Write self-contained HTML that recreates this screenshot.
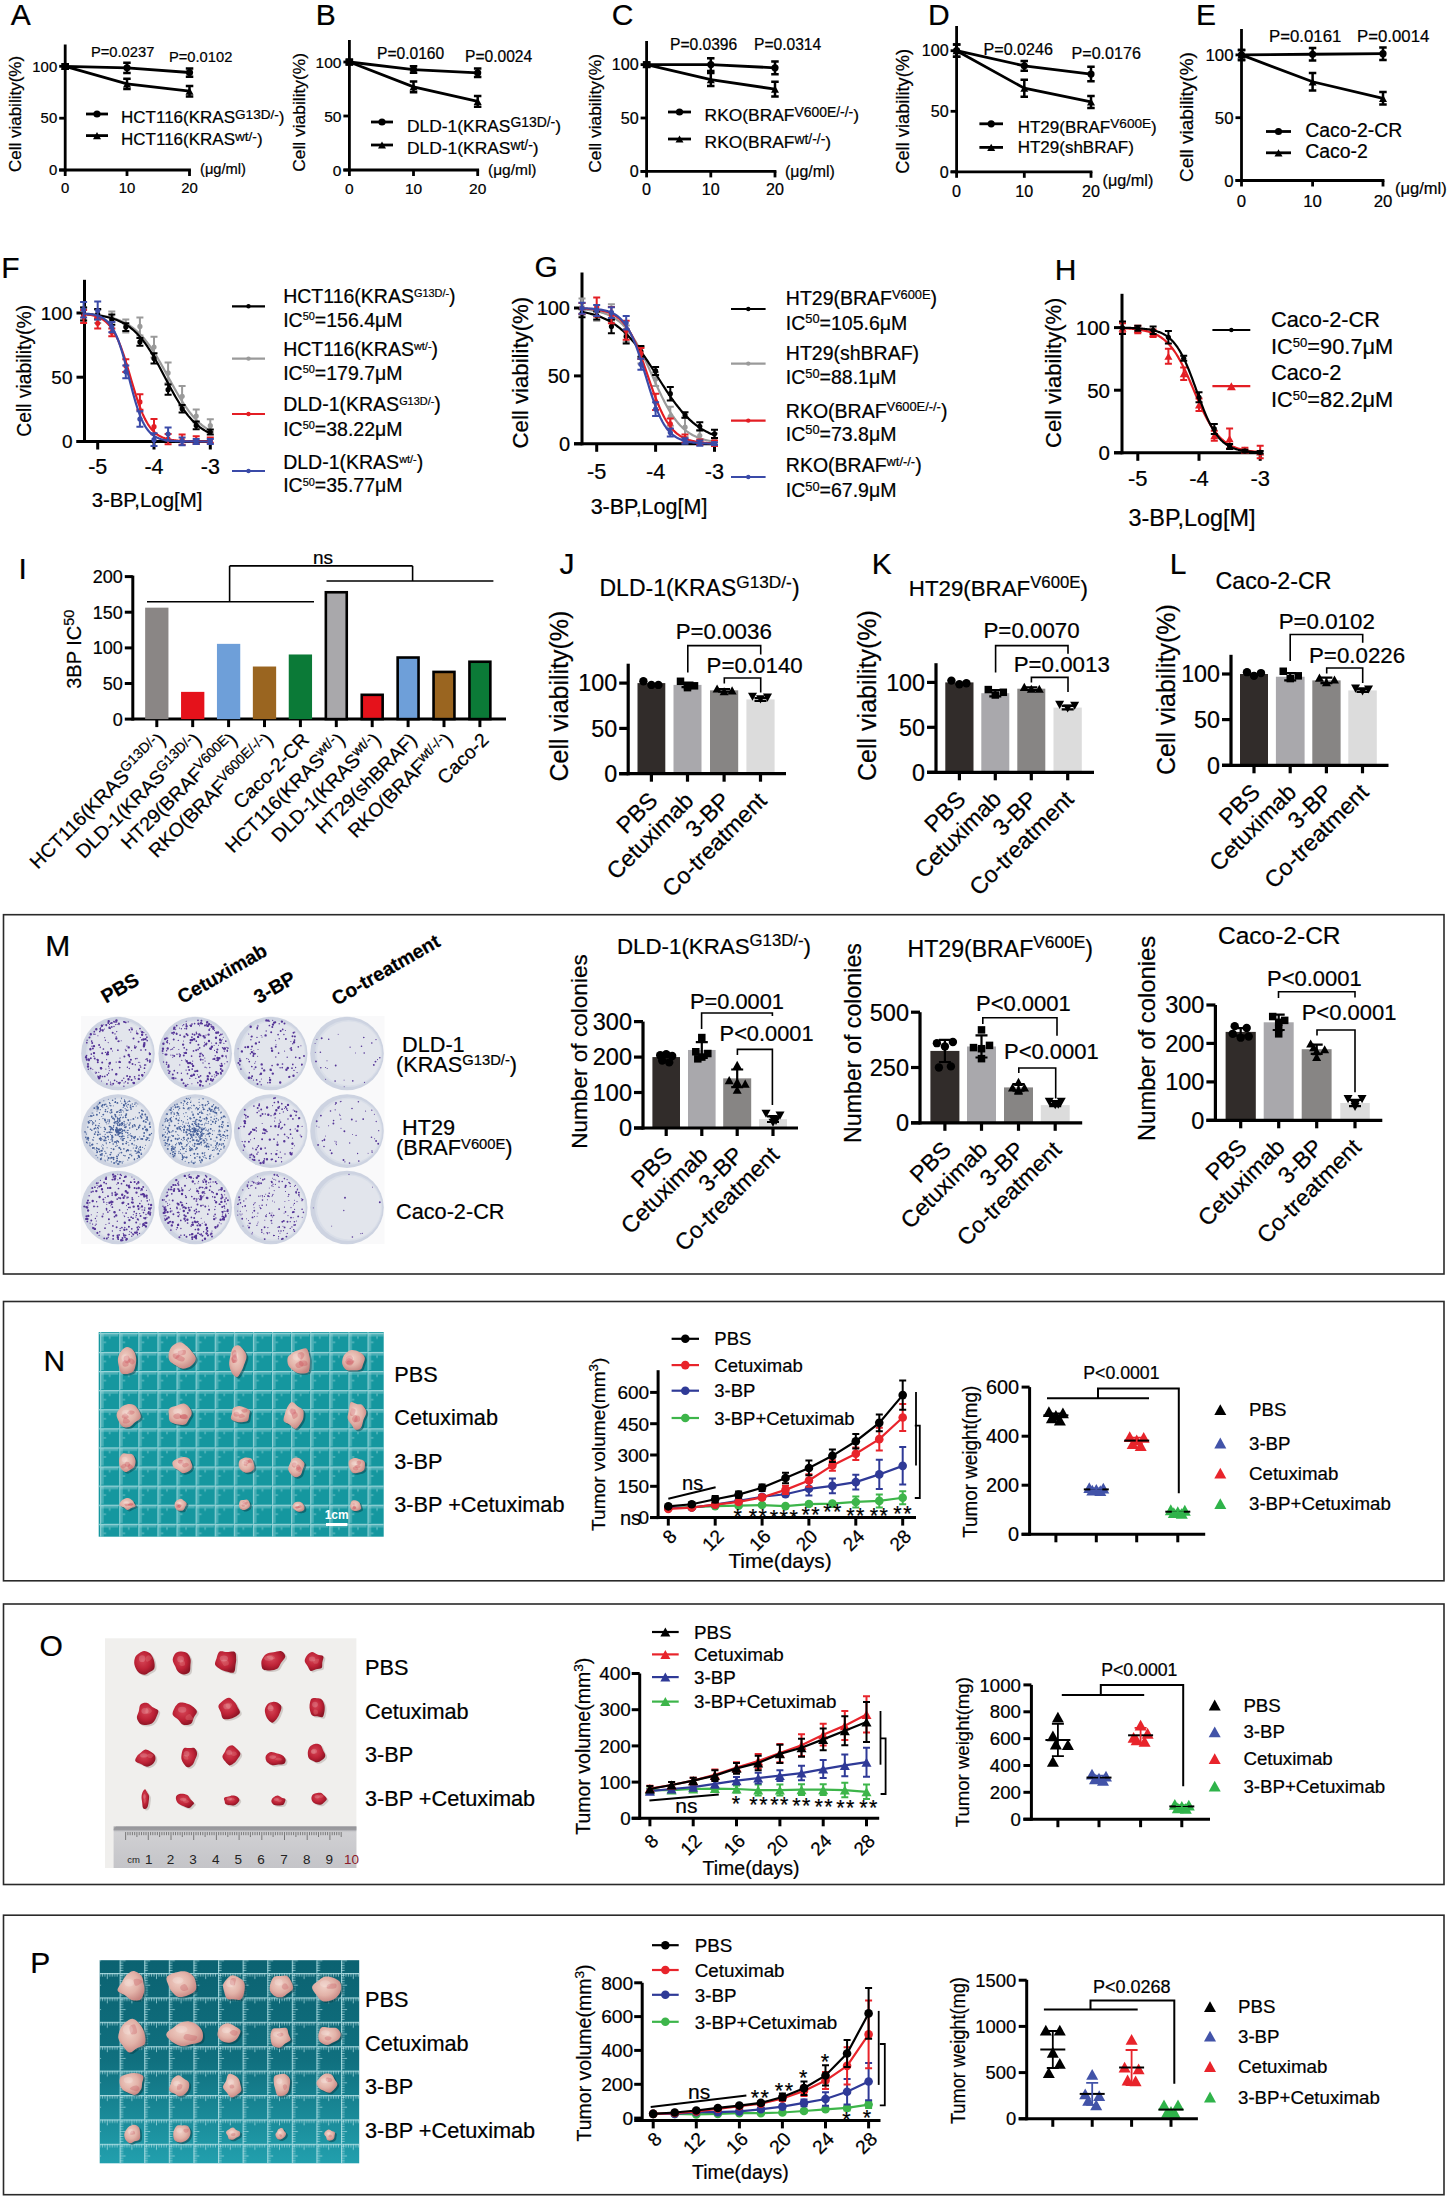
<!DOCTYPE html>
<html><head><meta charset="utf-8"><style>
html,body{margin:0;padding:0;background:#fff;}
svg{display:block;font-family:"Liberation Sans", sans-serif;}
</style></head><body>
<svg width="1449" height="2200" viewBox="0 0 1449 2200">
<rect width="1449" height="2200" fill="#fff"/>
<text x="10.80" y="24.60" font-size="30" stroke="#000" stroke-width="0.22">A</text>
<path d="M65.2 44.5L65.2 171.4" stroke="#000" stroke-width="2.8"/>
<path d="M59.2 170.0L190.9 170.0" stroke="#000" stroke-width="2.8"/>
<path d="M59.2 170.0L65.2 170.0" stroke="#000" stroke-width="2.8"/>
<text x="57.20" y="170.00" font-size="14.9" dy="5.33" text-anchor="end" stroke="#000" stroke-width="0.22">0</text>
<path d="M59.2 118.2L65.2 118.2" stroke="#000" stroke-width="2.8"/>
<text x="57.20" y="118.15" font-size="14.9" dy="5.33" text-anchor="end" stroke="#000" stroke-width="0.22">50</text>
<path d="M59.2 66.3L65.2 66.3" stroke="#000" stroke-width="2.8"/>
<text x="57.20" y="66.30" font-size="14.9" dy="5.33" text-anchor="end" stroke="#000" stroke-width="0.22">100</text>
<path d="M65.2 170.0L65.2 176.0" stroke="#000" stroke-width="2.8"/>
<text x="65.20" y="192.50" font-size="14.9" text-anchor="middle" stroke="#000" stroke-width="0.22">0</text>
<path d="M127.0 170.0L127.0 176.0" stroke="#000" stroke-width="2.8"/>
<text x="127.00" y="192.50" font-size="14.9" text-anchor="middle" stroke="#000" stroke-width="0.22">10</text>
<path d="M189.5 170.0L189.5 176.0" stroke="#000" stroke-width="2.8"/>
<text x="189.50" y="192.50" font-size="14.9" text-anchor="middle" stroke="#000" stroke-width="0.22">20</text>
<polyline points="65.20,66.30 127.00,67.86 189.50,72.52" fill="none" stroke="#000" stroke-width="2.8" stroke-linejoin="miter"/>
<path d="M65.2 64.2V68.4M61.5 64.2h7.5M61.5 68.4h7.5" stroke="#000" stroke-width="2.5" fill="none"/>
<circle cx="65.20" cy="66.30" r="3.60" fill="#000"/>
<path d="M127.0 62.7V73.0M123.2 62.7h7.5M123.2 73.0h7.5" stroke="#000" stroke-width="2.5" fill="none"/>
<circle cx="127.00" cy="67.86" r="3.60" fill="#000"/>
<path d="M189.5 68.4V76.7M185.8 68.4h7.5M185.8 76.7h7.5" stroke="#000" stroke-width="2.5" fill="none"/>
<circle cx="189.50" cy="72.52" r="3.60" fill="#000"/>
<polyline points="65.20,66.30 127.00,83.93 189.50,91.19" fill="none" stroke="#000" stroke-width="2.8" stroke-linejoin="miter"/>
<path d="M65.2 64.2V68.4M61.5 64.2h7.5M61.5 68.4h7.5" stroke="#000" stroke-width="2.5" fill="none"/>
<polygon points="61.20,69.90 69.20,69.90 65.20,62.70" fill="#000"/>
<path d="M127.0 78.7V89.1M123.2 78.7h7.5M123.2 89.1h7.5" stroke="#000" stroke-width="2.5" fill="none"/>
<polygon points="123.00,87.53 131.00,87.53 127.00,80.33" fill="#000"/>
<path d="M189.5 86.0V96.4M185.8 86.0h7.5M185.8 96.4h7.5" stroke="#000" stroke-width="2.5" fill="none"/>
<polygon points="185.50,94.79 193.50,94.79 189.50,87.59" fill="#000"/>
<text x="91.00" y="57.00" font-size="14.7" stroke="#000" stroke-width="0.22">P=0.0237</text>
<text x="169.00" y="62.10" font-size="14.7" stroke="#000" stroke-width="0.22">P=0.0102</text>
<path d="M86.0 114.0L108.0 114.0" stroke="#000" stroke-width="2.8"/>
<circle cx="97.00" cy="114.00" r="3.60" fill="#000"/>
<path d="M86.0 135.6L108.0 135.6" stroke="#000" stroke-width="2.8"/>
<polygon points="93.00,139.20 101.00,139.20 97.00,132.00" fill="#000"/>
<text x="121.00" y="123.20" font-size="17" stroke="#000" stroke-width="0.22">HCT116(KRAS<tspan dy="-4.08" font-size="13.6">G13D/-</tspan><tspan dy="4.08">)</tspan></text>
<text x="121.00" y="145.00" font-size="17" stroke="#000" stroke-width="0.22">HCT116(KRAS<tspan dy="-4.08" font-size="13.6">wt/-</tspan><tspan dy="4.08">)</tspan></text>
<text x="15.00" y="114.00" font-size="17" dy="6.09" text-anchor="middle" stroke="#000" stroke-width="0.22" transform="rotate(-90 15.00 114.00)">Cell viability(%)</text>
<text x="200.00" y="174.00" font-size="14.7" stroke="#000" stroke-width="0.22">(μg/ml)</text>
<text x="315.70" y="25.00" font-size="30" stroke="#000" stroke-width="0.22">B</text>
<path d="M349.4 40.0L349.4 171.4" stroke="#000" stroke-width="2.8"/>
<path d="M343.4 170.0L479.1 170.0" stroke="#000" stroke-width="2.8"/>
<path d="M343.4 170.0L349.4 170.0" stroke="#000" stroke-width="2.8"/>
<text x="341.40" y="170.00" font-size="15.5" dy="5.55" text-anchor="end" stroke="#000" stroke-width="0.22">0</text>
<path d="M343.4 116.0L349.4 116.0" stroke="#000" stroke-width="2.8"/>
<text x="341.40" y="116.00" font-size="15.5" dy="5.55" text-anchor="end" stroke="#000" stroke-width="0.22">50</text>
<path d="M343.4 62.0L349.4 62.0" stroke="#000" stroke-width="2.8"/>
<text x="341.40" y="62.00" font-size="15.5" dy="5.55" text-anchor="end" stroke="#000" stroke-width="0.22">100</text>
<path d="M349.4 170.0L349.4 176.0" stroke="#000" stroke-width="2.8"/>
<text x="349.40" y="193.60" font-size="15.5" text-anchor="middle" stroke="#000" stroke-width="0.22">0</text>
<path d="M413.5 170.0L413.5 176.0" stroke="#000" stroke-width="2.8"/>
<text x="413.50" y="193.60" font-size="15.5" text-anchor="middle" stroke="#000" stroke-width="0.22">10</text>
<path d="M477.7 170.0L477.7 176.0" stroke="#000" stroke-width="2.8"/>
<text x="477.70" y="193.60" font-size="15.5" text-anchor="middle" stroke="#000" stroke-width="0.22">20</text>
<polyline points="349.40,62.00 413.50,69.56 477.70,72.80" fill="none" stroke="#000" stroke-width="2.8" stroke-linejoin="miter"/>
<path d="M349.4 59.8V64.2M345.6 59.8h7.5M345.6 64.2h7.5" stroke="#000" stroke-width="2.5" fill="none"/>
<circle cx="349.40" cy="62.00" r="3.60" fill="#000"/>
<path d="M413.5 66.3V72.8M409.8 66.3h7.5M409.8 72.8h7.5" stroke="#000" stroke-width="2.5" fill="none"/>
<circle cx="413.50" cy="69.56" r="3.60" fill="#000"/>
<path d="M477.7 68.5V77.1M473.9 68.5h7.5M473.9 77.1h7.5" stroke="#000" stroke-width="2.5" fill="none"/>
<circle cx="477.70" cy="72.80" r="3.60" fill="#000"/>
<polyline points="349.40,62.00 413.50,86.84 477.70,101.42" fill="none" stroke="#000" stroke-width="2.8" stroke-linejoin="miter"/>
<path d="M349.4 59.8V64.2M345.6 59.8h7.5M345.6 64.2h7.5" stroke="#000" stroke-width="2.5" fill="none"/>
<polygon points="345.40,65.60 353.40,65.60 349.40,58.40" fill="#000"/>
<path d="M413.5 81.4V92.2M409.8 81.4h7.5M409.8 92.2h7.5" stroke="#000" stroke-width="2.5" fill="none"/>
<polygon points="409.50,90.44 417.50,90.44 413.50,83.24" fill="#000"/>
<path d="M477.7 96.0V106.8M473.9 96.0h7.5M473.9 106.8h7.5" stroke="#000" stroke-width="2.5" fill="none"/>
<polygon points="473.70,105.02 481.70,105.02 477.70,97.82" fill="#000"/>
<text x="377.00" y="59.00" font-size="15.6" stroke="#000" stroke-width="0.22">P=0.0160</text>
<text x="465.00" y="62.10" font-size="15.6" stroke="#000" stroke-width="0.22">P=0.0024</text>
<path d="M371.0 122.0L393.0 122.0" stroke="#000" stroke-width="2.8"/>
<circle cx="382.00" cy="122.00" r="3.60" fill="#000"/>
<path d="M371.0 145.0L393.0 145.0" stroke="#000" stroke-width="2.8"/>
<polygon points="378.00,148.60 386.00,148.60 382.00,141.40" fill="#000"/>
<text x="407.00" y="131.50" font-size="17.4" stroke="#000" stroke-width="0.22">DLD-1(KRAS<tspan dy="-4.18" font-size="13.92">G13D/-</tspan><tspan dy="4.18">)</tspan></text>
<text x="407.00" y="154.20" font-size="17.4" stroke="#000" stroke-width="0.22">DLD-1(KRAS<tspan dy="-4.18" font-size="13.92">wt/-</tspan><tspan dy="4.18">)</tspan></text>
<text x="298.60" y="112.30" font-size="17.4" dy="6.23" text-anchor="middle" stroke="#000" stroke-width="0.22" transform="rotate(-90 298.60 112.30)">Cell viability(%)</text>
<text x="488.00" y="175.00" font-size="15.5" stroke="#000" stroke-width="0.22">(μg/ml)</text>
<text x="611.80" y="25.00" font-size="30" stroke="#000" stroke-width="0.22">C</text>
<path d="M646.6 41.0L646.6 172.8" stroke="#000" stroke-width="2.8"/>
<path d="M640.6 171.4L776.4 171.4" stroke="#000" stroke-width="2.8"/>
<path d="M640.6 171.4L646.6 171.4" stroke="#000" stroke-width="2.8"/>
<text x="638.60" y="171.40" font-size="16.1" dy="5.76" text-anchor="end" stroke="#000" stroke-width="0.22">0</text>
<path d="M640.6 118.0L646.6 118.0" stroke="#000" stroke-width="2.8"/>
<text x="638.60" y="118.00" font-size="16.1" dy="5.76" text-anchor="end" stroke="#000" stroke-width="0.22">50</text>
<path d="M640.6 64.6L646.6 64.6" stroke="#000" stroke-width="2.8"/>
<text x="638.60" y="64.60" font-size="16.1" dy="5.76" text-anchor="end" stroke="#000" stroke-width="0.22">100</text>
<path d="M646.6 171.4L646.6 177.4" stroke="#000" stroke-width="2.8"/>
<text x="646.60" y="194.60" font-size="16.1" text-anchor="middle" stroke="#000" stroke-width="0.22">0</text>
<path d="M710.8 171.4L710.8 177.4" stroke="#000" stroke-width="2.8"/>
<text x="710.80" y="194.60" font-size="16.1" text-anchor="middle" stroke="#000" stroke-width="0.22">10</text>
<path d="M775.0 171.4L775.0 177.4" stroke="#000" stroke-width="2.8"/>
<text x="775.00" y="194.60" font-size="16.1" text-anchor="middle" stroke="#000" stroke-width="0.22">20</text>
<polyline points="646.60,64.60 710.80,64.60 775.00,67.80" fill="none" stroke="#000" stroke-width="2.8" stroke-linejoin="miter"/>
<path d="M646.6 62.5V66.7M642.9 62.5h7.5M642.9 66.7h7.5" stroke="#000" stroke-width="2.5" fill="none"/>
<circle cx="646.60" cy="64.60" r="3.60" fill="#000"/>
<path d="M710.8 58.2V71.0M707.0 58.2h7.5M707.0 71.0h7.5" stroke="#000" stroke-width="2.5" fill="none"/>
<circle cx="710.80" cy="64.60" r="3.60" fill="#000"/>
<path d="M775.0 61.4V74.2M771.2 61.4h7.5M771.2 74.2h7.5" stroke="#000" stroke-width="2.5" fill="none"/>
<circle cx="775.00" cy="67.80" r="3.60" fill="#000"/>
<polyline points="646.60,64.60 710.80,79.55 775.00,89.16" fill="none" stroke="#000" stroke-width="2.8" stroke-linejoin="miter"/>
<path d="M646.6 62.5V66.7M642.9 62.5h7.5M642.9 66.7h7.5" stroke="#000" stroke-width="2.5" fill="none"/>
<polygon points="642.60,68.20 650.60,68.20 646.60,61.00" fill="#000"/>
<path d="M710.8 73.1V86.0M707.0 73.1h7.5M707.0 86.0h7.5" stroke="#000" stroke-width="2.5" fill="none"/>
<polygon points="706.80,83.15 714.80,83.15 710.80,75.95" fill="#000"/>
<path d="M775.0 81.7V96.6M771.2 81.7h7.5M771.2 96.6h7.5" stroke="#000" stroke-width="2.5" fill="none"/>
<polygon points="771.00,92.76 779.00,92.76 775.00,85.56" fill="#000"/>
<text x="670.00" y="49.70" font-size="15.6" stroke="#000" stroke-width="0.22">P=0.0396</text>
<text x="754.00" y="49.70" font-size="15.6" stroke="#000" stroke-width="0.22">P=0.0314</text>
<path d="M668.0 112.0L691.0 112.0" stroke="#000" stroke-width="2.8"/>
<circle cx="679.50" cy="112.00" r="3.60" fill="#000"/>
<path d="M668.0 139.0L691.0 139.0" stroke="#000" stroke-width="2.8"/>
<polygon points="675.50,142.60 683.50,142.60 679.50,135.40" fill="#000"/>
<text x="704.60" y="121.10" font-size="17.4" stroke="#000" stroke-width="0.22">RKO(BRAF<tspan dy="-4.18" font-size="13.92">V600E/-/-</tspan><tspan dy="4.18">)</tspan></text>
<text x="704.60" y="148.00" font-size="17.4" stroke="#000" stroke-width="0.22">RKO(BRAF<tspan dy="-4.18" font-size="13.92">wt/-/-</tspan><tspan dy="4.18">)</tspan></text>
<text x="594.80" y="113.40" font-size="17.4" dy="6.23" text-anchor="middle" stroke="#000" stroke-width="0.22" transform="rotate(-90 594.80 113.40)">Cell viability(%)</text>
<text x="785.00" y="177.00" font-size="15.9" stroke="#000" stroke-width="0.22">(μg/ml)</text>
<text x="928.00" y="25.00" font-size="30" stroke="#000" stroke-width="0.22">D</text>
<path d="M956.6 26.0L956.6 173.2" stroke="#000" stroke-width="2.8"/>
<path d="M950.6 171.8L1092.4 171.8" stroke="#000" stroke-width="2.8"/>
<path d="M950.6 171.8L956.6 171.8" stroke="#000" stroke-width="2.8"/>
<text x="948.60" y="171.80" font-size="16.1" dy="5.76" text-anchor="end" stroke="#000" stroke-width="0.22">0</text>
<path d="M950.6 111.3L956.6 111.3" stroke="#000" stroke-width="2.8"/>
<text x="948.60" y="111.25" font-size="16.1" dy="5.76" text-anchor="end" stroke="#000" stroke-width="0.22">50</text>
<path d="M950.6 50.7L956.6 50.7" stroke="#000" stroke-width="2.8"/>
<text x="948.60" y="50.70" font-size="16.1" dy="5.76" text-anchor="end" stroke="#000" stroke-width="0.22">100</text>
<path d="M956.6 171.8L956.6 177.8" stroke="#000" stroke-width="2.8"/>
<text x="956.60" y="196.70" font-size="16.1" text-anchor="middle" stroke="#000" stroke-width="0.22">0</text>
<path d="M1024.3 171.8L1024.3 177.8" stroke="#000" stroke-width="2.8"/>
<text x="1024.30" y="196.70" font-size="16.1" text-anchor="middle" stroke="#000" stroke-width="0.22">10</text>
<path d="M1091.0 171.8L1091.0 177.8" stroke="#000" stroke-width="2.8"/>
<text x="1091.00" y="196.70" font-size="16.1" text-anchor="middle" stroke="#000" stroke-width="0.22">20</text>
<polyline points="956.60,50.70 1024.30,65.84 1091.00,74.07" fill="none" stroke="#000" stroke-width="2.8" stroke-linejoin="miter"/>
<path d="M956.6 44.6V56.8M952.9 44.6h7.5M952.9 56.8h7.5" stroke="#000" stroke-width="2.5" fill="none"/>
<circle cx="956.60" cy="50.70" r="3.60" fill="#000"/>
<path d="M1024.3 61.0V70.7M1020.5 61.0h7.5M1020.5 70.7h7.5" stroke="#000" stroke-width="2.5" fill="none"/>
<circle cx="1024.30" cy="65.84" r="3.60" fill="#000"/>
<path d="M1091.0 66.8V81.3M1087.2 66.8h7.5M1087.2 81.3h7.5" stroke="#000" stroke-width="2.5" fill="none"/>
<circle cx="1091.00" cy="74.07" r="3.60" fill="#000"/>
<polyline points="956.60,50.70 1024.30,88.24 1091.00,101.93" fill="none" stroke="#000" stroke-width="2.8" stroke-linejoin="miter"/>
<path d="M956.6 44.6V56.8M952.9 44.6h7.5M952.9 56.8h7.5" stroke="#000" stroke-width="2.5" fill="none"/>
<polygon points="952.60,54.30 960.60,54.30 956.60,47.10" fill="#000"/>
<path d="M1024.3 79.8V96.7M1020.5 79.8h7.5M1020.5 96.7h7.5" stroke="#000" stroke-width="2.5" fill="none"/>
<polygon points="1020.30,91.84 1028.30,91.84 1024.30,84.64" fill="#000"/>
<path d="M1091.0 95.9V108.0M1087.2 95.9h7.5M1087.2 108.0h7.5" stroke="#000" stroke-width="2.5" fill="none"/>
<polygon points="1087.00,105.53 1095.00,105.53 1091.00,98.33" fill="#000"/>
<text x="983.50" y="54.90" font-size="16.1" stroke="#000" stroke-width="0.22">P=0.0246</text>
<text x="1071.50" y="59.00" font-size="16.1" stroke="#000" stroke-width="0.22">P=0.0176</text>
<path d="M979.4 123.8L1003.0 123.8" stroke="#000" stroke-width="2.8"/>
<circle cx="991.20" cy="123.80" r="3.60" fill="#000"/>
<path d="M979.4 147.4L1003.0 147.4" stroke="#000" stroke-width="2.8"/>
<polygon points="987.20,151.00 995.20,151.00 991.20,143.80" fill="#000"/>
<text x="1017.70" y="132.50" font-size="17.0" stroke="#000" stroke-width="0.22">HT29(BRAF<tspan dy="-4.08" font-size="13.6">V600E</tspan><tspan dy="4.08">)</tspan></text>
<text x="1017.70" y="153.20" font-size="17.0" stroke="#000" stroke-width="0.22">HT29(shBRAF)</text>
<text x="902.80" y="111.30" font-size="18.3" dy="6.55" text-anchor="middle" stroke="#000" stroke-width="0.22" transform="rotate(-90 902.80 111.30)">Cell viability(%)</text>
<text x="1102.60" y="186.00" font-size="16.2" stroke="#000" stroke-width="0.22">(μg/ml)</text>
<text x="1196.00" y="25.00" font-size="30" stroke="#000" stroke-width="0.22">E</text>
<path d="M1241.5 29.0L1241.5 181.9" stroke="#000" stroke-width="2.8"/>
<path d="M1235.5 180.5L1384.4 180.5" stroke="#000" stroke-width="2.8"/>
<path d="M1235.5 180.5L1241.5 180.5" stroke="#000" stroke-width="2.8"/>
<text x="1233.50" y="180.50" font-size="16.8" dy="6.01" text-anchor="end" stroke="#000" stroke-width="0.22">0</text>
<path d="M1235.5 117.7L1241.5 117.7" stroke="#000" stroke-width="2.8"/>
<text x="1233.50" y="117.70" font-size="16.8" dy="6.01" text-anchor="end" stroke="#000" stroke-width="0.22">50</text>
<path d="M1235.5 54.9L1241.5 54.9" stroke="#000" stroke-width="2.8"/>
<text x="1233.50" y="54.90" font-size="16.8" dy="6.01" text-anchor="end" stroke="#000" stroke-width="0.22">100</text>
<path d="M1241.5 180.5L1241.5 186.5" stroke="#000" stroke-width="2.8"/>
<text x="1241.50" y="207.00" font-size="16.8" text-anchor="middle" stroke="#000" stroke-width="0.22">0</text>
<path d="M1312.6 180.5L1312.6 186.5" stroke="#000" stroke-width="2.8"/>
<text x="1312.60" y="207.00" font-size="16.8" text-anchor="middle" stroke="#000" stroke-width="0.22">10</text>
<path d="M1383.0 180.5L1383.0 186.5" stroke="#000" stroke-width="2.8"/>
<text x="1383.00" y="207.00" font-size="16.8" text-anchor="middle" stroke="#000" stroke-width="0.22">20</text>
<polyline points="1241.50,54.90 1312.60,54.27 1383.00,53.64" fill="none" stroke="#000" stroke-width="2.8" stroke-linejoin="miter"/>
<path d="M1241.5 49.9V59.9M1237.8 49.9h7.5M1237.8 59.9h7.5" stroke="#000" stroke-width="2.5" fill="none"/>
<circle cx="1241.50" cy="54.90" r="3.60" fill="#000"/>
<path d="M1312.6 48.0V60.6M1308.8 48.0h7.5M1308.8 60.6h7.5" stroke="#000" stroke-width="2.5" fill="none"/>
<circle cx="1312.60" cy="54.27" r="3.60" fill="#000"/>
<path d="M1383.0 47.4V59.9M1379.2 47.4h7.5M1379.2 59.9h7.5" stroke="#000" stroke-width="2.5" fill="none"/>
<circle cx="1383.00" cy="53.64" r="3.60" fill="#000"/>
<polyline points="1241.50,54.90 1312.60,81.78 1383.00,98.36" fill="none" stroke="#000" stroke-width="2.8" stroke-linejoin="miter"/>
<path d="M1241.5 49.9V59.9M1237.8 49.9h7.5M1237.8 59.9h7.5" stroke="#000" stroke-width="2.5" fill="none"/>
<polygon points="1237.50,58.50 1245.50,58.50 1241.50,51.30" fill="#000"/>
<path d="M1312.6 73.0V90.6M1308.8 73.0h7.5M1308.8 90.6h7.5" stroke="#000" stroke-width="2.5" fill="none"/>
<polygon points="1308.60,85.38 1316.60,85.38 1312.60,78.18" fill="#000"/>
<path d="M1383.0 92.1V104.6M1379.2 92.1h7.5M1379.2 104.6h7.5" stroke="#000" stroke-width="2.5" fill="none"/>
<polygon points="1379.00,101.96 1387.00,101.96 1383.00,94.76" fill="#000"/>
<text x="1269.00" y="42.40" font-size="16.8" stroke="#000" stroke-width="0.22">P=0.0161</text>
<text x="1357.00" y="42.40" font-size="16.8" stroke="#000" stroke-width="0.22">P=0.0014</text>
<path d="M1266.0 131.5L1291.0 131.5" stroke="#000" stroke-width="2.8"/>
<circle cx="1278.50" cy="131.50" r="3.60" fill="#000"/>
<path d="M1266.0 152.8L1291.0 152.8" stroke="#000" stroke-width="2.8"/>
<polygon points="1274.50,156.40 1282.50,156.40 1278.50,149.20" fill="#000"/>
<text x="1305.30" y="136.60" font-size="19.4" stroke="#000" stroke-width="0.22">Caco-2-CR</text>
<text x="1305.30" y="158.40" font-size="19.4" stroke="#000" stroke-width="0.22">Caco-2</text>
<text x="1186.30" y="117.00" font-size="19" dy="6.80" text-anchor="middle" stroke="#000" stroke-width="0.22" transform="rotate(-90 1186.30 117.00)">Cell viability(%)</text>
<text x="1395.00" y="194.00" font-size="16.5" stroke="#000" stroke-width="0.22">(μg/ml)</text>
<text x="1.30" y="278.00" font-size="30" stroke="#000" stroke-width="0.22">F</text>
<path d="M84.5 279.8L84.5 443.0" stroke="#000" stroke-width="3.0"/>
<path d="M76.5 441.5L211.8 441.5" stroke="#000" stroke-width="3.0"/>
<path d="M76.5 441.5L84.5 441.5" stroke="#000" stroke-width="3.0"/>
<text x="72.50" y="441.50" font-size="19" dy="6.80" text-anchor="end" stroke="#000" stroke-width="0.22">0</text>
<path d="M76.5 377.2L84.5 377.2" stroke="#000" stroke-width="3.0"/>
<text x="72.50" y="377.25" font-size="19" dy="6.80" text-anchor="end" stroke="#000" stroke-width="0.22">50</text>
<path d="M76.5 313.0L84.5 313.0" stroke="#000" stroke-width="3.0"/>
<text x="72.50" y="313.00" font-size="19" dy="6.80" text-anchor="end" stroke="#000" stroke-width="0.22">100</text>
<path d="M97.7 441.5L97.7 449.5" stroke="#000" stroke-width="3.0"/>
<text x="97.70" y="474.20" font-size="21.5" text-anchor="middle" stroke="#000" stroke-width="0.22">-5</text>
<path d="M154.0 441.5L154.0 449.5" stroke="#000" stroke-width="3.0"/>
<text x="154.00" y="474.20" font-size="21.5" text-anchor="middle" stroke="#000" stroke-width="0.22">-4</text>
<path d="M210.3 441.5L210.3 449.5" stroke="#000" stroke-width="3.0"/>
<text x="210.30" y="474.20" font-size="21.5" text-anchor="middle" stroke="#000" stroke-width="0.22">-3</text>
<polyline points="83.62,314.00 84.68,314.06 85.74,314.12 86.79,314.19 87.85,314.27 88.90,314.34 89.96,314.43 91.01,314.52 92.07,314.61 93.13,314.71 94.18,314.81 95.24,314.92 96.29,315.04 97.35,315.17 98.40,315.30 99.46,315.44 100.51,315.59 101.57,315.75 102.63,315.91 103.68,316.09 104.74,316.28 105.79,316.48 106.85,316.69 107.90,316.91 108.96,317.15 110.02,317.40 111.07,317.66 112.13,317.94 113.18,318.23 114.24,318.55 115.29,318.88 116.35,319.22 117.40,319.59 118.46,319.98 119.52,320.39 120.57,320.82 121.63,321.28 122.68,321.76 123.74,322.27 124.79,322.80 125.85,323.36 126.91,323.95 127.96,324.57 129.02,325.22 130.07,325.91 131.13,326.63 132.18,327.38 133.24,328.17 134.30,329.00 135.35,329.87 136.41,330.77 137.46,331.72 138.52,332.71 139.57,333.74 140.63,334.81 141.68,335.93 142.74,337.09 143.80,338.29 144.85,339.54 145.91,340.84 146.96,342.18 148.02,343.56 149.07,344.99 150.13,346.47 151.19,347.98 152.24,349.54 153.30,351.15 154.35,352.79 155.41,354.47 156.46,356.18 157.52,357.93 158.57,359.71 159.63,361.52 160.69,363.36 161.74,365.23 162.80,367.11 163.85,369.01 164.91,370.93 165.96,372.86 167.02,374.79 168.07,376.73 169.13,378.67 170.19,380.61 171.24,382.55 172.30,384.47 173.35,386.38 174.41,388.27 175.46,390.15 176.52,392.00 177.58,393.82 178.63,395.62 179.69,397.39 180.74,399.12 181.80,400.82 182.85,402.48 183.91,404.11 184.96,405.69 186.02,407.23 187.08,408.73 188.13,410.18 189.19,411.59 190.24,412.95 191.30,414.27 192.35,415.55 193.41,416.78 194.47,417.96 195.52,419.10 196.58,420.20 197.63,421.25 198.69,422.26 199.74,423.23 200.80,424.15 201.86,425.04 202.91,425.89 203.97,426.70 205.02,427.47 206.08,428.21 207.13,428.91 208.19,429.58 209.24,430.22 210.30,430.83" fill="none" stroke="#9a9a9a" stroke-width="2.2" stroke-linejoin="round"/>
<path d="M83.6 307.6V320.4M80.1 307.6h7.0M80.1 320.4h7.0" stroke="#9a9a9a" stroke-width="2.0" fill="none"/>
<circle cx="83.62" cy="314.00" r="2.60" fill="#9a9a9a"/>
<path d="M97.7 310.1V322.9M94.2 310.1h7.0M94.2 322.9h7.0" stroke="#9a9a9a" stroke-width="2.0" fill="none"/>
<circle cx="97.70" cy="316.49" r="2.60" fill="#9a9a9a"/>
<path d="M111.8 311.4V321.7M108.3 311.4h7.0M108.3 321.7h7.0" stroke="#9a9a9a" stroke-width="2.0" fill="none"/>
<circle cx="111.78" cy="316.56" r="2.60" fill="#9a9a9a"/>
<path d="M125.8 319.5V332.4M122.3 319.5h7.0M122.3 332.4h7.0" stroke="#9a9a9a" stroke-width="2.0" fill="none"/>
<circle cx="125.85" cy="325.93" r="2.60" fill="#9a9a9a"/>
<path d="M139.9 317.4V335.4M136.4 317.4h7.0M136.4 335.4h7.0" stroke="#9a9a9a" stroke-width="2.0" fill="none"/>
<circle cx="139.93" cy="326.38" r="2.60" fill="#9a9a9a"/>
<path d="M154.0 336.8V357.4M150.5 336.8h7.0M150.5 357.4h7.0" stroke="#9a9a9a" stroke-width="2.0" fill="none"/>
<circle cx="154.00" cy="347.10" r="2.60" fill="#9a9a9a"/>
<path d="M168.1 362.6V383.2M164.6 362.6h7.0M164.6 383.2h7.0" stroke="#9a9a9a" stroke-width="2.0" fill="none"/>
<circle cx="168.07" cy="372.88" r="2.60" fill="#9a9a9a"/>
<path d="M182.1 386.0V406.5M178.6 386.0h7.0M178.6 406.5h7.0" stroke="#9a9a9a" stroke-width="2.0" fill="none"/>
<circle cx="182.15" cy="396.24" r="2.60" fill="#9a9a9a"/>
<path d="M196.2 409.6V422.4M192.7 409.6h7.0M192.7 422.4h7.0" stroke="#9a9a9a" stroke-width="2.0" fill="none"/>
<circle cx="196.22" cy="415.98" r="2.60" fill="#9a9a9a"/>
<path d="M210.3 419.3V432.1M206.8 419.3h7.0M206.8 432.1h7.0" stroke="#9a9a9a" stroke-width="2.0" fill="none"/>
<circle cx="210.30" cy="425.69" r="2.60" fill="#9a9a9a"/>
<polyline points="83.62,314.03 84.68,314.09 85.74,314.16 86.79,314.24 87.85,314.32 88.90,314.40 89.96,314.49 91.01,314.58 92.07,314.69 93.13,314.79 94.18,314.91 95.24,315.03 96.29,315.16 97.35,315.29 98.40,315.44 99.46,315.59 100.51,315.76 101.57,315.93 102.63,316.12 103.68,316.31 104.74,316.52 105.79,316.74 106.85,316.98 107.90,317.23 108.96,317.49 110.02,317.77 111.07,318.06 112.13,318.38 113.18,318.71 114.24,319.06 115.29,319.43 116.35,319.83 117.40,320.24 118.46,320.68 119.52,321.15 120.57,321.64 121.63,322.16 122.68,322.70 123.74,323.28 124.79,323.89 125.85,324.53 126.91,325.20 127.96,325.91 129.02,326.66 130.07,327.44 131.13,328.26 132.18,329.12 133.24,330.03 134.30,330.97 135.35,331.96 136.41,333.00 137.46,334.08 138.52,335.21 139.57,336.38 140.63,337.60 141.68,338.87 142.74,340.19 143.80,341.55 144.85,342.97 145.91,344.43 146.96,345.94 148.02,347.50 149.07,349.10 150.13,350.75 151.19,352.44 152.24,354.17 153.30,355.94 154.35,357.75 155.41,359.59 156.46,361.46 157.52,363.37 158.57,365.30 159.63,367.25 160.69,369.22 161.74,371.21 162.80,373.21 163.85,375.21 164.91,377.22 165.96,379.23 167.02,381.24 168.07,383.24 169.13,385.23 170.19,387.20 171.24,389.15 172.30,391.08 173.35,392.99 174.41,394.86 175.46,396.70 176.52,398.51 177.58,400.29 178.63,402.02 179.69,403.71 180.74,405.36 181.80,406.96 182.85,408.52 183.91,410.03 184.96,411.49 186.02,412.91 187.08,414.28 188.13,415.60 189.19,416.87 190.24,418.09 191.30,419.26 192.35,420.39 193.41,421.47 194.47,422.51 195.52,423.50 196.58,424.45 197.63,425.35 198.69,426.21 199.74,427.04 200.80,427.82 201.86,428.57 202.91,429.28 203.97,429.95 205.02,430.59 206.08,431.20 207.13,431.78 208.19,432.33 209.24,432.85 210.30,433.34" fill="none" stroke="#000" stroke-width="2.2" stroke-linejoin="round"/>
<path d="M83.6 307.6V320.5M80.1 307.6h7.0M80.1 320.5h7.0" stroke="#000" stroke-width="2.0" fill="none"/>
<circle cx="83.62" cy="314.03" r="2.60" fill="#000"/>
<path d="M97.7 308.9V319.2M94.2 308.9h7.0M94.2 319.2h7.0" stroke="#000" stroke-width="2.0" fill="none"/>
<circle cx="97.70" cy="314.06" r="2.60" fill="#000"/>
<path d="M111.8 314.4V324.7M108.3 314.4h7.0M108.3 324.7h7.0" stroke="#000" stroke-width="2.0" fill="none"/>
<circle cx="111.78" cy="319.56" r="2.60" fill="#000"/>
<path d="M125.8 323.2V331.0M122.3 323.2h7.0M122.3 331.0h7.0" stroke="#000" stroke-width="2.0" fill="none"/>
<circle cx="125.85" cy="327.10" r="2.60" fill="#000"/>
<path d="M139.9 338.1V345.8M136.4 338.1h7.0M136.4 345.8h7.0" stroke="#000" stroke-width="2.0" fill="none"/>
<circle cx="139.93" cy="341.92" r="2.60" fill="#000"/>
<path d="M154.0 353.3V363.6M150.5 353.3h7.0M150.5 363.6h7.0" stroke="#000" stroke-width="2.0" fill="none"/>
<circle cx="154.00" cy="358.43" r="2.60" fill="#000"/>
<path d="M168.1 384.5V394.8M164.6 384.5h7.0M164.6 394.8h7.0" stroke="#000" stroke-width="2.0" fill="none"/>
<circle cx="168.07" cy="389.66" r="2.60" fill="#000"/>
<path d="M182.1 404.9V412.6M178.6 404.9h7.0M178.6 412.6h7.0" stroke="#000" stroke-width="2.0" fill="none"/>
<circle cx="182.15" cy="408.77" r="2.60" fill="#000"/>
<path d="M196.2 421.6V429.3M192.7 421.6h7.0M192.7 429.3h7.0" stroke="#000" stroke-width="2.0" fill="none"/>
<circle cx="196.22" cy="425.42" r="2.60" fill="#000"/>
<path d="M210.3 429.5V434.6M206.8 429.5h7.0M206.8 434.6h7.0" stroke="#000" stroke-width="2.0" fill="none"/>
<circle cx="210.30" cy="432.05" r="2.60" fill="#000"/>
<polyline points="83.62,313.88 84.68,313.98 85.74,314.10 86.79,314.22 87.85,314.37 88.90,314.53 89.96,314.71 91.01,314.91 92.07,315.13 93.13,315.38 94.18,315.66 95.24,315.96 96.29,316.31 97.35,316.69 98.40,317.11 99.46,317.58 100.51,318.11 101.57,318.69 102.63,319.33 103.68,320.04 104.74,320.82 105.79,321.69 106.85,322.65 107.90,323.70 108.96,324.85 110.02,326.11 111.07,327.50 112.13,329.00 113.18,330.64 114.24,332.42 115.29,334.35 116.35,336.42 117.40,338.65 118.46,341.03 119.52,343.57 120.57,346.26 121.63,349.10 122.68,352.08 123.74,355.20 124.79,358.44 125.85,361.79 126.91,365.23 127.96,368.74 129.02,372.31 130.07,375.90 131.13,379.51 132.18,383.10 133.24,386.65 134.30,390.15 135.35,393.57 136.41,396.89 137.46,400.10 138.52,403.19 139.57,406.14 140.63,408.94 141.68,411.59 142.74,414.09 143.80,416.43 144.85,418.62 145.91,420.66 146.96,422.54 148.02,424.29 149.07,425.89 150.13,427.37 151.19,428.72 152.24,429.95 153.30,431.08 154.35,432.11 155.41,433.04 156.46,433.88 157.52,434.65 158.57,435.34 159.63,435.97 160.69,436.53 161.74,437.04 162.80,437.50 163.85,437.91 164.91,438.28 165.96,438.62 167.02,438.92 168.07,439.19 169.13,439.43 170.19,439.65 171.24,439.84 172.30,440.01 173.35,440.17 174.41,440.31 175.46,440.44 176.52,440.55 177.58,440.65 178.63,440.74 179.69,440.82 180.74,440.89 181.80,440.95 182.85,441.01 183.91,441.06 184.96,441.11 186.02,441.15 187.08,441.19 188.13,441.22 189.19,441.25 190.24,441.28 191.30,441.30 192.35,441.32 193.41,441.34 194.47,441.36 195.52,441.37 196.58,441.39 197.63,441.40 198.69,441.41 199.74,441.42 200.80,441.43 201.86,441.44 202.91,441.44 203.97,441.45 205.02,441.45 206.08,441.46 207.13,441.46 208.19,441.47 209.24,441.47 210.30,441.47" fill="none" stroke="#e31e24" stroke-width="2.2" stroke-linejoin="round"/>
<path d="M83.6 310.0V322.9M80.1 310.0h7.0M80.1 322.9h7.0" stroke="#e31e24" stroke-width="2.0" fill="none"/>
<circle cx="83.62" cy="316.45" r="2.60" fill="#e31e24"/>
<path d="M97.7 318.1V328.4M94.2 318.1h7.0M94.2 328.4h7.0" stroke="#e31e24" stroke-width="2.0" fill="none"/>
<circle cx="97.70" cy="323.25" r="2.60" fill="#e31e24"/>
<path d="M111.8 328.5V336.2M108.3 328.5h7.0M108.3 336.2h7.0" stroke="#e31e24" stroke-width="2.0" fill="none"/>
<circle cx="111.78" cy="332.34" r="2.60" fill="#e31e24"/>
<path d="M125.8 359.2V372.1M122.3 359.2h7.0M122.3 372.1h7.0" stroke="#e31e24" stroke-width="2.0" fill="none"/>
<circle cx="125.85" cy="365.64" r="2.60" fill="#e31e24"/>
<path d="M139.9 394.2V409.7M136.4 394.2h7.0M136.4 409.7h7.0" stroke="#e31e24" stroke-width="2.0" fill="none"/>
<circle cx="139.93" cy="401.95" r="2.60" fill="#e31e24"/>
<path d="M154.0 418.9V434.3M150.5 418.9h7.0M150.5 434.3h7.0" stroke="#e31e24" stroke-width="2.0" fill="none"/>
<circle cx="154.00" cy="426.63" r="2.60" fill="#e31e24"/>
<path d="M168.1 434.0V444.3M164.6 434.0h7.0M164.6 444.3h7.0" stroke="#e31e24" stroke-width="2.0" fill="none"/>
<circle cx="168.07" cy="439.19" r="2.60" fill="#e31e24"/>
<path d="M182.1 434.5V444.8M178.6 434.5h7.0M178.6 444.8h7.0" stroke="#e31e24" stroke-width="2.0" fill="none"/>
<circle cx="182.15" cy="439.69" r="2.60" fill="#e31e24"/>
<path d="M196.2 436.2V444.0M192.7 436.2h7.0M192.7 444.0h7.0" stroke="#e31e24" stroke-width="2.0" fill="none"/>
<circle cx="196.22" cy="440.10" r="2.60" fill="#e31e24"/>
<path d="M210.3 437.6V442.8M206.8 437.6h7.0M206.8 442.8h7.0" stroke="#e31e24" stroke-width="2.0" fill="none"/>
<circle cx="210.30" cy="440.19" r="2.60" fill="#e31e24"/>
<polyline points="83.62,313.50 84.68,313.56 85.74,313.64 86.79,313.73 87.85,313.83 88.90,313.94 89.96,314.07 91.01,314.22 92.07,314.39 93.13,314.58 94.18,314.79 95.24,315.04 96.29,315.31 97.35,315.63 98.40,315.98 99.46,316.38 100.51,316.83 101.57,317.35 102.63,317.93 103.68,318.58 104.74,319.31 105.79,320.13 106.85,321.06 107.90,322.09 108.96,323.25 110.02,324.54 111.07,325.98 112.13,327.57 113.18,329.33 114.24,331.26 115.29,333.39 116.35,335.71 117.40,338.23 118.46,340.96 119.52,343.90 120.57,347.04 121.63,350.38 122.68,353.90 123.74,357.60 124.79,361.44 125.85,365.40 126.91,369.47 127.96,373.59 129.02,377.75 130.07,381.90 131.13,386.02 132.18,390.06 133.24,394.00 134.30,397.81 135.35,401.46 136.41,404.94 137.46,408.23 138.52,411.32 139.57,414.21 140.63,416.89 141.68,419.37 142.74,421.64 143.80,423.72 144.85,425.61 145.91,427.33 146.96,428.88 148.02,430.28 149.07,431.54 150.13,432.66 151.19,433.67 152.24,434.57 153.30,435.37 154.35,436.09 155.41,436.72 156.46,437.28 157.52,437.78 158.57,438.22 159.63,438.61 160.69,438.95 161.74,439.26 162.80,439.53 163.85,439.76 164.91,439.97 165.96,440.15 167.02,440.32 168.07,440.46 169.13,440.58 170.19,440.70 171.24,440.79 172.30,440.88 173.35,440.95 174.41,441.02 175.46,441.08 176.52,441.13 177.58,441.17 178.63,441.21 179.69,441.25 180.74,441.28 181.80,441.31 182.85,441.33 183.91,441.35 184.96,441.37 186.02,441.38 187.08,441.40 188.13,441.41 189.19,441.42 190.24,441.43 191.30,441.44 192.35,441.45 193.41,441.45 194.47,441.46 195.52,441.46 196.58,441.47 197.63,441.47 198.69,441.48 199.74,441.48 200.80,441.48 201.86,441.48 202.91,441.49 203.97,441.49 205.02,441.49 206.08,441.49 207.13,441.49 208.19,441.49 209.24,441.49 210.30,441.49" fill="none" stroke="#3a4aa8" stroke-width="2.2" stroke-linejoin="round"/>
<path d="M83.6 301.9V317.4M80.1 301.9h7.0M80.1 317.4h7.0" stroke="#3a4aa8" stroke-width="2.0" fill="none"/>
<circle cx="83.62" cy="309.64" r="2.60" fill="#3a4aa8"/>
<path d="M97.7 301.6V319.6M94.2 301.6h7.0M94.2 319.6h7.0" stroke="#3a4aa8" stroke-width="2.0" fill="none"/>
<circle cx="97.70" cy="310.60" r="2.60" fill="#3a4aa8"/>
<path d="M111.8 321.9V332.2M108.3 321.9h7.0M108.3 332.2h7.0" stroke="#3a4aa8" stroke-width="2.0" fill="none"/>
<circle cx="111.78" cy="327.02" r="2.60" fill="#3a4aa8"/>
<path d="M125.8 365.4V378.3M122.3 365.4h7.0M122.3 378.3h7.0" stroke="#3a4aa8" stroke-width="2.0" fill="none"/>
<circle cx="125.85" cy="371.83" r="2.60" fill="#3a4aa8"/>
<path d="M139.9 411.3V426.7M136.4 411.3h7.0M136.4 426.7h7.0" stroke="#3a4aa8" stroke-width="2.0" fill="none"/>
<circle cx="139.93" cy="418.98" r="2.60" fill="#3a4aa8"/>
<path d="M154.0 433.3V446.1M150.5 433.3h7.0M150.5 446.1h7.0" stroke="#3a4aa8" stroke-width="2.0" fill="none"/>
<circle cx="154.00" cy="439.71" r="2.60" fill="#3a4aa8"/>
<path d="M168.1 427.6V440.5M164.6 427.6h7.0M164.6 440.5h7.0" stroke="#3a4aa8" stroke-width="2.0" fill="none"/>
<circle cx="168.07" cy="434.03" r="2.60" fill="#3a4aa8"/>
<path d="M182.1 437.5V445.2M178.6 437.5h7.0M178.6 445.2h7.0" stroke="#3a4aa8" stroke-width="2.0" fill="none"/>
<circle cx="182.15" cy="441.31" r="2.60" fill="#3a4aa8"/>
<path d="M196.2 438.9V444.0M192.7 438.9h7.0M192.7 444.0h7.0" stroke="#3a4aa8" stroke-width="2.0" fill="none"/>
<circle cx="196.22" cy="441.47" r="2.60" fill="#3a4aa8"/>
<path d="M210.3 438.9V444.1M206.8 438.9h7.0M206.8 444.1h7.0" stroke="#3a4aa8" stroke-width="2.0" fill="none"/>
<circle cx="210.30" cy="441.49" r="2.60" fill="#3a4aa8"/>
<path d="M232.0 306.3L265.0 306.3" stroke="#000" stroke-width="2.2"/>
<circle cx="248.50" cy="306.30" r="2.20" fill="#000"/>
<path d="M232.0 358.6L265.0 358.6" stroke="#9a9a9a" stroke-width="2.2"/>
<circle cx="248.50" cy="358.60" r="2.20" fill="#9a9a9a"/>
<path d="M232.0 414.0L265.0 414.0" stroke="#e31e24" stroke-width="2.2"/>
<circle cx="248.50" cy="414.00" r="2.20" fill="#e31e24"/>
<path d="M232.0 471.0L265.0 471.0" stroke="#3a4aa8" stroke-width="2.2"/>
<circle cx="248.50" cy="471.00" r="2.20" fill="#3a4aa8"/>
<text x="283.20" y="296.40" font-size="19.5" dy="6.98" stroke="#000" stroke-width="0.22">HCT116(KRAS<tspan dy="-6.44" font-size="10.92">G13D/-</tspan><tspan dy="6.44">)</tspan></text>
<text x="283.20" y="319.60" font-size="19.5" dy="6.98" stroke="#000" stroke-width="0.22">IC<tspan dy="-6.44" font-size="10.92">50</tspan><tspan dy="6.44">=156.4μM</tspan></text>
<text x="283.20" y="349.40" font-size="19.5" dy="6.98" stroke="#000" stroke-width="0.22">HCT116(KRAS<tspan dy="-6.44" font-size="10.92">wt/-</tspan><tspan dy="6.44">)</tspan></text>
<text x="283.20" y="372.60" font-size="19.5" dy="6.98" stroke="#000" stroke-width="0.22">IC<tspan dy="-6.44" font-size="10.92">50</tspan><tspan dy="6.44">=179.7μM</tspan></text>
<text x="283.20" y="404.00" font-size="19.5" dy="6.98" stroke="#000" stroke-width="0.22">DLD-1(KRAS<tspan dy="-6.44" font-size="10.92">G13D/-</tspan><tspan dy="6.44">)</tspan></text>
<text x="283.20" y="428.90" font-size="19.5" dy="6.98" stroke="#000" stroke-width="0.22">IC<tspan dy="-6.44" font-size="10.92">50</tspan><tspan dy="6.44">=38.22μM</tspan></text>
<text x="283.20" y="462.00" font-size="19.5" dy="6.98" stroke="#000" stroke-width="0.22">DLD-1(KRAS<tspan dy="-6.44" font-size="10.92">wt/-</tspan><tspan dy="6.44">)</tspan></text>
<text x="283.20" y="485.00" font-size="19.5" dy="6.98" stroke="#000" stroke-width="0.22">IC<tspan dy="-6.44" font-size="10.92">50</tspan><tspan dy="6.44">=35.77μM</tspan></text>
<text x="24.50" y="370.80" font-size="19.3" dy="6.91" text-anchor="middle" stroke="#000" stroke-width="0.22" transform="rotate(-90 24.50 370.80)">Cell viability(%)</text>
<text x="147.00" y="500.00" font-size="20.4" dy="7.30" text-anchor="middle" stroke="#000" stroke-width="0.22">3-BP,Log[M]</text>
<text x="534.60" y="276.50" font-size="30" stroke="#000" stroke-width="0.22">G</text>
<path d="M582.0 272.5L582.0 445.3" stroke="#000" stroke-width="3.0"/>
<path d="M574.0 443.8L716.0 443.8" stroke="#000" stroke-width="3.0"/>
<path d="M574.0 443.8L582.0 443.8" stroke="#000" stroke-width="3.0"/>
<text x="570.00" y="443.80" font-size="20" dy="7.16" text-anchor="end" stroke="#000" stroke-width="0.22">0</text>
<path d="M574.0 375.9L582.0 375.9" stroke="#000" stroke-width="3.0"/>
<text x="570.00" y="375.90" font-size="20" dy="7.16" text-anchor="end" stroke="#000" stroke-width="0.22">50</text>
<path d="M574.0 308.0L582.0 308.0" stroke="#000" stroke-width="3.0"/>
<text x="570.00" y="308.00" font-size="20" dy="7.16" text-anchor="end" stroke="#000" stroke-width="0.22">100</text>
<path d="M596.7 443.8L596.7 451.8" stroke="#000" stroke-width="3.0"/>
<text x="596.70" y="479.00" font-size="21.7" text-anchor="middle" stroke="#000" stroke-width="0.22">-5</text>
<path d="M655.6 443.8L655.6 451.8" stroke="#000" stroke-width="3.0"/>
<text x="655.60" y="479.00" font-size="21.7" text-anchor="middle" stroke="#000" stroke-width="0.22">-4</text>
<path d="M714.5 443.8L714.5 451.8" stroke="#000" stroke-width="3.0"/>
<text x="714.50" y="479.00" font-size="21.7" text-anchor="middle" stroke="#000" stroke-width="0.22">-3</text>
<polyline points="581.98,309.25 583.08,309.35 584.18,309.45 585.29,309.56 586.39,309.67 587.50,309.80 588.60,309.93 589.71,310.08 590.81,310.23 591.91,310.40 593.02,310.58 594.12,310.77 595.23,310.98 596.33,311.20 597.44,311.44 598.54,311.69 599.64,311.97 600.75,312.26 601.85,312.57 602.96,312.91 604.06,313.27 605.17,313.65 606.27,314.06 607.38,314.50 608.48,314.97 609.58,315.48 610.69,316.01 611.79,316.58 612.90,317.19 614.00,317.84 615.11,318.53 616.21,319.27 617.32,320.05 618.42,320.88 619.52,321.76 620.63,322.70 621.73,323.69 622.84,324.74 623.94,325.84 625.05,327.01 626.15,328.24 627.25,329.54 628.36,330.90 629.46,332.34 630.57,333.84 631.67,335.41 632.78,337.05 633.88,338.76 634.99,340.54 636.09,342.39 637.19,344.31 638.30,346.30 639.40,348.35 640.51,350.46 641.61,352.63 642.72,354.85 643.82,357.13 644.92,359.46 646.03,361.82 647.13,364.22 648.24,366.66 649.34,369.11 650.45,371.59 651.55,374.07 652.66,376.56 653.76,379.05 654.86,381.53 655.97,384.00 657.07,386.45 658.18,388.86 659.28,391.25 660.39,393.59 661.49,395.89 662.59,398.14 663.70,400.34 664.80,402.48 665.91,404.56 667.01,406.57 668.12,408.52 669.22,410.40 670.33,412.22 671.43,413.96 672.53,415.64 673.64,417.24 674.74,418.77 675.85,420.24 676.95,421.63 678.06,422.96 679.16,424.22 680.26,425.42 681.37,426.55 682.47,427.63 683.58,428.65 684.68,429.61 685.79,430.51 686.89,431.37 688.00,432.17 689.10,432.93 690.20,433.64 691.31,434.31 692.41,434.94 693.52,435.53 694.62,436.08 695.73,436.60 696.83,437.08 697.93,437.53 699.04,437.96 700.14,438.35 701.25,438.73 702.35,439.07 703.46,439.40 704.56,439.70 705.66,439.98 706.77,440.24 707.87,440.49 708.98,440.72 710.08,440.93 711.19,441.13 712.29,441.32 713.40,441.49 714.50,441.65" fill="none" stroke="#9a9a9a" stroke-width="2.2" stroke-linejoin="round"/>
<path d="M582.0 298.4V314.7M578.5 298.4h7.0M578.5 314.7h7.0" stroke="#9a9a9a" stroke-width="2.0" fill="none"/>
<circle cx="581.98" cy="306.54" r="2.60" fill="#9a9a9a"/>
<path d="M596.7 309.9V320.8M593.2 309.9h7.0M593.2 320.8h7.0" stroke="#9a9a9a" stroke-width="2.0" fill="none"/>
<circle cx="596.70" cy="315.35" r="2.60" fill="#9a9a9a"/>
<path d="M611.4 304.2V320.5M607.9 304.2h7.0M607.9 320.5h7.0" stroke="#9a9a9a" stroke-width="2.0" fill="none"/>
<circle cx="611.43" cy="312.31" r="2.60" fill="#9a9a9a"/>
<path d="M626.2 325.5V341.8M622.7 325.5h7.0M622.7 341.8h7.0" stroke="#9a9a9a" stroke-width="2.0" fill="none"/>
<circle cx="626.15" cy="333.68" r="2.60" fill="#9a9a9a"/>
<path d="M640.9 347.1V363.4M637.4 347.1h7.0M637.4 363.4h7.0" stroke="#9a9a9a" stroke-width="2.0" fill="none"/>
<circle cx="640.88" cy="355.25" r="2.60" fill="#9a9a9a"/>
<path d="M655.6 372.3V385.9M652.1 372.3h7.0M652.1 385.9h7.0" stroke="#9a9a9a" stroke-width="2.0" fill="none"/>
<circle cx="655.60" cy="379.11" r="2.60" fill="#9a9a9a"/>
<path d="M670.3 406.8V425.8M666.8 406.8h7.0M666.8 425.8h7.0" stroke="#9a9a9a" stroke-width="2.0" fill="none"/>
<circle cx="670.33" cy="416.29" r="2.60" fill="#9a9a9a"/>
<path d="M685.0 417.7V436.7M681.5 417.7h7.0M681.5 436.7h7.0" stroke="#9a9a9a" stroke-width="2.0" fill="none"/>
<circle cx="685.05" cy="427.20" r="2.60" fill="#9a9a9a"/>
<path d="M699.8 430.1V440.9M696.3 430.1h7.0M696.3 440.9h7.0" stroke="#9a9a9a" stroke-width="2.0" fill="none"/>
<circle cx="699.77" cy="435.51" r="2.60" fill="#9a9a9a"/>
<path d="M714.5 433.5V444.4M711.0 433.5h7.0M711.0 444.4h7.0" stroke="#9a9a9a" stroke-width="2.0" fill="none"/>
<circle cx="714.50" cy="438.93" r="2.60" fill="#9a9a9a"/>
<polyline points="581.98,311.90 583.08,312.10 584.18,312.32 585.29,312.54 586.39,312.77 587.50,313.01 588.60,313.27 589.71,313.54 590.81,313.82 591.91,314.12 593.02,314.43 594.12,314.75 595.23,315.09 596.33,315.45 597.44,315.82 598.54,316.21 599.64,316.62 600.75,317.05 601.85,317.50 602.96,317.97 604.06,318.45 605.17,318.97 606.27,319.50 607.38,320.06 608.48,320.64 609.58,321.24 610.69,321.88 611.79,322.54 612.90,323.22 614.00,323.94 615.11,324.68 616.21,325.45 617.32,326.26 618.42,327.09 619.52,327.96 620.63,328.85 621.73,329.79 622.84,330.75 623.94,331.75 625.05,332.78 626.15,333.85 627.25,334.95 628.36,336.09 629.46,337.26 630.57,338.46 631.67,339.71 632.78,340.98 633.88,342.29 634.99,343.64 636.09,345.02 637.19,346.43 638.30,347.87 639.40,349.35 640.51,350.85 641.61,352.38 642.72,353.95 643.82,355.53 644.92,357.15 646.03,358.78 647.13,360.44 648.24,362.12 649.34,363.81 650.45,365.52 651.55,367.25 652.66,368.98 653.76,370.73 654.86,372.48 655.97,374.24 657.07,375.99 658.18,377.75 659.28,379.51 660.39,381.26 661.49,383.00 662.59,384.74 663.70,386.46 664.80,388.17 665.91,389.86 667.01,391.54 668.12,393.19 669.22,394.83 670.33,396.44 671.43,398.02 672.53,399.58 673.64,401.11 674.74,402.61 675.85,404.08 676.95,405.52 678.06,406.93 679.16,408.31 680.26,409.65 681.37,410.96 682.47,412.23 683.58,413.47 684.68,414.67 685.79,415.84 686.89,416.97 688.00,418.07 689.10,419.13 690.20,420.16 691.31,421.15 692.41,422.12 693.52,423.04 694.62,423.94 695.73,424.80 696.83,425.63 697.93,426.43 699.04,427.20 700.14,427.94 701.25,428.65 702.35,429.34 703.46,429.99 704.56,430.62 705.66,431.23 706.77,431.80 707.87,432.36 708.98,432.89 710.08,433.40 711.19,433.89 712.29,434.35 713.40,434.80 714.50,435.22" fill="none" stroke="#000" stroke-width="2.2" stroke-linejoin="round"/>
<path d="M582.0 309.2V317.3M578.5 309.2h7.0M578.5 317.3h7.0" stroke="#000" stroke-width="2.0" fill="none"/>
<circle cx="581.98" cy="313.26" r="2.60" fill="#000"/>
<path d="M596.7 311.5V319.6M593.2 311.5h7.0M593.2 319.6h7.0" stroke="#000" stroke-width="2.0" fill="none"/>
<circle cx="596.70" cy="315.57" r="2.60" fill="#000"/>
<path d="M611.4 319.6V333.2M607.9 319.6h7.0M607.9 333.2h7.0" stroke="#000" stroke-width="2.0" fill="none"/>
<circle cx="611.43" cy="326.39" r="2.60" fill="#000"/>
<path d="M626.2 329.8V343.4M622.7 329.8h7.0M622.7 343.4h7.0" stroke="#000" stroke-width="2.0" fill="none"/>
<circle cx="626.15" cy="336.56" r="2.60" fill="#000"/>
<path d="M640.9 345.9V356.8M637.4 345.9h7.0M637.4 356.8h7.0" stroke="#000" stroke-width="2.0" fill="none"/>
<circle cx="640.88" cy="351.36" r="2.60" fill="#000"/>
<path d="M655.6 366.9V375.0M652.1 366.9h7.0M652.1 375.0h7.0" stroke="#000" stroke-width="2.0" fill="none"/>
<circle cx="655.60" cy="370.93" r="2.60" fill="#000"/>
<path d="M670.3 386.9V400.5M666.8 386.9h7.0M666.8 400.5h7.0" stroke="#000" stroke-width="2.0" fill="none"/>
<circle cx="670.33" cy="393.72" r="2.60" fill="#000"/>
<path d="M685.0 412.3V417.8M681.5 412.3h7.0M681.5 417.8h7.0" stroke="#000" stroke-width="2.0" fill="none"/>
<circle cx="685.05" cy="415.06" r="2.60" fill="#000"/>
<path d="M699.8 422.3V430.4M696.3 422.3h7.0M696.3 430.4h7.0" stroke="#000" stroke-width="2.0" fill="none"/>
<circle cx="699.77" cy="426.34" r="2.60" fill="#000"/>
<path d="M714.5 429.8V437.9M711.0 429.8h7.0M711.0 437.9h7.0" stroke="#000" stroke-width="2.0" fill="none"/>
<circle cx="714.50" cy="433.86" r="2.60" fill="#000"/>
<polyline points="581.98,308.47 583.08,308.52 584.18,308.57 585.29,308.62 586.39,308.69 587.50,308.75 588.60,308.83 589.71,308.91 590.81,309.00 591.91,309.10 593.02,309.21 594.12,309.33 595.23,309.46 596.33,309.60 597.44,309.76 598.54,309.93 599.64,310.12 600.75,310.33 601.85,310.56 602.96,310.81 604.06,311.08 605.17,311.38 606.27,311.70 607.38,312.06 608.48,312.45 609.58,312.88 610.69,313.35 611.79,313.86 612.90,314.42 614.00,315.02 615.11,315.68 616.21,316.40 617.32,317.18 618.42,318.03 619.52,318.95 620.63,319.94 621.73,321.02 622.84,322.18 623.94,323.43 625.05,324.78 626.15,326.23 627.25,327.78 628.36,329.44 629.46,331.21 630.57,333.09 631.67,335.10 632.78,337.21 633.88,339.45 634.99,341.80 636.09,344.27 637.19,346.85 638.30,349.54 639.40,352.33 640.51,355.21 641.61,358.18 642.72,361.22 643.82,364.32 644.92,367.47 646.03,370.67 647.13,373.88 648.24,377.10 649.34,380.32 650.45,383.52 651.55,386.69 652.66,389.80 653.76,392.86 654.86,395.85 655.97,398.75 657.07,401.56 658.18,404.28 659.28,406.88 660.39,409.38 661.49,411.76 662.59,414.03 663.70,416.18 664.80,418.21 665.91,420.12 667.01,421.92 668.12,423.61 669.22,425.19 670.33,426.66 671.43,428.04 672.53,429.31 673.64,430.50 674.74,431.59 675.85,432.61 676.95,433.55 678.06,434.41 679.16,435.21 680.26,435.94 681.37,436.62 682.47,437.24 683.58,437.80 684.68,438.33 685.79,438.80 686.89,439.24 688.00,439.64 689.10,440.01 690.20,440.34 691.31,440.65 692.41,440.93 693.52,441.18 694.62,441.42 695.73,441.63 696.83,441.82 697.93,442.00 699.04,442.16 700.14,442.31 701.25,442.44 702.35,442.56 703.46,442.67 704.56,442.78 705.66,442.87 706.77,442.95 707.87,443.03 708.98,443.10 710.08,443.16 711.19,443.22 712.29,443.27 713.40,443.32 714.50,443.36" fill="none" stroke="#e31e24" stroke-width="2.2" stroke-linejoin="round"/>
<path d="M582.0 303.0V313.9M578.5 303.0h7.0M578.5 313.9h7.0" stroke="#e31e24" stroke-width="2.0" fill="none"/>
<circle cx="581.98" cy="308.47" r="2.60" fill="#e31e24"/>
<path d="M596.7 297.4V316.4M593.2 297.4h7.0M593.2 316.4h7.0" stroke="#e31e24" stroke-width="2.0" fill="none"/>
<circle cx="596.70" cy="306.94" r="2.60" fill="#e31e24"/>
<path d="M611.4 306.9V323.2M607.9 306.9h7.0M607.9 323.2h7.0" stroke="#e31e24" stroke-width="2.0" fill="none"/>
<circle cx="611.43" cy="315.04" r="2.60" fill="#e31e24"/>
<path d="M626.2 320.8V339.8M622.7 320.8h7.0M622.7 339.8h7.0" stroke="#e31e24" stroke-width="2.0" fill="none"/>
<circle cx="626.15" cy="330.30" r="2.60" fill="#e31e24"/>
<path d="M640.9 348.0V358.9M637.4 348.0h7.0M637.4 358.9h7.0" stroke="#e31e24" stroke-width="2.0" fill="none"/>
<circle cx="640.88" cy="353.47" r="2.60" fill="#e31e24"/>
<path d="M655.6 393.7V410.0M652.1 393.7h7.0M652.1 410.0h7.0" stroke="#e31e24" stroke-width="2.0" fill="none"/>
<circle cx="655.60" cy="401.87" r="2.60" fill="#e31e24"/>
<path d="M670.3 418.5V429.4M666.8 418.5h7.0M666.8 429.4h7.0" stroke="#e31e24" stroke-width="2.0" fill="none"/>
<circle cx="670.33" cy="423.95" r="2.60" fill="#e31e24"/>
<path d="M685.0 434.4V442.6M681.5 434.4h7.0M681.5 442.6h7.0" stroke="#e31e24" stroke-width="2.0" fill="none"/>
<circle cx="685.05" cy="438.49" r="2.60" fill="#e31e24"/>
<path d="M699.8 439.5V445.0M696.3 439.5h7.0M696.3 445.0h7.0" stroke="#e31e24" stroke-width="2.0" fill="none"/>
<circle cx="699.77" cy="442.26" r="2.60" fill="#e31e24"/>
<path d="M714.5 440.6V446.1M711.0 440.6h7.0M711.0 446.1h7.0" stroke="#e31e24" stroke-width="2.0" fill="none"/>
<circle cx="714.50" cy="443.36" r="2.60" fill="#e31e24"/>
<polyline points="581.98,308.27 583.08,308.30 584.18,308.33 585.29,308.37 586.39,308.41 587.50,308.46 588.60,308.51 589.71,308.57 590.81,308.63 591.91,308.70 593.02,308.78 594.12,308.87 595.23,308.97 596.33,309.08 597.44,309.20 598.54,309.34 599.64,309.49 600.75,309.66 601.85,309.84 602.96,310.05 604.06,310.28 605.17,310.54 606.27,310.82 607.38,311.13 608.48,311.48 609.58,311.87 610.69,312.29 611.79,312.76 612.90,313.29 614.00,313.86 615.11,314.50 616.21,315.20 617.32,315.97 618.42,316.82 619.52,317.76 620.63,318.78 621.73,319.90 622.84,321.13 623.94,322.46 625.05,323.92 626.15,325.50 627.25,327.21 628.36,329.06 629.46,331.05 630.57,333.19 631.67,335.48 632.78,337.93 633.88,340.52 634.99,343.26 636.09,346.15 637.19,349.18 638.30,352.34 639.40,355.63 640.51,359.01 641.61,362.50 642.72,366.05 643.82,369.66 644.92,373.31 646.03,376.97 647.13,380.63 648.24,384.26 649.34,387.84 650.45,391.36 651.55,394.79 652.66,398.11 653.76,401.33 654.86,404.41 655.97,407.36 657.07,410.16 658.18,412.82 659.28,415.33 660.39,417.68 661.49,419.88 662.59,421.93 663.70,423.84 664.80,425.61 665.91,427.24 667.01,428.75 668.12,430.14 669.22,431.41 670.33,432.57 671.43,433.63 672.53,434.60 673.64,435.49 674.74,436.29 675.85,437.02 676.95,437.68 678.06,438.28 679.16,438.83 680.26,439.32 681.37,439.76 682.47,440.17 683.58,440.53 684.68,440.86 685.79,441.15 686.89,441.42 688.00,441.66 689.10,441.87 690.20,442.07 691.31,442.24 692.41,442.40 693.52,442.54 694.62,442.67 695.73,442.78 696.83,442.89 697.93,442.98 699.04,443.06 700.14,443.14 701.25,443.21 702.35,443.27 703.46,443.32 704.56,443.37 705.66,443.41 706.77,443.45 707.87,443.49 708.98,443.52 710.08,443.55 711.19,443.57 712.29,443.60 713.40,443.62 714.50,443.64" fill="none" stroke="#3a4aa8" stroke-width="2.2" stroke-linejoin="round"/>
<path d="M582.0 302.8V313.7M578.5 302.8h7.0M578.5 313.7h7.0" stroke="#3a4aa8" stroke-width="2.0" fill="none"/>
<circle cx="581.98" cy="308.27" r="2.60" fill="#3a4aa8"/>
<path d="M596.7 305.0V315.9M593.2 305.0h7.0M593.2 315.9h7.0" stroke="#3a4aa8" stroke-width="2.0" fill="none"/>
<circle cx="596.70" cy="310.48" r="2.60" fill="#3a4aa8"/>
<path d="M611.4 307.2V318.0M607.9 307.2h7.0M607.9 318.0h7.0" stroke="#3a4aa8" stroke-width="2.0" fill="none"/>
<circle cx="611.43" cy="312.60" r="2.60" fill="#3a4aa8"/>
<path d="M626.2 316.0V329.6M622.7 316.0h7.0M622.7 329.6h7.0" stroke="#3a4aa8" stroke-width="2.0" fill="none"/>
<circle cx="626.15" cy="322.78" r="2.60" fill="#3a4aa8"/>
<path d="M640.9 358.8V369.7M637.4 358.8h7.0M637.4 369.7h7.0" stroke="#3a4aa8" stroke-width="2.0" fill="none"/>
<circle cx="640.88" cy="364.24" r="2.60" fill="#3a4aa8"/>
<path d="M655.6 402.3V415.9M652.1 402.3h7.0M652.1 415.9h7.0" stroke="#3a4aa8" stroke-width="2.0" fill="none"/>
<circle cx="655.60" cy="409.11" r="2.60" fill="#3a4aa8"/>
<path d="M670.3 428.5V436.6M666.8 428.5h7.0M666.8 436.6h7.0" stroke="#3a4aa8" stroke-width="2.0" fill="none"/>
<circle cx="670.33" cy="432.57" r="2.60" fill="#3a4aa8"/>
<path d="M685.0 438.2V443.7M681.5 438.2h7.0M681.5 443.7h7.0" stroke="#3a4aa8" stroke-width="2.0" fill="none"/>
<circle cx="685.05" cy="440.96" r="2.60" fill="#3a4aa8"/>
<path d="M699.8 440.4V445.8M696.3 440.4h7.0M696.3 445.8h7.0" stroke="#3a4aa8" stroke-width="2.0" fill="none"/>
<circle cx="699.77" cy="443.11" r="2.60" fill="#3a4aa8"/>
<path d="M714.5 442.3V445.0M711.0 442.3h7.0M711.0 445.0h7.0" stroke="#3a4aa8" stroke-width="2.0" fill="none"/>
<circle cx="714.50" cy="443.64" r="2.60" fill="#3a4aa8"/>
<path d="M731.0 309.0L765.6 309.0" stroke="#000" stroke-width="2.2"/>
<circle cx="748.30" cy="309.00" r="2.20" fill="#000"/>
<path d="M731.0 363.6L765.6 363.6" stroke="#9a9a9a" stroke-width="2.2"/>
<circle cx="748.30" cy="363.60" r="2.20" fill="#9a9a9a"/>
<path d="M731.0 420.6L765.6 420.6" stroke="#e31e24" stroke-width="2.2"/>
<circle cx="748.30" cy="420.60" r="2.20" fill="#e31e24"/>
<path d="M731.0 477.0L765.6 477.0" stroke="#3a4aa8" stroke-width="2.2"/>
<circle cx="748.30" cy="477.00" r="2.20" fill="#3a4aa8"/>
<text x="785.80" y="298.00" font-size="19.5" dy="6.98" stroke="#000" stroke-width="0.22">HT29(BRAF<tspan dy="-6.44" font-size="12.87">V600E</tspan><tspan dy="6.44">)</tspan></text>
<text x="785.80" y="322.90" font-size="19.5" dy="6.98" stroke="#000" stroke-width="0.22">IC<tspan dy="-6.44" font-size="12.87">50</tspan><tspan dy="6.44">=105.6μM</tspan></text>
<text x="785.80" y="352.70" font-size="19.5" dy="6.98" stroke="#000" stroke-width="0.22">HT29(shBRAF)</text>
<text x="785.80" y="377.50" font-size="19.5" dy="6.98" stroke="#000" stroke-width="0.22">IC<tspan dy="-6.44" font-size="12.87">50</tspan><tspan dy="6.44">=88.1μM</tspan></text>
<text x="785.80" y="410.60" font-size="19.5" dy="6.98" stroke="#000" stroke-width="0.22">RKO(BRAF<tspan dy="-6.44" font-size="12.87">V600E/-/-</tspan><tspan dy="6.44">)</tspan></text>
<text x="785.80" y="433.80" font-size="19.5" dy="6.98" stroke="#000" stroke-width="0.22">IC<tspan dy="-6.44" font-size="12.87">50</tspan><tspan dy="6.44">=73.8μM</tspan></text>
<text x="785.80" y="465.30" font-size="19.5" dy="6.98" stroke="#000" stroke-width="0.22">RKO(BRAF<tspan dy="-6.44" font-size="12.87">wt/-/-</tspan><tspan dy="6.44">)</tspan></text>
<text x="785.80" y="490.10" font-size="19.5" dy="6.98" stroke="#000" stroke-width="0.22">IC<tspan dy="-6.44" font-size="12.87">50</tspan><tspan dy="6.44">=67.9μM</tspan></text>
<text x="520.00" y="372.60" font-size="22.2" dy="7.95" text-anchor="middle" stroke="#000" stroke-width="0.22" transform="rotate(-90 520.00 372.60)">Cell viability(%)</text>
<text x="649.00" y="506.70" font-size="21.5" dy="7.70" text-anchor="middle" stroke="#000" stroke-width="0.22">3-BP,Log[M]</text>
<text x="1054.70" y="279.60" font-size="30" stroke="#000" stroke-width="0.22">H</text>
<path d="M1122.0 293.8L1122.0 454.3" stroke="#000" stroke-width="3.0"/>
<path d="M1114.0 452.8L1261.7 452.8" stroke="#000" stroke-width="3.0"/>
<path d="M1114.0 452.8L1122.0 452.8" stroke="#000" stroke-width="3.0"/>
<text x="1110.00" y="452.80" font-size="20.5" dy="7.34" text-anchor="end" stroke="#000" stroke-width="0.22">0</text>
<path d="M1114.0 390.2L1122.0 390.2" stroke="#000" stroke-width="3.0"/>
<text x="1110.00" y="390.20" font-size="20.5" dy="7.34" text-anchor="end" stroke="#000" stroke-width="0.22">50</text>
<path d="M1114.0 327.6L1122.0 327.6" stroke="#000" stroke-width="3.0"/>
<text x="1110.00" y="327.60" font-size="20.5" dy="7.34" text-anchor="end" stroke="#000" stroke-width="0.22">100</text>
<path d="M1137.8 452.8L1137.8 460.8" stroke="#000" stroke-width="3.0"/>
<text x="1137.80" y="486.00" font-size="22" text-anchor="middle" stroke="#000" stroke-width="0.22">-5</text>
<path d="M1199.0 452.8L1199.0 460.8" stroke="#000" stroke-width="3.0"/>
<text x="1199.00" y="486.00" font-size="22" text-anchor="middle" stroke="#000" stroke-width="0.22">-4</text>
<path d="M1260.2 452.8L1260.2 460.8" stroke="#000" stroke-width="3.0"/>
<text x="1260.20" y="486.00" font-size="22" text-anchor="middle" stroke="#000" stroke-width="0.22">-3</text>
<polyline points="1122.50,328.18 1123.65,328.24 1124.79,328.29 1125.94,328.35 1127.09,328.42 1128.24,328.50 1129.38,328.58 1130.53,328.66 1131.68,328.76 1132.83,328.86 1133.97,328.97 1135.12,329.10 1136.27,329.23 1137.42,329.37 1138.57,329.53 1139.71,329.70 1140.86,329.89 1142.01,330.09 1143.15,330.31 1144.30,330.55 1145.45,330.81 1146.60,331.09 1147.74,331.40 1148.89,331.73 1150.04,332.08 1151.19,332.47 1152.34,332.89 1153.48,333.35 1154.63,333.84 1155.78,334.38 1156.92,334.95 1158.07,335.57 1159.22,336.24 1160.37,336.96 1161.51,337.74 1162.66,338.57 1163.81,339.47 1164.96,340.43 1166.11,341.46 1167.25,342.56 1168.40,343.73 1169.55,344.99 1170.69,346.32 1171.84,347.74 1172.99,349.24 1174.14,350.83 1175.28,352.50 1176.43,354.27 1177.58,356.13 1178.73,358.08 1179.88,360.11 1181.02,362.23 1182.17,364.44 1183.32,366.72 1184.46,369.08 1185.61,371.51 1186.76,374.00 1187.91,376.55 1189.06,379.15 1190.20,381.78 1191.35,384.45 1192.50,387.14 1193.64,389.84 1194.79,392.54 1195.94,395.23 1197.09,397.91 1198.23,400.55 1199.38,403.16 1200.53,405.73 1201.68,408.23 1202.83,410.68 1203.97,413.06 1205.12,415.36 1206.27,417.59 1207.41,419.73 1208.56,421.79 1209.71,423.76 1210.86,425.64 1212.01,427.43 1213.15,429.13 1214.30,430.75 1215.45,432.27 1216.60,433.71 1217.74,435.07 1218.89,436.34 1220.04,437.54 1221.18,438.66 1222.33,439.70 1223.48,440.68 1224.63,441.60 1225.78,442.45 1226.92,443.24 1228.07,443.97 1229.22,444.66 1230.37,445.29 1231.51,445.88 1232.66,446.42 1233.81,446.92 1234.95,447.39 1236.10,447.82 1237.25,448.21 1238.40,448.58 1239.55,448.92 1240.69,449.23 1241.84,449.52 1242.99,449.78 1244.13,450.03 1245.28,450.25 1246.43,450.46 1247.58,450.65 1248.73,450.82 1249.87,450.99 1251.02,451.13 1252.17,451.27 1253.32,451.39 1254.46,451.51 1255.61,451.62 1256.76,451.71 1257.90,451.80 1259.05,451.88 1260.20,451.96" fill="none" stroke="#e31e24" stroke-width="2.2" stroke-linejoin="round"/>
<path d="M1122.5 323.2V333.2M1119.0 323.2h7.0M1119.0 333.2h7.0" stroke="#e31e24" stroke-width="2.0" fill="none"/>
<polygon points="1118.50,331.78 1126.50,331.78 1122.50,324.58" fill="#e31e24"/>
<path d="M1137.8 325.7V333.2M1134.3 325.7h7.0M1134.3 333.2h7.0" stroke="#e31e24" stroke-width="2.0" fill="none"/>
<polygon points="1133.80,333.02 1141.80,333.02 1137.80,325.82" fill="#e31e24"/>
<path d="M1153.1 329.4V337.0M1149.6 329.4h7.0M1149.6 337.0h7.0" stroke="#e31e24" stroke-width="2.0" fill="none"/>
<polygon points="1149.10,336.79 1157.10,336.79 1153.10,329.59" fill="#e31e24"/>
<path d="M1168.4 348.7V363.8M1164.9 348.7h7.0M1164.9 363.8h7.0" stroke="#e31e24" stroke-width="2.0" fill="none"/>
<polygon points="1164.40,359.85 1172.40,359.85 1168.40,352.65" fill="#e31e24"/>
<path d="M1183.7 367.5V380.0M1180.2 367.5h7.0M1180.2 380.0h7.0" stroke="#e31e24" stroke-width="2.0" fill="none"/>
<polygon points="1179.70,377.36 1187.70,377.36 1183.70,370.16" fill="#e31e24"/>
<path d="M1199.0 398.5V411.1M1195.5 398.5h7.0M1195.5 411.1h7.0" stroke="#e31e24" stroke-width="2.0" fill="none"/>
<polygon points="1195.00,408.40 1203.00,408.40 1199.00,401.20" fill="#e31e24"/>
<path d="M1214.3 430.7V440.8M1210.8 430.7h7.0M1210.8 440.8h7.0" stroke="#e31e24" stroke-width="2.0" fill="none"/>
<polygon points="1210.30,439.36 1218.30,439.36 1214.30,432.16" fill="#e31e24"/>
<path d="M1229.6 428.6V448.6M1226.1 428.6h7.0M1226.1 448.6h7.0" stroke="#e31e24" stroke-width="2.0" fill="none"/>
<polygon points="1225.60,442.21 1233.60,442.21 1229.60,435.01" fill="#e31e24"/>
<path d="M1244.9 447.7V452.7M1241.4 447.7h7.0M1241.4 452.7h7.0" stroke="#e31e24" stroke-width="2.0" fill="none"/>
<polygon points="1240.90,453.78 1248.90,453.78 1244.90,446.58" fill="#e31e24"/>
<path d="M1260.2 445.7V458.2M1256.7 445.7h7.0M1256.7 458.2h7.0" stroke="#e31e24" stroke-width="2.0" fill="none"/>
<polygon points="1256.20,455.56 1264.20,455.56 1260.20,448.36" fill="#e31e24"/>
<polyline points="1122.50,327.78 1123.65,327.80 1124.79,327.82 1125.94,327.85 1127.09,327.87 1128.24,327.90 1129.38,327.93 1130.53,327.97 1131.68,328.01 1132.83,328.05 1133.97,328.10 1135.12,328.15 1136.27,328.21 1137.42,328.27 1138.57,328.35 1139.71,328.43 1140.86,328.51 1142.01,328.61 1143.15,328.72 1144.30,328.84 1145.45,328.97 1146.60,329.11 1147.74,329.27 1148.89,329.44 1150.04,329.64 1151.19,329.85 1152.34,330.09 1153.48,330.35 1154.63,330.63 1155.78,330.95 1156.92,331.30 1158.07,331.68 1159.22,332.10 1160.37,332.56 1161.51,333.06 1162.66,333.62 1163.81,334.23 1164.96,334.90 1166.11,335.62 1167.25,336.42 1168.40,337.29 1169.55,338.24 1170.69,339.27 1171.84,340.39 1172.99,341.60 1174.14,342.91 1175.28,344.33 1176.43,345.85 1177.58,347.49 1178.73,349.25 1179.88,351.13 1181.02,353.13 1182.17,355.25 1183.32,357.50 1184.46,359.87 1185.61,362.36 1186.76,364.96 1187.91,367.67 1189.06,370.48 1190.20,373.39 1191.35,376.37 1192.50,379.43 1193.64,382.53 1194.79,385.68 1195.94,388.85 1197.09,392.02 1198.23,395.19 1199.38,398.33 1200.53,401.42 1201.68,404.47 1202.83,407.44 1203.97,410.33 1205.12,413.13 1206.27,415.83 1207.41,418.42 1208.56,420.89 1209.71,423.24 1210.86,425.47 1212.01,427.58 1213.15,429.56 1214.30,431.42 1215.45,433.16 1216.60,434.78 1217.74,436.29 1218.89,437.69 1220.04,438.99 1221.18,440.18 1222.33,441.29 1223.48,442.31 1224.63,443.24 1225.78,444.10 1226.92,444.89 1228.07,445.61 1229.22,446.26 1230.37,446.86 1231.51,447.41 1232.66,447.91 1233.81,448.37 1234.95,448.78 1236.10,449.16 1237.25,449.50 1238.40,449.81 1239.55,450.09 1240.69,450.35 1241.84,450.58 1242.99,450.79 1244.13,450.98 1245.28,451.16 1246.43,451.31 1247.58,451.45 1248.73,451.58 1249.87,451.70 1251.02,451.80 1252.17,451.90 1253.32,451.99 1254.46,452.06 1255.61,452.13 1256.76,452.20 1257.90,452.26 1259.05,452.31 1260.20,452.36" fill="none" stroke="#000" stroke-width="2.2" stroke-linejoin="round"/>
<path d="M1122.5 321.5V334.0M1119.0 321.5h7.0M1119.0 334.0h7.0" stroke="#000" stroke-width="2.0" fill="none"/>
<circle cx="1122.50" cy="327.78" r="2.60" fill="#000"/>
<path d="M1137.8 325.8V330.8M1134.3 325.8h7.0M1134.3 330.8h7.0" stroke="#000" stroke-width="2.0" fill="none"/>
<circle cx="1137.80" cy="328.30" r="2.60" fill="#000"/>
<path d="M1153.1 326.5V334.0M1149.6 326.5h7.0M1149.6 334.0h7.0" stroke="#000" stroke-width="2.0" fill="none"/>
<circle cx="1153.10" cy="330.26" r="2.60" fill="#000"/>
<path d="M1168.4 331.0V343.5M1164.9 331.0h7.0M1164.9 343.5h7.0" stroke="#000" stroke-width="2.0" fill="none"/>
<circle cx="1168.40" cy="337.29" r="2.60" fill="#000"/>
<path d="M1183.7 355.8V360.8M1180.2 355.8h7.0M1180.2 360.8h7.0" stroke="#000" stroke-width="2.0" fill="none"/>
<circle cx="1183.70" cy="358.27" r="2.60" fill="#000"/>
<path d="M1199.0 392.3V402.3M1195.5 392.3h7.0M1195.5 402.3h7.0" stroke="#000" stroke-width="2.0" fill="none"/>
<circle cx="1199.00" cy="397.28" r="2.60" fill="#000"/>
<path d="M1214.3 423.9V433.9M1210.8 423.9h7.0M1210.8 433.9h7.0" stroke="#000" stroke-width="2.0" fill="none"/>
<circle cx="1214.30" cy="428.91" r="2.60" fill="#000"/>
<path d="M1229.6 444.0V449.0M1226.1 444.0h7.0M1226.1 449.0h7.0" stroke="#000" stroke-width="2.0" fill="none"/>
<circle cx="1229.60" cy="446.47" r="2.60" fill="#000"/>
<path d="M1244.9 449.8V452.4M1241.4 449.8h7.0M1241.4 452.4h7.0" stroke="#000" stroke-width="2.0" fill="none"/>
<circle cx="1244.90" cy="451.10" r="2.60" fill="#000"/>
<path d="M1260.2 451.1V453.6M1256.7 451.1h7.0M1256.7 453.6h7.0" stroke="#000" stroke-width="2.0" fill="none"/>
<circle cx="1260.20" cy="452.36" r="2.60" fill="#000"/>
<path d="M1212.4 330.0L1250.3 330.0" stroke="#000" stroke-width="2.2"/>
<circle cx="1231.35" cy="330.00" r="2.20" fill="#000"/>
<path d="M1212.4 386.2L1250.3 386.2" stroke="#e31e24" stroke-width="2.2"/>
<polygon points="1226.85,390.25 1235.85,390.25 1231.35,382.15" fill="#e31e24"/>
<text x="1271.00" y="318.70" font-size="21.8" dy="7.80" stroke="#000" stroke-width="0.22">Caco-2-CR</text>
<text x="1271.00" y="346.20" font-size="21.8" dy="7.80" stroke="#000" stroke-width="0.22">IC<tspan dy="-7.19" font-size="13.08">50</tspan><tspan dy="7.19">=90.7μM</tspan></text>
<text x="1271.00" y="372.00" font-size="21.8" dy="7.80" stroke="#000" stroke-width="0.22">Caco-2</text>
<text x="1271.00" y="399.50" font-size="21.8" dy="7.80" stroke="#000" stroke-width="0.22">IC<tspan dy="-7.19" font-size="13.08">50</tspan><tspan dy="7.19">=82.2μM</tspan></text>
<text x="1053.50" y="372.80" font-size="22" dy="7.88" text-anchor="middle" stroke="#000" stroke-width="0.22" transform="rotate(-90 1053.50 372.80)">Cell viability(%)</text>
<text x="1192.00" y="518.00" font-size="23.4" dy="8.38" text-anchor="middle" stroke="#000" stroke-width="0.22">3-BP,Log[M]</text>
<text x="18.40" y="579.40" font-size="30" stroke="#000" stroke-width="0.22">I</text>
<path d="M132.8 575.6L132.8 720.6" stroke="#000" stroke-width="3.0"/>
<path d="M132.8 719.1L506.0 719.1" stroke="#000" stroke-width="3.0"/>
<path d="M124.8 719.1L132.8 719.1" stroke="#000" stroke-width="3.0"/>
<text x="122.80" y="719.10" font-size="18" dy="6.44" text-anchor="end" stroke="#000" stroke-width="0.22">0</text>
<path d="M124.8 683.5L132.8 683.5" stroke="#000" stroke-width="3.0"/>
<text x="122.80" y="683.48" font-size="18" dy="6.44" text-anchor="end" stroke="#000" stroke-width="0.22">50</text>
<path d="M124.8 647.9L132.8 647.9" stroke="#000" stroke-width="3.0"/>
<text x="122.80" y="647.85" font-size="18" dy="6.44" text-anchor="end" stroke="#000" stroke-width="0.22">100</text>
<path d="M124.8 612.2L132.8 612.2" stroke="#000" stroke-width="3.0"/>
<text x="122.80" y="612.23" font-size="18" dy="6.44" text-anchor="end" stroke="#000" stroke-width="0.22">150</text>
<path d="M124.8 576.6L132.8 576.6" stroke="#000" stroke-width="3.0"/>
<text x="122.80" y="576.60" font-size="18" dy="6.44" text-anchor="end" stroke="#000" stroke-width="0.22">200</text>
<path d="M156.8 719.1L156.8 727.1" stroke="#000" stroke-width="3.0"/>
<rect x="145.15" y="607.66" width="23.30" height="111.44" fill="#8a8685"/>
<text x="161.80" y="736.10" font-size="19.5" dy="6.98" text-anchor="end" stroke="#000" stroke-width="0.22" transform="rotate(-45 161.80 736.10)">HCT116(KRAS<tspan dy="-6.44" font-size="14.04">G13D/-</tspan><tspan dy="6.44">)</tspan></text>
<path d="M192.7 719.1L192.7 727.1" stroke="#000" stroke-width="3.0"/>
<rect x="181.05" y="691.87" width="23.30" height="27.23" fill="#e5121b"/>
<text x="197.70" y="736.10" font-size="19.5" dy="6.98" text-anchor="end" stroke="#000" stroke-width="0.22" transform="rotate(-45 197.70 736.10)">DLD-1(KRAS<tspan dy="-6.44" font-size="14.04">G13D/-</tspan><tspan dy="6.44">)</tspan></text>
<path d="M228.6 719.1L228.6 727.1" stroke="#000" stroke-width="3.0"/>
<rect x="216.95" y="643.86" width="23.30" height="75.24" fill="#6e9fd9"/>
<text x="233.60" y="736.10" font-size="19.5" dy="6.98" text-anchor="end" stroke="#000" stroke-width="0.22" transform="rotate(-45 233.60 736.10)">HT29(BRAF<tspan dy="-6.44" font-size="14.04">V600E</tspan><tspan dy="6.44">)</tspan></text>
<path d="M264.5 719.1L264.5 727.1" stroke="#000" stroke-width="3.0"/>
<rect x="252.85" y="666.52" width="23.30" height="52.58" fill="#9a6520"/>
<text x="269.50" y="736.10" font-size="19.5" dy="6.98" text-anchor="end" stroke="#000" stroke-width="0.22" transform="rotate(-45 269.50 736.10)">RKO(BRAF<tspan dy="-6.44" font-size="14.04">V600E/-/-</tspan><tspan dy="6.44">)</tspan></text>
<path d="M300.4 719.1L300.4 727.1" stroke="#000" stroke-width="3.0"/>
<rect x="288.75" y="654.48" width="23.30" height="64.62" fill="#0b7a37"/>
<text x="305.40" y="736.10" font-size="19.5" dy="6.98" text-anchor="end" stroke="#000" stroke-width="0.22" transform="rotate(-45 305.40 736.10)">Caco-2-CR</text>
<path d="M336.3 719.1L336.3 727.1" stroke="#000" stroke-width="3.0"/>
<rect x="325.85" y="592.26" width="20.90" height="126.84" fill="#a9a8ab" stroke="#000" stroke-width="2.6"/>
<text x="341.30" y="736.10" font-size="19.5" dy="6.98" text-anchor="end" stroke="#000" stroke-width="0.22" transform="rotate(-45 341.30 736.10)">HCT116(KRAS<tspan dy="-6.44" font-size="14.04">wt/-</tspan><tspan dy="6.44">)</tspan></text>
<path d="M372.2 719.1L372.2 727.1" stroke="#000" stroke-width="3.0"/>
<rect x="361.75" y="694.81" width="20.90" height="24.29" fill="#e5121b" stroke="#000" stroke-width="2.6"/>
<text x="377.20" y="736.10" font-size="19.5" dy="6.98" text-anchor="end" stroke="#000" stroke-width="0.22" transform="rotate(-45 377.20 736.10)">DLD-1(KRAS<tspan dy="-6.44" font-size="14.04">wt/-</tspan><tspan dy="6.44">)</tspan></text>
<path d="M408.1 719.1L408.1 727.1" stroke="#000" stroke-width="3.0"/>
<rect x="397.65" y="657.53" width="20.90" height="61.57" fill="#6e9fd9" stroke="#000" stroke-width="2.6"/>
<text x="413.10" y="736.10" font-size="19.5" dy="6.98" text-anchor="end" stroke="#000" stroke-width="0.22" transform="rotate(-45 413.10 736.10)">HT29(shBRAF)</text>
<path d="M444.0 719.1L444.0 727.1" stroke="#000" stroke-width="3.0"/>
<rect x="433.55" y="671.92" width="20.90" height="47.18" fill="#9a6520" stroke="#000" stroke-width="2.6"/>
<text x="449.00" y="736.10" font-size="19.5" dy="6.98" text-anchor="end" stroke="#000" stroke-width="0.22" transform="rotate(-45 449.00 736.10)">RKO(BRAF<tspan dy="-6.44" font-size="14.04">wt/-/-</tspan><tspan dy="6.44">)</tspan></text>
<path d="M479.9 719.1L479.9 727.1" stroke="#000" stroke-width="3.0"/>
<rect x="469.45" y="661.73" width="20.90" height="57.37" fill="#0b7a37" stroke="#000" stroke-width="2.6"/>
<text x="484.90" y="736.10" font-size="19.5" dy="6.98" text-anchor="end" stroke="#000" stroke-width="0.22" transform="rotate(-45 484.90 736.10)">Caco-2</text>
<path d="M147.0 601.8L314.0 601.8" stroke="#000" stroke-width="1.6"/>
<path d="M229.6 601.8L229.6 565.9" stroke="#000" stroke-width="1.6"/>
<path d="M229.6 565.9L412.6 565.9" stroke="#000" stroke-width="1.6"/>
<path d="M412.6 565.9L412.6 581.0" stroke="#000" stroke-width="1.6"/>
<path d="M326.5 581.0L493.4 581.0" stroke="#000" stroke-width="1.6"/>
<text x="323.00" y="557.00" font-size="19" dy="6.80" text-anchor="middle" stroke="#000" stroke-width="0.22">ns</text>
<text x="73.50" y="649.30" font-size="20" dy="7.16" text-anchor="middle" stroke="#000" stroke-width="0.22" transform="rotate(-90 73.50 649.30)">3BP IC<tspan dy="-6.6" font-size="14.4">50</tspan></text>
<text x="559.60" y="574.20" font-size="30" stroke="#000" stroke-width="0.22">J</text>
<rect x="637.50" y="683.10" width="27.80" height="90.60" fill="#312c2a"/>
<rect x="673.50" y="684.91" width="28.00" height="88.79" fill="#a9a8ac"/>
<rect x="710.00" y="690.35" width="28.20" height="83.35" fill="#878584"/>
<rect x="746.40" y="699.41" width="28.20" height="74.29" fill="#dcdcdc"/>
<path d="M628.2 663.7L628.2 775.3" stroke="#000" stroke-width="3.2"/>
<path d="M619.2 773.7L786.0 773.7" stroke="#000" stroke-width="3.2"/>
<path d="M619.2 773.7L628.2 773.7" stroke="#000" stroke-width="3.2"/>
<text x="617.20" y="773.70" font-size="23.3" dy="8.34" text-anchor="end" stroke="#000" stroke-width="0.22">0</text>
<path d="M619.2 728.4L628.2 728.4" stroke="#000" stroke-width="3.2"/>
<text x="617.20" y="728.40" font-size="23.3" dy="8.34" text-anchor="end" stroke="#000" stroke-width="0.22">50</text>
<path d="M619.2 683.1L628.2 683.1" stroke="#000" stroke-width="3.2"/>
<text x="617.20" y="683.10" font-size="23.3" dy="8.34" text-anchor="end" stroke="#000" stroke-width="0.22">100</text>
<path d="M651.4 773.7L651.4 781.7" stroke="#000" stroke-width="3.2"/>
<text x="653.00" y="796.20" font-size="23.3" dy="8.34" text-anchor="end" stroke="#000" stroke-width="0.22" transform="rotate(-45 653.00 796.20)">PBS</text>
<path d="M687.5 773.7L687.5 781.7" stroke="#000" stroke-width="3.2"/>
<text x="689.10" y="796.20" font-size="23.3" dy="8.34" text-anchor="end" stroke="#000" stroke-width="0.22" transform="rotate(-45 689.10 796.20)">Cetuximab</text>
<path d="M724.1 773.7L724.1 781.7" stroke="#000" stroke-width="3.2"/>
<text x="725.70" y="796.20" font-size="23.3" dy="8.34" text-anchor="end" stroke="#000" stroke-width="0.22" transform="rotate(-45 725.70 796.20)">3-BP</text>
<path d="M760.5 773.7L760.5 781.7" stroke="#000" stroke-width="3.2"/>
<text x="762.10" y="796.20" font-size="23.3" dy="8.34" text-anchor="end" stroke="#000" stroke-width="0.22" transform="rotate(-45 762.10 796.20)">Co-treatment</text>
<circle cx="643.40" cy="681.29" r="4.20" fill="#000"/>
<circle cx="651.40" cy="684.91" r="4.20" fill="#000"/>
<circle cx="658.40" cy="684.91" r="4.20" fill="#000"/>
<path d="M687.5 682.6V687.2M681.5 682.6h12.0M681.5 687.2h12.0" stroke="#000" stroke-width="2.2" fill="none"/>
<rect x="676.75" y="677.54" width="7.50" height="7.50" fill="#000"/>
<rect x="683.75" y="682.07" width="7.50" height="7.50" fill="#000"/>
<rect x="690.75" y="682.07" width="7.50" height="7.50" fill="#000"/>
<rect x="683.75" y="683.88" width="7.50" height="7.50" fill="#000"/>
<path d="M724.1 689.0V691.7M718.1 689.0h12.0M718.1 691.7h12.0" stroke="#000" stroke-width="2.2" fill="none"/>
<polygon points="712.60,692.59 721.60,692.59 717.10,684.49" fill="#000"/>
<polygon points="719.60,695.30 728.60,695.30 724.10,687.20" fill="#000"/>
<polygon points="727.60,694.40 736.60,694.40 732.10,686.30" fill="#000"/>
<path d="M760.5 698.0V700.8M754.5 698.0h12.0M754.5 700.8h12.0" stroke="#000" stroke-width="2.2" fill="none"/>
<polygon points="748.00,692.64 757.00,692.64 752.50,700.74" fill="#000"/>
<polygon points="756.00,695.36 765.00,695.36 760.50,703.46" fill="#000"/>
<polygon points="763.00,693.55 772.00,693.55 767.50,701.65" fill="#000"/>
<polyline points="687.80,672.50 687.80,645.60 760.70,645.60 760.70,654.40" fill="none" stroke="#000" stroke-width="1.6" stroke-linejoin="miter"/>
<polyline points="724.30,683.50 724.30,678.00 760.70,678.00 760.70,692.40" fill="none" stroke="#000" stroke-width="1.6" stroke-linejoin="miter"/>
<text x="675.70" y="639.00" font-size="22.3" stroke="#000" stroke-width="0.22">P=0.0036</text>
<text x="706.60" y="672.50" font-size="22.3" stroke="#000" stroke-width="0.22">P=0.0140</text>
<text x="599.50" y="596.30" font-size="23" stroke="#000" stroke-width="0.22">DLD-1(KRAS<tspan dy="-8.28" font-size="17.25">G13D/-</tspan><tspan dy="8.28">)</tspan></text>
<text x="559.50" y="696.00" font-size="25" dy="8.95" text-anchor="middle" stroke="#000" stroke-width="0.22" transform="rotate(-90 559.50 696.00)">Cell viability(%)</text>
<text x="871.70" y="574.20" font-size="30" stroke="#000" stroke-width="0.22">K</text>
<rect x="945.30" y="682.40" width="28.20" height="89.90" fill="#312c2a"/>
<rect x="981.30" y="693.19" width="28.00" height="79.11" fill="#a9a8ac"/>
<rect x="1017.30" y="688.69" width="28.00" height="83.61" fill="#878584"/>
<rect x="1053.50" y="707.57" width="28.30" height="64.73" fill="#dcdcdc"/>
<path d="M936.0 663.2L936.0 773.9" stroke="#000" stroke-width="3.2"/>
<path d="M927.0 772.3L1094.0 772.3" stroke="#000" stroke-width="3.2"/>
<path d="M927.0 772.3L936.0 772.3" stroke="#000" stroke-width="3.2"/>
<text x="925.00" y="772.30" font-size="23.3" dy="8.34" text-anchor="end" stroke="#000" stroke-width="0.22">0</text>
<path d="M927.0 727.3L936.0 727.3" stroke="#000" stroke-width="3.2"/>
<text x="925.00" y="727.35" font-size="23.3" dy="8.34" text-anchor="end" stroke="#000" stroke-width="0.22">50</text>
<path d="M927.0 682.4L936.0 682.4" stroke="#000" stroke-width="3.2"/>
<text x="925.00" y="682.40" font-size="23.3" dy="8.34" text-anchor="end" stroke="#000" stroke-width="0.22">100</text>
<path d="M959.4 772.3L959.4 780.3" stroke="#000" stroke-width="3.2"/>
<text x="961.00" y="794.80" font-size="23.3" dy="8.34" text-anchor="end" stroke="#000" stroke-width="0.22" transform="rotate(-45 961.00 794.80)">PBS</text>
<path d="M995.3 772.3L995.3 780.3" stroke="#000" stroke-width="3.2"/>
<text x="996.90" y="794.80" font-size="23.3" dy="8.34" text-anchor="end" stroke="#000" stroke-width="0.22" transform="rotate(-45 996.90 794.80)">Cetuximab</text>
<path d="M1031.3 772.3L1031.3 780.3" stroke="#000" stroke-width="3.2"/>
<text x="1032.90" y="794.80" font-size="23.3" dy="8.34" text-anchor="end" stroke="#000" stroke-width="0.22" transform="rotate(-45 1032.90 794.80)">3-BP</text>
<path d="M1067.7 772.3L1067.7 780.3" stroke="#000" stroke-width="3.2"/>
<text x="1069.25" y="794.80" font-size="23.3" dy="8.34" text-anchor="end" stroke="#000" stroke-width="0.22" transform="rotate(-45 1069.25 794.80)">Co-treatment</text>
<circle cx="951.40" cy="680.60" r="4.20" fill="#000"/>
<circle cx="959.40" cy="684.20" r="4.20" fill="#000"/>
<circle cx="966.40" cy="683.30" r="4.20" fill="#000"/>
<path d="M995.3 690.0V696.3M989.3 690.0h12.0M989.3 696.3h12.0" stroke="#000" stroke-width="2.2" fill="none"/>
<rect x="984.55" y="685.84" width="7.50" height="7.50" fill="#000"/>
<rect x="991.55" y="691.24" width="7.50" height="7.50" fill="#000"/>
<rect x="999.55" y="688.54" width="7.50" height="7.50" fill="#000"/>
<path d="M1031.3 687.3V690.0M1025.3 687.3h12.0M1025.3 690.0h12.0" stroke="#000" stroke-width="2.2" fill="none"/>
<polygon points="1019.80,690.94 1028.80,690.94 1024.30,682.85" fill="#000"/>
<polygon points="1026.80,692.74 1035.80,692.74 1031.30,684.64" fill="#000"/>
<polygon points="1034.80,692.74 1043.80,692.74 1039.30,684.64" fill="#000"/>
<path d="M1067.7 705.8V709.4M1061.7 705.8h12.0M1061.7 709.4h12.0" stroke="#000" stroke-width="2.2" fill="none"/>
<polygon points="1055.15,700.83 1064.15,700.83 1059.65,708.92" fill="#000"/>
<polygon points="1063.15,704.42 1072.15,704.42 1067.65,712.52" fill="#000"/>
<polygon points="1070.15,701.72 1079.15,701.72 1074.65,709.82" fill="#000"/>
<polyline points="995.60,672.50 995.60,645.60 1068.00,645.60 1068.00,653.70" fill="none" stroke="#000" stroke-width="1.6" stroke-linejoin="miter"/>
<polyline points="1031.40,682.40 1031.40,677.40 1068.00,677.40 1068.00,692.00" fill="none" stroke="#000" stroke-width="1.6" stroke-linejoin="miter"/>
<text x="983.50" y="638.30" font-size="22.3" stroke="#000" stroke-width="0.22">P=0.0070</text>
<text x="1013.70" y="672.00" font-size="22.3" stroke="#000" stroke-width="0.22">P=0.0013</text>
<text x="908.80" y="596.30" font-size="22.3" stroke="#000" stroke-width="0.22">HT29(BRAF<tspan dy="-8.03" font-size="16.73">V600E</tspan><tspan dy="8.03">)</tspan></text>
<text x="867.30" y="695.50" font-size="25" dy="8.95" text-anchor="middle" stroke="#000" stroke-width="0.22" transform="rotate(-90 867.30 695.50)">Cell viability(%)</text>
<text x="1169.70" y="574.20" font-size="30" stroke="#000" stroke-width="0.22">L</text>
<rect x="1240.00" y="674.00" width="28.00" height="91.30" fill="#312c2a"/>
<rect x="1275.90" y="676.74" width="28.70" height="88.56" fill="#a9a8ac"/>
<rect x="1312.30" y="680.39" width="28.30" height="84.91" fill="#878584"/>
<rect x="1348.30" y="690.43" width="28.50" height="74.87" fill="#dcdcdc"/>
<path d="M1231.0 654.8L1231.0 766.9" stroke="#000" stroke-width="3.2"/>
<path d="M1222.0 765.3L1388.5 765.3" stroke="#000" stroke-width="3.2"/>
<path d="M1222.0 765.3L1231.0 765.3" stroke="#000" stroke-width="3.2"/>
<text x="1220.00" y="765.30" font-size="23.3" dy="8.34" text-anchor="end" stroke="#000" stroke-width="0.22">0</text>
<path d="M1222.0 719.6L1231.0 719.6" stroke="#000" stroke-width="3.2"/>
<text x="1220.00" y="719.65" font-size="23.3" dy="8.34" text-anchor="end" stroke="#000" stroke-width="0.22">50</text>
<path d="M1222.0 674.0L1231.0 674.0" stroke="#000" stroke-width="3.2"/>
<text x="1220.00" y="674.00" font-size="23.3" dy="8.34" text-anchor="end" stroke="#000" stroke-width="0.22">100</text>
<path d="M1254.0 765.3L1254.0 773.3" stroke="#000" stroke-width="3.2"/>
<text x="1255.60" y="787.80" font-size="23.3" dy="8.34" text-anchor="end" stroke="#000" stroke-width="0.22" transform="rotate(-45 1255.60 787.80)">PBS</text>
<path d="M1290.2 765.3L1290.2 773.3" stroke="#000" stroke-width="3.2"/>
<text x="1291.85" y="787.80" font-size="23.3" dy="8.34" text-anchor="end" stroke="#000" stroke-width="0.22" transform="rotate(-45 1291.85 787.80)">Cetuximab</text>
<path d="M1326.4 765.3L1326.4 773.3" stroke="#000" stroke-width="3.2"/>
<text x="1328.05" y="787.80" font-size="23.3" dy="8.34" text-anchor="end" stroke="#000" stroke-width="0.22" transform="rotate(-45 1328.05 787.80)">3-BP</text>
<path d="M1362.5 765.3L1362.5 773.3" stroke="#000" stroke-width="3.2"/>
<text x="1364.15" y="787.80" font-size="23.3" dy="8.34" text-anchor="end" stroke="#000" stroke-width="0.22" transform="rotate(-45 1364.15 787.80)">Co-treatment</text>
<circle cx="1247.00" cy="672.17" r="4.20" fill="#000"/>
<circle cx="1254.00" cy="675.83" r="4.20" fill="#000"/>
<circle cx="1261.00" cy="673.09" r="4.20" fill="#000"/>
<path d="M1290.2 673.1V680.4M1284.2 673.1h12.0M1284.2 680.4h12.0" stroke="#000" stroke-width="2.2" fill="none"/>
<rect x="1279.50" y="667.51" width="7.50" height="7.50" fill="#000"/>
<rect x="1286.50" y="674.82" width="7.50" height="7.50" fill="#000"/>
<rect x="1294.50" y="672.08" width="7.50" height="7.50" fill="#000"/>
<path d="M1326.4 677.7V683.1M1320.4 677.7h12.0M1320.4 683.1h12.0" stroke="#000" stroke-width="2.2" fill="none"/>
<polygon points="1314.95,681.70 1323.95,681.70 1319.45,673.60" fill="#000"/>
<polygon points="1321.95,686.27 1330.95,686.27 1326.45,678.17" fill="#000"/>
<polygon points="1329.95,683.53 1338.95,683.53 1334.45,675.43" fill="#000"/>
<path d="M1362.5 689.1V691.8M1356.5 689.1h12.0M1356.5 691.8h12.0" stroke="#000" stroke-width="2.2" fill="none"/>
<polygon points="1351.05,684.56 1360.05,684.56 1355.55,692.66" fill="#000"/>
<polygon points="1358.05,687.30 1367.05,687.30 1362.55,695.40" fill="#000"/>
<polygon points="1364.05,685.47 1373.05,685.47 1368.55,693.57" fill="#000"/>
<polyline points="1290.20,661.00 1290.20,634.50 1362.70,634.50 1362.70,642.70" fill="none" stroke="#000" stroke-width="1.6" stroke-linejoin="miter"/>
<polyline points="1326.70,673.60 1326.70,668.00 1362.70,668.00 1362.70,683.00" fill="none" stroke="#000" stroke-width="1.6" stroke-linejoin="miter"/>
<text x="1278.70" y="629.40" font-size="22.3" stroke="#000" stroke-width="0.22">P=0.0102</text>
<text x="1309.00" y="662.60" font-size="22.3" stroke="#000" stroke-width="0.22">P=0.0226</text>
<text x="1215.50" y="589.00" font-size="23.2" stroke="#000" stroke-width="0.22">Caco-2-CR</text>
<text x="1166.30" y="689.60" font-size="25" dy="8.95" text-anchor="middle" stroke="#000" stroke-width="0.22" transform="rotate(-90 1166.30 689.60)">Cell viability(%)</text>
<rect x="3.50" y="914.70" width="1440.50" height="359.30" fill="none" stroke="#2a2a2a" stroke-width="1.6"/>
<text x="45.20" y="955.80" font-size="30" stroke="#000" stroke-width="0.22">M</text>
<text x="119.80" y="987.80" font-size="19.5" dy="6.98" text-anchor="middle" stroke="#000" stroke-width="0.22" font-weight="bold" transform="rotate(-30 119.80 987.80)">PBS</text>
<text x="222.00" y="973.40" font-size="19.5" dy="6.98" text-anchor="middle" stroke="#000" stroke-width="0.22" font-weight="bold" transform="rotate(-30 222.00 973.40)">Cetuximab</text>
<text x="274.40" y="987.00" font-size="19.5" dy="6.98" text-anchor="middle" stroke="#000" stroke-width="0.22" font-weight="bold" transform="rotate(-30 274.40 987.00)">3-BP</text>
<text x="385.50" y="969.60" font-size="19.5" dy="6.98" text-anchor="middle" stroke="#000" stroke-width="0.22" font-weight="bold" transform="rotate(-30 385.50 969.60)">Co-treatment</text>
<rect x="81.00" y="1016.00" width="303.50" height="228.00" fill="#f9f9fa"/>
<circle cx="118.00" cy="1053.50" r="36.80" fill="#cdd3e1"/>
<circle cx="119.60" cy="1053.50" r="33.60" fill="#d9dee8"/>
<circle cx="120.00" cy="1053.50" r="32.00" fill="#e2e5ec"/>
<path d="M90.7 1068.4h0M146.9 1037.2h0M94.3 1031.7h0M113.9 1021.7h0M140.0 1028.6h0M104.8 1076.4h0M144.5 1068.2h0M86.5 1055.6h0M103.4 1049.0h0M149.9 1060.2h0M141.8 1039.8h0M108.3 1054.3h0M137.7 1033.7h0M127.9 1083.0h0M100.2 1028.7h0M99.8 1031.5h0M147.2 1040.6h0M141.0 1050.0h0M147.6 1060.7h0M117.9 1050.2h0M102.4 1030.2h0M91.7 1041.1h0M126.1 1050.5h0M134.6 1076.8h0M86.9 1060.0h0M111.8 1026.9h0M150.0 1061.7h0M107.3 1074.8h0M147.0 1058.9h0M119.7 1067.6h0M102.5 1076.5h0M86.8 1042.7h0M118.4 1082.9h0M145.6 1049.8h0M129.4 1056.5h0M106.9 1083.9h0M116.2 1020.5h0M114.6 1080.3h0M101.4 1068.3h0M136.8 1033.2h0M97.6 1059.6h0M140.6 1067.0h0M136.9 1033.4h0M115.1 1022.0h0M139.0 1075.4h0M125.8 1022.4h0M89.0 1060.5h0M144.7 1065.0h0M129.4 1029.8h0M112.2 1069.7h0M122.1 1080.5h0M91.3 1054.1h0" stroke="#553597" stroke-width="1.7" stroke-linecap="round" fill="none"/>
<path d="M143.8 1032.6h0M95.0 1034.3h0M123.9 1086.2h0M141.7 1075.0h0M145.7 1064.9h0M108.6 1066.3h0M103.1 1030.7h0M149.6 1062.1h0M110.5 1082.1h0M137.0 1058.5h0M116.6 1074.0h0M149.4 1052.9h0M98.6 1076.5h0M92.0 1046.3h0M116.8 1081.5h0M149.9 1061.6h0M145.9 1034.7h0M93.7 1034.1h0M95.9 1073.3h0M144.5 1072.6h0M120.3 1062.2h0M134.7 1046.0h0M129.3 1068.5h0M119.4 1083.8h0M135.5 1058.7h0M110.2 1028.5h0M116.7 1031.6h0M108.6 1073.2h0M135.3 1064.7h0M119.0 1024.6h0M127.0 1046.1h0M116.2 1062.1h0M105.4 1040.3h0M125.5 1081.7h0M116.6 1022.0h0M102.7 1031.1h0M93.9 1056.2h0M127.4 1067.2h0M110.6 1023.2h0M87.1 1040.2h0M103.2 1030.0h0M110.8 1084.0h0M135.1 1078.7h0M123.8 1078.3h0M100.4 1047.1h0M140.0 1065.4h0M114.0 1026.5h0M115.0 1033.9h0M88.3 1069.2h0M105.5 1052.4h0" stroke="#553597" stroke-width="1.4" stroke-linecap="round" fill="none"/>
<path d="M108.7 1021.2h0M94.0 1046.1h0M101.1 1068.4h0M145.5 1039.1h0M90.4 1049.2h0M142.1 1034.8h0M96.3 1029.2h0M128.5 1079.3h0M142.4 1075.3h0M116.3 1038.5h0M86.0 1057.2h0M135.1 1047.6h0M149.9 1054.0h0M144.3 1044.3h0M109.6 1063.5h0M143.4 1039.5h0M107.1 1054.3h0M94.0 1053.1h0M107.9 1052.4h0M138.8 1078.9h0M128.7 1054.9h0M139.0 1069.8h0M101.9 1025.7h0M142.2 1032.1h0M129.6 1062.2h0M109.5 1027.8h0M88.8 1059.5h0M144.4 1043.1h0M143.9 1046.2h0M119.5 1061.9h0M88.0 1066.5h0M99.5 1077.8h0M128.7 1047.4h0M116.2 1074.3h0M133.9 1083.0h0M116.5 1020.5h0M90.8 1034.3h0" stroke="#553597" stroke-width="2.4" stroke-linecap="round" fill="none"/>
<path d="M125.3 1049.3h0M131.0 1027.9h0M141.0 1031.0h0M120.0 1058.1h0M139.7 1062.3h0M130.8 1032.1h0M131.6 1050.6h0M90.3 1048.3h0M101.5 1081.0h0M117.9 1041.2h0M112.5 1051.0h0M150.2 1053.5h0M108.2 1042.6h0M128.2 1021.9h0M121.2 1040.8h0M104.7 1037.6h0M96.6 1072.4h0M124.1 1082.9h0M138.4 1062.2h0M103.8 1024.7h0M100.8 1027.5h0M132.0 1028.1h0M101.6 1067.7h0M123.6 1021.6h0M128.1 1021.9h0M96.3 1059.7h0M108.4 1080.1h0M106.6 1059.6h0M106.3 1025.8h0M140.3 1037.5h0M98.8 1072.4h0M105.9 1069.1h0M112.0 1085.1h0M117.1 1024.4h0M95.2 1072.1h0M106.0 1024.8h0M104.4 1029.0h0M110.4 1084.7h0M145.9 1059.4h0M92.8 1069.2h0M109.1 1068.1h0M109.3 1070.6h0M142.6 1076.1h0M115.5 1024.6h0M136.4 1031.0h0M97.6 1076.1h0M109.5 1024.4h0M132.6 1082.7h0M97.9 1035.8h0M116.2 1036.6h0M136.5 1046.8h0M100.1 1047.6h0" stroke="#553597" stroke-width="1.1" stroke-linecap="round" fill="none"/>
<path d="M113.2 1083.8h0M111.1 1048.7h0M129.9 1076.8h0M119.9 1082.7h0M99.1 1044.9h0M88.0 1064.0h0M94.7 1058.4h0M143.8 1045.0h0M132.5 1064.0h0M108.3 1022.9h0M130.9 1059.7h0M92.2 1043.1h0M97.9 1060.2h0M133.5 1038.5h0M132.0 1029.4h0M111.8 1023.1h0M118.7 1041.3h0M102.2 1062.5h0M127.1 1076.1h0M110.1 1062.8h0M106.3 1025.0h0M131.6 1080.1h0M86.7 1059.2h0M112.7 1032.8h0M92.9 1048.5h0M90.8 1058.2h0M102.2 1053.3h0M97.8 1062.2h0M100.7 1068.0h0M89.5 1037.6h0M124.4 1056.6h0M138.6 1041.7h0M118.9 1023.6h0M124.3 1021.9h0M98.5 1077.5h0M144.3 1045.6h0M99.1 1078.4h0M100.7 1030.0h0M100.3 1076.0h0" stroke="#553597" stroke-width="2.0" stroke-linecap="round" fill="none"/>
<circle cx="195.20" cy="1053.50" r="36.80" fill="#cdd3e1"/>
<circle cx="196.80" cy="1053.50" r="33.60" fill="#d9dee8"/>
<circle cx="197.20" cy="1053.50" r="32.00" fill="#e2e5ec"/>
<path d="M196.3 1041.2h0M186.4 1028.7h0M196.6 1033.7h0M186.3 1024.1h0M180.2 1054.9h0M202.2 1023.6h0M213.5 1028.8h0M190.8 1075.8h0M176.7 1025.6h0M200.6 1035.4h0M168.1 1067.0h0M191.6 1056.1h0M202.9 1085.8h0M177.5 1072.8h0M186.6 1049.7h0M218.3 1073.7h0M209.0 1063.5h0M174.3 1070.7h0M166.7 1038.1h0M227.3 1050.4h0M200.2 1085.7h0M192.5 1034.1h0M198.0 1020.3h0M205.2 1044.4h0M169.0 1073.2h0M226.0 1056.1h0M216.7 1051.8h0M180.1 1035.2h0M213.4 1079.3h0M191.9 1037.2h0M197.8 1082.7h0M200.6 1075.8h0M199.7 1047.8h0M203.2 1055.7h0M176.5 1033.3h0M199.7 1056.4h0M192.0 1024.0h0M217.1 1073.4h0M209.4 1072.7h0M166.6 1062.4h0M184.2 1047.8h0M194.6 1023.6h0M172.2 1078.0h0M198.1 1049.4h0M207.0 1025.7h0M204.1 1045.9h0M187.5 1073.7h0M216.5 1075.3h0M225.8 1041.2h0M208.4 1076.5h0M217.0 1052.4h0M193.5 1050.9h0M179.8 1056.4h0M221.5 1063.6h0M192.2 1069.1h0" stroke="#553597" stroke-width="1.7" stroke-linecap="round" fill="none"/>
<path d="M183.8 1055.5h0M209.2 1030.1h0M200.2 1053.8h0M174.2 1056.1h0M167.0 1042.1h0M194.5 1034.7h0M173.7 1039.6h0M192.1 1064.0h0M187.6 1035.2h0M201.4 1020.7h0M172.1 1033.1h0M210.9 1079.0h0M220.8 1072.8h0M206.3 1044.6h0M198.9 1077.0h0M210.8 1080.0h0M166.5 1054.4h0M217.4 1049.4h0M195.1 1071.2h0M198.4 1044.8h0M186.5 1034.0h0M168.7 1066.8h0M176.7 1034.0h0M196.2 1050.3h0M169.7 1071.4h0M183.5 1083.2h0M165.5 1054.4h0M200.7 1059.4h0M206.2 1081.3h0M220.9 1034.5h0M188.4 1067.0h0M216.2 1043.2h0M162.6 1051.1h0M172.8 1074.4h0M213.4 1027.2h0M174.0 1029.1h0M205.0 1025.5h0M168.6 1065.3h0M210.1 1048.6h0M220.8 1069.1h0M190.3 1042.7h0M221.0 1073.7h0M209.8 1073.4h0M189.2 1070.0h0M206.5 1043.5h0" stroke="#553597" stroke-width="2.0" stroke-linecap="round" fill="none"/>
<path d="M222.4 1034.1h0M223.3 1037.2h0M204.5 1042.3h0M170.9 1055.1h0M200.7 1056.1h0M188.9 1062.8h0M172.7 1057.2h0M219.9 1065.3h0M222.4 1065.3h0M205.1 1061.1h0M173.3 1034.5h0M179.8 1064.9h0M226.9 1047.4h0M195.8 1078.4h0M206.2 1024.3h0M226.4 1057.7h0M206.7 1067.7h0M178.8 1049.5h0M194.1 1074.7h0M225.0 1049.0h0M197.4 1074.8h0M170.6 1049.7h0M191.9 1083.7h0M212.8 1026.5h0M185.4 1059.9h0M189.8 1078.4h0M171.6 1049.2h0M214.5 1050.4h0M204.8 1058.0h0M223.9 1043.4h0M169.5 1043.8h0M186.2 1021.2h0M211.6 1043.0h0M181.8 1060.4h0M190.0 1025.4h0M224.7 1063.7h0M162.9 1053.3h0M222.2 1039.2h0M214.3 1074.7h0M193.2 1039.1h0M182.5 1025.8h0M175.7 1029.6h0M179.4 1028.1h0M214.1 1045.5h0M199.5 1025.7h0M206.0 1035.1h0M218.5 1045.3h0M209.9 1028.6h0M209.7 1083.9h0M214.5 1030.5h0M192.7 1061.1h0M183.5 1041.0h0" stroke="#553597" stroke-width="1.1" stroke-linecap="round" fill="none"/>
<path d="M191.0 1025.8h0M223.9 1048.6h0M209.0 1041.0h0M208.6 1034.6h0M207.7 1076.3h0M220.1 1039.8h0M210.8 1048.7h0M184.4 1036.6h0M209.1 1024.3h0M173.5 1078.2h0M207.8 1079.2h0M212.3 1080.5h0M200.3 1080.9h0M217.5 1057.9h0M213.4 1028.6h0M201.0 1023.3h0M211.7 1026.6h0M207.8 1025.9h0M185.7 1085.8h0M198.1 1036.9h0M222.3 1070.8h0M221.0 1066.1h0M190.1 1063.0h0M204.7 1037.4h0M173.9 1032.6h0M207.2 1022.2h0M193.1 1065.9h0M216.0 1037.7h0M201.0 1081.6h0M219.3 1058.2h0M224.9 1048.5h0M188.2 1063.1h0M186.8 1061.2h0M218.1 1032.5h0M183.1 1044.6h0M198.5 1023.8h0M217.8 1060.1h0M221.8 1065.7h0M192.0 1040.0h0M197.2 1070.9h0M193.9 1074.8h0M167.7 1048.5h0M191.7 1075.7h0M216.3 1032.7h0M222.4 1056.0h0M220.4 1042.6h0M190.7 1040.1h0M163.4 1043.8h0M199.3 1034.5h0M163.0 1048.7h0M186.6 1026.2h0M214.3 1058.9h0M181.8 1079.7h0M185.9 1052.9h0M174.4 1027.7h0M165.2 1038.9h0M211.9 1046.8h0M194.2 1039.3h0M200.2 1084.9h0M216.2 1072.3h0M203.6 1036.1h0" stroke="#553597" stroke-width="2.4" stroke-linecap="round" fill="none"/>
<path d="M179.3 1053.9h0M211.0 1024.8h0M202.9 1059.7h0M184.1 1052.8h0M228.0 1048.4h0M167.5 1040.4h0M181.4 1073.3h0M224.4 1051.1h0M216.7 1052.3h0M227.2 1061.7h0M175.8 1078.3h0M177.0 1054.3h0M183.7 1024.7h0M212.8 1059.1h0M200.6 1059.9h0M166.7 1050.8h0M172.9 1055.2h0M167.6 1042.7h0M212.0 1076.2h0M209.8 1067.5h0M227.9 1048.0h0M181.4 1028.8h0M178.3 1040.4h0M221.1 1066.2h0M167.7 1038.1h0M214.9 1076.9h0M221.5 1040.8h0M202.3 1054.5h0M187.8 1084.5h0M196.3 1032.2h0M184.8 1028.6h0M205.1 1067.3h0M166.5 1064.2h0M184.8 1053.3h0M201.1 1053.2h0M172.6 1048.9h0M219.6 1035.5h0M174.0 1047.4h0M163.5 1062.0h0M203.0 1062.9h0M215.2 1055.8h0M222.5 1047.7h0M216.2 1060.4h0M206.8 1024.2h0M168.2 1070.3h0M227.3 1051.3h0M186.1 1070.1h0" stroke="#553597" stroke-width="1.4" stroke-linecap="round" fill="none"/>
<circle cx="270.70" cy="1053.50" r="36.80" fill="#cdd3e1"/>
<circle cx="272.30" cy="1053.50" r="33.60" fill="#d9dee8"/>
<circle cx="272.70" cy="1053.50" r="32.00" fill="#e2e5ec"/>
<path d="M301.7 1065.0h0M253.4 1080.1h0M269.6 1021.3h0M257.9 1025.2h0M272.7 1020.4h0M261.2 1035.5h0M248.7 1034.0h0M276.1 1044.7h0M255.6 1061.8h0M253.8 1050.7h0M254.7 1063.3h0M262.0 1037.0h0M261.4 1079.0h0M300.9 1045.7h0M258.0 1049.5h0M275.6 1040.2h0M258.1 1026.1h0M251.1 1036.8h0M284.6 1051.1h0M251.1 1049.4h0M248.5 1059.2h0M257.6 1056.2h0M290.9 1041.5h0M285.4 1030.5h0M238.1 1048.8h0" stroke="#553597" stroke-width="1.1" stroke-linecap="round" fill="none"/>
<path d="M278.1 1034.6h0M239.7 1064.7h0M249.6 1077.7h0M295.7 1057.3h0M294.5 1040.1h0M256.6 1079.9h0M257.2 1028.7h0M259.2 1042.2h0M248.6 1078.1h0M282.5 1064.0h0M282.2 1067.6h0M292.0 1068.2h0M272.1 1065.5h0M240.9 1069.0h0M251.8 1066.5h0M298.3 1046.8h0M257.3 1027.4h0M278.6 1053.1h0M262.1 1068.3h0M251.4 1078.1h0M249.3 1061.6h0M282.7 1029.4h0M269.4 1025.5h0M292.8 1064.4h0M291.2 1047.9h0M289.6 1076.7h0" stroke="#553597" stroke-width="1.7" stroke-linecap="round" fill="none"/>
<path d="M287.2 1057.3h0M294.7 1032.1h0M290.2 1048.7h0M260.0 1074.5h0M267.8 1082.7h0M280.1 1067.8h0M279.2 1023.7h0M239.8 1058.8h0M275.8 1057.0h0M292.8 1043.8h0M294.0 1070.4h0M254.1 1069.1h0M261.2 1084.7h0M269.6 1077.8h0M249.4 1072.7h0M295.6 1067.5h0M246.8 1058.6h0M279.2 1038.7h0M255.4 1053.7h0M250.9 1039.8h0M259.9 1081.7h0M266.2 1031.0h0M297.1 1072.6h0M283.9 1034.5h0M257.0 1037.4h0M250.4 1053.7h0M271.1 1070.4h0" stroke="#553597" stroke-width="1.4" stroke-linecap="round" fill="none"/>
<path d="M281.9 1021.6h0M261.7 1064.4h0M273.0 1024.6h0M268.3 1020.6h0M253.8 1053.7h0M265.6 1035.4h0M251.9 1052.1h0M264.2 1070.4h0M286.4 1069.7h0M270.6 1069.8h0M277.7 1064.6h0M241.9 1051.4h0M294.1 1042.3h0M249.0 1077.7h0M240.2 1060.7h0M293.5 1075.7h0M287.8 1068.0h0M266.4 1020.4h0M280.2 1082.5h0M270.1 1079.9h0M272.8 1073.6h0M255.9 1043.4h0M272.1 1050.7h0M250.7 1026.7h0M261.0 1073.8h0M274.2 1022.6h0M248.0 1047.0h0" stroke="#553597" stroke-width="2.4" stroke-linecap="round" fill="none"/>
<path d="M292.5 1036.3h0M293.5 1032.8h0M252.0 1046.4h0M275.3 1022.2h0M251.8 1036.6h0M294.9 1036.4h0M299.6 1058.0h0M271.2 1032.3h0M271.6 1048.3h0M253.3 1056.0h0M289.1 1077.1h0M270.0 1082.4h0M280.7 1030.9h0M304.0 1055.9h0M291.4 1049.9h0M272.3 1027.1h0M255.6 1067.3h0M284.5 1023.4h0M257.5 1084.1h0M252.1 1076.3h0M275.7 1046.7h0M301.9 1064.5h0M245.3 1047.2h0M238.4 1063.0h0M285.9 1039.0h0" stroke="#553597" stroke-width="2.0" stroke-linecap="round" fill="none"/>
<circle cx="347.00" cy="1053.50" r="36.80" fill="#cdd3e1"/>
<circle cx="348.60" cy="1053.50" r="33.60" fill="#d9dee8"/>
<circle cx="349.00" cy="1053.50" r="32.00" fill="#e2e5ec"/>
<path d="M335.7 1065.5h0M373.8 1064.9h0M375.5 1061.6h0M321.7 1038.3h0M316.0 1061.4h0" stroke="#553597" stroke-width="1.9" stroke-linecap="round" fill="none"/>
<path d="M328.7 1039.2h0M364.2 1053.0h0M361.5 1046.2h0M363.8 1037.5h0M352.8 1080.9h0M320.8 1067.7h0M379.8 1057.7h0M320.4 1052.3h0M371.8 1043.0h0M335.1 1081.1h0" stroke="#553597" stroke-width="1.6" stroke-linecap="round" fill="none"/>
<path d="M327.2 1068.5h0M327.0 1060.7h0M325.6 1067.5h0M316.9 1039.5h0M377.5 1059.6h0M325.6 1079.3h0" stroke="#553597" stroke-width="1.1" stroke-linecap="round" fill="none"/>
<path d="M350.1 1047.2h0M376.0 1039.6h0M364.5 1082.3h0" stroke="#553597" stroke-width="1.3" stroke-linecap="round" fill="none"/>
<path d="M344.1 1080.2h0M355.5 1053.0h0M315.3 1052.4h0M344.2 1086.7h0M338.2 1034.4h0M315.1 1043.5h0" stroke="#553597" stroke-width="0.9" stroke-linecap="round" fill="none"/>
<circle cx="118.00" cy="1131.10" r="36.80" fill="#cdd3e1"/>
<circle cx="119.60" cy="1131.10" r="33.60" fill="#d9dee8"/>
<circle cx="120.00" cy="1131.10" r="32.00" fill="#e2e5ec"/>
<path d="M125.0 1155.7h0M112.0 1138.2h0M105.6 1109.7h0M120.4 1117.6h0M91.9 1116.1h0M88.5 1138.4h0M128.3 1120.4h0M116.6 1131.5h0M119.1 1130.2h0M112.6 1100.2h0M117.2 1158.5h0M114.9 1142.1h0M109.8 1142.5h0M86.7 1142.4h0M130.0 1154.6h0M101.7 1150.7h0M122.3 1130.1h0M109.4 1126.6h0M130.1 1123.0h0M115.7 1129.9h0M118.1 1130.9h0M110.2 1132.2h0M98.4 1132.4h0M95.4 1128.0h0M99.6 1151.6h0M126.2 1143.4h0M125.6 1117.3h0M133.7 1137.3h0M95.5 1132.1h0M120.7 1149.4h0M93.7 1123.0h0M115.3 1134.7h0M128.5 1150.6h0M128.8 1157.9h0M85.8 1137.4h0M93.6 1115.2h0M143.5 1121.4h0M131.0 1135.8h0M134.4 1159.6h0M145.0 1127.3h0M120.8 1132.5h0M124.8 1127.2h0M118.5 1132.2h0M112.1 1128.8h0M131.0 1109.1h0M90.5 1129.3h0M119.1 1129.4h0M105.9 1140.6h0M111.1 1152.6h0M130.5 1105.2h0M133.0 1106.5h0M113.7 1125.8h0M135.2 1150.9h0M117.1 1140.9h0M116.7 1131.6h0M112.4 1140.1h0M105.8 1104.3h0M147.3 1129.5h0M129.7 1128.0h0M118.3 1141.5h0M94.2 1128.9h0M113.2 1118.2h0M117.7 1131.3h0M122.4 1124.5h0M134.2 1138.4h0M91.8 1130.3h0M115.2 1141.7h0M111.5 1109.9h0M107.6 1136.6h0M131.7 1155.8h0M123.9 1148.9h0M100.0 1134.2h0M117.8 1111.8h0M113.6 1159.4h0M126.2 1115.1h0M100.9 1139.9h0M110.6 1126.9h0M124.6 1125.1h0M120.7 1161.8h0M143.8 1120.8h0M117.1 1123.5h0M128.2 1104.5h0M116.5 1132.6h0M106.1 1122.3h0M135.1 1126.1h0M116.1 1121.8h0M107.4 1111.7h0M112.9 1118.5h0M125.9 1132.2h0M116.3 1142.3h0M147.2 1139.0h0M109.4 1120.1h0M118.5 1122.8h0M97.7 1127.5h0M111.8 1116.4h0M137.3 1152.7h0M117.5 1130.8h0M90.0 1120.8h0M121.0 1112.1h0M120.1 1130.3h0M119.3 1119.1h0M110.8 1105.8h0M127.7 1132.9h0M106.9 1106.2h0M121.2 1125.2h0M147.5 1130.3h0M137.7 1118.0h0M117.9 1125.5h0M109.3 1121.8h0M92.8 1147.8h0M113.3 1129.5h0M85.0 1131.9h0M105.9 1153.3h0M125.5 1115.6h0M136.8 1129.5h0M95.7 1125.4h0M132.9 1126.8h0M143.1 1111.2h0M113.2 1144.0h0M98.2 1107.8h0M147.8 1137.9h0M139.3 1112.8h0M107.1 1132.6h0M145.4 1122.0h0M115.4 1101.9h0M94.7 1128.5h0M97.5 1106.9h0" stroke="#46609a" stroke-width="1.6" stroke-linecap="round" fill="none"/>
<path d="M87.6 1127.1h0M111.4 1161.8h0M136.0 1151.3h0M95.5 1121.0h0M118.9 1164.0h0M116.6 1143.8h0M115.2 1098.8h0M129.2 1125.2h0M104.9 1151.3h0M124.6 1104.9h0M115.6 1121.9h0M104.2 1131.6h0M121.3 1123.5h0M146.1 1129.7h0M119.9 1119.8h0M102.5 1104.7h0M88.3 1121.5h0M117.8 1130.1h0M112.1 1129.2h0M110.0 1103.5h0M126.7 1106.0h0M105.2 1134.3h0M110.7 1110.2h0M89.9 1143.0h0M98.5 1107.3h0M118.0 1120.1h0M92.7 1124.6h0M112.9 1117.8h0M149.2 1140.4h0M103.0 1118.6h0M111.8 1132.4h0M92.5 1139.8h0M98.0 1131.1h0M121.3 1114.9h0M119.2 1132.6h0M129.8 1101.4h0M123.7 1155.3h0M134.4 1158.8h0M98.4 1128.7h0M122.5 1131.3h0M124.2 1106.0h0M139.4 1157.0h0M98.3 1125.6h0M128.0 1110.1h0M116.0 1161.8h0M126.2 1109.9h0M99.5 1112.8h0M117.5 1124.7h0M119.3 1133.8h0M111.2 1148.6h0M137.2 1146.8h0M132.3 1127.0h0M105.4 1111.5h0M93.5 1140.1h0M126.9 1110.5h0M112.2 1141.6h0M116.9 1135.1h0M119.6 1112.4h0M138.5 1128.1h0M126.5 1141.7h0M124.0 1121.3h0M102.8 1147.9h0M89.7 1145.1h0M132.3 1103.9h0M96.3 1106.9h0M147.8 1120.2h0M145.0 1126.2h0M117.3 1120.9h0M97.1 1143.6h0M111.1 1139.7h0M136.0 1103.0h0M124.5 1100.0h0M113.5 1127.2h0M149.5 1134.7h0M104.3 1127.5h0M88.0 1127.1h0M107.8 1160.0h0M130.2 1140.4h0M123.1 1130.4h0M113.9 1157.7h0M134.8 1104.3h0M103.0 1148.9h0M97.9 1109.7h0M146.3 1122.1h0M128.8 1157.7h0M117.2 1145.6h0M100.3 1109.7h0M117.6 1132.3h0M100.7 1138.4h0M119.4 1136.5h0M120.0 1148.2h0M93.7 1137.3h0M106.2 1142.9h0M128.8 1145.1h0M101.5 1158.1h0M115.8 1146.4h0M115.4 1102.4h0M116.3 1128.8h0M151.5 1133.5h0M122.3 1162.9h0M105.0 1140.2h0M107.9 1119.9h0M108.3 1137.0h0M117.1 1130.0h0M113.2 1130.1h0M127.9 1137.5h0M98.2 1104.1h0M118.3 1154.6h0M109.5 1102.7h0" stroke="#46609a" stroke-width="1.3" stroke-linecap="round" fill="none"/>
<path d="M133.3 1148.0h0M122.9 1138.5h0M104.3 1136.4h0M108.5 1139.2h0M110.0 1157.8h0M128.7 1119.9h0M119.3 1130.5h0M88.4 1139.0h0M97.1 1105.8h0M149.9 1122.1h0M85.9 1132.8h0M100.7 1158.9h0M146.7 1128.7h0M119.4 1118.4h0M88.3 1140.5h0M92.4 1121.6h0M124.1 1123.2h0M96.1 1155.4h0M141.2 1153.0h0M136.2 1153.4h0M130.9 1150.8h0M105.3 1138.7h0M133.0 1106.5h0M116.0 1131.6h0M126.3 1151.6h0M123.5 1104.5h0M97.7 1134.9h0M146.9 1131.7h0M103.8 1100.8h0M117.3 1117.2h0M110.2 1158.8h0M88.5 1123.1h0M138.6 1148.9h0M116.1 1162.8h0M123.0 1161.2h0M130.5 1133.7h0M99.3 1123.5h0M86.4 1134.1h0M127.7 1135.8h0M124.6 1138.5h0M92.8 1113.0h0M121.8 1103.2h0M124.6 1121.8h0M97.3 1151.3h0M136.3 1145.5h0M100.8 1140.5h0M118.7 1142.3h0M96.2 1108.9h0M101.8 1116.5h0M105.1 1128.0h0M110.5 1130.7h0M108.1 1108.1h0M149.0 1135.0h0M123.2 1107.4h0M146.6 1137.3h0M117.1 1158.6h0M123.7 1138.6h0M119.3 1115.0h0M96.7 1150.4h0M86.6 1139.0h0M122.5 1117.7h0M129.3 1100.9h0M136.5 1147.1h0M114.9 1102.5h0M116.1 1130.4h0M121.0 1138.7h0M110.5 1134.3h0M127.2 1130.2h0M119.5 1147.7h0M97.0 1111.1h0M122.8 1110.3h0M92.6 1148.5h0M102.0 1155.6h0M145.8 1119.4h0M130.9 1119.8h0M107.2 1156.0h0M91.5 1120.5h0M117.0 1131.6h0M124.1 1136.2h0M90.3 1145.9h0M115.0 1123.7h0M128.0 1142.5h0M131.7 1138.6h0M119.2 1110.5h0M120.6 1101.0h0M92.3 1123.1h0M119.2 1153.1h0M127.8 1160.0h0M118.5 1130.2h0M125.1 1108.6h0M132.5 1125.4h0M117.7 1131.9h0M115.5 1135.0h0M107.1 1147.7h0M137.3 1158.4h0M99.4 1119.5h0M142.6 1147.4h0M134.1 1144.9h0M128.1 1130.4h0M126.0 1124.8h0M126.2 1143.6h0M129.7 1124.3h0M149.9 1122.5h0M102.8 1136.2h0M134.2 1140.8h0" stroke="#46609a" stroke-width="1.1" stroke-linecap="round" fill="none"/>
<path d="M117.6 1130.8h0M89.5 1122.8h0M121.5 1098.1h0M99.9 1151.8h0M134.9 1103.0h0M121.8 1140.0h0M121.7 1109.9h0M96.4 1147.5h0M92.9 1122.7h0M104.9 1160.2h0M149.0 1138.2h0M123.2 1125.8h0M102.8 1139.3h0M95.0 1149.3h0M115.4 1131.0h0M105.1 1111.3h0M101.9 1106.6h0M96.8 1128.8h0M109.8 1105.4h0M123.3 1138.9h0M139.7 1136.9h0M128.4 1101.4h0M99.0 1126.6h0M113.3 1105.9h0M131.0 1109.0h0M135.5 1136.4h0M127.2 1123.2h0M97.7 1157.7h0M110.3 1113.3h0M129.1 1134.7h0M119.6 1128.8h0M101.3 1106.3h0M145.5 1145.4h0M121.4 1098.7h0M126.6 1126.7h0M123.6 1117.6h0M108.4 1136.3h0M123.7 1111.9h0M101.7 1146.2h0M107.6 1121.4h0M104.1 1136.7h0M109.8 1112.4h0M115.0 1122.1h0M136.2 1106.0h0M89.0 1116.5h0M116.8 1132.7h0M117.4 1131.1h0M99.1 1125.6h0M126.1 1117.6h0M122.1 1137.3h0M106.8 1123.9h0M117.7 1130.1h0M118.5 1155.6h0M123.2 1117.0h0M127.9 1119.5h0M144.6 1148.7h0M108.8 1123.7h0M131.1 1154.2h0M100.4 1137.3h0M135.5 1117.2h0M118.3 1130.2h0M92.0 1113.1h0M122.6 1139.8h0M145.9 1116.3h0M106.4 1143.8h0M128.9 1124.8h0M108.3 1099.4h0M134.8 1140.6h0M127.4 1107.4h0M99.5 1103.4h0M100.8 1127.4h0M102.8 1107.4h0M142.8 1115.1h0M102.7 1144.7h0M120.4 1133.0h0M121.5 1131.6h0M111.4 1117.4h0M101.2 1155.3h0M105.3 1161.0h0M114.4 1120.9h0M137.8 1104.0h0M127.5 1102.1h0M144.7 1126.9h0M87.7 1143.2h0M140.6 1146.4h0M120.8 1138.8h0M103.4 1145.4h0M99.6 1112.8h0M128.9 1135.0h0M117.4 1133.0h0M89.7 1122.7h0M102.4 1150.9h0M114.2 1142.0h0M114.7 1114.3h0M104.4 1155.9h0" stroke="#46609a" stroke-width="0.9" stroke-linecap="round" fill="none"/>
<path d="M92.5 1144.4h0M116.6 1127.8h0M139.1 1157.1h0M126.8 1150.6h0M94.7 1134.1h0M125.7 1103.5h0M97.1 1152.2h0M124.4 1130.5h0M105.2 1129.3h0M146.2 1139.8h0M112.0 1135.7h0M105.6 1137.8h0M115.3 1114.9h0M140.7 1116.1h0M94.3 1108.1h0M102.2 1105.6h0M113.2 1157.8h0M113.6 1149.3h0M98.0 1108.3h0M103.3 1114.6h0M99.8 1102.8h0M116.1 1130.6h0M118.6 1132.0h0M119.7 1121.0h0M130.6 1107.1h0M122.5 1123.1h0M111.6 1112.2h0M142.9 1128.8h0M121.1 1129.0h0M104.2 1140.5h0M141.5 1117.8h0M141.8 1110.4h0M100.6 1154.8h0M93.9 1147.9h0M132.1 1143.7h0M110.6 1129.4h0M142.4 1139.0h0M118.2 1132.7h0M125.5 1127.2h0M143.9 1136.1h0M122.9 1143.9h0M88.0 1137.7h0M122.4 1123.3h0M116.8 1112.1h0M135.0 1137.0h0M98.9 1149.2h0M121.4 1152.6h0M126.3 1114.1h0M118.0 1163.9h0M138.6 1155.8h0M123.8 1105.3h0M140.4 1149.9h0M100.5 1138.6h0M117.0 1160.7h0M136.2 1148.1h0M119.9 1124.3h0M119.4 1125.3h0M124.8 1101.4h0M117.4 1102.9h0M115.7 1116.6h0M142.1 1114.2h0M119.9 1130.3h0M104.3 1104.8h0M118.4 1130.5h0M114.1 1163.0h0M140.2 1147.2h0M127.8 1150.0h0M145.3 1114.5h0M119.4 1161.7h0M118.2 1134.8h0M105.1 1120.6h0M131.9 1136.5h0M111.6 1127.9h0M122.9 1140.3h0M100.8 1159.3h0M121.9 1123.2h0M120.6 1110.0h0M104.9 1119.5h0M141.2 1138.9h0M133.4 1118.9h0M139.7 1125.4h0M138.8 1127.3h0M139.1 1152.4h0M114.4 1122.7h0M144.2 1133.0h0M101.3 1150.6h0M102.0 1153.9h0M134.4 1124.9h0M147.1 1117.3h0M119.2 1147.7h0M110.3 1154.6h0M109.2 1132.3h0M138.3 1151.5h0M117.1 1128.9h0M88.6 1122.4h0M97.0 1148.6h0M122.2 1133.5h0M90.9 1115.9h0M137.7 1139.3h0M121.2 1136.6h0M112.7 1137.1h0M122.8 1136.1h0M146.0 1129.7h0M147.0 1119.0h0M119.6 1133.1h0M108.5 1158.0h0M150.2 1127.0h0M97.8 1134.8h0M117.0 1156.5h0M99.7 1138.7h0M92.0 1144.7h0M147.0 1129.8h0M114.3 1119.1h0M111.4 1157.8h0M96.9 1114.8h0M149.9 1134.8h0M97.9 1108.2h0M117.8 1118.7h0M100.9 1138.5h0M87.7 1138.8h0M117.5 1121.6h0M149.6 1124.0h0M141.3 1154.1h0M112.2 1137.1h0" stroke="#46609a" stroke-width="1.9" stroke-linecap="round" fill="none"/>
<circle cx="195.20" cy="1131.10" r="36.80" fill="#cdd3e1"/>
<circle cx="196.80" cy="1131.10" r="33.60" fill="#d9dee8"/>
<circle cx="197.20" cy="1131.10" r="32.00" fill="#e2e5ec"/>
<path d="M173.0 1136.0h0M215.0 1112.4h0M198.4 1126.2h0M227.7 1125.9h0M180.5 1142.6h0M194.4 1146.1h0M198.1 1134.1h0M200.2 1138.9h0M162.9 1135.3h0M215.8 1107.2h0M175.6 1138.8h0M209.4 1108.4h0M177.7 1128.8h0M210.7 1128.9h0M208.1 1134.0h0M206.8 1146.8h0M171.3 1140.7h0M177.2 1128.5h0M206.9 1118.6h0M180.0 1128.8h0M190.6 1134.4h0M215.3 1107.9h0M170.8 1110.1h0M177.7 1139.3h0M210.0 1156.1h0M223.2 1135.1h0M193.3 1134.1h0M174.9 1125.6h0M187.1 1129.7h0M171.8 1148.6h0M220.5 1139.7h0M183.7 1137.7h0M198.2 1114.1h0M190.8 1131.6h0M196.7 1126.1h0M175.6 1107.3h0M203.9 1140.5h0M165.5 1137.0h0M196.9 1148.0h0M181.4 1143.8h0M201.1 1142.4h0M183.1 1148.8h0M166.9 1143.6h0M218.3 1153.8h0M209.8 1158.4h0M188.2 1138.4h0M216.7 1137.4h0M191.9 1148.8h0M199.8 1127.7h0M212.1 1106.4h0M201.9 1113.0h0M198.5 1124.0h0M177.7 1106.9h0M190.1 1118.1h0M194.1 1117.6h0M222.6 1121.9h0M194.3 1153.8h0M169.3 1144.5h0M193.8 1163.3h0M177.3 1112.7h0M217.2 1143.0h0M174.9 1153.6h0M188.7 1108.1h0M171.7 1150.1h0M167.8 1120.3h0M200.2 1117.3h0M219.7 1134.8h0M167.8 1148.9h0M219.4 1126.5h0M196.7 1133.9h0M194.4 1131.9h0M178.6 1120.4h0M168.0 1128.0h0M168.0 1139.6h0M186.5 1157.5h0M170.3 1119.8h0M189.2 1130.3h0M201.4 1131.4h0M168.8 1131.5h0M201.9 1159.8h0M202.1 1160.6h0M198.5 1141.1h0M202.6 1104.9h0M169.4 1125.4h0M173.5 1156.5h0M193.1 1114.9h0M210.9 1139.1h0M210.9 1111.0h0M202.5 1129.8h0M192.3 1124.3h0M170.3 1118.6h0M219.6 1144.3h0M190.7 1150.2h0M182.7 1157.0h0M184.4 1126.2h0M228.1 1126.0h0M209.4 1133.3h0M187.2 1134.9h0M197.6 1153.9h0M212.8 1121.8h0M194.8 1143.7h0M190.3 1149.9h0M202.5 1153.2h0M203.6 1109.3h0M227.3 1130.6h0M227.4 1135.6h0M198.0 1109.0h0M171.4 1121.4h0M199.4 1120.4h0M206.3 1145.5h0M199.7 1157.1h0M186.3 1132.6h0M173.5 1149.0h0M213.3 1111.5h0M201.6 1129.2h0M176.2 1118.8h0M191.7 1136.9h0M223.6 1116.5h0M204.0 1128.7h0M200.7 1142.9h0M201.3 1134.2h0M200.0 1137.7h0M194.9 1157.9h0M173.5 1156.6h0M179.1 1127.1h0M199.0 1143.7h0M209.8 1109.4h0M201.7 1135.9h0" stroke="#46609a" stroke-width="1.9" stroke-linecap="round" fill="none"/>
<path d="M186.0 1123.1h0M193.4 1105.1h0M193.7 1127.9h0M171.2 1117.4h0M204.8 1152.5h0M190.6 1147.6h0M166.3 1114.2h0M201.8 1133.0h0M164.3 1134.8h0M208.1 1123.4h0M222.5 1127.7h0M220.5 1134.2h0M162.5 1136.2h0M223.0 1137.5h0M195.2 1130.9h0M174.6 1113.7h0M199.8 1105.3h0M189.0 1109.7h0M183.7 1130.9h0M220.7 1131.1h0M203.9 1133.6h0M167.5 1114.5h0M171.7 1131.9h0M193.9 1129.8h0M208.4 1149.4h0M169.1 1122.9h0M178.0 1120.0h0M196.6 1130.3h0M209.6 1156.4h0M192.4 1137.9h0M192.2 1129.1h0M195.1 1131.2h0M220.7 1113.0h0M178.9 1115.5h0M221.8 1117.9h0M190.8 1129.5h0M176.8 1115.6h0M184.4 1130.0h0M193.0 1113.8h0M188.2 1143.1h0M204.6 1124.0h0M215.8 1121.4h0M189.5 1099.3h0M187.6 1119.6h0M171.7 1135.2h0M185.2 1161.3h0M171.7 1120.3h0M196.7 1124.6h0M189.5 1128.3h0M215.4 1141.0h0M197.1 1156.5h0M178.7 1135.2h0M180.3 1126.3h0M209.9 1113.9h0M198.7 1129.3h0M167.6 1133.1h0M202.9 1113.5h0M195.2 1131.1h0M184.5 1101.1h0M183.9 1132.5h0M207.9 1115.0h0M168.0 1145.9h0M215.2 1122.2h0M167.1 1134.0h0M225.6 1136.3h0M185.8 1157.4h0M196.0 1129.9h0M176.6 1143.2h0M215.7 1121.7h0M177.5 1113.8h0M214.7 1109.6h0M206.5 1158.2h0M192.2 1135.3h0M190.6 1155.4h0M186.0 1131.6h0M223.2 1144.7h0M181.4 1139.4h0M178.3 1123.4h0M178.6 1153.1h0M181.5 1130.8h0M214.8 1116.0h0M187.5 1125.5h0M203.1 1118.7h0M211.3 1145.1h0M205.2 1127.7h0M198.2 1108.6h0M187.6 1108.9h0M189.5 1146.3h0M205.9 1158.1h0M182.5 1127.5h0M216.4 1146.9h0M199.1 1099.3h0M203.5 1157.1h0M186.7 1145.9h0M193.5 1134.2h0M184.1 1137.3h0M225.2 1117.1h0M186.6 1103.8h0M215.0 1110.2h0M195.0 1128.6h0M212.7 1109.8h0M185.2 1146.3h0M187.0 1157.0h0M205.4 1105.1h0M208.5 1129.3h0M177.2 1127.5h0M204.7 1109.2h0M193.7 1125.8h0M178.9 1106.4h0M172.2 1111.8h0M187.1 1144.4h0M197.1 1134.8h0M212.6 1130.8h0M201.4 1124.8h0M169.9 1136.9h0M204.4 1153.7h0M195.5 1131.5h0M227.4 1138.0h0M192.9 1121.5h0M192.3 1140.6h0M221.3 1117.8h0M227.9 1122.8h0M174.2 1114.4h0M212.4 1134.4h0M207.1 1114.5h0M214.2 1119.1h0M213.7 1156.8h0" stroke="#46609a" stroke-width="1.1" stroke-linecap="round" fill="none"/>
<path d="M183.9 1100.6h0M219.2 1150.5h0M213.1 1105.6h0M194.1 1140.2h0M199.3 1135.8h0M188.3 1122.4h0M202.8 1156.5h0M183.3 1103.5h0M199.3 1131.4h0M183.4 1132.1h0M197.3 1119.6h0M163.9 1140.5h0M191.2 1108.4h0M188.6 1098.4h0M186.7 1103.6h0M195.0 1134.7h0M194.3 1131.3h0M206.3 1123.3h0M191.7 1118.7h0M198.5 1129.2h0M224.2 1146.7h0M173.6 1136.1h0M191.6 1135.2h0M192.4 1145.0h0M202.6 1135.4h0M199.4 1140.0h0M164.8 1121.8h0M203.0 1098.6h0M197.4 1113.8h0M205.1 1157.6h0M214.2 1130.8h0M216.8 1149.7h0M175.0 1150.9h0M169.2 1110.0h0M171.1 1114.2h0M172.2 1145.3h0M173.4 1116.6h0M206.9 1119.1h0M191.7 1105.7h0M206.3 1120.7h0M218.5 1145.9h0M199.1 1102.2h0M196.5 1137.2h0M165.8 1126.3h0M214.0 1140.9h0M179.6 1118.0h0M172.5 1152.7h0M187.4 1141.4h0M173.0 1106.7h0M208.9 1144.0h0M216.9 1114.9h0M192.4 1162.8h0M178.5 1142.5h0M204.0 1143.5h0M222.7 1123.9h0M197.6 1109.9h0M186.5 1149.2h0M193.2 1132.0h0M204.6 1125.2h0M226.0 1129.9h0M227.6 1125.5h0M191.9 1128.2h0M213.1 1147.4h0M202.0 1104.6h0M183.7 1148.3h0M183.0 1140.6h0M205.6 1123.1h0M206.2 1129.3h0M169.8 1109.5h0M182.7 1124.3h0M173.6 1109.4h0M191.0 1101.1h0M187.4 1099.0h0M199.4 1107.7h0M184.0 1153.5h0M221.0 1138.6h0M190.4 1135.2h0M205.3 1136.0h0M196.8 1130.6h0M196.8 1128.8h0M195.5 1137.1h0M209.2 1135.9h0M190.3 1126.9h0M206.2 1138.8h0M206.3 1134.3h0M190.3 1097.9h0M195.5 1108.8h0M199.1 1102.5h0M187.5 1104.5h0M191.8 1160.9h0M181.1 1126.5h0M217.2 1154.1h0M204.4 1155.1h0M220.4 1119.3h0M188.3 1133.8h0M200.0 1124.5h0M201.0 1162.9h0M184.4 1116.6h0M193.8 1129.4h0M182.4 1158.6h0M183.4 1113.7h0M187.6 1116.4h0M210.8 1124.4h0M187.9 1129.7h0M201.8 1141.8h0M225.4 1138.3h0M195.3 1131.1h0M210.8 1144.9h0M168.5 1129.9h0M223.5 1125.3h0M175.8 1151.2h0M177.4 1134.7h0M223.7 1146.9h0" stroke="#46609a" stroke-width="0.9" stroke-linecap="round" fill="none"/>
<path d="M179.6 1108.3h0M187.6 1102.5h0M183.3 1122.0h0M194.7 1123.3h0M181.9 1146.7h0M208.9 1146.9h0M200.7 1121.2h0M197.3 1143.8h0M196.0 1124.4h0M165.4 1142.9h0M219.0 1131.8h0M192.7 1131.7h0M179.2 1138.2h0M223.5 1135.3h0M218.4 1108.0h0M207.9 1101.5h0M186.8 1140.1h0M186.7 1145.0h0M195.7 1124.4h0M219.3 1130.4h0M165.2 1145.3h0M205.4 1105.4h0M186.0 1151.5h0M197.6 1131.4h0M220.9 1149.2h0M196.3 1119.5h0M208.3 1146.3h0M216.5 1118.5h0M224.6 1131.8h0M211.1 1117.3h0M211.4 1109.8h0M195.4 1130.4h0M179.2 1143.6h0M167.7 1140.9h0M172.5 1147.1h0M197.7 1133.5h0M201.8 1138.7h0M188.8 1162.8h0M183.9 1129.6h0M221.1 1112.3h0M200.7 1162.1h0M184.7 1101.4h0M215.9 1121.2h0M190.1 1141.8h0M203.2 1140.2h0M216.5 1112.7h0M196.6 1107.7h0M208.0 1130.9h0M184.2 1157.0h0M194.5 1128.1h0M175.7 1144.8h0M168.4 1137.3h0M171.2 1108.1h0M180.3 1153.2h0M214.0 1150.0h0M221.5 1126.7h0M223.3 1143.8h0M196.5 1140.5h0M221.5 1117.6h0M178.4 1113.9h0M204.8 1118.9h0M207.7 1110.6h0M172.9 1130.9h0M220.9 1136.4h0M181.2 1102.8h0M195.8 1149.4h0M194.1 1131.1h0M222.6 1127.0h0M202.9 1134.0h0M215.7 1112.8h0M195.0 1128.8h0M182.3 1147.0h0M197.7 1135.1h0M206.4 1117.6h0M195.7 1120.7h0M173.7 1151.9h0M189.9 1130.4h0M204.4 1142.3h0M224.4 1116.3h0M201.2 1120.6h0M183.4 1108.1h0M199.0 1144.5h0M206.7 1140.0h0M171.2 1112.9h0M167.4 1121.1h0M173.1 1147.0h0M216.8 1144.8h0M174.8 1105.1h0M169.7 1132.4h0M200.4 1136.1h0M217.5 1148.7h0M207.4 1143.7h0M194.1 1105.6h0M175.2 1153.6h0M184.6 1127.6h0M222.9 1122.1h0M175.1 1147.4h0M208.6 1103.2h0M162.8 1125.3h0M175.9 1131.8h0M199.7 1112.5h0M189.5 1126.9h0M202.9 1107.3h0M168.4 1139.0h0M184.4 1127.0h0M192.7 1128.5h0M167.0 1113.8h0M177.1 1104.3h0M186.6 1132.1h0M182.3 1159.6h0M172.8 1154.5h0M193.5 1140.1h0" stroke="#46609a" stroke-width="1.6" stroke-linecap="round" fill="none"/>
<path d="M186.4 1098.5h0M203.7 1133.7h0M179.0 1151.4h0M194.0 1121.5h0M202.2 1124.5h0M195.4 1121.8h0M182.4 1155.4h0M195.7 1131.2h0M194.1 1129.8h0M201.2 1111.2h0M184.1 1130.4h0M208.5 1121.7h0M183.5 1105.2h0M196.2 1132.6h0M171.4 1146.6h0M195.9 1122.2h0M221.9 1143.8h0M192.9 1149.8h0M175.0 1155.8h0M204.9 1155.6h0M199.9 1158.0h0M188.2 1123.6h0M190.6 1102.4h0M210.9 1120.1h0M223.9 1147.9h0M214.2 1119.1h0M211.0 1154.9h0M205.8 1142.1h0M165.4 1132.2h0M189.8 1148.5h0M192.0 1112.0h0M174.7 1149.0h0M170.6 1109.9h0M218.4 1120.0h0M165.3 1119.2h0M217.1 1108.2h0M184.3 1139.3h0M193.4 1135.4h0M209.4 1136.6h0M221.7 1124.5h0M190.5 1118.9h0M181.5 1120.7h0M174.0 1113.0h0M211.3 1124.3h0M205.2 1138.6h0M166.5 1118.5h0M202.0 1127.9h0M165.8 1127.3h0M213.6 1104.6h0M218.1 1134.5h0M167.3 1129.9h0M191.3 1162.0h0M207.2 1104.7h0M190.1 1107.6h0M212.5 1150.4h0M202.4 1133.1h0M197.0 1139.7h0M197.6 1130.0h0M218.9 1110.0h0M189.4 1125.4h0M191.2 1134.4h0M194.3 1130.6h0M199.6 1127.1h0M200.6 1132.4h0M183.5 1158.0h0M193.8 1130.0h0M195.0 1130.1h0M215.4 1123.4h0M189.3 1133.4h0M179.4 1144.5h0M195.7 1129.1h0M221.5 1145.2h0M215.5 1145.7h0M199.8 1160.5h0M199.8 1112.3h0M165.6 1121.0h0M189.2 1129.1h0M180.5 1149.6h0M174.2 1155.3h0M215.5 1148.0h0M193.9 1135.7h0M206.0 1130.3h0M216.5 1143.9h0M197.1 1141.0h0M190.9 1135.7h0M164.8 1140.2h0M195.4 1131.2h0M195.1 1162.2h0M164.0 1129.4h0M224.4 1140.6h0M219.6 1151.1h0M184.4 1101.5h0M168.0 1128.4h0M181.9 1154.1h0M184.3 1148.3h0M201.3 1144.8h0M198.9 1130.8h0M210.3 1133.3h0M214.6 1108.7h0M190.5 1138.5h0M224.6 1146.1h0M195.1 1129.8h0M192.9 1139.7h0M203.1 1098.8h0M197.2 1144.4h0M224.4 1135.6h0M195.3 1131.4h0M189.9 1150.6h0M183.9 1130.3h0M180.5 1129.7h0M178.7 1109.8h0M172.3 1151.8h0M170.4 1153.5h0M198.6 1136.8h0M204.9 1146.5h0M216.6 1113.3h0M186.0 1112.7h0M188.8 1126.2h0M184.1 1108.5h0M194.4 1129.3h0" stroke="#46609a" stroke-width="1.3" stroke-linecap="round" fill="none"/>
<circle cx="270.70" cy="1131.10" r="36.80" fill="#cdd3e1"/>
<circle cx="272.30" cy="1131.10" r="33.60" fill="#d9dee8"/>
<circle cx="272.70" cy="1131.10" r="32.00" fill="#e2e5ec"/>
<path d="M259.0 1111.0h0M277.4 1142.1h0M292.3 1143.4h0M271.0 1115.8h0M272.5 1159.3h0M280.3 1152.1h0M256.4 1131.0h0M285.0 1154.0h0M242.2 1141.6h0M254.4 1138.5h0M283.4 1111.9h0M292.5 1138.1h0M275.1 1117.9h0M281.6 1161.7h0M281.2 1157.7h0M279.3 1106.5h0M287.5 1110.4h0M257.3 1147.5h0M288.0 1119.0h0M245.9 1118.0h0M271.3 1153.8h0M292.2 1152.9h0M244.5 1146.6h0M243.3 1150.3h0M265.3 1114.0h0M274.0 1114.9h0M278.6 1157.4h0M258.0 1152.3h0M244.5 1114.4h0" stroke="#553597" stroke-width="1.4" stroke-linecap="round" fill="none"/>
<path d="M249.9 1133.4h0M275.8 1161.3h0M249.1 1134.3h0M248.9 1141.8h0M266.1 1153.5h0M244.1 1126.5h0M261.2 1109.4h0M252.9 1129.4h0M245.7 1115.6h0M296.4 1111.8h0M271.5 1159.4h0M262.5 1114.1h0M251.0 1132.0h0M256.1 1149.6h0M259.1 1105.5h0M254.3 1157.1h0M260.6 1115.7h0M247.9 1116.7h0M290.3 1152.7h0M262.1 1139.2h0M285.7 1107.0h0M264.8 1133.3h0M251.5 1154.6h0M279.0 1125.9h0M263.9 1161.0h0M244.8 1109.8h0M257.7 1107.9h0M238.8 1128.2h0M278.7 1126.9h0" stroke="#553597" stroke-width="2.0" stroke-linecap="round" fill="none"/>
<path d="M244.5 1121.1h0M292.5 1143.7h0M254.4 1129.9h0M267.1 1107.5h0M297.3 1130.8h0M267.0 1159.3h0M276.3 1154.1h0M254.3 1159.9h0M276.3 1110.3h0M298.0 1126.3h0M263.5 1162.8h0M275.1 1113.7h0M288.0 1104.9h0M278.4 1107.8h0M269.8 1139.6h0M284.3 1141.3h0M245.0 1123.1h0M261.0 1148.7h0M263.9 1129.5h0M268.3 1114.7h0M299.2 1118.1h0M290.8 1115.7h0M265.5 1130.2h0M291.4 1154.3h0M275.4 1126.2h0M260.6 1163.1h0M277.5 1144.7h0" stroke="#553597" stroke-width="2.4" stroke-linecap="round" fill="none"/>
<path d="M278.0 1134.8h0M290.5 1153.5h0M250.0 1157.3h0M259.1 1160.4h0M284.6 1134.4h0M274.4 1102.5h0M280.5 1122.1h0M264.5 1158.8h0M245.3 1121.4h0M292.9 1118.9h0M253.4 1155.7h0M259.3 1104.1h0M262.9 1133.2h0M281.0 1128.7h0M258.4 1145.8h0M243.9 1145.0h0M278.1 1101.5h0M279.2 1123.8h0M275.1 1097.9h0M301.4 1136.6h0M270.9 1126.3h0M257.2 1112.5h0M253.9 1106.0h0M273.9 1098.3h0M290.5 1154.1h0M266.9 1131.5h0M281.8 1103.7h0M256.2 1127.8h0M282.2 1127.5h0M257.0 1154.0h0M294.7 1111.1h0M245.0 1141.6h0M274.0 1139.2h0M286.7 1108.8h0M290.6 1134.2h0M278.3 1102.5h0M265.2 1148.0h0M250.1 1155.0h0M282.1 1109.2h0M284.6 1124.7h0M244.6 1146.6h0M288.4 1137.8h0M252.6 1159.5h0M296.0 1115.3h0M290.3 1129.6h0" stroke="#553597" stroke-width="1.7" stroke-linecap="round" fill="none"/>
<path d="M294.5 1145.7h0M302.1 1126.4h0M279.8 1120.0h0M262.5 1162.0h0M250.6 1139.8h0M252.7 1148.1h0M272.6 1105.6h0M293.2 1110.0h0M300.2 1135.1h0M277.0 1150.5h0M253.0 1148.8h0M292.1 1148.4h0M298.4 1118.7h0M262.2 1123.5h0M274.6 1121.1h0M287.0 1136.6h0M284.6 1108.5h0M240.8 1126.5h0M279.8 1113.4h0M295.2 1128.9h0" stroke="#553597" stroke-width="1.1" stroke-linecap="round" fill="none"/>
<circle cx="347.00" cy="1131.10" r="36.80" fill="#cdd3e1"/>
<circle cx="348.60" cy="1131.10" r="33.60" fill="#d9dee8"/>
<circle cx="349.00" cy="1131.10" r="32.00" fill="#e2e5ec"/>
<path d="M340.1 1115.4h0M365.6 1111.1h0M374.6 1138.8h0M336.2 1141.9h0M341.0 1128.3h0M316.7 1126.0h0M340.3 1101.7h0M335.3 1104.5h0M336.4 1144.6h0M372.1 1152.4h0M328.6 1125.7h0M374.4 1114.3h0M341.0 1101.4h0" stroke="#553597" stroke-width="1.1" stroke-linecap="round" fill="none"/>
<path d="M349.7 1143.0h0M378.7 1130.7h0M371.8 1110.2h0M376.2 1121.5h0M357.6 1153.5h0M324.6 1139.2h0M356.1 1121.2h0M335.2 1109.8h0M356.1 1135.4h0M344.9 1161.8h0M372.0 1151.0h0M340.8 1119.1h0" stroke="#553597" stroke-width="1.3" stroke-linecap="round" fill="none"/>
<path d="M363.2 1119.1h0M331.7 1153.3h0M336.0 1103.0h0M316.7 1121.2h0M333.4 1123.5h0M318.1 1144.9h0M343.5 1160.0h0M344.4 1131.2h0M378.2 1143.7h0M320.9 1115.6h0M324.3 1140.0h0M376.1 1141.0h0M351.8 1119.5h0" stroke="#553597" stroke-width="1.9" stroke-linecap="round" fill="none"/>
<path d="M330.3 1150.2h0M322.4 1140.8h0M333.6 1120.6h0M349.5 1163.1h0M371.5 1137.2h0M330.5 1111.0h0M358.8 1161.1h0M358.4 1101.8h0M324.0 1146.5h0M352.0 1108.5h0" stroke="#553597" stroke-width="1.6" stroke-linecap="round" fill="none"/>
<path d="M336.0 1143.3h0M325.4 1136.1h0M339.6 1114.3h0M319.0 1127.2h0M352.6 1134.5h0M334.9 1141.3h0M368.1 1153.4h0" stroke="#553597" stroke-width="0.9" stroke-linecap="round" fill="none"/>
<circle cx="118.00" cy="1207.50" r="36.80" fill="#cdd3e1"/>
<circle cx="119.60" cy="1207.50" r="33.60" fill="#d9dee8"/>
<circle cx="120.00" cy="1207.50" r="32.00" fill="#e2e5ec"/>
<path d="M121.3 1175.5h0M108.2 1237.3h0M112.9 1179.8h0M134.1 1179.3h0M127.0 1197.1h0M131.3 1232.5h0M117.6 1194.1h0M124.8 1227.4h0M89.8 1202.8h0M99.8 1231.8h0M120.1 1230.5h0M146.0 1214.5h0M146.2 1195.9h0M140.9 1190.6h0M127.0 1198.1h0M139.7 1213.6h0M96.6 1201.7h0M143.7 1218.0h0M129.2 1234.4h0M128.2 1217.6h0M87.2 1202.3h0M144.3 1223.0h0M97.4 1232.5h0M103.2 1213.9h0M109.1 1223.2h0M136.3 1215.4h0M150.7 1212.7h0M96.1 1224.3h0M137.5 1234.8h0M105.2 1197.6h0M138.5 1219.9h0M87.2 1219.4h0M109.7 1210.6h0M98.2 1182.9h0M95.4 1218.5h0M139.5 1233.4h0M120.2 1228.4h0M115.6 1178.2h0M131.8 1236.3h0M92.6 1224.1h0M135.9 1217.1h0M128.6 1207.5h0M117.3 1221.2h0M89.1 1195.7h0M144.8 1207.9h0M124.6 1216.6h0M112.4 1231.0h0" stroke="#553597" stroke-width="1.4" stroke-linecap="round" fill="none"/>
<path d="M132.2 1197.8h0M102.7 1192.1h0M118.9 1197.8h0M151.0 1207.9h0M144.7 1225.2h0M133.0 1218.2h0M117.2 1199.1h0M144.5 1210.1h0M112.9 1225.9h0M150.3 1208.9h0M106.2 1177.3h0M97.5 1206.5h0M113.1 1238.9h0M126.1 1213.1h0M126.7 1229.4h0M106.6 1209.8h0M125.7 1235.3h0M131.8 1228.8h0M93.9 1206.4h0M114.3 1212.1h0M148.6 1204.3h0M130.0 1207.4h0M147.3 1200.8h0M112.4 1207.2h0M114.5 1216.7h0M120.4 1174.5h0M118.2 1239.2h0M134.2 1211.7h0M128.0 1197.3h0M131.7 1202.3h0M150.1 1213.5h0M103.8 1202.0h0M105.0 1228.2h0M126.1 1239.9h0M136.4 1213.5h0M106.2 1183.6h0M111.7 1204.2h0M112.3 1179.5h0M113.4 1176.9h0M136.8 1183.8h0M87.3 1221.5h0M125.0 1237.3h0M106.5 1208.5h0M121.9 1227.6h0M136.7 1188.4h0M112.1 1193.1h0M112.2 1195.0h0M143.5 1212.6h0M119.1 1234.9h0M91.3 1192.0h0M145.4 1222.6h0M119.6 1210.0h0M104.2 1238.3h0M146.9 1197.9h0M117.8 1237.8h0M139.8 1203.5h0M130.7 1182.2h0M124.0 1235.8h0M131.2 1217.2h0M124.7 1177.2h0M118.5 1188.5h0M124.7 1195.9h0M107.9 1212.1h0M121.5 1183.7h0M94.9 1187.2h0M93.0 1191.4h0" stroke="#553597" stroke-width="1.7" stroke-linecap="round" fill="none"/>
<path d="M96.3 1221.0h0M127.4 1209.6h0M138.7 1226.4h0M99.1 1235.4h0M91.3 1214.8h0M123.3 1180.9h0M88.1 1205.0h0M90.1 1223.1h0M137.0 1230.3h0M97.3 1212.5h0M126.5 1205.6h0M132.8 1218.3h0M92.8 1227.3h0M105.9 1224.5h0M106.9 1202.6h0M94.8 1206.3h0M146.5 1190.3h0M97.6 1187.9h0M138.5 1181.6h0M117.8 1174.2h0M146.9 1217.2h0M131.9 1177.0h0M114.8 1177.1h0M100.4 1180.4h0M129.6 1185.0h0M96.9 1216.1h0M97.1 1185.3h0M116.8 1184.3h0M150.2 1210.9h0M110.8 1205.7h0M140.0 1224.0h0M133.3 1214.6h0M123.3 1233.4h0M142.2 1190.1h0M142.4 1226.3h0M149.5 1199.9h0M138.7 1196.5h0M122.7 1212.8h0M131.4 1182.4h0M106.8 1204.5h0M139.6 1227.4h0M117.8 1179.8h0M124.1 1215.8h0M95.2 1225.5h0M132.2 1233.6h0M142.1 1209.9h0M143.1 1223.9h0M141.3 1200.9h0M129.7 1231.6h0M140.0 1207.7h0" stroke="#553597" stroke-width="1.1" stroke-linecap="round" fill="none"/>
<path d="M128.3 1204.1h0M134.6 1181.9h0M99.2 1186.4h0M120.3 1198.3h0M123.5 1202.4h0M143.4 1224.0h0M119.9 1178.3h0M84.2 1206.6h0M86.2 1207.0h0M138.6 1208.9h0M92.3 1188.1h0M88.0 1200.6h0M116.6 1194.2h0M96.8 1183.2h0M123.9 1181.1h0M137.7 1219.2h0M103.3 1199.5h0M126.8 1185.3h0M115.3 1192.5h0M136.2 1222.4h0M122.6 1240.3h0M132.5 1199.6h0M91.3 1220.5h0M133.3 1234.5h0M116.6 1227.2h0M140.6 1216.1h0M137.4 1227.4h0M128.9 1226.8h0M108.9 1219.3h0M108.0 1196.3h0M148.8 1211.9h0M117.5 1235.4h0M150.1 1214.7h0M106.8 1238.5h0M113.2 1235.7h0M138.1 1229.6h0M123.9 1235.0h0M104.1 1182.6h0M86.4 1216.2h0M102.4 1216.4h0M107.9 1187.9h0M141.1 1194.5h0M143.2 1186.9h0M118.1 1183.1h0M134.6 1188.1h0M122.5 1238.1h0M97.4 1233.0h0M112.6 1201.9h0" stroke="#553597" stroke-width="2.0" stroke-linecap="round" fill="none"/>
<path d="M127.5 1192.8h0M146.6 1195.8h0M126.7 1239.0h0M143.0 1194.3h0M132.7 1202.6h0M142.0 1206.4h0M138.1 1206.3h0M115.7 1195.0h0M87.4 1219.0h0M145.9 1226.4h0M124.8 1222.8h0M128.7 1185.9h0M122.6 1203.0h0M143.4 1224.9h0M93.3 1228.1h0M138.3 1182.5h0M100.9 1185.8h0M144.0 1194.7h0M109.5 1202.8h0M133.7 1206.6h0M113.1 1174.6h0M136.8 1232.5h0M114.7 1179.2h0M88.3 1215.9h0M123.6 1197.8h0M115.2 1176.3h0M87.2 1207.5h0M138.7 1188.0h0M149.1 1208.5h0M94.9 1228.9h0M141.7 1189.1h0M99.6 1197.0h0M92.7 1201.0h0M146.3 1222.9h0M124.4 1229.8h0M125.7 1176.6h0M129.3 1187.2h0M86.3 1218.9h0M135.1 1232.6h0M116.2 1215.4h0M117.8 1237.3h0M88.1 1210.5h0M145.2 1218.2h0M129.4 1220.1h0M136.5 1192.6h0M105.9 1178.9h0M96.3 1191.1h0M111.4 1201.8h0M87.4 1202.9h0M114.6 1212.3h0M108.5 1234.6h0M102.0 1189.3h0M121.2 1240.2h0M110.2 1187.9h0M151.1 1205.0h0M122.2 1194.8h0M148.5 1213.3h0M144.3 1196.4h0M125.8 1191.2h0" stroke="#553597" stroke-width="2.4" stroke-linecap="round" fill="none"/>
<circle cx="195.20" cy="1207.50" r="36.80" fill="#cdd3e1"/>
<circle cx="196.80" cy="1207.50" r="33.60" fill="#d9dee8"/>
<circle cx="197.20" cy="1207.50" r="32.00" fill="#e2e5ec"/>
<path d="M186.1 1197.2h0M165.3 1220.0h0M166.5 1196.3h0M206.7 1197.7h0M166.6 1219.0h0M171.0 1189.6h0M222.5 1211.9h0M173.2 1185.0h0M185.0 1185.8h0M196.0 1235.7h0M222.5 1197.4h0M212.0 1236.5h0M192.6 1222.4h0M184.3 1215.3h0M207.4 1231.1h0M187.8 1213.0h0M202.4 1235.7h0M209.1 1209.7h0M162.7 1200.0h0M180.7 1202.3h0M171.4 1186.9h0M197.7 1221.8h0M224.2 1206.3h0M168.7 1189.6h0M172.7 1200.4h0M198.0 1233.2h0M196.2 1238.4h0M217.4 1226.4h0M197.5 1204.4h0M179.4 1237.3h0M186.5 1236.7h0M224.4 1191.0h0M227.9 1200.3h0M205.3 1206.5h0M174.3 1188.9h0M194.2 1217.9h0M222.2 1206.9h0M215.6 1182.0h0M200.9 1199.5h0M207.9 1235.5h0M185.8 1216.3h0M173.4 1214.3h0M204.5 1179.5h0M214.8 1197.3h0M221.2 1198.5h0M178.3 1216.3h0M224.9 1201.6h0M196.2 1235.5h0M223.1 1218.9h0M201.0 1205.7h0M175.2 1184.9h0M188.7 1207.8h0M225.7 1215.8h0M177.5 1203.4h0M206.4 1233.2h0" stroke="#553597" stroke-width="2.0" stroke-linecap="round" fill="none"/>
<path d="M164.6 1212.4h0M183.8 1211.0h0M207.3 1198.0h0M216.1 1202.3h0M194.8 1236.7h0M205.0 1238.8h0M223.0 1219.2h0M194.9 1221.6h0M164.7 1209.4h0M184.8 1175.9h0M195.8 1237.5h0M196.8 1177.7h0M221.7 1188.1h0M200.7 1196.3h0M168.3 1222.9h0M202.7 1192.6h0M227.5 1211.1h0M182.2 1205.3h0M205.8 1224.8h0M191.0 1177.4h0M221.7 1189.0h0M216.9 1194.0h0M184.5 1218.8h0M179.3 1190.9h0M215.4 1227.2h0M182.4 1190.3h0M210.2 1179.1h0M167.5 1212.1h0M192.3 1234.1h0M164.5 1207.6h0M198.5 1176.1h0M206.8 1233.6h0M165.7 1209.9h0M207.0 1227.9h0M192.3 1237.4h0M176.3 1180.1h0M163.8 1212.9h0M223.9 1219.4h0M178.5 1204.4h0M189.6 1176.9h0M223.9 1217.6h0M197.4 1191.0h0M192.8 1224.7h0M221.4 1201.9h0M192.8 1181.5h0M201.2 1198.0h0M211.4 1233.6h0M214.2 1219.1h0M200.1 1225.3h0M187.4 1219.7h0M172.7 1222.3h0M173.9 1190.8h0M206.3 1187.7h0M198.3 1229.6h0M206.0 1181.5h0M195.8 1222.1h0M178.1 1224.9h0M220.6 1219.7h0M168.6 1217.4h0M185.7 1208.1h0M189.5 1210.2h0M182.0 1194.0h0M171.8 1225.4h0" stroke="#553597" stroke-width="2.4" stroke-linecap="round" fill="none"/>
<path d="M198.7 1193.4h0M165.9 1208.0h0M222.1 1211.5h0M212.0 1231.0h0M228.4 1213.2h0M208.6 1206.0h0M220.6 1204.3h0M210.7 1182.1h0M198.0 1183.0h0M165.8 1206.6h0M215.3 1206.6h0M211.7 1191.2h0M198.2 1228.6h0M204.7 1188.8h0M188.3 1175.3h0M186.6 1178.3h0M169.2 1200.0h0M176.7 1185.2h0M167.4 1203.2h0M176.3 1229.6h0M193.4 1178.2h0M178.4 1212.0h0M198.2 1176.1h0M224.7 1194.8h0M182.8 1207.9h0M220.6 1189.6h0M173.5 1184.8h0M164.4 1199.9h0M169.7 1204.2h0M167.1 1192.7h0M198.6 1181.4h0M189.2 1190.4h0M189.8 1177.4h0M223.5 1216.4h0M167.8 1212.1h0M222.4 1214.9h0M227.4 1209.3h0M189.3 1174.4h0M198.1 1225.7h0M178.4 1203.5h0M198.9 1198.2h0M179.5 1214.7h0M185.0 1216.7h0M208.3 1235.1h0M170.4 1211.1h0M221.1 1223.7h0M226.3 1203.9h0M219.9 1189.6h0M197.7 1175.3h0M190.5 1189.1h0M177.4 1188.9h0M202.2 1223.3h0M201.2 1218.2h0M180.1 1209.1h0M191.5 1224.5h0M178.3 1224.1h0M225.1 1211.4h0M203.9 1195.3h0M164.2 1215.7h0M219.3 1222.8h0M196.6 1188.7h0M166.6 1218.0h0M164.7 1218.2h0M204.4 1222.0h0" stroke="#553597" stroke-width="1.1" stroke-linecap="round" fill="none"/>
<path d="M213.9 1216.2h0M215.9 1218.0h0M194.9 1183.8h0M196.0 1237.0h0M178.5 1181.9h0M191.2 1207.3h0M225.7 1214.3h0M218.8 1190.1h0M171.9 1210.9h0M205.8 1181.7h0M170.4 1208.5h0M180.9 1235.2h0M165.8 1215.8h0M171.8 1189.4h0M185.5 1195.6h0M224.7 1208.1h0M199.7 1199.6h0M167.8 1205.5h0M181.6 1188.0h0M195.1 1237.0h0M203.6 1231.7h0M215.7 1228.0h0M200.7 1234.9h0M177.4 1212.5h0M202.8 1196.7h0M167.2 1192.2h0M166.0 1201.8h0M206.3 1184.2h0M204.8 1193.6h0M213.4 1192.7h0M222.7 1211.8h0M202.8 1180.9h0M181.9 1202.8h0M210.4 1234.7h0M197.2 1191.5h0M212.6 1196.7h0M164.7 1212.7h0M224.9 1199.8h0M163.0 1206.2h0M203.0 1205.3h0M221.4 1190.1h0M199.8 1187.3h0M214.8 1200.5h0M198.5 1191.7h0M197.2 1222.1h0M224.1 1211.1h0M198.6 1223.8h0M208.8 1182.7h0M199.7 1234.2h0M202.8 1192.0h0M186.5 1203.4h0M201.0 1187.2h0M222.7 1212.9h0M180.9 1228.5h0M213.1 1181.9h0M214.8 1209.5h0" stroke="#553597" stroke-width="1.4" stroke-linecap="round" fill="none"/>
<path d="M176.9 1207.3h0M221.6 1194.5h0M196.7 1199.0h0M226.1 1198.1h0M192.3 1239.2h0M171.8 1193.8h0M189.8 1234.8h0M184.4 1235.1h0M184.6 1207.0h0M187.6 1223.0h0M202.5 1240.3h0M203.4 1182.2h0M206.5 1229.4h0M206.6 1176.8h0M227.8 1209.8h0M185.3 1220.8h0M177.9 1183.4h0M167.3 1218.5h0M216.8 1183.5h0M199.0 1211.6h0M218.0 1225.1h0M210.4 1186.3h0M178.6 1184.9h0M194.5 1210.7h0M177.3 1227.6h0M191.6 1234.4h0M202.6 1187.5h0M196.4 1201.0h0M177.1 1208.5h0M215.1 1214.4h0M225.6 1216.7h0M201.3 1234.1h0M204.0 1191.9h0M170.9 1230.1h0M191.8 1196.5h0M212.1 1191.9h0M222.2 1196.0h0M196.2 1209.3h0M191.4 1217.4h0M180.8 1220.4h0M196.3 1236.7h0M178.6 1189.2h0M195.4 1229.5h0M170.4 1221.6h0M197.3 1225.4h0M205.7 1175.6h0M191.2 1226.0h0M207.8 1214.1h0M196.6 1211.9h0M219.4 1204.2h0M199.4 1188.0h0M194.6 1198.5h0M164.8 1211.3h0M169.5 1221.8h0M195.4 1213.6h0M183.5 1207.2h0M194.0 1198.8h0M209.6 1190.2h0M167.7 1195.3h0M170.5 1211.7h0M178.8 1212.6h0M222.3 1216.5h0" stroke="#553597" stroke-width="1.7" stroke-linecap="round" fill="none"/>
<circle cx="270.70" cy="1207.50" r="36.80" fill="#cdd3e1"/>
<circle cx="272.30" cy="1207.50" r="33.60" fill="#d9dee8"/>
<circle cx="272.70" cy="1207.50" r="32.00" fill="#e2e5ec"/>
<path d="M303.4 1212.4h0M269.2 1193.3h0M288.8 1194.6h0M238.4 1204.0h0M295.2 1224.9h0M250.1 1195.4h0M269.6 1213.2h0M302.1 1209.3h0M294.0 1225.1h0M239.7 1199.8h0M264.6 1179.1h0M279.1 1181.2h0M262.1 1205.2h0M273.7 1215.5h0M296.2 1192.9h0M247.4 1186.6h0M284.4 1178.6h0M282.2 1181.5h0M240.5 1202.9h0M260.8 1208.5h0M261.8 1232.3h0M250.0 1223.4h0M294.4 1221.7h0M261.7 1229.9h0M281.0 1231.0h0M271.4 1181.6h0M285.5 1211.9h0M262.5 1200.1h0M293.7 1229.7h0M273.7 1235.5h0M266.1 1216.4h0M289.0 1182.5h0M290.0 1183.5h0M255.7 1188.0h0M294.5 1231.2h0" stroke="#553597" stroke-width="1.6" stroke-linecap="round" fill="none"/>
<path d="M262.3 1195.7h0M242.8 1189.9h0M257.9 1213.1h0M278.6 1236.7h0M256.9 1225.3h0M253.6 1204.7h0M291.0 1207.6h0M242.5 1206.7h0M252.2 1181.3h0M291.9 1226.9h0M287.2 1233.4h0M279.1 1187.4h0M258.8 1196.2h0M271.8 1223.2h0M257.3 1182.9h0M266.5 1205.0h0M278.6 1231.0h0M246.0 1198.8h0M290.2 1228.4h0M290.2 1221.7h0M243.8 1201.0h0M248.7 1188.3h0M267.0 1232.7h0M297.6 1189.1h0M283.5 1230.7h0M250.7 1185.9h0M267.5 1233.7h0M278.9 1187.1h0M273.0 1184.2h0M252.0 1233.8h0M287.1 1179.6h0M294.4 1203.4h0M260.1 1207.6h0M295.3 1185.4h0M302.0 1200.7h0M269.1 1196.5h0M248.7 1227.6h0M267.9 1227.6h0M248.4 1182.1h0M278.3 1176.4h0M251.9 1185.4h0M297.2 1189.9h0M290.3 1186.3h0M284.5 1207.1h0" stroke="#553597" stroke-width="1.3" stroke-linecap="round" fill="none"/>
<path d="M298.2 1216.4h0M287.5 1221.7h0M302.5 1199.6h0M277.1 1175.1h0M279.2 1227.0h0M264.6 1227.3h0M271.9 1182.2h0M286.4 1236.6h0M298.9 1192.6h0M285.7 1185.8h0M285.3 1187.1h0M284.6 1227.4h0M247.5 1185.1h0M264.7 1239.1h0M249.2 1227.5h0M239.1 1197.2h0M283.8 1220.9h0M268.1 1196.0h0M291.0 1217.6h0M271.3 1220.6h0M258.8 1183.8h0M271.4 1215.4h0M261.1 1183.2h0M279.1 1209.1h0M252.5 1217.4h0M282.3 1221.8h0M262.9 1179.7h0M245.2 1205.9h0M281.8 1239.1h0M253.7 1182.5h0M292.8 1212.3h0M298.9 1194.9h0M242.2 1218.8h0M296.1 1192.0h0M293.8 1212.0h0M274.4 1174.7h0M282.8 1238.8h0M254.3 1210.8h0" stroke="#553597" stroke-width="1.9" stroke-linecap="round" fill="none"/>
<path d="M266.5 1214.7h0M264.4 1196.4h0M273.4 1215.2h0M288.2 1196.4h0M275.7 1180.0h0M258.5 1182.0h0M259.3 1205.7h0M242.1 1214.0h0M274.0 1179.4h0M286.0 1185.4h0M260.5 1178.3h0M277.8 1227.3h0M269.6 1232.7h0M240.3 1211.2h0M273.0 1194.4h0M267.9 1232.7h0M274.2 1190.6h0M248.5 1220.5h0M294.6 1209.4h0M283.0 1226.3h0M274.5 1235.5h0M237.8 1215.1h0M252.5 1212.8h0M272.4 1217.0h0M297.0 1201.6h0M272.5 1195.2h0M278.4 1238.8h0M288.0 1215.6h0M271.7 1185.8h0M275.3 1184.2h0M237.5 1204.4h0M296.4 1221.0h0M257.2 1184.4h0M254.4 1216.6h0M255.8 1183.1h0M239.0 1200.0h0M279.1 1182.0h0M254.3 1203.1h0M267.4 1199.8h0M285.5 1191.5h0M302.2 1217.3h0" stroke="#553597" stroke-width="1.1" stroke-linecap="round" fill="none"/>
<path d="M280.0 1233.3h0M240.9 1215.0h0M301.3 1198.6h0M299.3 1196.7h0M284.1 1213.2h0M293.2 1217.7h0M274.6 1202.1h0M260.6 1196.0h0M262.5 1196.8h0M243.0 1226.1h0M265.5 1215.9h0M257.7 1176.7h0M288.9 1200.5h0M284.9 1201.5h0M263.8 1233.7h0M293.5 1205.0h0M246.5 1218.8h0M257.1 1216.4h0M294.4 1200.3h0M272.0 1213.0h0M246.4 1210.8h0M285.7 1211.8h0M252.6 1232.4h0M272.0 1196.3h0M264.8 1220.3h0M273.1 1186.5h0M258.1 1222.1h0M272.1 1185.8h0M254.1 1207.7h0M272.4 1178.3h0M275.6 1184.5h0M239.9 1214.0h0M257.7 1223.8h0M269.3 1188.1h0M265.7 1194.3h0M249.0 1223.3h0M294.4 1186.5h0M237.7 1211.1h0M272.5 1201.0h0M255.3 1202.7h0M247.9 1225.8h0M259.5 1182.7h0" stroke="#553597" stroke-width="0.9" stroke-linecap="round" fill="none"/>
<circle cx="347.00" cy="1207.50" r="36.80" fill="#cdd3e1"/>
<circle cx="348.60" cy="1207.50" r="33.60" fill="#d9dee8"/>
<circle cx="349.00" cy="1207.50" r="32.00" fill="#e2e5ec"/>
<path d="M372.4 1187.2h0M313.3 1207.9h0M331.7 1226.2h0" stroke="#553597" stroke-width="0.9" stroke-linecap="round" fill="none"/>
<path d="M343.8 1210.5h0M349.0 1174.3h0" stroke="#553597" stroke-width="1.3" stroke-linecap="round" fill="none"/>
<path d="M352.4 1237.0h0" stroke="#553597" stroke-width="1.6" stroke-linecap="round" fill="none"/>
<path d="M360.9 1233.6h0M362.5 1233.2h0" stroke="#553597" stroke-width="1.1" stroke-linecap="round" fill="none"/>
<path d="M379.8 1202.2h0M345.0 1197.8h0" stroke="#553597" stroke-width="1.9" stroke-linecap="round" fill="none"/>
<text x="402.00" y="1043.80" font-size="21.7" dy="7.77" stroke="#000" stroke-width="0.22">DLD-1</text>
<text x="396.00" y="1064.00" font-size="21.7" dy="7.77" stroke="#000" stroke-width="0.22">(KRAS<tspan dy="-6.51" font-size="14.76">G13D/-</tspan><tspan dy="6.51">)</tspan></text>
<text x="402.00" y="1127.00" font-size="21.7" dy="7.77" stroke="#000" stroke-width="0.22">HT29</text>
<text x="396.00" y="1147.30" font-size="21.7" dy="7.77" stroke="#000" stroke-width="0.22">(BRAF<tspan dy="-6.51" font-size="14.76">V600E</tspan><tspan dy="6.51">)</tspan></text>
<text x="396.00" y="1211.00" font-size="21.7" dy="7.77" stroke="#000" stroke-width="0.22">Caco-2-CR</text>
<rect x="652.40" y="1057.07" width="27.60" height="70.93" fill="#312c2a"/>
<rect x="688.00" y="1049.97" width="27.60" height="78.03" fill="#a9a8ac"/>
<rect x="723.20" y="1078.35" width="28.00" height="49.65" fill="#878584"/>
<rect x="759.00" y="1119.13" width="28.00" height="8.87" fill="#dcdcdc"/>
<path d="M643.0 1021.6L643.0 1129.6" stroke="#000" stroke-width="3.2"/>
<path d="M634.0 1128.0L798.0 1128.0" stroke="#000" stroke-width="3.2"/>
<path d="M634.0 1128.0L643.0 1128.0" stroke="#000" stroke-width="3.2"/>
<text x="632.00" y="1128.00" font-size="23.5" dy="8.41" text-anchor="end" stroke="#000" stroke-width="0.22">0</text>
<path d="M634.0 1092.5L643.0 1092.5" stroke="#000" stroke-width="3.2"/>
<text x="632.00" y="1092.53" font-size="23.5" dy="8.41" text-anchor="end" stroke="#000" stroke-width="0.22">100</text>
<path d="M634.0 1057.1L643.0 1057.1" stroke="#000" stroke-width="3.2"/>
<text x="632.00" y="1057.07" font-size="23.5" dy="8.41" text-anchor="end" stroke="#000" stroke-width="0.22">200</text>
<path d="M634.0 1021.6L643.0 1021.6" stroke="#000" stroke-width="3.2"/>
<text x="632.00" y="1021.60" font-size="23.5" dy="8.41" text-anchor="end" stroke="#000" stroke-width="0.22">300</text>
<path d="M666.2 1128.0L666.2 1136.0" stroke="#000" stroke-width="3.2"/>
<text x="667.80" y="1150.50" font-size="23.3" dy="8.34" text-anchor="end" stroke="#000" stroke-width="0.22" transform="rotate(-45 667.80 1150.50)">PBS</text>
<path d="M701.8 1128.0L701.8 1136.0" stroke="#000" stroke-width="3.2"/>
<text x="703.40" y="1150.50" font-size="23.3" dy="8.34" text-anchor="end" stroke="#000" stroke-width="0.22" transform="rotate(-45 703.40 1150.50)">Cetuximab</text>
<path d="M737.2 1128.0L737.2 1136.0" stroke="#000" stroke-width="3.2"/>
<text x="738.80" y="1150.50" font-size="23.3" dy="8.34" text-anchor="end" stroke="#000" stroke-width="0.22" transform="rotate(-45 738.80 1150.50)">3-BP</text>
<path d="M773.0 1128.0L773.0 1136.0" stroke="#000" stroke-width="3.2"/>
<text x="774.60" y="1150.50" font-size="23.3" dy="8.34" text-anchor="end" stroke="#000" stroke-width="0.22" transform="rotate(-45 774.60 1150.50)">Co-treatment</text>
<circle cx="660.20" cy="1055.29" r="4.20" fill="#000"/>
<circle cx="666.20" cy="1054.23" r="4.20" fill="#000"/>
<circle cx="672.20" cy="1056.00" r="4.20" fill="#000"/>
<circle cx="662.20" cy="1060.61" r="4.20" fill="#000"/>
<circle cx="669.20" cy="1062.39" r="4.20" fill="#000"/>
<path d="M701.8 1042.2V1057.8M695.8 1042.2h12.0M695.8 1057.8h12.0" stroke="#000" stroke-width="2.2" fill="none"/>
<rect x="698.05" y="1033.81" width="7.50" height="7.50" fill="#000"/>
<rect x="692.05" y="1048.00" width="7.50" height="7.50" fill="#000"/>
<rect x="704.05" y="1049.77" width="7.50" height="7.50" fill="#000"/>
<rect x="698.05" y="1053.32" width="7.50" height="7.50" fill="#000"/>
<rect x="694.05" y="1055.09" width="7.50" height="7.50" fill="#000"/>
<path d="M737.2 1069.5V1087.2M731.2 1069.5h12.0M731.2 1087.2h12.0" stroke="#000" stroke-width="2.2" fill="none"/>
<polygon points="732.70,1068.92 741.70,1068.92 737.20,1060.82" fill="#000"/>
<polygon points="724.70,1084.17 733.70,1084.17 729.20,1076.07" fill="#000"/>
<polygon points="732.70,1085.94 741.70,1085.94 737.20,1077.84" fill="#000"/>
<polygon points="740.70,1087.72 749.70,1087.72 745.20,1079.62" fill="#000"/>
<polygon points="732.70,1093.75 741.70,1093.75 737.20,1085.65" fill="#000"/>
<path d="M773.0 1116.3V1122.0M767.0 1116.3h12.0M767.0 1122.0h12.0" stroke="#000" stroke-width="2.2" fill="none"/>
<polygon points="761.50,1109.76 770.50,1109.76 766.00,1117.86" fill="#000"/>
<polygon points="775.50,1111.54 784.50,1111.54 780.00,1119.64" fill="#000"/>
<polygon points="768.50,1115.08 777.50,1115.08 773.00,1123.18" fill="#000"/>
<polygon points="768.50,1118.63 777.50,1118.63 773.00,1126.73" fill="#000"/>
<polygon points="771.50,1116.86 780.50,1116.86 776.00,1124.96" fill="#000"/>
<polyline points="701.60,1029.00 701.60,1013.00 772.40,1013.00 772.40,1016.00" fill="none" stroke="#000" stroke-width="1.6" stroke-linejoin="miter"/>
<polyline points="737.40,1055.00 737.40,1049.40 772.40,1049.40 772.40,1105.00" fill="none" stroke="#000" stroke-width="1.6" stroke-linejoin="miter"/>
<text x="690.00" y="1008.60" font-size="21.8" stroke="#000" stroke-width="0.22">P=0.0001</text>
<text x="719.60" y="1041.40" font-size="21.8" stroke="#000" stroke-width="0.22">P&lt;0.0001</text>
<text x="617.00" y="954.00" font-size="22.3" stroke="#000" stroke-width="0.22">DLD-1(KRAS<tspan dy="-8.03" font-size="16.73">G13D/-</tspan><tspan dy="8.03">)</tspan></text>
<text x="579.00" y="1051.50" font-size="22.6" dy="8.09" text-anchor="middle" stroke="#000" stroke-width="0.22" transform="rotate(-90 579.00 1051.50)">Number of colonies</text>
<rect x="930.40" y="1050.91" width="29.00" height="71.89" fill="#312c2a"/>
<rect x="967.00" y="1046.49" width="29.00" height="76.31" fill="#a9a8ac"/>
<rect x="1004.00" y="1087.41" width="29.00" height="35.39" fill="#878584"/>
<rect x="1040.80" y="1105.10" width="28.90" height="17.70" fill="#dcdcdc"/>
<path d="M920.0 1012.2L920.0 1124.4" stroke="#000" stroke-width="3.2"/>
<path d="M911.0 1122.8L1082.2 1122.8" stroke="#000" stroke-width="3.2"/>
<path d="M911.0 1122.8L920.0 1122.8" stroke="#000" stroke-width="3.2"/>
<text x="909.00" y="1122.80" font-size="23.5" dy="8.41" text-anchor="end" stroke="#000" stroke-width="0.22">0</text>
<path d="M911.0 1067.5L920.0 1067.5" stroke="#000" stroke-width="3.2"/>
<text x="909.00" y="1067.50" font-size="23.5" dy="8.41" text-anchor="end" stroke="#000" stroke-width="0.22">250</text>
<path d="M911.0 1012.2L920.0 1012.2" stroke="#000" stroke-width="3.2"/>
<text x="909.00" y="1012.20" font-size="23.5" dy="8.41" text-anchor="end" stroke="#000" stroke-width="0.22">500</text>
<path d="M944.9 1122.8L944.9 1130.8" stroke="#000" stroke-width="3.2"/>
<text x="946.50" y="1145.30" font-size="23.3" dy="8.34" text-anchor="end" stroke="#000" stroke-width="0.22" transform="rotate(-45 946.50 1145.30)">PBS</text>
<path d="M981.5 1122.8L981.5 1130.8" stroke="#000" stroke-width="3.2"/>
<text x="983.10" y="1145.30" font-size="23.3" dy="8.34" text-anchor="end" stroke="#000" stroke-width="0.22" transform="rotate(-45 983.10 1145.30)">Cetuximab</text>
<path d="M1018.5 1122.8L1018.5 1130.8" stroke="#000" stroke-width="3.2"/>
<text x="1020.10" y="1145.30" font-size="23.3" dy="8.34" text-anchor="end" stroke="#000" stroke-width="0.22" transform="rotate(-45 1020.10 1145.30)">3-BP</text>
<path d="M1055.2 1122.8L1055.2 1130.8" stroke="#000" stroke-width="3.2"/>
<text x="1056.85" y="1145.30" font-size="23.3" dy="8.34" text-anchor="end" stroke="#000" stroke-width="0.22" transform="rotate(-45 1056.85 1145.30)">Co-treatment</text>
<path d="M944.9 1039.8V1062.0M938.9 1039.8h12.0M938.9 1062.0h12.0" stroke="#000" stroke-width="2.2" fill="none"/>
<circle cx="936.90" cy="1043.17" r="4.20" fill="#000"/>
<circle cx="952.90" cy="1042.06" r="4.20" fill="#000"/>
<circle cx="944.90" cy="1046.49" r="4.20" fill="#000"/>
<circle cx="938.90" cy="1067.50" r="4.20" fill="#000"/>
<circle cx="950.90" cy="1066.39" r="4.20" fill="#000"/>
<path d="M981.5 1035.4V1057.5M975.5 1035.4h12.0M975.5 1057.5h12.0" stroke="#000" stroke-width="2.2" fill="none"/>
<rect x="977.75" y="1026.15" width="7.50" height="7.50" fill="#000"/>
<rect x="969.75" y="1043.84" width="7.50" height="7.50" fill="#000"/>
<rect x="985.75" y="1041.63" width="7.50" height="7.50" fill="#000"/>
<rect x="977.75" y="1044.95" width="7.50" height="7.50" fill="#000"/>
<rect x="977.75" y="1054.90" width="7.50" height="7.50" fill="#000"/>
<path d="M1018.5 1084.1V1090.7M1012.5 1084.1h12.0M1012.5 1090.7h12.0" stroke="#000" stroke-width="2.2" fill="none"/>
<polygon points="1014.00,1085.93 1023.00,1085.93 1018.50,1077.83" fill="#000"/>
<polygon points="1008.00,1091.46 1017.00,1091.46 1012.50,1083.36" fill="#000"/>
<polygon points="1020.00,1091.46 1029.00,1091.46 1024.50,1083.36" fill="#000"/>
<polygon points="1014.00,1093.67 1023.00,1093.67 1018.50,1085.57" fill="#000"/>
<polygon points="1014.00,1094.78 1023.00,1094.78 1018.50,1086.68" fill="#000"/>
<path d="M1055.2 1104.0V1106.2M1049.2 1104.0h12.0M1049.2 1106.2h12.0" stroke="#000" stroke-width="2.2" fill="none"/>
<polygon points="1044.75,1097.74 1053.75,1097.74 1049.25,1105.84" fill="#000"/>
<polygon points="1056.75,1097.74 1065.75,1097.74 1061.25,1105.84" fill="#000"/>
<polygon points="1050.75,1099.95 1059.75,1099.95 1055.25,1108.05" fill="#000"/>
<polygon points="1050.75,1101.05 1059.75,1101.05 1055.25,1109.15" fill="#000"/>
<polygon points="1053.75,1100.61 1062.75,1100.61 1058.25,1108.71" fill="#000"/>
<polyline points="982.80,1024.00 982.80,1017.80 1057.00,1017.80 1057.00,1035.80" fill="none" stroke="#000" stroke-width="1.6" stroke-linejoin="miter"/>
<polyline points="1018.80,1073.00 1018.80,1068.00 1055.70,1068.00 1055.70,1098.60" fill="none" stroke="#000" stroke-width="1.6" stroke-linejoin="miter"/>
<text x="976.00" y="1011.00" font-size="22" stroke="#000" stroke-width="0.22">P&lt;0.0001</text>
<text x="1004.00" y="1059.00" font-size="22" stroke="#000" stroke-width="0.22">P&lt;0.0001</text>
<text x="907.50" y="956.80" font-size="23.1" stroke="#000" stroke-width="0.22">HT29(BRAF<tspan dy="-8.32" font-size="17.33">V600E</tspan><tspan dy="8.32">)</tspan></text>
<text x="852.80" y="1043.00" font-size="23.2" dy="8.31" text-anchor="middle" stroke="#000" stroke-width="0.22" transform="rotate(-90 852.80 1043.00)">Number of colonies</text>
<rect x="1225.60" y="1031.90" width="30.20" height="88.40" fill="#312c2a"/>
<rect x="1263.70" y="1022.29" width="30.00" height="98.00" fill="#a9a8ac"/>
<rect x="1301.70" y="1049.20" width="29.90" height="71.10" fill="#878584"/>
<rect x="1340.30" y="1103.00" width="29.50" height="17.30" fill="#dcdcdc"/>
<path d="M1215.4 1005.0L1215.4 1121.9" stroke="#000" stroke-width="3.2"/>
<path d="M1206.4 1120.3L1382.3 1120.3" stroke="#000" stroke-width="3.2"/>
<path d="M1206.4 1120.3L1215.4 1120.3" stroke="#000" stroke-width="3.2"/>
<text x="1204.40" y="1120.30" font-size="23.5" dy="8.41" text-anchor="end" stroke="#000" stroke-width="0.22">0</text>
<path d="M1206.4 1081.9L1215.4 1081.9" stroke="#000" stroke-width="3.2"/>
<text x="1204.40" y="1081.87" font-size="23.5" dy="8.41" text-anchor="end" stroke="#000" stroke-width="0.22">100</text>
<path d="M1206.4 1043.4L1215.4 1043.4" stroke="#000" stroke-width="3.2"/>
<text x="1204.40" y="1043.43" font-size="23.5" dy="8.41" text-anchor="end" stroke="#000" stroke-width="0.22">200</text>
<path d="M1206.4 1005.0L1215.4 1005.0" stroke="#000" stroke-width="3.2"/>
<text x="1204.40" y="1005.00" font-size="23.5" dy="8.41" text-anchor="end" stroke="#000" stroke-width="0.22">300</text>
<path d="M1240.7 1120.3L1240.7 1128.3" stroke="#000" stroke-width="3.2"/>
<text x="1242.30" y="1142.80" font-size="23.3" dy="8.34" text-anchor="end" stroke="#000" stroke-width="0.22" transform="rotate(-45 1242.30 1142.80)">PBS</text>
<path d="M1278.7 1120.3L1278.7 1128.3" stroke="#000" stroke-width="3.2"/>
<text x="1280.30" y="1142.80" font-size="23.3" dy="8.34" text-anchor="end" stroke="#000" stroke-width="0.22" transform="rotate(-45 1280.30 1142.80)">Cetuximab</text>
<path d="M1316.7 1120.3L1316.7 1128.3" stroke="#000" stroke-width="3.2"/>
<text x="1318.25" y="1142.80" font-size="23.3" dy="8.34" text-anchor="end" stroke="#000" stroke-width="0.22" transform="rotate(-45 1318.25 1142.80)">3-BP</text>
<path d="M1355.0 1120.3L1355.0 1128.3" stroke="#000" stroke-width="3.2"/>
<text x="1356.65" y="1142.80" font-size="23.3" dy="8.34" text-anchor="end" stroke="#000" stroke-width="0.22" transform="rotate(-45 1356.65 1142.80)">Co-treatment</text>
<path d="M1240.7 1028.1V1035.7M1234.7 1028.1h12.0M1234.7 1035.7h12.0" stroke="#000" stroke-width="2.2" fill="none"/>
<circle cx="1234.70" cy="1026.14" r="4.20" fill="#000"/>
<circle cx="1246.70" cy="1028.06" r="4.20" fill="#000"/>
<circle cx="1232.70" cy="1033.83" r="4.20" fill="#000"/>
<circle cx="1240.70" cy="1037.67" r="4.20" fill="#000"/>
<circle cx="1248.70" cy="1036.52" r="4.20" fill="#000"/>
<path d="M1278.7 1014.6V1030.0M1272.7 1014.6h12.0M1272.7 1030.0h12.0" stroke="#000" stroke-width="2.2" fill="none"/>
<rect x="1268.95" y="1012.78" width="7.50" height="7.50" fill="#000"/>
<rect x="1280.95" y="1016.62" width="7.50" height="7.50" fill="#000"/>
<rect x="1274.95" y="1018.54" width="7.50" height="7.50" fill="#000"/>
<rect x="1274.95" y="1024.31" width="7.50" height="7.50" fill="#000"/>
<rect x="1274.95" y="1030.08" width="7.50" height="7.50" fill="#000"/>
<path d="M1316.7 1044.6V1053.8M1310.7 1044.6h12.0M1310.7 1053.8h12.0" stroke="#000" stroke-width="2.2" fill="none"/>
<polygon points="1306.15,1047.48 1315.15,1047.48 1310.65,1039.38" fill="#000"/>
<polygon points="1320.15,1053.25 1329.15,1053.25 1324.65,1045.15" fill="#000"/>
<polygon points="1312.15,1055.17 1321.15,1055.17 1316.65,1047.07" fill="#000"/>
<polygon points="1312.15,1060.93 1321.15,1060.93 1316.65,1052.84" fill="#000"/>
<polygon points="1309.15,1051.33 1318.15,1051.33 1313.65,1043.23" fill="#000"/>
<path d="M1355.0 1099.9V1106.1M1349.0 1099.9h12.0M1349.0 1106.1h12.0" stroke="#000" stroke-width="2.2" fill="none"/>
<polygon points="1343.55,1095.11 1352.55,1095.11 1348.05,1103.21" fill="#000"/>
<polygon points="1357.55,1095.11 1366.55,1095.11 1362.05,1103.21" fill="#000"/>
<polygon points="1350.55,1100.88 1359.55,1100.88 1355.05,1108.98" fill="#000"/>
<polygon points="1350.55,1102.80 1359.55,1102.80 1355.05,1110.90" fill="#000"/>
<polyline points="1278.50,998.00 1278.50,991.70 1355.00,991.70 1355.00,997.60" fill="none" stroke="#000" stroke-width="1.6" stroke-linejoin="miter"/>
<polyline points="1317.00,1035.60 1317.00,1030.00 1355.00,1030.00 1355.00,1092.30" fill="none" stroke="#000" stroke-width="1.6" stroke-linejoin="miter"/>
<text x="1267.00" y="986.30" font-size="22" stroke="#000" stroke-width="0.22">P&lt;0.0001</text>
<text x="1301.70" y="1019.70" font-size="22" stroke="#000" stroke-width="0.22">P&lt;0.0001</text>
<text x="1218.00" y="943.60" font-size="24.5" stroke="#000" stroke-width="0.22">Caco-2-CR</text>
<text x="1146.00" y="1038.40" font-size="23.8" dy="8.52" text-anchor="middle" stroke="#000" stroke-width="0.22" transform="rotate(-90 1146.00 1038.40)">Number of colonies</text>
<defs>
<radialGradient id="tp" cx="42%" cy="40%" r="65%"><stop offset="0" stop-color="#f0d0c6"/><stop offset="0.55" stop-color="#e2b2a8"/><stop offset="1" stop-color="#c68480"/></radialGradient>
<radialGradient id="tr" cx="42%" cy="40%" r="62%"><stop offset="0" stop-color="#d64656"/><stop offset="0.6" stop-color="#bd2236"/><stop offset="1" stop-color="#8c1424"/></radialGradient>
<linearGradient id="tealP" x1="0" y1="0" x2="0" y2="1"><stop offset="0" stop-color="#0b6271"/><stop offset="0.5" stop-color="#10707f"/><stop offset="1" stop-color="#22a0ae"/></linearGradient>
<linearGradient id="ruler" x1="0" y1="0" x2="0" y2="1"><stop offset="0" stop-color="#a9a9ad"/><stop offset="0.15" stop-color="#d0d0d3"/><stop offset="1" stop-color="#c4c4c8"/></linearGradient>
</defs>
<rect x="3.50" y="1301.50" width="1440.50" height="279.30" fill="none" stroke="#2a2a2a" stroke-width="1.6"/>
<text x="43.50" y="1370.70" font-size="30" stroke="#000" stroke-width="0.22">N</text>
<rect x="98.70" y="1332.00" width="285.00" height="204.70" fill="#15979f"/>
<defs><pattern id="gp1" patternUnits="userSpaceOnUse" x="100.10" y="1332.80" width="19.1" height="19.1"><path d="M0.6 0V19.1M0 0.6H19.1" stroke="#a8dcdf" stroke-width="1.0" fill="none" opacity="0.85"/><path d="M0 1.91h3.6M1.91 0v3.6M0 3.82h3.6M3.82 0v3.6M0 5.73h3.6M5.73 0v3.6M0 7.64h3.6M7.64 0v3.6M0 9.55h6M9.55 0v6M0 11.46h3.6M11.46 0v3.6M0 13.37h3.6M13.37 0v3.6M0 15.28h3.6M15.28 0v3.6M0 17.19h3.6M17.19 0v3.6" stroke="#a8dcdf" stroke-width="0.75" fill="none" opacity="0.9"/></pattern></defs>
<rect x="98.70" y="1332.00" width="285.00" height="204.70" fill="url(#gp1)"/>
<path d="M134.8 1351.6C136.4 1353.3 137.4 1356.4 137.8 1358.8C138.3 1361.3 138.0 1363.9 137.5 1366.3C137.1 1368.7 136.3 1371.6 135.0 1373.1C133.6 1374.6 131.3 1375.1 129.4 1375.4C127.4 1375.6 124.6 1376.0 123.1 1374.7C121.6 1373.3 121.1 1369.7 120.5 1367.2C120.0 1364.7 119.4 1362.1 119.8 1359.7C120.2 1357.3 121.4 1354.7 122.9 1352.8C124.3 1351.0 126.6 1348.8 128.6 1348.6C130.6 1348.4 133.3 1349.9 134.8 1351.6Z" fill="#053c46" opacity="0.5"/>
<path d="M133.0 1350.1C134.6 1351.8 135.6 1354.9 136.0 1357.3C136.5 1359.8 136.2 1362.4 135.7 1364.8C135.3 1367.2 134.5 1370.1 133.2 1371.6C131.8 1373.1 129.5 1373.6 127.6 1373.9C125.6 1374.1 122.8 1374.5 121.3 1373.2C119.8 1371.8 119.3 1368.2 118.7 1365.7C118.2 1363.2 117.6 1360.6 118.0 1358.2C118.4 1355.8 119.6 1353.2 121.1 1351.3C122.5 1349.5 124.8 1347.3 126.8 1347.1C128.8 1346.9 131.5 1348.4 133.0 1350.1Z" fill="url(#tp)"/>
<path d="M127.4 1355.6C128.3 1355.7 129.0 1356.8 129.6 1357.8C130.1 1358.7 130.9 1360.4 130.5 1361.3C130.1 1362.2 128.2 1363.4 127.1 1363.4C126.0 1363.3 124.5 1362.0 124.0 1360.9C123.5 1359.9 123.4 1357.8 124.0 1356.9C124.5 1356.0 126.4 1355.4 127.4 1355.6Z" fill="#c8404c" opacity="0.3"/>
<path d="M128.3 1362.0C128.8 1362.9 128.8 1364.7 128.3 1365.5C127.9 1366.3 126.7 1366.6 125.8 1366.7C125.0 1366.8 123.7 1366.8 123.2 1366.1C122.6 1365.5 122.2 1363.8 122.5 1362.8C122.9 1361.8 124.1 1360.3 125.1 1360.1C126.1 1360.0 127.8 1361.1 128.3 1362.0Z" fill="#c8404c" opacity="0.3"/>
<path d="M133.0 1359.2C133.8 1359.8 135.0 1361.2 134.8 1362.1C134.7 1363.0 133.1 1364.4 132.3 1364.6C131.4 1364.7 130.5 1363.8 129.8 1363.1C129.1 1362.4 127.7 1361.4 127.8 1360.6C127.9 1359.8 129.5 1358.6 130.3 1358.4C131.2 1358.2 132.2 1358.6 133.0 1359.2Z" fill="#c8404c" opacity="0.3"/>
<ellipse cx="124.9" cy="1357.8" rx="3.5" ry="3.6" fill="#fff" opacity="0.18"/>
<path d="M193.1 1367.2C191.0 1368.9 187.4 1370.3 184.7 1370.2C182.1 1370.1 179.4 1368.0 177.2 1366.7C174.9 1365.3 172.3 1363.9 171.2 1361.9C170.1 1359.9 170.1 1356.8 170.6 1354.4C171.1 1352.0 172.2 1349.2 174.0 1347.4C175.9 1345.6 179.4 1343.6 181.9 1343.7C184.4 1343.8 187.1 1346.4 189.1 1347.9C191.0 1349.5 192.0 1350.9 193.5 1352.9C194.9 1354.9 197.8 1357.5 197.7 1359.9C197.7 1362.3 195.3 1365.5 193.1 1367.2Z" fill="#053c46" opacity="0.5"/>
<path d="M191.3 1365.7C189.2 1367.4 185.6 1368.8 182.9 1368.7C180.3 1368.6 177.6 1366.5 175.4 1365.2C173.1 1363.8 170.5 1362.4 169.4 1360.4C168.3 1358.4 168.3 1355.3 168.8 1352.9C169.3 1350.5 170.4 1347.7 172.2 1345.9C174.1 1344.1 177.6 1342.1 180.1 1342.2C182.6 1342.3 185.3 1344.9 187.3 1346.4C189.2 1348.0 190.2 1349.4 191.7 1351.4C193.1 1353.4 196.0 1356.0 195.9 1358.4C195.9 1360.8 193.5 1364.0 191.3 1365.7Z" fill="url(#tp)"/>
<path d="M184.8 1358.4C184.9 1359.3 184.0 1361.1 183.0 1361.5C182.1 1361.9 180.2 1361.2 178.9 1360.7C177.6 1360.1 175.5 1359.3 175.3 1358.3C175.2 1357.4 177.0 1355.3 178.1 1354.9C179.3 1354.6 181.1 1355.8 182.3 1356.4C183.4 1357.0 184.7 1357.6 184.8 1358.4Z" fill="#c8404c" opacity="0.3"/>
<path d="M179.5 1354.8C179.9 1355.6 179.3 1356.9 178.6 1357.6C177.9 1358.3 176.2 1359.1 175.3 1358.9C174.4 1358.8 173.4 1357.6 173.0 1356.8C172.7 1356.0 172.5 1355.0 173.1 1354.3C173.6 1353.7 175.3 1352.8 176.4 1352.9C177.5 1353.0 179.1 1354.1 179.5 1354.8Z" fill="#c8404c" opacity="0.3"/>
<path d="M181.9 1355.2C180.7 1355.3 178.8 1355.0 178.1 1354.4C177.5 1353.8 177.6 1352.2 178.0 1351.5C178.5 1350.8 179.8 1350.5 181.1 1350.3C182.3 1350.1 184.8 1349.7 185.5 1350.3C186.3 1350.9 186.1 1353.0 185.5 1353.9C184.9 1354.7 183.1 1355.1 181.9 1355.2Z" fill="#c8404c" opacity="0.3"/>
<ellipse cx="178.3" cy="1351.8" rx="4.8" ry="3.4" fill="#fff" opacity="0.18"/>
<path d="M248.3 1357.4C248.6 1360.1 246.7 1363.9 245.8 1366.4C245.0 1368.9 244.4 1370.6 243.2 1372.6C242.1 1374.6 240.5 1378.2 239.0 1378.5C237.4 1378.9 235.2 1376.7 233.9 1374.7C232.6 1372.6 231.3 1369.3 231.0 1366.4C230.7 1363.5 231.5 1360.2 232.1 1357.4C232.7 1354.6 233.3 1351.2 234.6 1349.4C235.8 1347.7 237.9 1346.7 239.6 1346.8C241.2 1346.9 243.0 1348.4 244.5 1350.2C245.9 1351.9 248.1 1354.7 248.3 1357.4Z" fill="#053c46" opacity="0.5"/>
<path d="M246.5 1355.9C246.8 1358.6 244.9 1362.4 244.0 1364.9C243.2 1367.4 242.6 1369.1 241.4 1371.1C240.3 1373.1 238.7 1376.7 237.2 1377.0C235.6 1377.4 233.4 1375.2 232.1 1373.2C230.8 1371.1 229.5 1367.8 229.2 1364.9C228.9 1362.0 229.7 1358.7 230.3 1355.9C230.9 1353.1 231.5 1349.7 232.8 1347.9C234.0 1346.2 236.1 1345.2 237.8 1345.3C239.4 1345.4 241.2 1346.9 242.7 1348.7C244.1 1350.4 246.3 1353.2 246.5 1355.9Z" fill="url(#tp)"/>
<path d="M232.7 1362.4C232.1 1361.5 231.5 1359.1 231.8 1357.8C232.2 1356.6 233.6 1355.0 234.5 1354.9C235.4 1354.8 236.6 1356.2 237.1 1357.2C237.6 1358.3 237.6 1360.1 237.3 1361.0C237.0 1362.0 236.1 1362.7 235.3 1362.9C234.5 1363.2 233.3 1363.2 232.7 1362.4Z" fill="#c8404c" opacity="0.3"/>
<path d="M231.8 1355.1C231.7 1354.1 231.9 1352.6 232.5 1351.7C233.0 1350.8 234.3 1349.5 235.1 1349.8C235.8 1350.1 236.5 1352.2 236.7 1353.5C236.8 1354.7 236.5 1356.6 235.9 1357.2C235.4 1357.9 234.1 1357.8 233.4 1357.4C232.8 1357.0 232.0 1356.0 231.8 1355.1Z" fill="#c8404c" opacity="0.3"/>
<path d="M235.7 1361.2C235.0 1362.1 233.7 1363.3 232.9 1363.0C232.1 1362.6 231.2 1360.2 231.2 1359.1C231.1 1357.9 232.0 1356.8 232.6 1355.9C233.3 1355.1 234.3 1353.6 235.1 1353.8C235.8 1354.1 236.9 1356.2 237.0 1357.4C237.1 1358.7 236.4 1360.3 235.7 1361.2Z" fill="#c8404c" opacity="0.3"/>
<ellipse cx="235.5" cy="1356.2" rx="2.9" ry="4.1" fill="#fff" opacity="0.18"/>
<path d="M302.3 1375.0C299.9 1374.8 297.6 1373.7 295.5 1372.4C293.5 1371.1 291.2 1369.3 290.2 1367.1C289.2 1364.9 288.8 1361.2 289.5 1359.0C290.3 1356.8 293.1 1355.1 294.9 1353.9C296.8 1352.6 298.4 1352.2 300.7 1351.5C302.9 1350.9 306.5 1349.0 308.2 1350.0C310.0 1351.1 310.7 1355.2 311.3 1357.7C311.9 1360.1 311.9 1362.2 311.7 1364.8C311.6 1367.4 311.8 1371.7 310.3 1373.4C308.7 1375.1 304.8 1375.1 302.3 1375.0Z" fill="#053c46" opacity="0.5"/>
<path d="M300.5 1373.5C298.1 1373.3 295.8 1372.2 293.7 1370.9C291.7 1369.6 289.4 1367.8 288.4 1365.6C287.4 1363.4 287.0 1359.7 287.7 1357.5C288.5 1355.3 291.3 1353.6 293.1 1352.4C295.0 1351.1 296.6 1350.7 298.9 1350.0C301.1 1349.4 304.7 1347.5 306.4 1348.5C308.2 1349.6 308.9 1353.7 309.5 1356.2C310.1 1358.6 310.1 1360.7 309.9 1363.3C309.8 1365.9 310.0 1370.2 308.5 1371.9C306.9 1373.6 303.0 1373.6 300.5 1373.5Z" fill="url(#tp)"/>
<path d="M295.3 1365.0C295.2 1364.1 296.5 1363.0 297.4 1362.4C298.4 1361.8 299.7 1360.9 300.8 1361.1C301.8 1361.4 303.7 1362.9 303.8 1363.8C304.0 1364.8 302.7 1366.4 301.7 1367.1C300.6 1367.7 298.8 1368.3 297.7 1368.0C296.7 1367.6 295.3 1365.9 295.3 1365.0Z" fill="#c8404c" opacity="0.3"/>
<path d="M301.6 1352.1C302.7 1352.3 304.0 1353.5 304.3 1354.3C304.7 1355.1 304.2 1356.0 303.7 1356.9C303.1 1357.8 302.1 1359.6 301.2 1359.6C300.3 1359.7 298.7 1358.1 298.1 1357.1C297.6 1356.1 297.3 1354.4 297.8 1353.6C298.4 1352.8 300.5 1352.0 301.6 1352.1Z" fill="#c8404c" opacity="0.3"/>
<path d="M306.7 1361.6C307.3 1362.3 307.9 1364.3 307.4 1365.1C306.8 1365.9 304.8 1366.2 303.5 1366.2C302.2 1366.2 300.1 1365.9 299.4 1365.0C298.8 1364.2 299.0 1361.7 299.7 1360.9C300.4 1360.2 302.5 1360.4 303.7 1360.5C304.8 1360.6 306.1 1360.8 306.7 1361.6Z" fill="#c8404c" opacity="0.3"/>
<ellipse cx="296.8" cy="1356.8" rx="4.2" ry="3.6" fill="#fff" opacity="0.18"/>
<path d="M355.2 1371.9C352.9 1372.0 350.1 1372.4 348.3 1371.5C346.4 1370.7 345.1 1368.4 344.4 1366.6C343.7 1364.9 343.8 1363.0 344.2 1361.2C344.5 1359.3 345.1 1357.3 346.6 1355.7C348.0 1354.1 350.6 1351.9 353.1 1351.5C355.5 1351.1 359.0 1352.2 361.2 1353.5C363.5 1354.7 365.9 1356.8 366.5 1358.7C367.2 1360.7 365.8 1363.1 365.1 1365.2C364.4 1367.2 364.1 1369.8 362.4 1370.9C360.8 1372.0 357.6 1371.8 355.2 1371.9Z" fill="#053c46" opacity="0.5"/>
<path d="M353.4 1370.4C351.1 1370.5 348.3 1370.9 346.5 1370.0C344.6 1369.2 343.3 1366.9 342.6 1365.1C341.9 1363.4 342.0 1361.5 342.4 1359.7C342.7 1357.8 343.3 1355.8 344.8 1354.2C346.2 1352.6 348.8 1350.4 351.3 1350.0C353.7 1349.6 357.2 1350.7 359.4 1352.0C361.7 1353.2 364.1 1355.3 364.7 1357.2C365.4 1359.2 364.0 1361.6 363.3 1363.7C362.6 1365.7 362.3 1368.3 360.6 1369.4C359.0 1370.5 355.8 1370.3 353.4 1370.4Z" fill="url(#tp)"/>
<path d="M352.6 1360.0C352.0 1360.6 350.5 1361.9 349.3 1361.9C348.2 1361.9 346.2 1360.6 345.7 1359.8C345.2 1358.9 345.6 1357.4 346.4 1356.7C347.2 1355.9 349.6 1355.3 350.7 1355.5C351.8 1355.7 352.7 1357.0 353.0 1357.8C353.3 1358.5 353.2 1359.3 352.6 1360.0Z" fill="#c8404c" opacity="0.3"/>
<path d="M349.9 1359.6C351.1 1359.4 353.7 1360.2 354.3 1360.8C354.8 1361.5 353.7 1362.8 353.1 1363.6C352.5 1364.3 351.9 1365.4 350.9 1365.6C349.9 1365.7 347.6 1365.2 347.0 1364.5C346.3 1363.9 346.3 1362.5 346.8 1361.7C347.3 1360.9 348.6 1359.7 349.9 1359.6Z" fill="#c8404c" opacity="0.3"/>
<path d="M353.1 1363.1C352.5 1363.9 350.1 1364.7 348.8 1364.6C347.5 1364.5 345.9 1363.4 345.4 1362.6C345.0 1361.9 345.4 1360.9 346.1 1360.1C346.7 1359.4 348.1 1358.1 349.1 1358.1C350.2 1358.0 351.9 1359.2 352.6 1360.1C353.2 1360.9 353.8 1362.4 353.1 1363.1Z" fill="#c8404c" opacity="0.3"/>
<ellipse cx="349.6" cy="1358.5" rx="4.4" ry="2.9" fill="#fff" opacity="0.18"/>
<path d="M122.1 1409.4C123.8 1407.8 126.1 1406.4 128.4 1405.9C130.7 1405.4 133.8 1405.4 135.8 1406.4C137.9 1407.5 139.5 1410.0 140.6 1412.1C141.7 1414.2 143.1 1417.3 142.5 1419.2C141.9 1421.2 138.6 1422.3 136.9 1423.8C135.1 1425.2 134.2 1427.1 132.2 1427.9C130.2 1428.7 126.9 1429.4 125.0 1428.6C123.0 1427.7 121.6 1424.9 120.5 1422.8C119.4 1420.6 118.1 1418.0 118.4 1415.8C118.6 1413.6 120.4 1411.1 122.1 1409.4Z" fill="#053c46" opacity="0.5"/>
<path d="M120.3 1407.9C122.0 1406.3 124.3 1404.9 126.6 1404.4C128.9 1403.9 132.0 1403.9 134.0 1404.9C136.1 1406.0 137.7 1408.5 138.8 1410.6C139.9 1412.7 141.3 1415.8 140.7 1417.7C140.1 1419.7 136.8 1420.8 135.1 1422.3C133.3 1423.7 132.4 1425.6 130.4 1426.4C128.4 1427.2 125.1 1427.9 123.2 1427.1C121.2 1426.2 119.8 1423.4 118.7 1421.3C117.6 1419.1 116.3 1416.5 116.6 1414.3C116.8 1412.1 118.6 1409.6 120.3 1407.9Z" fill="url(#tp)"/>
<path d="M125.0 1418.6C123.8 1418.5 122.2 1417.8 121.8 1417.2C121.5 1416.6 122.3 1415.4 122.7 1414.8C123.2 1414.1 124.0 1413.4 124.8 1413.4C125.6 1413.3 126.8 1413.8 127.4 1414.4C128.1 1415.1 129.0 1416.7 128.6 1417.4C128.2 1418.1 126.1 1418.6 125.0 1418.6Z" fill="#c8404c" opacity="0.3"/>
<path d="M131.9 1410.6C132.9 1410.8 134.6 1411.4 134.7 1412.0C134.9 1412.7 133.7 1413.9 133.0 1414.3C132.3 1414.7 131.4 1414.7 130.5 1414.6C129.5 1414.5 127.3 1414.1 127.1 1413.5C126.9 1412.9 128.4 1411.5 129.2 1411.0C130.0 1410.6 131.0 1410.5 131.9 1410.6Z" fill="#c8404c" opacity="0.3"/>
<path d="M127.9 1418.9C128.8 1419.6 130.3 1420.8 130.1 1421.5C129.9 1422.2 128.0 1423.2 126.8 1423.4C125.7 1423.6 123.8 1423.4 123.2 1422.9C122.6 1422.3 122.9 1421.0 123.1 1420.1C123.4 1419.2 123.9 1417.5 124.7 1417.3C125.5 1417.1 127.0 1418.2 127.9 1418.9Z" fill="#c8404c" opacity="0.3"/>
<ellipse cx="126.0" cy="1412.8" rx="3.9" ry="3.0" fill="#fff" opacity="0.18"/>
<path d="M185.9 1405.1C188.1 1405.5 190.5 1407.9 191.8 1409.7C193.1 1411.4 193.7 1413.8 193.5 1415.6C193.3 1417.4 191.9 1418.9 190.7 1420.7C189.6 1422.4 188.8 1425.2 186.8 1426.1C184.9 1426.9 181.6 1426.3 179.1 1425.7C176.6 1425.2 173.3 1424.5 171.9 1422.9C170.5 1421.4 170.8 1418.6 170.6 1416.4C170.5 1414.3 169.9 1411.4 171.2 1409.9C172.5 1408.3 175.9 1408.0 178.3 1407.2C180.8 1406.4 183.7 1404.7 185.9 1405.1Z" fill="#053c46" opacity="0.5"/>
<path d="M184.1 1403.6C186.3 1404.0 188.7 1406.4 190.0 1408.2C191.3 1409.9 191.9 1412.3 191.7 1414.1C191.5 1415.9 190.1 1417.4 188.9 1419.2C187.8 1420.9 187.0 1423.7 185.0 1424.6C183.1 1425.4 179.8 1424.8 177.3 1424.2C174.8 1423.7 171.5 1423.0 170.1 1421.4C168.7 1419.9 169.0 1417.1 168.8 1414.9C168.7 1412.8 168.1 1409.9 169.4 1408.4C170.7 1406.8 174.1 1406.5 176.5 1405.7C179.0 1404.9 181.9 1403.2 184.1 1403.6Z" fill="url(#tp)"/>
<path d="M180.4 1418.0C179.8 1417.4 179.5 1415.8 180.0 1415.2C180.6 1414.6 182.6 1414.4 183.8 1414.4C185.0 1414.4 186.6 1414.6 187.3 1415.2C188.0 1415.8 188.4 1417.5 187.9 1418.1C187.3 1418.7 185.1 1418.9 183.9 1418.9C182.6 1418.9 181.0 1418.6 180.4 1418.0Z" fill="#c8404c" opacity="0.3"/>
<path d="M185.8 1414.2C186.5 1414.5 186.8 1415.5 186.8 1416.3C186.8 1417.1 186.8 1418.6 185.9 1419.0C184.9 1419.4 182.2 1419.3 181.3 1418.8C180.3 1418.3 179.9 1416.8 180.1 1416.0C180.3 1415.3 181.6 1414.7 182.5 1414.4C183.5 1414.1 185.1 1413.9 185.8 1414.2Z" fill="#c8404c" opacity="0.3"/>
<path d="M175.9 1419.0C174.7 1418.7 173.4 1417.3 173.2 1416.5C173.0 1415.7 174.1 1414.8 174.9 1414.2C175.7 1413.6 177.3 1412.8 178.3 1412.9C179.2 1413.1 180.2 1414.2 180.6 1415.1C181.0 1416.0 181.5 1417.4 180.7 1418.1C179.9 1418.7 177.2 1419.3 175.9 1419.0Z" fill="#c8404c" opacity="0.3"/>
<ellipse cx="177.6" cy="1411.4" rx="4.4" ry="2.9" fill="#fff" opacity="0.18"/>
<path d="M238.4 1423.2C236.6 1422.7 233.7 1421.8 232.9 1420.4C232.1 1419.0 233.4 1416.7 233.8 1414.8C234.1 1413.0 233.9 1410.7 235.0 1409.5C236.2 1408.3 238.9 1407.5 240.8 1407.4C242.7 1407.3 244.5 1408.3 246.3 1409.0C248.0 1409.8 250.7 1410.4 251.5 1411.8C252.2 1413.1 251.2 1415.4 250.9 1417.1C250.6 1418.9 250.7 1421.2 249.5 1422.3C248.3 1423.4 245.7 1423.5 243.8 1423.7C242.0 1423.9 240.2 1423.8 238.4 1423.2Z" fill="#053c46" opacity="0.5"/>
<path d="M236.6 1421.7C234.8 1421.2 231.9 1420.3 231.1 1418.9C230.3 1417.5 231.6 1415.2 232.0 1413.3C232.3 1411.5 232.1 1409.2 233.2 1408.0C234.4 1406.8 237.1 1406.0 239.0 1405.9C240.9 1405.8 242.7 1406.8 244.5 1407.5C246.2 1408.3 248.9 1408.9 249.7 1410.3C250.4 1411.6 249.4 1413.9 249.1 1415.6C248.8 1417.4 248.9 1419.7 247.7 1420.8C246.5 1421.9 243.9 1422.0 242.0 1422.2C240.2 1422.4 238.4 1422.3 236.6 1421.7Z" fill="url(#tp)"/>
<path d="M238.0 1412.2C238.7 1412.5 239.4 1413.2 239.6 1413.8C239.7 1414.4 239.5 1415.6 238.7 1416.0C238.0 1416.5 235.8 1416.9 234.9 1416.6C234.0 1416.2 233.4 1414.7 233.4 1414.0C233.5 1413.2 234.4 1412.3 235.2 1412.0C236.0 1411.7 237.3 1411.9 238.0 1412.2Z" fill="#c8404c" opacity="0.3"/>
<path d="M246.8 1409.1C247.3 1409.5 247.7 1410.5 247.5 1411.1C247.4 1411.6 246.6 1412.3 245.9 1412.5C245.2 1412.7 243.9 1412.8 243.2 1412.4C242.4 1412.0 241.0 1410.9 241.1 1410.3C241.3 1409.8 243.1 1409.2 244.0 1409.0C245.0 1408.8 246.2 1408.8 246.8 1409.1Z" fill="#c8404c" opacity="0.3"/>
<path d="M239.0 1417.4C238.5 1417.0 238.7 1415.8 239.0 1415.2C239.3 1414.6 240.0 1414.1 240.7 1414.0C241.4 1413.8 242.5 1413.8 243.2 1414.2C243.9 1414.6 245.0 1415.7 244.9 1416.3C244.7 1416.9 243.2 1417.6 242.2 1417.8C241.2 1418.0 239.5 1417.8 239.0 1417.4Z" fill="#c8404c" opacity="0.3"/>
<ellipse cx="238.2" cy="1411.8" rx="3.7" ry="2.6" fill="#fff" opacity="0.18"/>
<path d="M297.0 1430.4C295.2 1430.5 293.1 1427.4 291.2 1426.1C289.3 1424.7 286.3 1424.4 285.5 1422.6C284.8 1420.8 286.1 1417.5 286.7 1415.3C287.2 1413.1 287.6 1411.3 288.8 1409.4C289.9 1407.4 291.8 1403.7 293.6 1403.5C295.3 1403.2 297.7 1406.3 299.6 1407.7C301.4 1409.0 303.9 1409.7 304.9 1411.5C305.8 1413.4 305.6 1416.6 305.2 1418.9C304.8 1421.2 303.7 1423.3 302.3 1425.2C301.0 1427.1 298.9 1430.3 297.0 1430.4Z" fill="#053c46" opacity="0.5"/>
<path d="M295.2 1428.9C293.4 1429.0 291.3 1425.9 289.4 1424.6C287.5 1423.2 284.5 1422.9 283.7 1421.1C283.0 1419.3 284.3 1416.0 284.9 1413.8C285.4 1411.6 285.8 1409.8 287.0 1407.9C288.1 1405.9 290.0 1402.2 291.8 1402.0C293.5 1401.7 295.9 1404.8 297.8 1406.2C299.6 1407.5 302.1 1408.2 303.1 1410.0C304.0 1411.9 303.8 1415.1 303.4 1417.4C303.0 1419.7 301.9 1421.8 300.5 1423.7C299.2 1425.6 297.1 1428.8 295.2 1428.9Z" fill="url(#tp)"/>
<path d="M294.6 1410.3C295.4 1410.8 296.2 1411.6 296.2 1412.2C296.2 1412.9 295.3 1413.7 294.7 1414.1C294.0 1414.5 292.8 1414.9 292.1 1414.6C291.4 1414.3 290.5 1413.2 290.4 1412.3C290.2 1411.4 290.6 1409.4 291.4 1409.0C292.1 1408.7 293.8 1409.7 294.6 1410.3Z" fill="#c8404c" opacity="0.3"/>
<path d="M292.2 1415.4C291.4 1415.3 290.7 1413.4 290.2 1412.5C289.8 1411.5 289.1 1410.3 289.5 1409.7C289.8 1409.0 291.5 1408.6 292.5 1408.6C293.6 1408.7 295.2 1409.2 295.6 1409.9C296.0 1410.6 295.4 1412.0 294.9 1412.9C294.3 1413.8 292.9 1415.4 292.2 1415.4Z" fill="#c8404c" opacity="0.3"/>
<path d="M292.9 1412.4C293.6 1411.9 295.8 1412.1 296.6 1412.6C297.5 1413.0 297.8 1414.4 297.8 1415.2C297.8 1416.0 297.4 1416.7 296.7 1417.3C296.0 1417.9 294.4 1419.3 293.6 1419.0C292.8 1418.8 292.2 1416.9 292.0 1415.8C291.9 1414.7 292.1 1413.0 292.9 1412.4Z" fill="#c8404c" opacity="0.3"/>
<ellipse cx="291.1" cy="1412.0" rx="3.7" ry="3.3" fill="#fff" opacity="0.18"/>
<path d="M349.5 1420.0C349.1 1417.8 350.1 1415.1 350.6 1412.4C351.1 1409.7 351.3 1404.9 352.6 1403.8C354.0 1402.7 356.7 1405.1 358.6 1405.6C360.5 1406.1 362.4 1405.3 364.0 1406.5C365.5 1407.8 367.9 1410.9 368.1 1413.4C368.3 1415.9 366.1 1418.9 365.2 1421.5C364.4 1424.1 364.2 1427.3 362.9 1429.0C361.5 1430.6 358.9 1431.8 357.2 1431.2C355.6 1430.7 354.3 1427.7 353.0 1425.8C351.7 1423.9 349.9 1422.3 349.5 1420.0Z" fill="#053c46" opacity="0.5"/>
<path d="M347.7 1418.5C347.3 1416.3 348.3 1413.6 348.8 1410.9C349.3 1408.2 349.5 1403.4 350.8 1402.3C352.2 1401.2 354.9 1403.6 356.8 1404.1C358.7 1404.6 360.6 1403.8 362.2 1405.0C363.7 1406.3 366.1 1409.4 366.3 1411.9C366.5 1414.4 364.3 1417.4 363.4 1420.0C362.6 1422.6 362.4 1425.8 361.1 1427.5C359.7 1429.1 357.1 1430.3 355.4 1429.7C353.8 1429.2 352.5 1426.2 351.2 1424.3C349.9 1422.4 348.1 1420.8 347.7 1418.5Z" fill="url(#tp)"/>
<path d="M352.0 1419.2C351.9 1418.2 352.9 1416.8 353.5 1416.1C354.1 1415.4 355.1 1414.9 355.7 1415.1C356.4 1415.3 357.1 1416.3 357.3 1417.2C357.6 1418.1 357.9 1419.6 357.4 1420.4C356.9 1421.3 355.3 1422.6 354.4 1422.4C353.5 1422.2 352.2 1420.3 352.0 1419.2Z" fill="#c8404c" opacity="0.3"/>
<path d="M354.4 1421.6C354.0 1420.9 354.5 1419.0 354.8 1418.1C355.2 1417.1 355.7 1416.1 356.4 1415.8C357.2 1415.5 358.7 1415.5 359.3 1416.3C360.0 1417.0 360.4 1419.2 360.1 1420.2C359.8 1421.1 358.5 1422.0 357.5 1422.2C356.6 1422.5 354.9 1422.3 354.4 1421.6Z" fill="#c8404c" opacity="0.3"/>
<path d="M353.4 1415.6C352.7 1416.0 350.8 1416.2 350.3 1415.6C349.8 1415.0 350.2 1413.0 350.5 1411.8C350.8 1410.6 351.1 1408.7 351.9 1408.3C352.7 1408.0 354.9 1408.7 355.4 1409.5C355.9 1410.4 355.2 1412.3 354.9 1413.3C354.6 1414.3 354.2 1415.2 353.4 1415.6Z" fill="#c8404c" opacity="0.3"/>
<ellipse cx="354.0" cy="1411.4" rx="3.3" ry="3.9" fill="#fff" opacity="0.18"/>
<path d="M121.2 1459.8C121.8 1458.1 123.1 1455.9 124.4 1455.2C125.8 1454.4 127.7 1455.1 129.4 1455.3C131.1 1455.5 133.3 1455.1 134.6 1456.2C135.9 1457.3 137.0 1459.9 137.3 1462.0C137.6 1464.0 137.0 1466.7 136.1 1468.3C135.2 1469.9 133.3 1470.5 131.8 1471.4C130.4 1472.3 128.8 1473.7 127.3 1473.5C125.9 1473.4 124.2 1471.8 123.1 1470.5C122.1 1469.1 121.4 1467.3 121.1 1465.5C120.8 1463.7 120.7 1461.5 121.2 1459.8Z" fill="#053c46" opacity="0.5"/>
<path d="M119.4 1458.3C120.0 1456.6 121.3 1454.4 122.6 1453.7C124.0 1452.9 125.9 1453.6 127.6 1453.8C129.3 1454.0 131.5 1453.6 132.8 1454.7C134.1 1455.8 135.2 1458.4 135.5 1460.5C135.8 1462.5 135.2 1465.2 134.3 1466.8C133.4 1468.4 131.5 1469.0 130.0 1469.9C128.6 1470.8 127.0 1472.2 125.5 1472.0C124.1 1471.9 122.4 1470.3 121.3 1469.0C120.3 1467.6 119.6 1465.8 119.3 1464.0C119.0 1462.2 118.9 1460.0 119.4 1458.3Z" fill="url(#tp)"/>
<path d="M133.0 1467.6C132.8 1468.3 131.4 1469.2 130.6 1469.3C129.8 1469.4 128.7 1468.9 128.2 1468.3C127.7 1467.8 127.6 1466.8 127.7 1466.1C127.9 1465.4 128.6 1464.2 129.2 1464.0C129.9 1463.8 131.1 1464.4 131.7 1465.0C132.4 1465.6 133.2 1466.8 133.0 1467.6Z" fill="#c8404c" opacity="0.3"/>
<path d="M130.0 1466.0C129.5 1466.5 127.8 1467.1 126.9 1466.9C126.0 1466.6 124.8 1465.3 124.7 1464.5C124.6 1463.6 125.5 1462.2 126.1 1461.8C126.7 1461.4 127.9 1461.8 128.5 1462.1C129.2 1462.3 129.5 1462.8 129.8 1463.4C130.0 1464.1 130.5 1465.4 130.0 1466.0Z" fill="#c8404c" opacity="0.3"/>
<path d="M123.1 1468.4C122.4 1468.3 120.9 1467.5 120.7 1466.8C120.6 1466.2 121.7 1465.1 122.4 1464.5C123.1 1464.0 124.1 1463.6 124.8 1463.8C125.5 1464.0 126.3 1465.1 126.4 1465.8C126.4 1466.4 125.7 1467.2 125.2 1467.6C124.6 1468.1 123.9 1468.5 123.1 1468.4Z" fill="#c8404c" opacity="0.3"/>
<ellipse cx="124.6" cy="1459.5" rx="2.9" ry="2.7" fill="#fff" opacity="0.18"/>
<path d="M175.4 1468.6C174.5 1467.3 173.7 1464.9 174.3 1463.5C175.0 1462.1 177.5 1460.9 179.3 1460.1C181.1 1459.3 183.0 1458.7 184.9 1458.6C186.8 1458.6 189.4 1459.0 190.7 1460.0C192.1 1460.9 192.5 1462.8 193.0 1464.3C193.6 1465.7 194.4 1467.3 194.0 1468.8C193.6 1470.2 192.2 1471.8 190.6 1472.8C189.1 1473.8 186.5 1474.9 184.7 1474.7C182.9 1474.5 181.4 1472.6 179.8 1471.6C178.3 1470.6 176.3 1470.0 175.4 1468.6Z" fill="#053c46" opacity="0.5"/>
<path d="M173.6 1467.1C172.7 1465.8 171.9 1463.4 172.5 1462.0C173.2 1460.6 175.7 1459.4 177.5 1458.6C179.3 1457.8 181.2 1457.2 183.1 1457.1C185.0 1457.1 187.6 1457.5 188.9 1458.5C190.3 1459.4 190.7 1461.3 191.2 1462.8C191.8 1464.2 192.6 1465.8 192.2 1467.3C191.8 1468.7 190.4 1470.3 188.8 1471.3C187.3 1472.3 184.7 1473.4 182.9 1473.2C181.1 1473.0 179.6 1471.1 178.0 1470.1C176.5 1469.1 174.5 1468.5 173.6 1467.1Z" fill="url(#tp)"/>
<path d="M182.5 1459.9C183.3 1460.2 183.3 1461.1 183.5 1461.8C183.7 1462.4 184.4 1463.6 183.8 1464.0C183.2 1464.4 180.8 1464.6 179.9 1464.4C178.9 1464.1 178.1 1463.0 178.0 1462.3C177.9 1461.6 178.5 1460.7 179.2 1460.3C180.0 1459.9 181.8 1459.7 182.5 1459.9Z" fill="#c8404c" opacity="0.3"/>
<path d="M177.8 1461.2C178.0 1460.7 178.5 1460.1 179.2 1459.9C179.8 1459.8 181.2 1459.9 181.7 1460.2C182.2 1460.5 182.3 1461.2 182.2 1461.7C182.1 1462.2 181.7 1463.1 181.1 1463.3C180.4 1463.5 178.7 1463.3 178.1 1462.9C177.6 1462.6 177.6 1461.7 177.8 1461.2Z" fill="#c8404c" opacity="0.3"/>
<path d="M184.0 1463.4C184.9 1463.0 186.3 1462.7 187.2 1462.9C188.0 1463.1 188.9 1464.0 188.9 1464.6C189.0 1465.2 188.4 1465.8 187.7 1466.3C187.0 1466.7 185.5 1467.5 184.6 1467.4C183.6 1467.2 182.1 1466.0 182.0 1465.4C181.9 1464.7 183.2 1463.8 184.0 1463.4Z" fill="#c8404c" opacity="0.3"/>
<ellipse cx="180.7" cy="1462.5" rx="3.5" ry="2.1" fill="#fff" opacity="0.18"/>
<path d="M240.5 1467.3C240.3 1465.6 240.5 1463.3 241.3 1462.0C242.1 1460.7 244.1 1460.0 245.4 1459.5C246.8 1459.1 248.1 1459.0 249.5 1459.2C250.8 1459.3 252.7 1459.4 253.7 1460.4C254.7 1461.3 255.1 1463.1 255.5 1464.7C255.9 1466.3 256.6 1468.5 256.1 1470.0C255.5 1471.4 253.7 1472.9 252.2 1473.6C250.8 1474.3 248.8 1474.5 247.3 1474.2C245.8 1473.9 244.1 1473.0 243.0 1471.8C241.9 1470.6 240.8 1468.9 240.5 1467.3Z" fill="#053c46" opacity="0.5"/>
<path d="M238.7 1465.8C238.5 1464.1 238.7 1461.8 239.5 1460.5C240.3 1459.2 242.3 1458.5 243.6 1458.0C245.0 1457.6 246.3 1457.5 247.7 1457.7C249.0 1457.8 250.9 1457.9 251.9 1458.9C252.9 1459.8 253.3 1461.6 253.7 1463.2C254.1 1464.8 254.8 1467.0 254.3 1468.5C253.7 1469.9 251.9 1471.4 250.4 1472.1C249.0 1472.8 247.0 1473.0 245.5 1472.7C244.0 1472.4 242.3 1471.5 241.2 1470.3C240.1 1469.1 239.0 1467.4 238.7 1465.8Z" fill="url(#tp)"/>
<path d="M246.0 1462.4C245.7 1461.8 245.1 1460.5 245.4 1460.2C245.8 1459.8 247.2 1460.1 248.1 1460.3C248.9 1460.4 250.3 1460.4 250.5 1460.9C250.7 1461.3 249.8 1462.2 249.2 1462.8C248.7 1463.3 248.0 1464.2 247.4 1464.1C246.9 1464.1 246.3 1463.1 246.0 1462.4Z" fill="#c8404c" opacity="0.3"/>
<path d="M246.5 1462.4C247.1 1462.9 247.3 1463.2 247.4 1463.8C247.4 1464.4 247.5 1465.8 247.0 1466.1C246.4 1466.3 244.8 1465.9 244.2 1465.5C243.7 1465.1 243.7 1464.3 243.7 1463.6C243.7 1462.9 243.7 1461.5 244.1 1461.3C244.6 1461.1 246.0 1462.0 246.5 1462.4Z" fill="#c8404c" opacity="0.3"/>
<path d="M248.1 1462.3C247.8 1461.9 247.6 1461.1 247.9 1460.6C248.2 1460.0 249.3 1459.3 249.9 1459.3C250.5 1459.3 251.1 1460.2 251.5 1460.8C251.9 1461.4 252.4 1462.4 252.1 1462.8C251.8 1463.2 250.4 1463.2 249.7 1463.1C249.0 1463.0 248.4 1462.8 248.1 1462.3Z" fill="#c8404c" opacity="0.3"/>
<ellipse cx="244.9" cy="1462.0" rx="2.8" ry="2.3" fill="#fff" opacity="0.18"/>
<path d="M297.8 1478.7C296.3 1478.7 294.5 1477.6 293.2 1476.3C291.9 1475.0 290.2 1472.8 290.0 1470.8C289.8 1468.9 291.2 1466.4 291.9 1464.6C292.7 1462.8 293.4 1461.1 294.5 1460.1C295.7 1459.2 297.3 1458.8 298.7 1458.9C300.0 1459.0 301.4 1459.7 302.7 1460.7C304.0 1461.8 306.0 1463.4 306.3 1465.1C306.6 1466.8 305.2 1469.2 304.5 1471.1C303.9 1473.0 303.6 1475.3 302.5 1476.6C301.4 1477.8 299.4 1478.8 297.8 1478.7Z" fill="#053c46" opacity="0.5"/>
<path d="M296.0 1477.2C294.5 1477.2 292.7 1476.1 291.4 1474.8C290.1 1473.5 288.4 1471.3 288.2 1469.3C288.0 1467.4 289.4 1464.9 290.1 1463.1C290.9 1461.3 291.6 1459.6 292.7 1458.6C293.9 1457.7 295.5 1457.3 296.9 1457.4C298.2 1457.5 299.6 1458.2 300.9 1459.2C302.2 1460.3 304.2 1461.9 304.5 1463.6C304.8 1465.3 303.4 1467.7 302.7 1469.6C302.1 1471.5 301.8 1473.8 300.7 1475.1C299.6 1476.3 297.6 1477.3 296.0 1477.2Z" fill="url(#tp)"/>
<path d="M291.9 1465.8C291.5 1465.0 291.9 1463.4 292.4 1462.9C292.9 1462.3 294.0 1462.5 294.7 1462.6C295.4 1462.8 296.2 1463.0 296.5 1463.6C296.7 1464.1 296.5 1465.0 296.1 1465.7C295.7 1466.4 295.0 1467.7 294.3 1467.7C293.5 1467.8 292.2 1466.7 291.9 1465.8Z" fill="#c8404c" opacity="0.3"/>
<path d="M299.9 1466.5C300.7 1466.9 301.7 1468.2 301.7 1469.1C301.8 1469.9 300.9 1471.5 300.2 1471.8C299.5 1472.2 298.4 1471.6 297.7 1471.2C296.9 1470.8 295.7 1470.1 295.7 1469.4C295.6 1468.7 296.6 1467.5 297.3 1467.0C298.0 1466.5 299.2 1466.2 299.9 1466.5Z" fill="#c8404c" opacity="0.3"/>
<path d="M296.2 1468.0C295.9 1467.3 296.0 1466.1 296.3 1465.5C296.7 1465.0 297.8 1464.5 298.4 1464.6C299.0 1464.7 299.6 1465.4 300.0 1466.1C300.3 1466.8 301.0 1468.1 300.7 1468.8C300.3 1469.4 298.8 1470.2 298.0 1470.1C297.3 1470.0 296.5 1468.8 296.2 1468.0Z" fill="#c8404c" opacity="0.3"/>
<ellipse cx="294.7" cy="1463.3" rx="2.8" ry="2.9" fill="#fff" opacity="0.18"/>
<path d="M365.6 1471.7C364.7 1472.8 362.6 1473.7 360.8 1474.1C359.1 1474.6 356.4 1475.2 354.9 1474.6C353.4 1474.0 352.5 1471.9 351.8 1470.5C351.0 1469.2 350.6 1468.0 350.5 1466.6C350.4 1465.2 350.2 1463.3 351.1 1462.1C352.0 1460.9 354.3 1459.9 356.0 1459.6C357.6 1459.4 359.5 1460.1 361.2 1460.6C362.9 1461.2 365.1 1461.6 366.1 1462.7C367.0 1463.8 366.8 1465.7 366.7 1467.2C366.7 1468.7 366.6 1470.5 365.6 1471.7Z" fill="#053c46" opacity="0.5"/>
<path d="M363.8 1470.2C362.9 1471.3 360.8 1472.2 359.0 1472.6C357.3 1473.1 354.6 1473.7 353.1 1473.1C351.6 1472.5 350.7 1470.4 350.0 1469.0C349.2 1467.7 348.8 1466.5 348.7 1465.1C348.6 1463.7 348.4 1461.8 349.3 1460.6C350.2 1459.4 352.5 1458.4 354.2 1458.1C355.8 1457.9 357.7 1458.6 359.4 1459.1C361.1 1459.7 363.3 1460.1 364.3 1461.2C365.2 1462.3 365.0 1464.2 364.9 1465.7C364.9 1467.2 364.8 1469.0 363.8 1470.2Z" fill="url(#tp)"/>
<path d="M359.3 1465.2C358.7 1465.3 357.3 1464.5 356.8 1464.0C356.3 1463.6 356.3 1462.9 356.5 1462.4C356.8 1461.8 357.5 1460.9 358.2 1460.8C359.0 1460.7 360.6 1461.2 361.1 1461.7C361.5 1462.1 361.1 1462.9 360.8 1463.5C360.5 1464.0 360.0 1465.1 359.3 1465.2Z" fill="#c8404c" opacity="0.3"/>
<path d="M358.5 1468.2C357.8 1468.4 356.6 1468.0 355.9 1467.7C355.3 1467.4 354.5 1466.9 354.5 1466.5C354.5 1466.1 355.3 1465.5 355.9 1465.3C356.5 1465.0 357.3 1464.9 358.1 1465.1C358.9 1465.3 360.5 1465.9 360.6 1466.4C360.6 1466.9 359.3 1468.0 358.5 1468.2Z" fill="#c8404c" opacity="0.3"/>
<path d="M353.1 1469.3C352.7 1468.7 352.7 1467.6 353.2 1467.2C353.7 1466.7 355.5 1466.4 356.3 1466.5C357.0 1466.7 357.5 1467.5 357.8 1468.0C358.1 1468.6 358.5 1469.3 358.2 1469.8C357.8 1470.2 356.3 1470.6 355.4 1470.5C354.6 1470.5 353.5 1469.9 353.1 1469.3Z" fill="#c8404c" opacity="0.3"/>
<ellipse cx="354.5" cy="1463.3" rx="3.1" ry="2.0" fill="#fff" opacity="0.18"/>
<path d="M136.0 1504.7C136.5 1505.6 137.9 1507.0 137.4 1507.8C136.9 1508.6 134.7 1508.9 133.3 1509.5C131.8 1510.1 130.3 1511.6 129.0 1511.5C127.7 1511.4 126.8 1509.6 125.6 1508.8C124.3 1508.0 121.9 1507.8 121.4 1506.9C120.8 1506.0 121.7 1504.5 122.3 1503.5C123.0 1502.4 124.0 1501.3 125.4 1500.7C126.8 1500.0 129.1 1499.4 130.6 1499.7C132.1 1499.9 133.5 1501.3 134.4 1502.1C135.3 1502.9 135.5 1503.7 136.0 1504.7Z" fill="#053c46" opacity="0.5"/>
<path d="M134.2 1503.2C134.7 1504.1 136.1 1505.5 135.6 1506.3C135.1 1507.1 132.9 1507.4 131.5 1508.0C130.0 1508.6 128.5 1510.1 127.2 1510.0C125.9 1509.9 125.0 1508.1 123.8 1507.3C122.5 1506.5 120.1 1506.3 119.6 1505.4C119.0 1504.5 119.9 1503.0 120.5 1502.0C121.2 1500.9 122.2 1499.8 123.6 1499.2C125.0 1498.5 127.3 1497.9 128.8 1498.2C130.3 1498.4 131.7 1499.8 132.6 1500.6C133.5 1501.4 133.7 1502.2 134.2 1503.2Z" fill="url(#tp)"/>
<path d="M126.5 1506.2C125.9 1506.1 125.3 1505.8 124.9 1505.4C124.6 1505.1 124.2 1504.3 124.6 1504.0C125.1 1503.7 126.6 1503.4 127.5 1503.5C128.3 1503.6 129.5 1504.2 129.6 1504.5C129.8 1504.9 128.9 1505.5 128.4 1505.8C127.9 1506.1 127.1 1506.2 126.5 1506.2Z" fill="#c8404c" opacity="0.3"/>
<path d="M131.2 1505.4C130.5 1505.5 129.4 1505.2 129.1 1504.9C128.7 1504.6 129.0 1504.1 129.2 1503.8C129.5 1503.4 130.0 1502.8 130.6 1502.8C131.2 1502.7 132.3 1503.1 132.7 1503.4C133.2 1503.7 133.5 1504.4 133.3 1504.7C133.0 1505.0 131.9 1505.4 131.2 1505.4Z" fill="#c8404c" opacity="0.3"/>
<path d="M128.5 1505.7C128.0 1505.4 127.7 1504.4 128.1 1504.0C128.5 1503.7 129.9 1503.5 130.8 1503.5C131.7 1503.4 133.2 1503.5 133.5 1503.8C133.8 1504.1 132.9 1504.8 132.5 1505.2C132.1 1505.5 131.8 1505.7 131.1 1505.8C130.4 1505.9 129.0 1506.0 128.5 1505.7Z" fill="#c8404c" opacity="0.3"/>
<ellipse cx="126.2" cy="1502.6" rx="2.8" ry="1.4" fill="#fff" opacity="0.18"/>
<path d="M178.4 1511.2C177.5 1510.5 176.8 1509.2 176.5 1508.0C176.3 1506.9 176.3 1505.4 176.7 1504.3C177.2 1503.3 178.2 1502.3 179.2 1501.6C180.2 1500.9 181.6 1500.1 182.8 1500.2C183.9 1500.3 184.9 1501.5 185.9 1502.3C186.9 1503.1 188.3 1504.0 188.5 1505.1C188.7 1506.1 187.5 1507.5 187.0 1508.5C186.5 1509.6 186.2 1510.8 185.3 1511.4C184.5 1512.1 183.0 1512.4 181.9 1512.3C180.7 1512.3 179.3 1512.0 178.4 1511.2Z" fill="#053c46" opacity="0.5"/>
<path d="M176.6 1509.7C175.7 1509.0 175.0 1507.7 174.7 1506.5C174.5 1505.4 174.5 1503.9 174.9 1502.8C175.4 1501.8 176.4 1500.8 177.4 1500.1C178.4 1499.4 179.8 1498.6 181.0 1498.7C182.1 1498.8 183.1 1500.0 184.1 1500.8C185.1 1501.6 186.5 1502.5 186.7 1503.6C186.9 1504.6 185.7 1506.0 185.2 1507.0C184.7 1508.1 184.4 1509.3 183.5 1509.9C182.7 1510.6 181.2 1510.9 180.1 1510.8C178.9 1510.8 177.5 1510.5 176.6 1509.7Z" fill="url(#tp)"/>
<path d="M177.7 1508.2C177.1 1508.0 176.1 1507.2 176.1 1506.7C176.0 1506.3 176.9 1505.7 177.5 1505.4C178.1 1505.0 178.9 1504.5 179.4 1504.6C180.0 1504.7 180.7 1505.6 180.8 1506.2C180.9 1506.7 180.4 1507.5 179.9 1507.8C179.3 1508.1 178.3 1508.3 177.7 1508.2Z" fill="#c8404c" opacity="0.3"/>
<path d="M176.7 1503.9C177.1 1503.6 177.9 1503.5 178.3 1503.6C178.8 1503.7 179.5 1504.1 179.6 1504.5C179.7 1504.9 179.5 1505.5 179.1 1505.8C178.7 1506.2 177.8 1506.8 177.3 1506.7C176.8 1506.6 176.3 1505.7 176.2 1505.2C176.1 1504.8 176.3 1504.1 176.7 1503.9Z" fill="#c8404c" opacity="0.3"/>
<path d="M181.7 1505.4C181.8 1505.8 181.5 1506.2 181.1 1506.6C180.8 1507.1 180.1 1507.9 179.6 1507.9C179.0 1507.9 178.1 1507.0 177.9 1506.5C177.7 1506.0 177.9 1505.0 178.4 1504.7C178.8 1504.3 179.9 1504.2 180.5 1504.3C181.0 1504.4 181.6 1505.0 181.7 1505.4Z" fill="#c8404c" opacity="0.3"/>
<ellipse cx="179.0" cy="1503.3" rx="2.2" ry="1.7" fill="#fff" opacity="0.18"/>
<path d="M240.8 1505.8C240.9 1504.5 241.4 1502.8 242.1 1502.1C242.9 1501.4 244.4 1501.7 245.6 1501.5C246.7 1501.3 247.9 1500.7 248.8 1501.1C249.8 1501.5 250.7 1502.7 251.2 1503.8C251.7 1504.8 252.0 1506.4 251.7 1507.4C251.5 1508.4 250.4 1509.3 249.6 1510.0C248.8 1510.6 248.0 1511.0 247.2 1511.2C246.3 1511.5 245.2 1511.7 244.3 1511.4C243.3 1511.1 242.1 1510.4 241.5 1509.5C241.0 1508.5 240.7 1507.0 240.8 1505.8Z" fill="#053c46" opacity="0.5"/>
<path d="M239.0 1504.3C239.1 1503.0 239.6 1501.3 240.3 1500.6C241.1 1499.9 242.6 1500.2 243.8 1500.0C244.9 1499.8 246.1 1499.2 247.0 1499.6C248.0 1500.0 248.9 1501.2 249.4 1502.3C249.9 1503.3 250.2 1504.9 249.9 1505.9C249.7 1506.9 248.6 1507.8 247.8 1508.5C247.0 1509.1 246.2 1509.5 245.4 1509.7C244.5 1510.0 243.4 1510.2 242.5 1509.9C241.5 1509.6 240.3 1508.9 239.7 1508.0C239.2 1507.0 238.9 1505.5 239.0 1504.3Z" fill="url(#tp)"/>
<path d="M242.7 1506.7C242.1 1506.5 241.4 1505.7 241.4 1505.3C241.4 1504.8 242.1 1504.3 242.6 1504.0C243.1 1503.7 244.0 1503.2 244.3 1503.4C244.7 1503.6 244.6 1504.5 244.7 1505.0C244.7 1505.5 244.9 1506.2 244.6 1506.5C244.3 1506.8 243.2 1506.9 242.7 1506.7Z" fill="#c8404c" opacity="0.3"/>
<path d="M245.9 1501.9C246.4 1501.7 247.5 1501.7 247.8 1502.0C248.1 1502.3 247.8 1503.2 247.6 1503.6C247.5 1504.1 247.2 1504.6 246.8 1504.8C246.3 1504.9 245.3 1504.9 244.9 1504.6C244.6 1504.3 244.5 1503.4 244.6 1503.0C244.8 1502.5 245.3 1502.1 245.9 1501.9Z" fill="#c8404c" opacity="0.3"/>
<path d="M245.2 1502.5C245.4 1503.0 245.7 1503.9 245.4 1504.2C245.1 1504.4 244.1 1504.2 243.5 1504.1C243.0 1504.0 242.1 1504.0 241.9 1503.6C241.7 1503.3 241.9 1502.3 242.2 1501.9C242.5 1501.5 243.5 1501.1 244.0 1501.2C244.5 1501.3 245.0 1502.0 245.2 1502.5Z" fill="#c8404c" opacity="0.3"/>
<ellipse cx="243.4" cy="1503.4" rx="1.8" ry="1.6" fill="#fff" opacity="0.18"/>
<path d="M303.1 1513.1C302.0 1513.4 300.4 1513.2 299.3 1512.9C298.2 1512.6 297.2 1512.0 296.4 1511.3C295.6 1510.6 294.6 1509.7 294.4 1508.8C294.1 1507.9 294.5 1506.6 295.1 1505.7C295.7 1504.8 296.8 1504.0 297.9 1503.6C298.9 1503.2 300.5 1503.0 301.6 1503.3C302.7 1503.5 303.8 1504.3 304.5 1505.0C305.2 1505.7 305.7 1506.7 306.0 1507.6C306.2 1508.6 306.5 1509.9 306.1 1510.9C305.6 1511.8 304.2 1512.7 303.1 1513.1Z" fill="#053c46" opacity="0.5"/>
<path d="M301.3 1511.6C300.2 1511.9 298.6 1511.7 297.5 1511.4C296.4 1511.1 295.4 1510.5 294.6 1509.8C293.8 1509.1 292.8 1508.2 292.6 1507.3C292.3 1506.4 292.7 1505.1 293.3 1504.2C293.9 1503.3 295.0 1502.5 296.1 1502.1C297.1 1501.7 298.7 1501.5 299.8 1501.8C300.9 1502.0 302.0 1502.8 302.7 1503.5C303.4 1504.2 303.9 1505.2 304.2 1506.1C304.4 1507.1 304.7 1508.4 304.3 1509.4C303.8 1510.3 302.4 1511.2 301.3 1511.6Z" fill="url(#tp)"/>
<path d="M298.2 1505.9C298.8 1506.0 299.9 1506.6 300.0 1507.0C300.1 1507.4 299.3 1508.0 298.8 1508.3C298.4 1508.5 297.8 1508.6 297.3 1508.6C296.7 1508.5 295.7 1508.3 295.5 1507.9C295.3 1507.6 295.7 1506.9 296.1 1506.6C296.6 1506.2 297.5 1505.9 298.2 1505.9Z" fill="#c8404c" opacity="0.3"/>
<path d="M298.6 1506.4C298.9 1506.6 298.7 1507.4 298.5 1507.8C298.3 1508.2 297.9 1508.6 297.4 1508.6C297.0 1508.7 296.5 1508.4 296.0 1508.2C295.5 1507.9 294.4 1507.4 294.5 1507.1C294.6 1506.8 295.8 1506.6 296.5 1506.5C297.2 1506.3 298.3 1506.2 298.6 1506.4Z" fill="#c8404c" opacity="0.3"/>
<path d="M298.2 1506.1C298.5 1505.8 299.4 1505.3 300.0 1505.3C300.6 1505.3 301.5 1505.9 301.7 1506.2C301.9 1506.6 301.6 1507.2 301.3 1507.5C301.0 1507.8 300.3 1507.9 299.8 1507.9C299.2 1507.9 298.4 1507.8 298.1 1507.5C297.9 1507.2 297.9 1506.5 298.2 1506.1Z" fill="#c8404c" opacity="0.3"/>
<ellipse cx="297.1" cy="1505.2" rx="2.2" ry="1.4" fill="#fff" opacity="0.18"/>
<path d="M354.3 1502.1C355.2 1501.6 356.8 1501.8 357.9 1502.0C359.1 1502.3 360.3 1502.9 361.0 1503.7C361.8 1504.5 362.0 1505.7 362.3 1506.8C362.6 1508.0 363.3 1509.7 362.8 1510.6C362.3 1511.5 360.4 1512.0 359.3 1512.3C358.2 1512.6 357.2 1512.6 356.2 1512.5C355.2 1512.3 354.0 1511.9 353.3 1511.2C352.6 1510.5 352.1 1509.4 351.9 1508.3C351.7 1507.3 351.9 1506.2 352.3 1505.2C352.7 1504.1 353.3 1502.6 354.3 1502.1Z" fill="#053c46" opacity="0.5"/>
<path d="M352.5 1500.6C353.4 1500.1 355.0 1500.3 356.1 1500.5C357.3 1500.8 358.5 1501.4 359.2 1502.2C360.0 1503.0 360.2 1504.2 360.5 1505.3C360.8 1506.5 361.5 1508.2 361.0 1509.1C360.5 1510.0 358.6 1510.5 357.5 1510.8C356.4 1511.1 355.4 1511.1 354.4 1511.0C353.4 1510.8 352.2 1510.4 351.5 1509.7C350.8 1509.0 350.3 1507.9 350.1 1506.8C349.9 1505.8 350.1 1504.7 350.5 1503.7C350.9 1502.6 351.5 1501.1 352.5 1500.6Z" fill="url(#tp)"/>
<path d="M353.3 1505.3C352.8 1505.1 352.2 1504.6 352.2 1504.2C352.2 1503.8 352.8 1503.3 353.2 1503.1C353.6 1502.9 354.3 1503.0 354.6 1503.2C355.0 1503.3 355.4 1503.7 355.5 1504.1C355.6 1504.4 355.4 1505.2 355.0 1505.4C354.7 1505.6 353.8 1505.5 353.3 1505.3Z" fill="#c8404c" opacity="0.3"/>
<path d="M355.2 1506.0C355.6 1506.1 355.8 1506.6 356.0 1507.1C356.1 1507.5 356.3 1508.2 356.0 1508.5C355.6 1508.8 354.5 1509.0 354.0 1508.9C353.5 1508.7 353.1 1508.0 353.0 1507.5C352.9 1507.1 353.0 1506.3 353.3 1506.1C353.7 1505.8 354.8 1505.8 355.2 1506.0Z" fill="#c8404c" opacity="0.3"/>
<path d="M355.2 1506.7C355.8 1507.0 356.5 1507.8 356.5 1508.2C356.4 1508.6 355.5 1509.0 354.9 1509.3C354.4 1509.5 353.7 1509.7 353.3 1509.5C352.8 1509.3 352.2 1508.7 352.1 1508.2C352.1 1507.7 352.6 1506.9 353.1 1506.7C353.6 1506.5 354.7 1506.5 355.2 1506.7Z" fill="#c8404c" opacity="0.3"/>
<ellipse cx="353.9" cy="1504.4" rx="2.0" ry="1.6" fill="#fff" opacity="0.18"/>
<text x="336.70" y="1519.40" font-size="12" text-anchor="middle" fill="#fff" font-weight="bold">1cm</text>
<rect x="326.00" y="1523.00" width="21.40" height="3.00" fill="#fff"/>
<text x="394.30" y="1374.00" font-size="21.7" dy="7.77" stroke="#000" stroke-width="0.22">PBS</text>
<text x="394.30" y="1417.30" font-size="21.7" dy="7.77" stroke="#000" stroke-width="0.22">Cetuximab</text>
<text x="394.30" y="1461.30" font-size="21.7" dy="7.77" stroke="#000" stroke-width="0.22">3-BP</text>
<text x="394.30" y="1504.20" font-size="21.7" dy="7.77" stroke="#000" stroke-width="0.22">3-BP +Cetuximab</text>
<polyline points="668.30,1508.00 691.74,1507.17 715.18,1506.12 738.62,1505.71 762.06,1505.08 785.50,1506.12 808.94,1504.04 832.38,1503.62 855.82,1501.95 879.26,1500.91 902.70,1497.78" fill="none" stroke="#3db54a" stroke-width="2.2" stroke-linejoin="miter"/>
<path d="M668.3 1507.4V1508.6M664.8 1507.4h7.0M664.8 1508.6h7.0" stroke="#3db54a" stroke-width="2.0" fill="none"/>
<circle cx="668.30" cy="1508.00" r="4.30" fill="#3db54a"/>
<path d="M691.7 1506.5V1507.8M688.2 1506.5h7.0M688.2 1507.8h7.0" stroke="#3db54a" stroke-width="2.0" fill="none"/>
<circle cx="691.74" cy="1507.17" r="4.30" fill="#3db54a"/>
<path d="M715.2 1505.3V1507.0M711.7 1505.3h7.0M711.7 1507.0h7.0" stroke="#3db54a" stroke-width="2.0" fill="none"/>
<circle cx="715.18" cy="1506.12" r="4.30" fill="#3db54a"/>
<path d="M738.6 1504.7V1506.7M735.1 1504.7h7.0M735.1 1506.7h7.0" stroke="#3db54a" stroke-width="2.0" fill="none"/>
<circle cx="738.62" cy="1505.71" r="4.30" fill="#3db54a"/>
<path d="M762.1 1504.0V1506.1M758.6 1504.0h7.0M758.6 1506.1h7.0" stroke="#3db54a" stroke-width="2.0" fill="none"/>
<circle cx="762.06" cy="1505.08" r="4.30" fill="#3db54a"/>
<path d="M785.5 1505.1V1507.2M782.0 1505.1h7.0M782.0 1507.2h7.0" stroke="#3db54a" stroke-width="2.0" fill="none"/>
<circle cx="785.50" cy="1506.12" r="4.30" fill="#3db54a"/>
<path d="M808.9 1502.4V1505.7M805.4 1502.4h7.0M805.4 1505.7h7.0" stroke="#3db54a" stroke-width="2.0" fill="none"/>
<circle cx="808.94" cy="1504.04" r="4.30" fill="#3db54a"/>
<path d="M832.4 1502.0V1505.3M828.9 1502.0h7.0M828.9 1505.3h7.0" stroke="#3db54a" stroke-width="2.0" fill="none"/>
<circle cx="832.38" cy="1503.62" r="4.30" fill="#3db54a"/>
<path d="M855.8 1496.5V1507.4M852.3 1496.5h7.0M852.3 1507.4h7.0" stroke="#3db54a" stroke-width="2.0" fill="none"/>
<circle cx="855.82" cy="1501.95" r="4.30" fill="#3db54a"/>
<path d="M879.3 1494.4V1507.4M875.8 1494.4h7.0M875.8 1507.4h7.0" stroke="#3db54a" stroke-width="2.0" fill="none"/>
<circle cx="879.26" cy="1500.91" r="4.30" fill="#3db54a"/>
<path d="M902.7 1491.3V1504.2M899.2 1491.3h7.0M899.2 1504.2h7.0" stroke="#3db54a" stroke-width="2.0" fill="none"/>
<circle cx="902.70" cy="1497.78" r="4.30" fill="#3db54a"/>
<polyline points="668.30,1508.00 691.74,1507.58 715.18,1504.66 738.62,1500.91 762.06,1496.73 785.50,1494.23 808.94,1488.80 832.38,1485.88 855.82,1482.13 879.26,1474.41 902.70,1465.85" fill="none" stroke="#2f3a97" stroke-width="2.2" stroke-linejoin="miter"/>
<path d="M668.3 1507.2V1508.8M664.8 1507.2h7.0M664.8 1508.8h7.0" stroke="#2f3a97" stroke-width="2.0" fill="none"/>
<circle cx="668.30" cy="1508.00" r="4.30" fill="#2f3a97"/>
<path d="M691.7 1506.7V1508.4M688.2 1506.7h7.0M688.2 1508.4h7.0" stroke="#2f3a97" stroke-width="2.0" fill="none"/>
<circle cx="691.74" cy="1507.58" r="4.30" fill="#2f3a97"/>
<path d="M715.2 1503.4V1505.9M711.7 1503.4h7.0M711.7 1505.9h7.0" stroke="#2f3a97" stroke-width="2.0" fill="none"/>
<circle cx="715.18" cy="1504.66" r="4.30" fill="#2f3a97"/>
<path d="M738.6 1499.2V1502.6M735.1 1499.2h7.0M735.1 1502.6h7.0" stroke="#2f3a97" stroke-width="2.0" fill="none"/>
<circle cx="738.62" cy="1500.91" r="4.30" fill="#2f3a97"/>
<path d="M762.1 1495.1V1498.4M758.6 1495.1h7.0M758.6 1498.4h7.0" stroke="#2f3a97" stroke-width="2.0" fill="none"/>
<circle cx="762.06" cy="1496.73" r="4.30" fill="#2f3a97"/>
<path d="M785.5 1492.1V1496.3M782.0 1492.1h7.0M782.0 1496.3h7.0" stroke="#2f3a97" stroke-width="2.0" fill="none"/>
<circle cx="785.50" cy="1494.23" r="4.30" fill="#2f3a97"/>
<path d="M808.9 1482.1V1495.5M805.4 1482.1h7.0M805.4 1495.5h7.0" stroke="#2f3a97" stroke-width="2.0" fill="none"/>
<circle cx="808.94" cy="1488.80" r="4.30" fill="#2f3a97"/>
<path d="M832.4 1478.6V1493.2M828.9 1478.6h7.0M828.9 1493.2h7.0" stroke="#2f3a97" stroke-width="2.0" fill="none"/>
<circle cx="832.38" cy="1485.88" r="4.30" fill="#2f3a97"/>
<path d="M855.8 1474.8V1489.4M852.3 1474.8h7.0M852.3 1489.4h7.0" stroke="#2f3a97" stroke-width="2.0" fill="none"/>
<circle cx="855.82" cy="1482.13" r="4.30" fill="#2f3a97"/>
<path d="M879.3 1459.8V1489.0M875.8 1459.8h7.0M875.8 1489.0h7.0" stroke="#2f3a97" stroke-width="2.0" fill="none"/>
<circle cx="879.26" cy="1474.41" r="4.30" fill="#2f3a97"/>
<path d="M902.7 1447.1V1484.6M899.2 1447.1h7.0M899.2 1484.6h7.0" stroke="#2f3a97" stroke-width="2.0" fill="none"/>
<circle cx="902.70" cy="1465.85" r="4.30" fill="#2f3a97"/>
<polyline points="668.30,1508.84 691.74,1507.58 715.18,1504.66 738.62,1501.95 762.06,1497.36 785.50,1489.85 808.94,1480.46 832.38,1465.43 855.82,1453.75 879.26,1439.14 902.70,1417.44" fill="none" stroke="#e8242b" stroke-width="2.2" stroke-linejoin="miter"/>
<path d="M668.3 1508.0V1509.7M664.8 1508.0h7.0M664.8 1509.7h7.0" stroke="#e8242b" stroke-width="2.0" fill="none"/>
<circle cx="668.30" cy="1508.84" r="4.30" fill="#e8242b"/>
<path d="M691.7 1506.5V1508.6M688.2 1506.5h7.0M688.2 1508.6h7.0" stroke="#e8242b" stroke-width="2.0" fill="none"/>
<circle cx="691.74" cy="1507.58" r="4.30" fill="#e8242b"/>
<path d="M715.2 1503.0V1506.3M711.7 1503.0h7.0M711.7 1506.3h7.0" stroke="#e8242b" stroke-width="2.0" fill="none"/>
<circle cx="715.18" cy="1504.66" r="4.30" fill="#e8242b"/>
<path d="M738.6 1500.3V1503.6M735.1 1500.3h7.0M735.1 1503.6h7.0" stroke="#e8242b" stroke-width="2.0" fill="none"/>
<circle cx="738.62" cy="1501.95" r="4.30" fill="#e8242b"/>
<path d="M762.1 1495.3V1499.4M758.6 1495.3h7.0M758.6 1499.4h7.0" stroke="#e8242b" stroke-width="2.0" fill="none"/>
<circle cx="762.06" cy="1497.36" r="4.30" fill="#e8242b"/>
<path d="M785.5 1485.7V1494.0M782.0 1485.7h7.0M782.0 1494.0h7.0" stroke="#e8242b" stroke-width="2.0" fill="none"/>
<circle cx="785.50" cy="1489.85" r="4.30" fill="#e8242b"/>
<path d="M808.9 1474.2V1486.7M805.4 1474.2h7.0M805.4 1486.7h7.0" stroke="#e8242b" stroke-width="2.0" fill="none"/>
<circle cx="808.94" cy="1480.46" r="4.30" fill="#e8242b"/>
<path d="M832.4 1460.2V1470.7M828.9 1460.2h7.0M828.9 1470.7h7.0" stroke="#e8242b" stroke-width="2.0" fill="none"/>
<circle cx="832.38" cy="1465.43" r="4.30" fill="#e8242b"/>
<path d="M855.8 1447.5V1460.0M852.3 1447.5h7.0M852.3 1460.0h7.0" stroke="#e8242b" stroke-width="2.0" fill="none"/>
<circle cx="855.82" cy="1453.75" r="4.30" fill="#e8242b"/>
<path d="M879.3 1427.7V1450.6M875.8 1427.7h7.0M875.8 1450.6h7.0" stroke="#e8242b" stroke-width="2.0" fill="none"/>
<circle cx="879.26" cy="1439.14" r="4.30" fill="#e8242b"/>
<path d="M902.7 1403.9V1431.0M899.2 1403.9h7.0M899.2 1431.0h7.0" stroke="#e8242b" stroke-width="2.0" fill="none"/>
<circle cx="902.70" cy="1417.44" r="4.30" fill="#e8242b"/>
<polyline points="668.30,1506.33 691.74,1504.25 715.18,1499.24 738.62,1494.65 762.06,1487.76 785.50,1477.95 808.94,1467.94 832.38,1455.83 855.82,1441.23 879.26,1422.87 902.70,1395.11" fill="none" stroke="#000" stroke-width="2.2" stroke-linejoin="miter"/>
<path d="M668.3 1505.3V1507.4M664.8 1505.3h7.0M664.8 1507.4h7.0" stroke="#000" stroke-width="2.0" fill="none"/>
<circle cx="668.30" cy="1506.33" r="4.30" fill="#000"/>
<path d="M691.7 1502.6V1505.9M688.2 1502.6h7.0M688.2 1505.9h7.0" stroke="#000" stroke-width="2.0" fill="none"/>
<circle cx="691.74" cy="1504.25" r="4.30" fill="#000"/>
<path d="M715.2 1496.1V1502.4M711.7 1496.1h7.0M711.7 1502.4h7.0" stroke="#000" stroke-width="2.0" fill="none"/>
<circle cx="715.18" cy="1499.24" r="4.30" fill="#000"/>
<path d="M738.6 1491.5V1497.8M735.1 1491.5h7.0M735.1 1497.8h7.0" stroke="#000" stroke-width="2.0" fill="none"/>
<circle cx="738.62" cy="1494.65" r="4.30" fill="#000"/>
<path d="M762.1 1484.6V1490.9M758.6 1484.6h7.0M758.6 1490.9h7.0" stroke="#000" stroke-width="2.0" fill="none"/>
<circle cx="762.06" cy="1487.76" r="4.30" fill="#000"/>
<path d="M785.5 1472.7V1483.2M782.0 1472.7h7.0M782.0 1483.2h7.0" stroke="#000" stroke-width="2.0" fill="none"/>
<circle cx="785.50" cy="1477.95" r="4.30" fill="#000"/>
<path d="M808.9 1460.6V1475.2M805.4 1460.6h7.0M805.4 1475.2h7.0" stroke="#000" stroke-width="2.0" fill="none"/>
<circle cx="808.94" cy="1467.94" r="4.30" fill="#000"/>
<path d="M832.4 1449.6V1462.1M828.9 1449.6h7.0M828.9 1462.1h7.0" stroke="#000" stroke-width="2.0" fill="none"/>
<circle cx="832.38" cy="1455.83" r="4.30" fill="#000"/>
<path d="M855.8 1433.9V1448.5M852.3 1433.9h7.0M852.3 1448.5h7.0" stroke="#000" stroke-width="2.0" fill="none"/>
<circle cx="855.82" cy="1441.23" r="4.30" fill="#000"/>
<path d="M879.3 1414.5V1431.2M875.8 1414.5h7.0M875.8 1431.2h7.0" stroke="#000" stroke-width="2.0" fill="none"/>
<circle cx="879.26" cy="1422.87" r="4.30" fill="#000"/>
<path d="M902.7 1380.5V1409.7M899.2 1380.5h7.0M899.2 1409.7h7.0" stroke="#000" stroke-width="2.0" fill="none"/>
<circle cx="902.70" cy="1395.11" r="4.30" fill="#000"/>
<path d="M658.1 1370.2L658.1 1519.1" stroke="#000" stroke-width="3.0"/>
<path d="M650.1 1517.6L916.0 1517.6" stroke="#000" stroke-width="3.0"/>
<path d="M650.1 1517.6L658.1 1517.6" stroke="#000" stroke-width="3.0"/>
<text x="649.10" y="1517.60" font-size="19" dy="6.80" text-anchor="end" stroke="#000" stroke-width="0.22">0</text>
<path d="M650.1 1486.3L658.1 1486.3" stroke="#000" stroke-width="3.0"/>
<text x="649.10" y="1486.30" font-size="19" dy="6.80" text-anchor="end" stroke="#000" stroke-width="0.22">150</text>
<path d="M650.1 1455.0L658.1 1455.0" stroke="#000" stroke-width="3.0"/>
<text x="649.10" y="1455.00" font-size="19" dy="6.80" text-anchor="end" stroke="#000" stroke-width="0.22">300</text>
<path d="M650.1 1423.7L658.1 1423.7" stroke="#000" stroke-width="3.0"/>
<text x="649.10" y="1423.70" font-size="19" dy="6.80" text-anchor="end" stroke="#000" stroke-width="0.22">450</text>
<path d="M650.1 1392.4L658.1 1392.4" stroke="#000" stroke-width="3.0"/>
<text x="649.10" y="1392.40" font-size="19" dy="6.80" text-anchor="end" stroke="#000" stroke-width="0.22">600</text>
<path d="M668.3 1517.6L668.3 1525.6" stroke="#000" stroke-width="3.0"/>
<text x="673.30" y="1532.60" font-size="19" dy="6.80" text-anchor="end" stroke="#000" stroke-width="0.22" transform="rotate(-45 673.30 1532.60)">8</text>
<path d="M715.2 1517.6L715.2 1525.6" stroke="#000" stroke-width="3.0"/>
<text x="720.18" y="1532.60" font-size="19" dy="6.80" text-anchor="end" stroke="#000" stroke-width="0.22" transform="rotate(-45 720.18 1532.60)">12</text>
<path d="M762.1 1517.6L762.1 1525.6" stroke="#000" stroke-width="3.0"/>
<text x="767.06" y="1532.60" font-size="19" dy="6.80" text-anchor="end" stroke="#000" stroke-width="0.22" transform="rotate(-45 767.06 1532.60)">16</text>
<path d="M808.9 1517.6L808.9 1525.6" stroke="#000" stroke-width="3.0"/>
<text x="813.94" y="1532.60" font-size="19" dy="6.80" text-anchor="end" stroke="#000" stroke-width="0.22" transform="rotate(-45 813.94 1532.60)">20</text>
<path d="M855.8 1517.6L855.8 1525.6" stroke="#000" stroke-width="3.0"/>
<text x="860.82" y="1532.60" font-size="19" dy="6.80" text-anchor="end" stroke="#000" stroke-width="0.22" transform="rotate(-45 860.82 1532.60)">24</text>
<path d="M902.7 1517.6L902.7 1525.6" stroke="#000" stroke-width="3.0"/>
<text x="907.70" y="1532.60" font-size="19" dy="6.80" text-anchor="end" stroke="#000" stroke-width="0.22" transform="rotate(-45 907.70 1532.60)">28</text>
<path d="M671.6 1338.8L699.0 1338.8" stroke="#000" stroke-width="2.2"/>
<circle cx="685.30" cy="1338.80" r="4.30" fill="#000"/>
<text x="714.30" y="1338.80" font-size="18.5" dy="6.62" stroke="#000" stroke-width="0.22">PBS</text>
<path d="M671.6 1365.1L699.0 1365.1" stroke="#e8242b" stroke-width="2.2"/>
<circle cx="685.30" cy="1365.10" r="4.30" fill="#e8242b"/>
<text x="714.30" y="1365.10" font-size="18.5" dy="6.62" stroke="#000" stroke-width="0.22">Cetuximab</text>
<path d="M671.6 1390.7L699.0 1390.7" stroke="#2f3a97" stroke-width="2.2"/>
<circle cx="685.30" cy="1390.70" r="4.30" fill="#2f3a97"/>
<text x="714.30" y="1390.70" font-size="18.5" dy="6.62" stroke="#000" stroke-width="0.22">3-BP</text>
<path d="M671.6 1418.0L699.0 1418.0" stroke="#3db54a" stroke-width="2.2"/>
<circle cx="685.30" cy="1418.00" r="4.30" fill="#3db54a"/>
<text x="714.30" y="1418.00" font-size="18.5" dy="6.62" stroke="#000" stroke-width="0.22">3-BP+Cetuximab</text>
<text x="598.00" y="1444.30" font-size="19.1" dy="6.84" text-anchor="middle" stroke="#000" stroke-width="0.22" transform="rotate(-90 598.00 1444.30)">Tumor volume(mm<tspan dy="-6.88" font-size="13.37">3</tspan><tspan dy="6.88">)</tspan></text>
<text x="780.00" y="1560.50" font-size="20.8" dy="7.45" text-anchor="middle" stroke="#000" stroke-width="0.22">Time(days)</text>
<path d="M668.3 1498.7L715.6 1487.2" stroke="#000" stroke-width="2.0"/>
<text x="692.60" y="1483.30" font-size="20" dy="7.16" text-anchor="middle" stroke="#000" stroke-width="0.22">ns</text>
<text x="738.50" y="1524.33" font-size="21.5" text-anchor="middle" stroke="#000" stroke-width="0.22" letter-spacing="1.5">*</text>
<text x="758.50" y="1524.33" font-size="21.5" text-anchor="middle" stroke="#000" stroke-width="0.22" letter-spacing="1.5">**</text>
<text x="784.50" y="1524.83" font-size="21.5" text-anchor="middle" stroke="#000" stroke-width="0.22" letter-spacing="1.5">***</text>
<text x="811.30" y="1522.33" font-size="21.5" text-anchor="middle" stroke="#000" stroke-width="0.22" letter-spacing="1.5">**</text>
<text x="833.00" y="1518.83" font-size="21.5" text-anchor="middle" stroke="#000" stroke-width="0.22" letter-spacing="1.5">**</text>
<text x="856.00" y="1523.33" font-size="21.5" text-anchor="middle" stroke="#000" stroke-width="0.22" letter-spacing="1.5">**</text>
<text x="879.50" y="1523.33" font-size="21.5" text-anchor="middle" stroke="#000" stroke-width="0.22" letter-spacing="1.5">**</text>
<text x="903.20" y="1521.33" font-size="21.5" text-anchor="middle" stroke="#000" stroke-width="0.22" letter-spacing="1.5">**</text>
<polyline points="916.00,1392.00 916.00,1392.00 916.00,1465.50 916.00,1465.50" fill="none" stroke="#000" stroke-width="1.8" stroke-linejoin="miter"/>
<polyline points="914.80,1425.60 919.80,1425.60 919.80,1498.00 914.80,1498.00" fill="none" stroke="#000" stroke-width="1.8" stroke-linejoin="miter"/>
<text x="620.00" y="1517.60" font-size="20" dy="7.16" stroke="#000" stroke-width="0.22">ns</text>
<rect x="1028.60" y="1386.10" width="0.00" height="0.00" fill="#000"/>
<polygon points="1042.90,1417.03 1054.90,1417.03 1048.90,1406.23" fill="#000"/>
<polygon points="1056.90,1418.26 1068.90,1418.26 1062.90,1407.46" fill="#000"/>
<polygon points="1049.90,1420.71 1061.90,1420.71 1055.90,1409.91" fill="#000"/>
<polygon points="1045.90,1423.17 1057.90,1423.17 1051.90,1412.37" fill="#000"/>
<polygon points="1053.90,1425.62 1065.90,1425.62 1059.90,1414.82" fill="#000"/>
<path d="M1043.4 1415.3L1068.4 1415.3" stroke="#000" stroke-width="2.0"/>
<path d="M1055.9 1413.4V1417.3M1049.9 1413.4h12.0M1049.9 1417.3h12.0" stroke="#000" stroke-width="1.8" fill="none"/>
<polygon points="1083.30,1493.09 1095.30,1493.09 1089.30,1482.29" fill="#4253a8"/>
<polygon points="1097.30,1493.58 1109.30,1493.58 1103.30,1482.78" fill="#4253a8"/>
<polygon points="1090.30,1494.80 1102.30,1494.80 1096.30,1484.00" fill="#4253a8"/>
<polygon points="1086.30,1495.54 1098.30,1495.54 1092.30,1484.74" fill="#4253a8"/>
<polygon points="1094.30,1496.03 1106.30,1496.03 1100.30,1485.23" fill="#4253a8"/>
<path d="M1083.8 1489.4L1108.8 1489.4" stroke="#000" stroke-width="2.0"/>
<path d="M1096.3 1488.4V1490.4M1090.3 1488.4h12.0M1090.3 1490.4h12.0" stroke="#4253a8" stroke-width="1.8" fill="none"/>
<polygon points="1123.70,1442.06 1135.70,1442.06 1129.70,1431.26" fill="#e8242b"/>
<polygon points="1137.70,1442.79 1149.70,1442.79 1143.70,1431.99" fill="#e8242b"/>
<polygon points="1130.70,1445.25 1142.70,1445.25 1136.70,1434.45" fill="#e8242b"/>
<polygon points="1126.70,1448.93 1138.70,1448.93 1132.70,1438.13" fill="#e8242b"/>
<polygon points="1134.70,1450.89 1146.70,1450.89 1140.70,1440.09" fill="#e8242b"/>
<path d="M1124.2 1440.6L1149.2 1440.6" stroke="#000" stroke-width="2.0"/>
<path d="M1136.7 1437.6V1443.5M1130.7 1437.6h12.0M1130.7 1443.5h12.0" stroke="#e8242b" stroke-width="1.8" fill="none"/>
<polygon points="1164.80,1515.17 1176.80,1515.17 1170.80,1504.37" fill="#2fb34a"/>
<polygon points="1178.80,1515.66 1190.80,1515.66 1184.80,1504.86" fill="#2fb34a"/>
<polygon points="1171.80,1517.13 1183.80,1517.13 1177.80,1506.33" fill="#2fb34a"/>
<polygon points="1167.80,1518.11 1179.80,1518.11 1173.80,1507.31" fill="#2fb34a"/>
<polygon points="1175.80,1518.85 1187.80,1518.85 1181.80,1508.05" fill="#2fb34a"/>
<path d="M1165.3 1511.7L1190.3 1511.7" stroke="#000" stroke-width="2.0"/>
<path d="M1177.8 1510.7V1512.7M1171.8 1510.7h12.0M1171.8 1512.7h12.0" stroke="#2fb34a" stroke-width="1.8" fill="none"/>
<path d="M1029.6 1387.1L1029.6 1535.8" stroke="#000" stroke-width="3.0"/>
<path d="M1021.6 1534.3L1205.2 1534.3" stroke="#000" stroke-width="3.0"/>
<path d="M1021.6 1534.3L1029.6 1534.3" stroke="#000" stroke-width="3.0"/>
<text x="1019.10" y="1534.30" font-size="19.9" dy="7.12" text-anchor="end" stroke="#000" stroke-width="0.22">0</text>
<path d="M1021.6 1485.2L1029.6 1485.2" stroke="#000" stroke-width="3.0"/>
<text x="1019.10" y="1485.23" font-size="19.9" dy="7.12" text-anchor="end" stroke="#000" stroke-width="0.22">200</text>
<path d="M1021.6 1436.2L1029.6 1436.2" stroke="#000" stroke-width="3.0"/>
<text x="1019.10" y="1436.17" font-size="19.9" dy="7.12" text-anchor="end" stroke="#000" stroke-width="0.22">400</text>
<path d="M1021.6 1387.1L1029.6 1387.1" stroke="#000" stroke-width="3.0"/>
<text x="1019.10" y="1387.10" font-size="19.9" dy="7.12" text-anchor="end" stroke="#000" stroke-width="0.22">600</text>
<path d="M1055.9 1534.3L1055.9 1542.3" stroke="#000" stroke-width="3.0"/>
<path d="M1096.3 1534.3L1096.3 1542.3" stroke="#000" stroke-width="3.0"/>
<path d="M1136.7 1534.3L1136.7 1542.3" stroke="#000" stroke-width="3.0"/>
<path d="M1177.8 1534.3L1177.8 1542.3" stroke="#000" stroke-width="3.0"/>
<path d="M1047.0 1398.3L1149.0 1398.3" stroke="#000" stroke-width="2.0"/>
<polyline points="1098.00,1398.30 1098.00,1388.50 1178.80,1388.50 1178.80,1493.20" fill="none" stroke="#000" stroke-width="2.0" stroke-linejoin="miter"/>
<text x="1083.30" y="1379.00" font-size="17.7" stroke="#000" stroke-width="0.22">P&lt;0.0001</text>
<polygon points="1214.30,1415.00 1226.30,1415.00 1220.30,1404.20" fill="#000"/>
<text x="1249.00" y="1409.60" font-size="18.7" dy="6.69" stroke="#000" stroke-width="0.22">PBS</text>
<polygon points="1214.30,1448.40 1226.30,1448.40 1220.30,1437.60" fill="#4253a8"/>
<text x="1249.00" y="1443.00" font-size="18.7" dy="6.69" stroke="#000" stroke-width="0.22">3-BP</text>
<polygon points="1214.30,1478.60 1226.30,1478.60 1220.30,1467.80" fill="#e8242b"/>
<text x="1249.00" y="1473.20" font-size="18.7" dy="6.69" stroke="#000" stroke-width="0.22">Cetuximab</text>
<polygon points="1214.30,1509.10 1226.30,1509.10 1220.30,1498.30" fill="#2fb34a"/>
<text x="1249.00" y="1503.70" font-size="18.7" dy="6.69" stroke="#000" stroke-width="0.22">3-BP+Cetuximab</text>
<text x="970.10" y="1461.70" font-size="19.9" dy="7.12" text-anchor="middle" stroke="#000" stroke-width="0.22" transform="rotate(-90 970.10 1461.70)" textLength="152" lengthAdjust="spacingAndGlyphs">Tumor weight(mg)</text>
<rect x="3.50" y="1604.00" width="1440.50" height="280.50" fill="none" stroke="#2a2a2a" stroke-width="1.6"/>
<text x="39.40" y="1655.80" font-size="30" stroke="#000" stroke-width="0.22">O</text>
<rect x="105.00" y="1638.30" width="251.40" height="229.70" fill="#f0efed"/>
<path d="M116 1826.4 H356.4 V1868 H113.6 V1829 Z" fill="url(#ruler)"/>
<path d="M125.6 1832V1840.0M127.9 1832V1835.2M130.1 1832V1835.2M132.4 1832V1835.2M134.7 1832V1835.2M136.9 1832V1837.0M139.2 1832V1835.2M141.5 1832V1835.2M143.8 1832V1835.2M146.0 1832V1835.2M148.3 1832V1840.0M150.6 1832V1835.2M152.8 1832V1835.2M155.1 1832V1835.2M157.4 1832V1835.2M159.6 1832V1837.0M161.9 1832V1835.2M164.2 1832V1835.2M166.5 1832V1835.2M168.7 1832V1835.2M171.0 1832V1840.0M173.3 1832V1835.2M175.5 1832V1835.2M177.8 1832V1835.2M180.1 1832V1835.2M182.3 1832V1837.0M184.6 1832V1835.2M186.9 1832V1835.2M189.2 1832V1835.2M191.4 1832V1835.2M193.7 1832V1840.0M196.0 1832V1835.2M198.2 1832V1835.2M200.5 1832V1835.2M202.8 1832V1835.2M205.1 1832V1837.0M207.3 1832V1835.2M209.6 1832V1835.2M211.9 1832V1835.2M214.1 1832V1835.2M216.4 1832V1840.0M218.7 1832V1835.2M220.9 1832V1835.2M223.2 1832V1835.2M225.5 1832V1835.2M227.8 1832V1837.0M230.0 1832V1835.2M232.3 1832V1835.2M234.6 1832V1835.2M236.8 1832V1835.2M239.1 1832V1840.0M241.4 1832V1835.2M243.6 1832V1835.2M245.9 1832V1835.2M248.2 1832V1835.2M250.4 1832V1837.0M252.7 1832V1835.2M255.0 1832V1835.2M257.3 1832V1835.2M259.5 1832V1835.2M261.8 1832V1840.0M264.1 1832V1835.2M266.3 1832V1835.2M268.6 1832V1835.2M270.9 1832V1835.2M273.1 1832V1837.0M275.4 1832V1835.2M277.7 1832V1835.2M280.0 1832V1835.2M282.2 1832V1835.2M284.5 1832V1840.0M286.8 1832V1835.2M289.0 1832V1835.2M291.3 1832V1835.2M293.6 1832V1835.2M295.9 1832V1837.0M298.1 1832V1835.2M300.4 1832V1835.2M302.7 1832V1835.2M304.9 1832V1835.2M307.2 1832V1840.0M309.5 1832V1835.2M311.7 1832V1835.2M314.0 1832V1835.2M316.3 1832V1835.2M318.5 1832V1837.0M320.8 1832V1835.2M323.1 1832V1835.2M325.4 1832V1835.2M327.6 1832V1835.2M329.9 1832V1840.0M332.2 1832V1835.2M334.4 1832V1835.2M336.7 1832V1835.2M339.0 1832V1835.2M341.2 1832V1837.0" stroke="#555" stroke-width="0.7" fill="none"/>
<rect x="113.6" y="1826.4" width="242.8" height="4" fill="#8d8d92" opacity="0.7"/>
<text x="133.50" y="1862.50" font-size="9.5" text-anchor="middle" fill="#222">cm</text>
<text x="148.80" y="1864.00" font-size="13.5" text-anchor="middle" fill="#222">1</text>
<text x="170.50" y="1864.00" font-size="13.5" text-anchor="middle" fill="#222">2</text>
<text x="193.10" y="1864.00" font-size="13.5" text-anchor="middle" fill="#222">3</text>
<text x="215.70" y="1864.00" font-size="13.5" text-anchor="middle" fill="#222">4</text>
<text x="238.30" y="1864.00" font-size="13.5" text-anchor="middle" fill="#222">5</text>
<text x="261.00" y="1864.00" font-size="13.5" text-anchor="middle" fill="#222">6</text>
<text x="284.00" y="1864.00" font-size="13.5" text-anchor="middle" fill="#222">7</text>
<text x="306.70" y="1864.00" font-size="13.5" text-anchor="middle" fill="#222">8</text>
<text x="329.30" y="1864.00" font-size="13.5" text-anchor="middle" fill="#222">9</text>
<text x="351.40" y="1864.00" font-size="13.5" text-anchor="middle" fill="#8b1a2a">10</text>
<path d="M151.9 1654.8C153.5 1656.4 155.0 1659.2 155.7 1661.8C156.4 1664.3 156.9 1668.0 156.1 1670.0C155.3 1672.0 152.8 1672.7 151.1 1673.7C149.4 1674.7 148.0 1676.3 146.1 1676.3C144.3 1676.3 141.6 1675.3 139.9 1673.6C138.3 1671.9 136.7 1668.6 136.2 1666.1C135.7 1663.5 136.2 1660.3 137.1 1658.4C137.9 1656.4 139.8 1655.4 141.3 1654.4C142.8 1653.4 144.3 1652.3 146.1 1652.4C147.9 1652.4 150.3 1653.3 151.9 1654.8Z" fill="#b0a8a4" opacity="0.5"/>
<path d="M150.1 1653.3C151.7 1654.9 153.2 1657.7 153.9 1660.3C154.6 1662.8 155.1 1666.5 154.3 1668.5C153.5 1670.5 151.0 1671.2 149.3 1672.2C147.6 1673.2 146.2 1674.8 144.3 1674.8C142.5 1674.8 139.8 1673.8 138.1 1672.1C136.5 1670.4 134.9 1667.1 134.4 1664.6C133.9 1662.0 134.4 1658.8 135.3 1656.9C136.1 1654.9 138.0 1653.9 139.5 1652.9C141.0 1651.9 142.5 1650.8 144.3 1650.9C146.1 1650.9 148.5 1651.8 150.1 1653.3Z" fill="url(#tr)"/>
<path d="M146.8 1661.7C146.1 1661.4 145.5 1659.3 145.5 1658.3C145.5 1657.4 146.3 1656.4 146.9 1655.9C147.6 1655.4 148.6 1655.2 149.4 1655.5C150.2 1655.8 151.8 1656.9 151.9 1657.7C151.9 1658.5 150.6 1659.7 149.8 1660.4C148.9 1661.0 147.5 1662.0 146.8 1661.7Z" fill="#e88a8a" opacity="0.3"/>
<ellipse cx="142.1" cy="1658.7" rx="3.2" ry="3.4" fill="#fff" opacity="0.18"/>
<path d="M191.3 1673.5C190.3 1675.1 187.6 1675.9 185.8 1675.9C183.9 1675.9 181.6 1674.9 180.1 1673.5C178.6 1672.2 177.9 1669.9 177.0 1667.8C176.0 1665.7 174.4 1663.2 174.5 1661.0C174.7 1658.8 176.1 1655.9 177.6 1654.5C179.1 1653.2 181.6 1652.9 183.5 1652.9C185.4 1653.0 187.7 1653.5 189.2 1654.8C190.6 1656.0 191.8 1658.6 192.3 1660.6C192.8 1662.5 192.4 1664.5 192.2 1666.6C192.0 1668.8 192.4 1672.0 191.3 1673.5Z" fill="#b0a8a4" opacity="0.5"/>
<path d="M189.5 1672.0C188.5 1673.6 185.8 1674.4 184.0 1674.4C182.1 1674.4 179.8 1673.4 178.3 1672.0C176.8 1670.7 176.1 1668.4 175.2 1666.3C174.2 1664.2 172.6 1661.7 172.7 1659.5C172.9 1657.3 174.3 1654.4 175.8 1653.0C177.3 1651.7 179.8 1651.4 181.7 1651.4C183.6 1651.5 185.9 1652.0 187.4 1653.3C188.8 1654.5 190.0 1657.1 190.5 1659.1C191.0 1661.0 190.6 1663.0 190.4 1665.1C190.2 1667.3 190.6 1670.5 189.5 1672.0Z" fill="url(#tr)"/>
<path d="M184.9 1665.0C184.5 1665.8 182.8 1666.0 181.9 1666.0C181.1 1666.0 180.1 1665.5 179.7 1665.0C179.3 1664.4 179.5 1663.5 179.8 1662.7C180.1 1661.8 180.6 1659.9 181.4 1659.8C182.2 1659.6 183.9 1660.8 184.5 1661.6C185.1 1662.5 185.3 1664.3 184.9 1665.0Z" fill="#e88a8a" opacity="0.3"/>
<ellipse cx="180.6" cy="1659.3" rx="3.3" ry="3.2" fill="#fff" opacity="0.18"/>
<path d="M238.0 1660.8C238.1 1663.0 237.6 1664.3 237.3 1666.5C236.9 1668.7 237.2 1672.8 235.6 1673.9C234.1 1675.0 230.1 1673.5 227.9 1673.0C225.7 1672.4 224.1 1671.8 222.2 1670.7C220.4 1669.6 217.6 1668.1 216.9 1666.3C216.3 1664.5 217.6 1661.9 218.4 1659.7C219.1 1657.4 219.6 1654.1 221.4 1653.0C223.1 1652.0 226.4 1653.4 228.9 1653.5C231.4 1653.5 235.1 1652.3 236.6 1653.5C238.1 1654.7 237.9 1658.6 238.0 1660.8Z" fill="#b0a8a4" opacity="0.5"/>
<path d="M236.2 1659.3C236.3 1661.5 235.8 1662.8 235.5 1665.0C235.1 1667.2 235.4 1671.3 233.8 1672.4C232.3 1673.5 228.3 1672.0 226.1 1671.5C223.9 1670.9 222.3 1670.3 220.4 1669.2C218.6 1668.1 215.8 1666.6 215.1 1664.8C214.5 1663.0 215.8 1660.4 216.6 1658.2C217.3 1655.9 217.8 1652.6 219.6 1651.5C221.3 1650.5 224.6 1651.9 227.1 1652.0C229.6 1652.0 233.3 1650.8 234.8 1652.0C236.3 1653.2 236.1 1657.1 236.2 1659.3Z" fill="url(#tr)"/>
<path d="M228.4 1661.5C229.0 1662.3 229.1 1664.1 228.5 1664.8C227.8 1665.6 225.4 1666.1 224.4 1665.9C223.4 1665.7 222.9 1664.5 222.4 1663.6C221.8 1662.8 220.7 1661.4 221.1 1660.8C221.6 1660.1 223.9 1659.7 225.1 1659.8C226.3 1659.9 227.9 1660.6 228.4 1661.5Z" fill="#e88a8a" opacity="0.3"/>
<ellipse cx="223.9" cy="1658.5" rx="4.1" ry="3.0" fill="#fff" opacity="0.18"/>
<path d="M283.3 1652.7C285.3 1653.4 287.2 1656.0 287.1 1657.9C287.0 1659.8 284.2 1662.2 282.9 1664.2C281.6 1666.2 281.2 1668.6 279.4 1669.9C277.5 1671.2 274.3 1671.7 271.9 1671.9C269.5 1672.1 266.5 1672.1 265.1 1671.1C263.6 1670.1 263.4 1667.8 263.2 1666.0C263.0 1664.3 263.1 1662.5 263.9 1660.8C264.7 1659.0 266.2 1656.6 268.1 1655.4C270.0 1654.3 272.7 1654.2 275.2 1653.7C277.7 1653.3 281.4 1652.0 283.3 1652.7Z" fill="#b0a8a4" opacity="0.5"/>
<path d="M281.5 1651.2C283.5 1651.9 285.4 1654.5 285.3 1656.4C285.2 1658.3 282.4 1660.7 281.1 1662.7C279.8 1664.7 279.4 1667.1 277.6 1668.4C275.7 1669.7 272.5 1670.2 270.1 1670.4C267.7 1670.6 264.7 1670.6 263.3 1669.6C261.8 1668.6 261.6 1666.3 261.4 1664.5C261.2 1662.8 261.3 1661.0 262.1 1659.3C262.9 1657.5 264.4 1655.1 266.3 1653.9C268.2 1652.8 270.9 1652.7 273.4 1652.2C275.9 1651.8 279.6 1650.5 281.5 1651.2Z" fill="url(#tr)"/>
<path d="M275.2 1658.5C274.8 1659.0 272.5 1659.4 271.2 1659.4C270.0 1659.3 268.4 1658.9 267.7 1658.3C267.1 1657.7 266.7 1656.3 267.3 1655.8C267.9 1655.2 270.3 1654.9 271.3 1655.0C272.4 1655.1 273.2 1655.7 273.9 1656.3C274.5 1656.9 275.6 1658.0 275.2 1658.5Z" fill="#e88a8a" opacity="0.3"/>
<ellipse cx="268.8" cy="1658.3" rx="4.6" ry="2.5" fill="#fff" opacity="0.18"/>
<path d="M313.7 1653.5C315.5 1653.4 317.3 1655.2 319.1 1655.9C321.0 1656.6 324.2 1656.4 325.1 1657.8C325.9 1659.1 324.4 1662.0 324.1 1663.9C323.9 1665.9 324.4 1668.3 323.4 1669.5C322.3 1670.6 319.8 1670.3 317.9 1670.8C316.1 1671.3 313.8 1672.9 312.4 1672.4C311.0 1671.8 310.3 1669.1 309.3 1667.5C308.4 1665.8 306.6 1664.3 306.5 1662.6C306.4 1660.8 307.5 1658.5 308.7 1657.0C309.9 1655.5 312.0 1653.7 313.7 1653.5Z" fill="#b0a8a4" opacity="0.5"/>
<path d="M311.9 1652.0C313.7 1651.9 315.5 1653.7 317.3 1654.4C319.2 1655.1 322.4 1654.9 323.3 1656.3C324.1 1657.6 322.6 1660.5 322.3 1662.4C322.1 1664.4 322.6 1666.8 321.6 1668.0C320.5 1669.1 318.0 1668.8 316.1 1669.3C314.3 1669.8 312.0 1671.4 310.6 1670.9C309.2 1670.3 308.5 1667.6 307.5 1666.0C306.6 1664.3 304.8 1662.8 304.7 1661.1C304.6 1659.3 305.7 1657.0 306.9 1655.5C308.1 1654.0 310.2 1652.2 311.9 1652.0Z" fill="url(#tr)"/>
<path d="M318.9 1659.1C319.4 1659.5 318.9 1660.9 318.6 1661.7C318.4 1662.4 318.1 1663.3 317.4 1663.6C316.6 1663.9 314.7 1664.0 314.0 1663.6C313.3 1663.1 313.0 1661.5 313.2 1660.8C313.5 1660.1 314.6 1659.5 315.6 1659.2C316.5 1658.9 318.4 1658.6 318.9 1659.1Z" fill="#e88a8a" opacity="0.3"/>
<ellipse cx="312.1" cy="1659.1" rx="3.2" ry="2.5" fill="#fff" opacity="0.18"/>
<path d="M142.7 1725.8C140.9 1724.6 139.0 1721.6 138.7 1719.4C138.3 1717.3 140.0 1715.0 140.6 1712.7C141.2 1710.4 141.0 1707.3 142.4 1705.9C143.8 1704.5 147.0 1704.0 149.0 1704.5C150.9 1704.9 152.2 1707.2 154.0 1708.4C155.9 1709.7 159.4 1710.3 160.1 1712.0C160.7 1713.8 158.8 1716.9 158.0 1718.9C157.1 1720.9 156.3 1722.8 154.8 1724.0C153.4 1725.3 151.4 1726.1 149.4 1726.3C147.4 1726.6 144.5 1726.9 142.7 1725.8Z" fill="#b0a8a4" opacity="0.5"/>
<path d="M140.9 1724.3C139.1 1723.1 137.2 1720.1 136.9 1717.9C136.5 1715.8 138.2 1713.5 138.8 1711.2C139.4 1708.9 139.2 1705.8 140.6 1704.4C142.0 1703.0 145.2 1702.5 147.2 1703.0C149.1 1703.4 150.4 1705.7 152.2 1706.9C154.1 1708.2 157.6 1708.8 158.3 1710.5C158.9 1712.3 157.0 1715.4 156.2 1717.4C155.3 1719.4 154.5 1721.3 153.0 1722.5C151.6 1723.8 149.6 1724.6 147.6 1724.8C145.6 1725.1 142.7 1725.4 140.9 1724.3Z" fill="url(#tr)"/>
<path d="M146.7 1707.5C147.5 1707.2 149.3 1707.8 150.1 1708.4C151.0 1709.0 152.0 1710.2 151.9 1711.0C151.8 1711.9 150.5 1713.0 149.5 1713.4C148.5 1713.8 146.5 1713.8 145.9 1713.3C145.3 1712.8 145.5 1711.3 145.6 1710.4C145.8 1709.4 146.0 1707.8 146.7 1707.5Z" fill="#e88a8a" opacity="0.3"/>
<ellipse cx="145.0" cy="1711.0" rx="3.6" ry="3.0" fill="#fff" opacity="0.18"/>
<path d="M188.3 1704.9C190.5 1705.4 192.4 1706.3 194.1 1707.7C195.9 1709.0 198.5 1711.0 198.7 1712.9C199.0 1714.7 196.7 1716.7 195.7 1718.8C194.7 1720.8 194.6 1723.9 192.8 1725.2C191.0 1726.4 187.1 1726.9 185.0 1726.2C182.8 1725.5 181.7 1722.6 179.9 1720.9C178.2 1719.2 175.1 1718.1 174.5 1716.2C173.9 1714.3 175.2 1711.4 176.3 1709.4C177.4 1707.5 179.1 1705.1 181.1 1704.3C183.1 1703.5 186.1 1704.3 188.3 1704.9Z" fill="#b0a8a4" opacity="0.5"/>
<path d="M186.5 1703.4C188.7 1703.9 190.6 1704.8 192.3 1706.2C194.1 1707.5 196.7 1709.5 196.9 1711.4C197.2 1713.2 194.9 1715.2 193.9 1717.3C192.9 1719.3 192.8 1722.4 191.0 1723.7C189.2 1724.9 185.3 1725.4 183.2 1724.7C181.0 1724.0 179.9 1721.1 178.1 1719.4C176.4 1717.7 173.3 1716.6 172.7 1714.7C172.1 1712.8 173.4 1709.9 174.5 1707.9C175.6 1706.0 177.3 1703.6 179.3 1702.8C181.3 1702.0 184.3 1702.8 186.5 1703.4Z" fill="url(#tr)"/>
<path d="M186.0 1719.6C185.3 1719.0 185.3 1717.2 185.9 1716.2C186.5 1715.3 188.5 1714.1 189.6 1714.1C190.6 1714.2 191.3 1715.8 192.1 1716.7C192.8 1717.5 194.4 1718.8 194.0 1719.4C193.7 1720.0 191.3 1720.1 190.0 1720.1C188.6 1720.1 186.7 1720.2 186.0 1719.6Z" fill="#e88a8a" opacity="0.3"/>
<ellipse cx="182.2" cy="1709.7" rx="4.2" ry="3.0" fill="#fff" opacity="0.18"/>
<path d="M224.7 1702.3C226.5 1701.0 229.0 1699.1 231.0 1699.3C232.9 1699.6 234.9 1702.1 236.3 1703.6C237.7 1705.1 238.3 1706.4 239.2 1708.2C240.1 1709.9 242.1 1712.5 241.7 1714.2C241.3 1715.9 238.5 1717.4 236.7 1718.5C235.0 1719.5 233.2 1720.2 231.2 1720.5C229.2 1720.7 226.1 1721.0 224.7 1719.9C223.3 1718.8 223.4 1715.8 222.6 1713.8C221.9 1711.7 219.9 1709.4 220.2 1707.5C220.6 1705.6 222.9 1703.7 224.7 1702.3Z" fill="#b0a8a4" opacity="0.5"/>
<path d="M222.9 1700.8C224.7 1699.5 227.2 1697.6 229.2 1697.8C231.1 1698.1 233.1 1700.6 234.5 1702.1C235.9 1703.6 236.5 1704.9 237.4 1706.7C238.3 1708.4 240.3 1711.0 239.9 1712.7C239.5 1714.4 236.7 1715.9 234.9 1717.0C233.2 1718.0 231.4 1718.7 229.4 1719.0C227.4 1719.2 224.3 1719.5 222.9 1718.4C221.5 1717.3 221.6 1714.3 220.8 1712.3C220.1 1710.2 218.1 1707.9 218.4 1706.0C218.8 1704.1 221.1 1702.2 222.9 1700.8Z" fill="url(#tr)"/>
<path d="M232.1 1704.2C232.5 1704.8 231.8 1705.8 231.3 1706.5C230.8 1707.3 230.1 1708.6 229.2 1708.7C228.3 1708.8 226.5 1707.8 226.0 1707.0C225.5 1706.3 225.5 1704.8 226.1 1704.0C226.6 1703.3 228.2 1702.7 229.2 1702.7C230.2 1702.7 231.8 1703.6 232.1 1704.2Z" fill="#e88a8a" opacity="0.3"/>
<ellipse cx="226.9" cy="1706.4" rx="3.6" ry="2.8" fill="#fff" opacity="0.18"/>
<path d="M278.8 1720.1C277.6 1721.6 275.9 1724.0 274.5 1724.2C273.1 1724.4 271.3 1722.6 270.2 1721.4C269.1 1720.2 268.2 1718.7 267.6 1716.9C267.1 1715.2 266.4 1712.8 266.7 1710.9C267.1 1708.9 268.5 1706.5 269.8 1705.3C271.1 1704.1 272.9 1703.6 274.5 1703.4C276.0 1703.2 277.7 1703.3 279.2 1704.1C280.6 1704.9 282.9 1706.4 283.2 1708.2C283.6 1710.1 282.1 1713.1 281.4 1715.1C280.6 1717.1 279.9 1718.6 278.8 1720.1Z" fill="#b0a8a4" opacity="0.5"/>
<path d="M277.0 1718.6C275.8 1720.1 274.1 1722.5 272.7 1722.7C271.3 1722.9 269.5 1721.1 268.4 1719.9C267.3 1718.7 266.4 1717.2 265.8 1715.4C265.3 1713.7 264.6 1711.3 264.9 1709.4C265.3 1707.4 266.7 1705.0 268.0 1703.8C269.3 1702.6 271.1 1702.1 272.7 1701.9C274.2 1701.7 275.9 1701.8 277.4 1702.6C278.8 1703.4 281.1 1704.9 281.4 1706.7C281.8 1708.6 280.3 1711.6 279.6 1713.6C278.8 1715.6 278.1 1717.1 277.0 1718.6Z" fill="url(#tr)"/>
<path d="M270.5 1709.1C269.6 1709.2 268.0 1709.5 267.6 1709.0C267.2 1708.5 267.9 1706.8 268.3 1705.9C268.8 1704.9 269.6 1703.4 270.2 1703.3C270.8 1703.3 271.6 1704.9 272.1 1705.8C272.6 1706.6 273.6 1708.0 273.3 1708.5C273.1 1709.1 271.5 1709.0 270.5 1709.1Z" fill="#e88a8a" opacity="0.3"/>
<ellipse cx="270.7" cy="1708.3" rx="2.9" ry="3.0" fill="#fff" opacity="0.18"/>
<path d="M311.4 1706.3C311.7 1704.3 312.1 1701.2 313.3 1700.2C314.6 1699.1 317.0 1699.7 318.7 1699.8C320.4 1699.9 322.3 1699.9 323.5 1700.9C324.8 1701.9 325.6 1704.2 326.1 1706.1C326.6 1707.9 326.6 1709.9 326.4 1712.0C326.1 1714.0 325.7 1717.4 324.5 1718.4C323.2 1719.4 320.6 1718.0 318.9 1717.8C317.2 1717.5 315.4 1718.1 314.2 1717.1C313.0 1716.2 312.3 1713.8 311.8 1712.0C311.3 1710.2 311.2 1708.3 311.4 1706.3Z" fill="#b0a8a4" opacity="0.5"/>
<path d="M309.6 1704.8C309.9 1702.8 310.3 1699.7 311.5 1698.7C312.8 1697.6 315.2 1698.2 316.9 1698.3C318.6 1698.4 320.5 1698.4 321.7 1699.4C323.0 1700.4 323.8 1702.7 324.3 1704.6C324.8 1706.4 324.8 1708.4 324.6 1710.5C324.3 1712.5 323.9 1715.9 322.7 1716.9C321.4 1717.9 318.8 1716.5 317.1 1716.3C315.4 1716.0 313.6 1716.6 312.4 1715.6C311.2 1714.7 310.5 1712.3 310.0 1710.5C309.5 1708.7 309.4 1706.8 309.6 1704.8Z" fill="url(#tr)"/>
<path d="M314.6 1714.5C313.9 1714.2 313.5 1713.0 313.4 1712.2C313.4 1711.3 313.7 1709.9 314.3 1709.6C315.0 1709.2 316.5 1709.5 317.1 1709.9C317.7 1710.3 318.0 1711.3 318.0 1712.0C318.0 1712.8 317.8 1713.8 317.2 1714.2C316.6 1714.6 315.2 1714.9 314.6 1714.5Z" fill="#e88a8a" opacity="0.3"/>
<ellipse cx="315.0" cy="1704.6" rx="2.9" ry="2.8" fill="#fff" opacity="0.18"/>
<path d="M138.9 1757.5C139.8 1756.1 141.2 1755.3 142.5 1754.2C143.9 1753.2 145.5 1751.3 147.2 1751.1C148.9 1751.0 151.1 1752.4 152.6 1753.3C154.2 1754.2 155.6 1755.3 156.4 1756.6C157.1 1757.8 157.5 1759.5 157.2 1761.0C156.9 1762.5 156.0 1764.2 154.6 1765.4C153.2 1766.6 150.7 1768.1 148.7 1768.2C146.7 1768.2 144.6 1766.6 142.7 1765.6C140.8 1764.7 137.8 1763.9 137.1 1762.6C136.5 1761.2 138.0 1758.9 138.9 1757.5Z" fill="#b0a8a4" opacity="0.5"/>
<path d="M137.1 1756.0C138.0 1754.6 139.4 1753.8 140.7 1752.7C142.1 1751.7 143.7 1749.8 145.4 1749.6C147.1 1749.5 149.3 1750.9 150.8 1751.8C152.4 1752.7 153.8 1753.8 154.6 1755.1C155.3 1756.3 155.7 1758.0 155.4 1759.5C155.1 1761.0 154.2 1762.7 152.8 1763.9C151.4 1765.1 148.9 1766.6 146.9 1766.7C144.9 1766.7 142.8 1765.1 140.9 1764.1C139.0 1763.2 136.0 1762.4 135.3 1761.1C134.7 1759.7 136.2 1757.4 137.1 1756.0Z" fill="url(#tr)"/>
<path d="M152.8 1756.6C152.3 1757.2 151.6 1758.2 150.8 1758.3C149.9 1758.4 148.3 1757.7 147.7 1757.1C147.1 1756.5 146.5 1755.4 146.9 1754.8C147.4 1754.2 149.2 1753.4 150.2 1753.4C151.3 1753.3 153.0 1754.2 153.4 1754.7C153.8 1755.2 153.2 1756.0 152.8 1756.6Z" fill="#e88a8a" opacity="0.3"/>
<ellipse cx="143.7" cy="1755.4" rx="3.6" ry="2.2" fill="#fff" opacity="0.18"/>
<path d="M197.0 1760.8C196.3 1762.6 195.8 1764.5 194.6 1765.9C193.3 1767.2 191.2 1768.8 189.7 1768.8C188.2 1768.7 186.7 1766.7 185.7 1765.4C184.6 1764.1 183.8 1762.7 183.4 1761.1C183.0 1759.5 183.1 1757.6 183.4 1755.7C183.8 1753.8 184.4 1750.8 185.7 1749.8C187.0 1748.8 189.2 1749.7 191.0 1749.6C192.7 1749.6 194.9 1748.7 196.2 1749.6C197.5 1750.4 198.8 1753.0 198.9 1754.9C199.0 1756.8 197.8 1758.9 197.0 1760.8Z" fill="#b0a8a4" opacity="0.5"/>
<path d="M195.2 1759.3C194.5 1761.1 194.0 1763.0 192.8 1764.4C191.5 1765.7 189.4 1767.3 187.9 1767.3C186.4 1767.2 184.9 1765.2 183.9 1763.9C182.8 1762.6 182.0 1761.2 181.6 1759.6C181.2 1758.0 181.3 1756.1 181.6 1754.2C182.0 1752.3 182.6 1749.3 183.9 1748.3C185.2 1747.3 187.4 1748.2 189.2 1748.1C190.9 1748.1 193.1 1747.2 194.4 1748.1C195.7 1748.9 197.0 1751.5 197.1 1753.4C197.2 1755.3 196.0 1757.4 195.2 1759.3Z" fill="url(#tr)"/>
<path d="M183.6 1757.9C183.3 1757.1 182.9 1755.4 183.4 1754.9C183.8 1754.5 185.6 1754.9 186.3 1755.2C187.0 1755.5 187.3 1755.8 187.7 1756.5C188.0 1757.2 188.8 1758.8 188.4 1759.3C188.0 1759.8 186.3 1759.7 185.5 1759.5C184.7 1759.3 183.9 1758.7 183.6 1757.9Z" fill="#e88a8a" opacity="0.3"/>
<ellipse cx="186.6" cy="1753.8" rx="2.9" ry="2.8" fill="#fff" opacity="0.18"/>
<path d="M239.4 1760.6C238.4 1762.1 237.6 1763.3 236.3 1764.3C234.9 1765.4 232.8 1767.1 231.3 1766.9C229.8 1766.7 228.2 1764.5 227.1 1763.1C225.9 1761.6 224.3 1759.8 224.2 1758.2C224.2 1756.5 225.8 1754.7 226.7 1753.2C227.5 1751.6 228.0 1749.7 229.3 1748.7C230.6 1747.7 232.9 1746.6 234.5 1746.9C236.0 1747.2 237.5 1749.1 238.8 1750.5C240.1 1751.9 242.1 1753.6 242.2 1755.3C242.3 1757.0 240.4 1759.1 239.4 1760.6Z" fill="#b0a8a4" opacity="0.5"/>
<path d="M237.6 1759.1C236.6 1760.6 235.8 1761.8 234.5 1762.8C233.1 1763.9 231.0 1765.6 229.5 1765.4C228.0 1765.2 226.4 1763.0 225.3 1761.6C224.1 1760.1 222.5 1758.3 222.4 1756.7C222.4 1755.0 224.0 1753.2 224.9 1751.7C225.7 1750.1 226.2 1748.2 227.5 1747.2C228.8 1746.2 231.1 1745.1 232.7 1745.4C234.2 1745.7 235.7 1747.6 237.0 1749.0C238.3 1750.4 240.3 1752.1 240.4 1753.8C240.5 1755.5 238.6 1757.6 237.6 1759.1Z" fill="url(#tr)"/>
<path d="M236.9 1754.3C236.8 1754.9 235.6 1755.6 234.9 1755.8C234.2 1756.1 233.6 1755.9 233.0 1755.7C232.3 1755.4 231.0 1754.9 230.9 1754.2C230.8 1753.6 231.6 1752.2 232.3 1751.8C233.1 1751.4 234.7 1751.4 235.5 1751.8C236.2 1752.2 237.0 1753.6 236.9 1754.3Z" fill="#e88a8a" opacity="0.3"/>
<ellipse cx="229.1" cy="1752.6" rx="2.9" ry="2.5" fill="#fff" opacity="0.18"/>
<path d="M268.4 1756.2C269.4 1755.1 271.1 1753.7 272.9 1753.5C274.6 1753.3 277.0 1754.4 278.9 1755.0C280.8 1755.5 283.0 1755.9 284.4 1756.9C285.8 1757.9 287.2 1759.6 287.4 1761.0C287.7 1762.4 287.2 1764.4 285.9 1765.2C284.7 1766.1 281.9 1765.8 280.0 1766.1C278.0 1766.4 276.2 1767.1 274.4 1766.8C272.6 1766.5 270.5 1765.2 269.3 1764.1C268.1 1762.9 267.5 1761.4 267.4 1760.0C267.2 1758.7 267.5 1757.2 268.4 1756.2Z" fill="#b0a8a4" opacity="0.5"/>
<path d="M266.6 1754.7C267.6 1753.6 269.3 1752.2 271.1 1752.0C272.8 1751.8 275.2 1752.9 277.1 1753.5C279.0 1754.0 281.2 1754.4 282.6 1755.4C284.0 1756.4 285.4 1758.1 285.6 1759.5C285.9 1760.9 285.4 1762.9 284.1 1763.7C282.9 1764.6 280.1 1764.3 278.2 1764.6C276.2 1764.9 274.4 1765.6 272.6 1765.3C270.8 1765.0 268.7 1763.7 267.5 1762.6C266.3 1761.4 265.7 1759.9 265.6 1758.5C265.4 1757.2 265.7 1755.7 266.6 1754.7Z" fill="url(#tr)"/>
<path d="M275.4 1759.9C275.0 1759.5 275.8 1758.4 276.5 1758.0C277.2 1757.7 278.6 1757.6 279.5 1757.7C280.3 1757.8 281.2 1758.3 281.5 1758.7C281.8 1759.1 281.8 1759.9 281.3 1760.2C280.8 1760.5 279.6 1760.4 278.6 1760.4C277.6 1760.3 275.7 1760.3 275.4 1759.9Z" fill="#e88a8a" opacity="0.3"/>
<ellipse cx="272.7" cy="1757.1" rx="3.4" ry="1.8" fill="#fff" opacity="0.18"/>
<path d="M309.6 1753.8C309.8 1752.0 310.4 1749.6 311.6 1748.2C312.8 1746.8 314.9 1745.7 316.7 1745.4C318.4 1745.1 320.9 1745.5 322.3 1746.5C323.6 1747.6 324.1 1750.0 324.9 1751.8C325.7 1753.6 327.4 1755.7 327.1 1757.4C326.9 1759.0 324.8 1760.8 323.4 1761.8C322.0 1762.9 320.4 1763.7 318.9 1763.8C317.4 1763.9 316.0 1763.1 314.6 1762.3C313.2 1761.6 311.3 1760.8 310.5 1759.4C309.7 1758.0 309.5 1755.7 309.6 1753.8Z" fill="#b0a8a4" opacity="0.5"/>
<path d="M307.8 1752.3C308.0 1750.5 308.6 1748.1 309.8 1746.7C311.0 1745.3 313.1 1744.2 314.9 1743.9C316.6 1743.6 319.1 1744.0 320.5 1745.0C321.8 1746.1 322.3 1748.5 323.1 1750.3C323.9 1752.1 325.6 1754.2 325.3 1755.9C325.1 1757.5 323.0 1759.3 321.6 1760.3C320.2 1761.4 318.6 1762.2 317.1 1762.3C315.6 1762.4 314.2 1761.6 312.8 1760.8C311.4 1760.1 309.5 1759.3 308.7 1757.9C307.9 1756.5 307.7 1754.2 307.8 1752.3Z" fill="url(#tr)"/>
<path d="M311.2 1750.4C311.7 1749.8 313.4 1749.3 314.1 1749.5C314.8 1749.7 315.2 1750.9 315.4 1751.6C315.6 1752.2 315.4 1752.8 315.0 1753.3C314.7 1753.7 313.9 1754.2 313.2 1754.1C312.5 1754.1 311.4 1753.6 311.0 1753.0C310.7 1752.4 310.7 1751.0 311.2 1750.4Z" fill="#e88a8a" opacity="0.3"/>
<ellipse cx="314.1" cy="1751.3" rx="2.9" ry="2.5" fill="#fff" opacity="0.18"/>
<path d="M143.4 1797.9C143.5 1796.1 144.1 1794.2 144.7 1793.0C145.3 1791.8 146.3 1790.5 147.0 1790.7C147.7 1790.9 148.2 1792.9 148.9 1794.0C149.5 1795.1 150.6 1795.9 150.8 1797.5C151.1 1799.1 150.7 1801.7 150.4 1803.6C150.2 1805.4 149.8 1807.5 149.3 1808.6C148.7 1809.8 147.8 1810.5 147.0 1810.6C146.3 1810.7 145.2 1810.4 144.7 1809.2C144.2 1808.0 144.2 1805.3 143.9 1803.4C143.7 1801.6 143.2 1799.6 143.4 1797.9Z" fill="#b0a8a4" opacity="0.5"/>
<path d="M141.6 1796.4C141.7 1794.6 142.3 1792.7 142.9 1791.5C143.5 1790.3 144.5 1789.0 145.2 1789.2C145.9 1789.4 146.4 1791.4 147.1 1792.5C147.7 1793.6 148.8 1794.4 149.0 1796.0C149.3 1797.6 148.9 1800.2 148.6 1802.1C148.4 1803.9 148.0 1806.0 147.5 1807.1C146.9 1808.3 146.0 1809.0 145.2 1809.1C144.5 1809.2 143.4 1808.9 142.9 1807.7C142.4 1806.5 142.4 1803.8 142.1 1801.9C141.9 1800.1 141.4 1798.1 141.6 1796.4Z" fill="url(#tr)"/>
<path d="M143.7 1799.7C143.8 1799.2 144.4 1798.9 144.8 1798.9C145.2 1798.9 145.9 1799.1 146.0 1799.6C146.1 1800.1 145.7 1801.2 145.5 1801.9C145.3 1802.6 145.0 1803.7 144.8 1803.7C144.5 1803.7 144.1 1802.8 143.9 1802.1C143.7 1801.5 143.5 1800.2 143.7 1799.7Z" fill="#e88a8a" opacity="0.3"/>
<ellipse cx="144.4" cy="1796.6" rx="1.3" ry="2.5" fill="#fff" opacity="0.18"/>
<path d="M180.1 1804.9C178.8 1803.7 177.9 1801.6 177.7 1800.2C177.5 1798.8 178.0 1797.3 179.0 1796.5C180.0 1795.7 181.8 1795.3 183.5 1795.3C185.1 1795.3 187.6 1795.6 189.1 1796.5C190.6 1797.4 191.2 1799.4 192.3 1800.8C193.4 1802.1 195.5 1803.5 195.8 1804.6C196.0 1805.7 194.6 1806.5 193.8 1807.3C192.9 1808.2 192.2 1809.5 190.9 1809.6C189.5 1809.6 187.4 1808.5 185.6 1807.7C183.8 1806.9 181.4 1806.2 180.1 1804.9Z" fill="#b0a8a4" opacity="0.5"/>
<path d="M178.3 1803.4C177.0 1802.2 176.1 1800.1 175.9 1798.7C175.7 1797.3 176.2 1795.8 177.2 1795.0C178.2 1794.2 180.0 1793.8 181.7 1793.8C183.3 1793.8 185.8 1794.1 187.3 1795.0C188.8 1795.9 189.4 1797.9 190.5 1799.3C191.6 1800.6 193.7 1802.0 194.0 1803.1C194.2 1804.2 192.8 1805.0 192.0 1805.8C191.1 1806.7 190.4 1808.0 189.1 1808.1C187.7 1808.1 185.6 1807.0 183.8 1806.2C182.0 1805.4 179.6 1804.7 178.3 1803.4Z" fill="url(#tr)"/>
<path d="M182.8 1800.4C183.2 1800.0 184.8 1799.4 185.7 1799.4C186.6 1799.4 187.6 1800.1 188.1 1800.5C188.6 1800.9 189.3 1801.6 188.9 1802.0C188.6 1802.4 186.9 1803.0 186.1 1803.0C185.2 1803.0 184.2 1802.4 183.6 1801.9C183.1 1801.5 182.5 1800.9 182.8 1800.4Z" fill="#e88a8a" opacity="0.3"/>
<ellipse cx="183.2" cy="1799.3" rx="3.2" ry="1.5" fill="#fff" opacity="0.18"/>
<path d="M230.2 1798.1C231.6 1797.7 233.0 1796.9 234.4 1797.0C235.9 1797.0 237.9 1797.5 239.1 1798.3C240.2 1799.0 241.1 1800.3 241.2 1801.4C241.3 1802.4 240.3 1803.6 239.5 1804.4C238.6 1805.3 237.5 1806.3 236.2 1806.7C234.8 1807.1 233.0 1806.9 231.5 1806.6C230.0 1806.4 228.2 1806.1 227.3 1805.4C226.5 1804.7 226.7 1803.5 226.4 1802.5C226.2 1801.5 225.3 1800.1 226.0 1799.4C226.6 1798.7 228.8 1798.5 230.2 1798.1Z" fill="#b0a8a4" opacity="0.5"/>
<path d="M228.4 1796.6C229.8 1796.2 231.2 1795.4 232.6 1795.5C234.1 1795.5 236.1 1796.0 237.3 1796.8C238.4 1797.5 239.3 1798.8 239.4 1799.9C239.5 1800.9 238.5 1802.1 237.7 1802.9C236.8 1803.8 235.7 1804.8 234.4 1805.2C233.0 1805.6 231.2 1805.4 229.7 1805.1C228.2 1804.9 226.4 1804.6 225.5 1803.9C224.7 1803.2 224.9 1802.0 224.6 1801.0C224.4 1800.0 223.5 1798.6 224.2 1797.9C224.8 1797.2 227.0 1797.0 228.4 1796.6Z" fill="url(#tr)"/>
<path d="M229.8 1800.5C229.4 1800.3 229.3 1799.6 229.6 1799.2C229.8 1798.7 230.3 1798.1 231.1 1797.9C231.8 1797.8 233.4 1798.0 234.0 1798.4C234.6 1798.7 234.9 1799.6 234.6 1800.0C234.3 1800.3 233.0 1800.4 232.2 1800.5C231.4 1800.6 230.2 1800.8 229.8 1800.5Z" fill="#e88a8a" opacity="0.3"/>
<ellipse cx="229.3" cy="1799.0" rx="2.7" ry="1.4" fill="#fff" opacity="0.18"/>
<path d="M275.4 1798.8C276.4 1798.1 278.1 1797.1 279.4 1797.1C280.7 1797.2 281.9 1798.3 283.2 1798.9C284.5 1799.5 286.5 1799.7 287.1 1800.5C287.7 1801.3 287.0 1802.7 286.6 1803.7C286.2 1804.7 285.8 1805.9 284.7 1806.5C283.7 1807.0 281.8 1806.9 280.3 1806.9C278.9 1806.9 277.4 1807.0 276.3 1806.5C275.1 1806.1 274.2 1805.1 273.7 1804.2C273.2 1803.4 273.0 1802.3 273.3 1801.4C273.6 1800.4 274.3 1799.5 275.4 1798.8Z" fill="#b0a8a4" opacity="0.5"/>
<path d="M273.6 1797.3C274.6 1796.6 276.3 1795.6 277.6 1795.6C278.9 1795.7 280.1 1796.8 281.4 1797.4C282.7 1798.0 284.7 1798.2 285.3 1799.0C285.9 1799.8 285.2 1801.2 284.8 1802.2C284.4 1803.2 284.0 1804.4 282.9 1805.0C281.9 1805.5 280.0 1805.4 278.5 1805.4C277.1 1805.4 275.6 1805.5 274.5 1805.0C273.3 1804.6 272.4 1803.6 271.9 1802.7C271.4 1801.9 271.2 1800.8 271.5 1799.9C271.8 1798.9 272.5 1798.0 273.6 1797.3Z" fill="url(#tr)"/>
<path d="M281.9 1800.6C282.1 1800.9 281.4 1801.4 280.9 1801.7C280.4 1801.9 279.5 1802.3 278.9 1802.2C278.3 1802.1 277.4 1801.5 277.3 1801.2C277.2 1800.8 277.8 1800.4 278.3 1800.1C278.8 1799.9 279.6 1799.5 280.2 1799.6C280.8 1799.7 281.8 1800.2 281.9 1800.6Z" fill="#e88a8a" opacity="0.3"/>
<ellipse cx="276.4" cy="1799.5" rx="2.6" ry="1.4" fill="#fff" opacity="0.18"/>
<path d="M322.3 1806.2C321.1 1806.5 319.5 1806.1 318.2 1805.6C316.9 1805.2 315.5 1804.5 314.7 1803.6C313.9 1802.6 313.2 1801.1 313.2 1799.8C313.2 1798.5 313.8 1796.8 314.7 1795.9C315.7 1795.0 317.5 1794.7 318.9 1794.4C320.3 1794.2 321.9 1794.0 323.1 1794.4C324.3 1794.9 325.1 1796.1 326.0 1797.1C327.0 1798.1 328.7 1799.5 328.6 1800.6C328.6 1801.8 326.8 1803.1 325.8 1804.0C324.8 1805.0 323.6 1806.0 322.3 1806.2Z" fill="#b0a8a4" opacity="0.5"/>
<path d="M320.5 1804.7C319.3 1805.0 317.7 1804.6 316.4 1804.1C315.1 1803.7 313.7 1803.0 312.9 1802.1C312.1 1801.1 311.4 1799.6 311.4 1798.3C311.4 1797.0 312.0 1795.3 312.9 1794.4C313.9 1793.5 315.7 1793.2 317.1 1792.9C318.5 1792.7 320.1 1792.5 321.3 1792.9C322.5 1793.4 323.3 1794.6 324.2 1795.6C325.2 1796.6 326.9 1798.0 326.8 1799.1C326.8 1800.3 325.0 1801.6 324.0 1802.5C323.0 1803.5 321.8 1804.5 320.5 1804.7Z" fill="url(#tr)"/>
<path d="M323.5 1796.3C323.5 1796.7 322.9 1797.4 322.3 1797.6C321.7 1797.9 320.5 1798.1 319.8 1797.8C319.2 1797.6 318.4 1796.6 318.5 1796.1C318.5 1795.6 319.6 1794.9 320.2 1794.7C320.9 1794.5 321.9 1794.7 322.4 1795.0C323.0 1795.2 323.5 1795.8 323.5 1796.3Z" fill="#e88a8a" opacity="0.3"/>
<ellipse cx="317.1" cy="1796.8" rx="2.6" ry="1.8" fill="#fff" opacity="0.18"/>
<text x="365.00" y="1667.00" font-size="21.7" dy="7.77" stroke="#000" stroke-width="0.22">PBS</text>
<text x="365.00" y="1711.00" font-size="21.7" dy="7.77" stroke="#000" stroke-width="0.22">Cetuximab</text>
<text x="365.00" y="1754.30" font-size="21.7" dy="7.77" stroke="#000" stroke-width="0.22">3-BP</text>
<text x="365.00" y="1798.40" font-size="21.7" dy="7.77" stroke="#000" stroke-width="0.22">3-BP +Cetuximab</text>
<polyline points="649.90,1790.06 671.56,1790.06 693.22,1788.98 714.88,1788.62 736.54,1788.98 758.20,1790.06 779.86,1790.06 801.52,1789.70 823.18,1789.70 844.84,1790.06 866.50,1791.87" fill="none" stroke="#3db54a" stroke-width="2.2" stroke-linejoin="miter"/>
<path d="M649.9 1788.3V1791.9M646.4 1788.3h7.0M646.4 1791.9h7.0" stroke="#3db54a" stroke-width="2.0" fill="none"/>
<polygon points="644.90,1794.56 654.90,1794.56 649.90,1785.56" fill="#3db54a"/>
<path d="M671.6 1788.3V1791.9M668.1 1788.3h7.0M668.1 1791.9h7.0" stroke="#3db54a" stroke-width="2.0" fill="none"/>
<polygon points="666.56,1794.56 676.56,1794.56 671.56,1785.56" fill="#3db54a"/>
<path d="M693.2 1787.2V1790.8M689.7 1787.2h7.0M689.7 1790.8h7.0" stroke="#3db54a" stroke-width="2.0" fill="none"/>
<polygon points="688.22,1793.48 698.22,1793.48 693.22,1784.48" fill="#3db54a"/>
<path d="M714.9 1786.8V1790.4M711.4 1786.8h7.0M711.4 1790.4h7.0" stroke="#3db54a" stroke-width="2.0" fill="none"/>
<polygon points="709.88,1793.12 719.88,1793.12 714.88,1784.12" fill="#3db54a"/>
<path d="M736.5 1785.4V1792.6M733.0 1785.4h7.0M733.0 1792.6h7.0" stroke="#3db54a" stroke-width="2.0" fill="none"/>
<polygon points="731.54,1793.48 741.54,1793.48 736.54,1784.48" fill="#3db54a"/>
<path d="M758.2 1784.6V1795.5M754.7 1784.6h7.0M754.7 1795.5h7.0" stroke="#3db54a" stroke-width="2.0" fill="none"/>
<polygon points="753.20,1794.56 763.20,1794.56 758.20,1785.56" fill="#3db54a"/>
<path d="M779.9 1784.6V1795.5M776.4 1784.6h7.0M776.4 1795.5h7.0" stroke="#3db54a" stroke-width="2.0" fill="none"/>
<polygon points="774.86,1794.56 784.86,1794.56 779.86,1785.56" fill="#3db54a"/>
<path d="M801.5 1784.3V1795.1M798.0 1784.3h7.0M798.0 1795.1h7.0" stroke="#3db54a" stroke-width="2.0" fill="none"/>
<polygon points="796.52,1794.20 806.52,1794.20 801.52,1785.20" fill="#3db54a"/>
<path d="M823.2 1784.3V1795.1M819.7 1784.3h7.0M819.7 1795.1h7.0" stroke="#3db54a" stroke-width="2.0" fill="none"/>
<polygon points="818.18,1794.20 828.18,1794.20 823.18,1785.20" fill="#3db54a"/>
<path d="M844.8 1782.8V1797.3M841.3 1782.8h7.0M841.3 1797.3h7.0" stroke="#3db54a" stroke-width="2.0" fill="none"/>
<polygon points="839.84,1794.56 849.84,1794.56 844.84,1785.56" fill="#3db54a"/>
<path d="M866.5 1784.6V1799.1M863.0 1784.6h7.0M863.0 1799.1h7.0" stroke="#3db54a" stroke-width="2.0" fill="none"/>
<polygon points="861.50,1796.37 871.50,1796.37 866.50,1787.37" fill="#3db54a"/>
<polyline points="649.90,1791.15 671.56,1788.98 693.22,1787.17 714.88,1783.91 736.54,1780.65 758.20,1778.12 779.86,1775.58 801.52,1773.05 823.18,1769.07 844.84,1765.45 866.50,1762.19" fill="none" stroke="#2f3a97" stroke-width="2.2" stroke-linejoin="miter"/>
<path d="M649.9 1789.3V1793.0M646.4 1789.3h7.0M646.4 1793.0h7.0" stroke="#2f3a97" stroke-width="2.0" fill="none"/>
<polygon points="644.90,1795.65 654.90,1795.65 649.90,1786.65" fill="#2f3a97"/>
<path d="M671.6 1787.2V1790.8M668.1 1787.2h7.0M668.1 1790.8h7.0" stroke="#2f3a97" stroke-width="2.0" fill="none"/>
<polygon points="666.56,1793.48 676.56,1793.48 671.56,1784.48" fill="#2f3a97"/>
<path d="M693.2 1785.4V1789.0M689.7 1785.4h7.0M689.7 1789.0h7.0" stroke="#2f3a97" stroke-width="2.0" fill="none"/>
<polygon points="688.22,1791.67 698.22,1791.67 693.22,1782.67" fill="#2f3a97"/>
<path d="M714.9 1780.3V1787.5M711.4 1780.3h7.0M711.4 1787.5h7.0" stroke="#2f3a97" stroke-width="2.0" fill="none"/>
<polygon points="709.88,1788.41 719.88,1788.41 714.88,1779.41" fill="#2f3a97"/>
<path d="M736.5 1777.0V1784.3M733.0 1777.0h7.0M733.0 1784.3h7.0" stroke="#2f3a97" stroke-width="2.0" fill="none"/>
<polygon points="731.54,1785.15 741.54,1785.15 736.54,1776.15" fill="#2f3a97"/>
<path d="M758.2 1772.7V1783.5M754.7 1772.7h7.0M754.7 1783.5h7.0" stroke="#2f3a97" stroke-width="2.0" fill="none"/>
<polygon points="753.20,1782.62 763.20,1782.62 758.20,1773.62" fill="#2f3a97"/>
<path d="M779.9 1770.2V1781.0M776.4 1770.2h7.0M776.4 1781.0h7.0" stroke="#2f3a97" stroke-width="2.0" fill="none"/>
<polygon points="774.86,1780.08 784.86,1780.08 779.86,1771.08" fill="#2f3a97"/>
<path d="M801.5 1765.8V1780.3M798.0 1765.8h7.0M798.0 1780.3h7.0" stroke="#2f3a97" stroke-width="2.0" fill="none"/>
<polygon points="796.52,1777.55 806.52,1777.55 801.52,1768.55" fill="#2f3a97"/>
<path d="M823.2 1760.0V1778.1M819.7 1760.0h7.0M819.7 1778.1h7.0" stroke="#2f3a97" stroke-width="2.0" fill="none"/>
<polygon points="818.18,1773.57 828.18,1773.57 823.18,1764.57" fill="#2f3a97"/>
<path d="M844.8 1754.6V1776.3M841.3 1754.6h7.0M841.3 1776.3h7.0" stroke="#2f3a97" stroke-width="2.0" fill="none"/>
<polygon points="839.84,1769.95 849.84,1769.95 844.84,1760.95" fill="#2f3a97"/>
<path d="M866.5 1747.7V1776.7M863.0 1747.7h7.0M863.0 1776.7h7.0" stroke="#2f3a97" stroke-width="2.0" fill="none"/>
<polygon points="861.50,1766.69 871.50,1766.69 866.50,1757.69" fill="#2f3a97"/>
<polyline points="649.90,1788.62 671.56,1785.00 693.22,1780.65 714.88,1774.86 736.54,1767.62 758.20,1761.10 779.86,1753.14 801.52,1745.18 823.18,1734.68 844.84,1725.63 866.50,1714.41" fill="none" stroke="#e8242b" stroke-width="2.2" stroke-linejoin="miter"/>
<path d="M649.9 1785.7V1791.5M646.4 1785.7h7.0M646.4 1791.5h7.0" stroke="#e8242b" stroke-width="2.0" fill="none"/>
<polygon points="644.90,1793.12 654.90,1793.12 649.90,1784.12" fill="#e8242b"/>
<path d="M671.6 1782.1V1787.9M668.1 1782.1h7.0M668.1 1787.9h7.0" stroke="#e8242b" stroke-width="2.0" fill="none"/>
<polygon points="666.56,1789.50 676.56,1789.50 671.56,1780.50" fill="#e8242b"/>
<path d="M693.2 1777.8V1783.5M689.7 1777.8h7.0M689.7 1783.5h7.0" stroke="#e8242b" stroke-width="2.0" fill="none"/>
<polygon points="688.22,1785.15 698.22,1785.15 693.22,1776.15" fill="#e8242b"/>
<path d="M714.9 1769.4V1780.3M711.4 1769.4h7.0M711.4 1780.3h7.0" stroke="#e8242b" stroke-width="2.0" fill="none"/>
<polygon points="709.88,1779.36 719.88,1779.36 714.88,1770.36" fill="#e8242b"/>
<path d="M736.5 1762.2V1773.0M733.0 1762.2h7.0M733.0 1773.0h7.0" stroke="#e8242b" stroke-width="2.0" fill="none"/>
<polygon points="731.54,1772.12 741.54,1772.12 736.54,1763.12" fill="#e8242b"/>
<path d="M758.2 1753.9V1768.3M754.7 1753.9h7.0M754.7 1768.3h7.0" stroke="#e8242b" stroke-width="2.0" fill="none"/>
<polygon points="753.20,1765.60 763.20,1765.60 758.20,1756.60" fill="#e8242b"/>
<path d="M779.9 1744.1V1762.2M776.4 1744.1h7.0M776.4 1762.2h7.0" stroke="#e8242b" stroke-width="2.0" fill="none"/>
<polygon points="774.86,1757.64 784.86,1757.64 779.86,1748.64" fill="#e8242b"/>
<path d="M801.5 1734.3V1756.0M798.0 1734.3h7.0M798.0 1756.0h7.0" stroke="#e8242b" stroke-width="2.0" fill="none"/>
<polygon points="796.52,1749.68 806.52,1749.68 801.52,1740.68" fill="#e8242b"/>
<path d="M823.2 1723.8V1745.5M819.7 1723.8h7.0M819.7 1745.5h7.0" stroke="#e8242b" stroke-width="2.0" fill="none"/>
<polygon points="818.18,1739.18 828.18,1739.18 823.18,1730.18" fill="#e8242b"/>
<path d="M844.8 1711.1V1740.1M841.3 1711.1h7.0M841.3 1740.1h7.0" stroke="#e8242b" stroke-width="2.0" fill="none"/>
<polygon points="839.84,1730.13 849.84,1730.13 844.84,1721.13" fill="#e8242b"/>
<path d="M866.5 1696.3V1732.5M863.0 1696.3h7.0M863.0 1732.5h7.0" stroke="#e8242b" stroke-width="2.0" fill="none"/>
<polygon points="861.50,1718.91 871.50,1718.91 866.50,1709.91" fill="#e8242b"/>
<polyline points="649.90,1788.98 671.56,1785.00 693.22,1780.65 714.88,1775.58 736.54,1768.34 758.20,1762.91 779.86,1753.86 801.52,1747.71 823.18,1739.38 844.84,1730.70 866.50,1722.01" fill="none" stroke="#000" stroke-width="2.2" stroke-linejoin="miter"/>
<path d="M649.9 1786.1V1791.9M646.4 1786.1h7.0M646.4 1791.9h7.0" stroke="#000" stroke-width="2.0" fill="none"/>
<polygon points="644.90,1793.48 654.90,1793.48 649.90,1784.48" fill="#000"/>
<path d="M671.6 1782.1V1787.9M668.1 1782.1h7.0M668.1 1787.9h7.0" stroke="#000" stroke-width="2.0" fill="none"/>
<polygon points="666.56,1789.50 676.56,1789.50 671.56,1780.50" fill="#000"/>
<path d="M693.2 1777.8V1783.5M689.7 1777.8h7.0M689.7 1783.5h7.0" stroke="#000" stroke-width="2.0" fill="none"/>
<polygon points="688.22,1785.15 698.22,1785.15 693.22,1776.15" fill="#000"/>
<path d="M714.9 1770.2V1781.0M711.4 1770.2h7.0M711.4 1781.0h7.0" stroke="#000" stroke-width="2.0" fill="none"/>
<polygon points="709.88,1780.08 719.88,1780.08 714.88,1771.08" fill="#000"/>
<path d="M736.5 1762.9V1773.8M733.0 1762.9h7.0M733.0 1773.8h7.0" stroke="#000" stroke-width="2.0" fill="none"/>
<polygon points="731.54,1772.84 741.54,1772.84 736.54,1763.84" fill="#000"/>
<path d="M758.2 1755.7V1770.2M754.7 1755.7h7.0M754.7 1770.2h7.0" stroke="#000" stroke-width="2.0" fill="none"/>
<polygon points="753.20,1767.41 763.20,1767.41 758.20,1758.41" fill="#000"/>
<path d="M779.9 1744.8V1762.9M776.4 1744.8h7.0M776.4 1762.9h7.0" stroke="#000" stroke-width="2.0" fill="none"/>
<polygon points="774.86,1758.36 784.86,1758.36 779.86,1749.36" fill="#000"/>
<path d="M801.5 1738.7V1756.8M798.0 1738.7h7.0M798.0 1756.8h7.0" stroke="#000" stroke-width="2.0" fill="none"/>
<polygon points="796.52,1752.21 806.52,1752.21 801.52,1743.21" fill="#000"/>
<path d="M823.2 1728.5V1750.2M819.7 1728.5h7.0M819.7 1750.2h7.0" stroke="#000" stroke-width="2.0" fill="none"/>
<polygon points="818.18,1743.88 828.18,1743.88 823.18,1734.88" fill="#000"/>
<path d="M844.8 1716.2V1745.2M841.3 1716.2h7.0M841.3 1745.2h7.0" stroke="#000" stroke-width="2.0" fill="none"/>
<polygon points="839.84,1735.20 849.84,1735.20 844.84,1726.20" fill="#000"/>
<path d="M866.5 1702.1V1741.9M863.0 1702.1h7.0M863.0 1741.9h7.0" stroke="#000" stroke-width="2.0" fill="none"/>
<polygon points="861.50,1726.51 871.50,1726.51 866.50,1717.51" fill="#000"/>
<path d="M639.7 1673.5L639.7 1819.8" stroke="#000" stroke-width="3.0"/>
<path d="M631.7 1818.3L879.2 1818.3" stroke="#000" stroke-width="3.0"/>
<path d="M631.7 1818.3L639.7 1818.3" stroke="#000" stroke-width="3.0"/>
<text x="630.70" y="1818.30" font-size="18.8" dy="6.73" text-anchor="end" stroke="#000" stroke-width="0.22">0</text>
<path d="M631.7 1782.1L639.7 1782.1" stroke="#000" stroke-width="3.0"/>
<text x="630.70" y="1782.10" font-size="18.8" dy="6.73" text-anchor="end" stroke="#000" stroke-width="0.22">100</text>
<path d="M631.7 1745.9L639.7 1745.9" stroke="#000" stroke-width="3.0"/>
<text x="630.70" y="1745.90" font-size="18.8" dy="6.73" text-anchor="end" stroke="#000" stroke-width="0.22">200</text>
<path d="M631.7 1709.7L639.7 1709.7" stroke="#000" stroke-width="3.0"/>
<text x="630.70" y="1709.70" font-size="18.8" dy="6.73" text-anchor="end" stroke="#000" stroke-width="0.22">300</text>
<path d="M631.7 1673.5L639.7 1673.5" stroke="#000" stroke-width="3.0"/>
<text x="630.70" y="1673.50" font-size="18.8" dy="6.73" text-anchor="end" stroke="#000" stroke-width="0.22">400</text>
<path d="M649.9 1818.3L649.9 1826.3" stroke="#000" stroke-width="3.0"/>
<text x="654.90" y="1837.30" font-size="18.8" dy="6.73" text-anchor="end" stroke="#000" stroke-width="0.22" transform="rotate(-45 654.90 1837.30)">8</text>
<path d="M693.2 1818.3L693.2 1826.3" stroke="#000" stroke-width="3.0"/>
<text x="698.22" y="1837.30" font-size="18.8" dy="6.73" text-anchor="end" stroke="#000" stroke-width="0.22" transform="rotate(-45 698.22 1837.30)">12</text>
<path d="M736.5 1818.3L736.5 1826.3" stroke="#000" stroke-width="3.0"/>
<text x="741.54" y="1837.30" font-size="18.8" dy="6.73" text-anchor="end" stroke="#000" stroke-width="0.22" transform="rotate(-45 741.54 1837.30)">16</text>
<path d="M779.9 1818.3L779.9 1826.3" stroke="#000" stroke-width="3.0"/>
<text x="784.86" y="1837.30" font-size="18.8" dy="6.73" text-anchor="end" stroke="#000" stroke-width="0.22" transform="rotate(-45 784.86 1837.30)">20</text>
<path d="M823.2 1818.3L823.2 1826.3" stroke="#000" stroke-width="3.0"/>
<text x="828.18" y="1837.30" font-size="18.8" dy="6.73" text-anchor="end" stroke="#000" stroke-width="0.22" transform="rotate(-45 828.18 1837.30)">24</text>
<path d="M866.5 1818.3L866.5 1826.3" stroke="#000" stroke-width="3.0"/>
<text x="871.50" y="1837.30" font-size="18.8" dy="6.73" text-anchor="end" stroke="#000" stroke-width="0.22" transform="rotate(-45 871.50 1837.30)">28</text>
<path d="M652.0 1632.0L678.7 1632.0" stroke="#000" stroke-width="2.2"/>
<polygon points="660.35,1636.50 670.35,1636.50 665.35,1627.50" fill="#000"/>
<text x="694.00" y="1632.00" font-size="18.8" dy="6.73" stroke="#000" stroke-width="0.22">PBS</text>
<path d="M652.0 1654.4L678.7 1654.4" stroke="#e8242b" stroke-width="2.2"/>
<polygon points="660.35,1658.90 670.35,1658.90 665.35,1649.90" fill="#e8242b"/>
<text x="694.00" y="1654.40" font-size="18.8" dy="6.73" stroke="#000" stroke-width="0.22">Cetuximab</text>
<path d="M652.0 1677.1L678.7 1677.1" stroke="#2f3a97" stroke-width="2.2"/>
<polygon points="660.35,1681.60 670.35,1681.60 665.35,1672.60" fill="#2f3a97"/>
<text x="694.00" y="1677.10" font-size="18.8" dy="6.73" stroke="#000" stroke-width="0.22">3-BP</text>
<path d="M652.0 1701.6L678.7 1701.6" stroke="#3db54a" stroke-width="2.2"/>
<polygon points="660.35,1706.10 670.35,1706.10 665.35,1697.10" fill="#3db54a"/>
<text x="694.00" y="1701.60" font-size="18.8" dy="6.73" stroke="#000" stroke-width="0.22">3-BP+Cetuximab</text>
<text x="583.00" y="1746.20" font-size="19.5" dy="6.98" text-anchor="middle" stroke="#000" stroke-width="0.22" transform="rotate(-90 583.00 1746.20)">Tumor volume(mm<tspan dy="-7.02" font-size="13.65">3</tspan><tspan dy="7.02">)</tspan></text>
<text x="751.00" y="1868.10" font-size="19.5" dy="6.98" text-anchor="middle" stroke="#000" stroke-width="0.22">Time(days)</text>
<path d="M649.4 1800.5L718.8 1794.6" stroke="#000" stroke-width="2.0"/>
<text x="686.40" y="1805.60" font-size="21" dy="7.52" text-anchor="middle" stroke="#000" stroke-width="0.22">ns</text>
<text x="736.70" y="1810.83" font-size="21.5" text-anchor="middle" stroke="#000" stroke-width="0.22" letter-spacing="1.5">*</text>
<text x="759.20" y="1812.33" font-size="21.5" text-anchor="middle" stroke="#000" stroke-width="0.22" letter-spacing="1.5">**</text>
<text x="780.10" y="1812.33" font-size="21.5" text-anchor="middle" stroke="#000" stroke-width="0.22" letter-spacing="1.5">**</text>
<text x="802.10" y="1813.33" font-size="21.5" text-anchor="middle" stroke="#000" stroke-width="0.22" letter-spacing="1.5">**</text>
<text x="824.30" y="1813.62" font-size="21.5" text-anchor="middle" stroke="#000" stroke-width="0.22" letter-spacing="1.5">**</text>
<text x="846.00" y="1815.33" font-size="21.5" text-anchor="middle" stroke="#000" stroke-width="0.22" letter-spacing="1.5">**</text>
<text x="869.00" y="1815.33" font-size="21.5" text-anchor="middle" stroke="#000" stroke-width="0.22" letter-spacing="1.5">**</text>
<polyline points="880.50,1711.00 880.50,1711.00 880.50,1764.70 880.50,1764.70" fill="none" stroke="#000" stroke-width="1.8" stroke-linejoin="miter"/>
<polyline points="880.60,1738.40 885.60,1738.40 885.60,1794.00 880.60,1794.00" fill="none" stroke="#000" stroke-width="1.8" stroke-linejoin="miter"/>
<polygon points="1051.90,1722.53 1063.90,1722.53 1057.90,1711.73" fill="#000"/>
<polygon points="1046.90,1741.33 1058.90,1741.33 1052.90,1730.53" fill="#000"/>
<polygon points="1061.90,1750.06 1073.90,1750.06 1067.90,1739.26" fill="#000"/>
<polygon points="1049.90,1749.39 1061.90,1749.39 1055.90,1738.59" fill="#000"/>
<polygon points="1046.90,1766.85 1058.90,1766.85 1052.90,1756.05" fill="#000"/>
<path d="M1045.4 1740.0L1070.4 1740.0" stroke="#000" stroke-width="2.0"/>
<path d="M1057.9 1723.8V1756.1M1051.9 1723.8h12.0M1051.9 1756.1h12.0" stroke="#000" stroke-width="1.8" fill="none"/>
<polygon points="1086.00,1779.61 1098.00,1779.61 1092.00,1768.81" fill="#4253a8"/>
<polygon points="1100.00,1781.62 1112.00,1781.62 1106.00,1770.82" fill="#4253a8"/>
<polygon points="1093.00,1783.64 1105.00,1783.64 1099.00,1772.84" fill="#4253a8"/>
<polygon points="1089.00,1784.31 1101.00,1784.31 1095.00,1773.51" fill="#4253a8"/>
<polygon points="1097.00,1785.65 1109.00,1785.65 1103.00,1774.85" fill="#4253a8"/>
<path d="M1086.5 1777.6L1111.5 1777.6" stroke="#000" stroke-width="2.0"/>
<path d="M1099.0 1775.6V1779.6M1093.0 1775.6h12.0M1093.0 1779.6h12.0" stroke="#4253a8" stroke-width="1.8" fill="none"/>
<polygon points="1134.60,1730.59 1146.60,1730.59 1140.60,1719.79" fill="#e8242b"/>
<polygon points="1127.60,1742.68 1139.60,1742.68 1133.60,1731.88" fill="#e8242b"/>
<polygon points="1141.60,1738.65 1153.60,1738.65 1147.60,1727.85" fill="#e8242b"/>
<polygon points="1130.60,1745.36 1142.60,1745.36 1136.60,1734.56" fill="#e8242b"/>
<polygon points="1138.60,1746.71 1150.60,1746.71 1144.60,1735.91" fill="#e8242b"/>
<path d="M1128.1 1735.3L1153.1 1735.3" stroke="#000" stroke-width="2.0"/>
<path d="M1140.6 1727.9V1742.6M1134.6 1727.9h12.0M1134.6 1742.6h12.0" stroke="#e8242b" stroke-width="1.8" fill="none"/>
<polygon points="1168.80,1809.83 1180.80,1809.83 1174.80,1799.03" fill="#2fb34a"/>
<polygon points="1182.80,1810.50 1194.80,1810.50 1188.80,1799.70" fill="#2fb34a"/>
<polygon points="1175.80,1811.84 1187.80,1811.84 1181.80,1801.04" fill="#2fb34a"/>
<polygon points="1171.80,1813.18 1183.80,1813.18 1177.80,1802.38" fill="#2fb34a"/>
<polygon points="1179.80,1813.86 1191.80,1813.86 1185.80,1803.06" fill="#2fb34a"/>
<path d="M1169.3 1806.4L1194.3 1806.4" stroke="#000" stroke-width="2.0"/>
<path d="M1181.8 1805.1V1807.8M1175.8 1805.1h12.0M1175.8 1807.8h12.0" stroke="#2fb34a" stroke-width="1.8" fill="none"/>
<path d="M1031.4 1684.9L1031.4 1820.7" stroke="#000" stroke-width="3.0"/>
<path d="M1023.4 1819.2L1210.0 1819.2" stroke="#000" stroke-width="3.0"/>
<path d="M1023.4 1819.2L1031.4 1819.2" stroke="#000" stroke-width="3.0"/>
<text x="1020.90" y="1819.20" font-size="18.6" dy="6.66" text-anchor="end" stroke="#000" stroke-width="0.22">0</text>
<path d="M1023.4 1792.3L1031.4 1792.3" stroke="#000" stroke-width="3.0"/>
<text x="1020.90" y="1792.34" font-size="18.6" dy="6.66" text-anchor="end" stroke="#000" stroke-width="0.22">200</text>
<path d="M1023.4 1765.5L1031.4 1765.5" stroke="#000" stroke-width="3.0"/>
<text x="1020.90" y="1765.48" font-size="18.6" dy="6.66" text-anchor="end" stroke="#000" stroke-width="0.22">400</text>
<path d="M1023.4 1738.6L1031.4 1738.6" stroke="#000" stroke-width="3.0"/>
<text x="1020.90" y="1738.62" font-size="18.6" dy="6.66" text-anchor="end" stroke="#000" stroke-width="0.22">600</text>
<path d="M1023.4 1711.8L1031.4 1711.8" stroke="#000" stroke-width="3.0"/>
<text x="1020.90" y="1711.76" font-size="18.6" dy="6.66" text-anchor="end" stroke="#000" stroke-width="0.22">800</text>
<path d="M1023.4 1684.9L1031.4 1684.9" stroke="#000" stroke-width="3.0"/>
<text x="1020.90" y="1684.90" font-size="18.6" dy="6.66" text-anchor="end" stroke="#000" stroke-width="0.22">1000</text>
<path d="M1057.9 1819.2L1057.9 1827.2" stroke="#000" stroke-width="3.0"/>
<path d="M1099.0 1819.2L1099.0 1827.2" stroke="#000" stroke-width="3.0"/>
<path d="M1140.6 1819.2L1140.6 1827.2" stroke="#000" stroke-width="3.0"/>
<path d="M1181.8 1819.2L1181.8 1827.2" stroke="#000" stroke-width="3.0"/>
<path d="M1061.8 1694.9L1144.2 1694.9" stroke="#000" stroke-width="2.0"/>
<polyline points="1100.80,1694.90 1100.80,1684.90 1183.20,1684.90 1183.20,1786.20" fill="none" stroke="#000" stroke-width="2.0" stroke-linejoin="miter"/>
<text x="1101.20" y="1675.90" font-size="17.7" stroke="#000" stroke-width="0.22">P&lt;0.0001</text>
<polygon points="1208.70,1710.40 1220.70,1710.40 1214.70,1699.60" fill="#000"/>
<text x="1243.40" y="1705.00" font-size="18.7" dy="6.69" stroke="#000" stroke-width="0.22">PBS</text>
<polygon points="1208.70,1737.20 1220.70,1737.20 1214.70,1726.40" fill="#4253a8"/>
<text x="1243.40" y="1731.80" font-size="18.7" dy="6.69" stroke="#000" stroke-width="0.22">3-BP</text>
<polygon points="1208.70,1764.10 1220.70,1764.10 1214.70,1753.30" fill="#e8242b"/>
<text x="1243.40" y="1758.70" font-size="18.7" dy="6.69" stroke="#000" stroke-width="0.22">Cetuximab</text>
<polygon points="1208.70,1791.60 1220.70,1791.60 1214.70,1780.80" fill="#2fb34a"/>
<text x="1243.40" y="1786.20" font-size="18.7" dy="6.69" stroke="#000" stroke-width="0.22">3-BP+Cetuximab</text>
<text x="962.20" y="1752.20" font-size="18.6" dy="6.66" text-anchor="middle" stroke="#000" stroke-width="0.22" transform="rotate(-90 962.20 1752.20)">Tumor weight(mg)</text>
<rect x="3.50" y="1915.20" width="1440.50" height="279.50" fill="none" stroke="#2a2a2a" stroke-width="1.6"/>
<text x="30.30" y="1973.00" font-size="30" stroke="#000" stroke-width="0.22">P</text>
<rect x="99.70" y="1960.20" width="259.50" height="203.10" fill="url(#tealP)"/>
<defs><pattern id="gp2" patternUnits="userSpaceOnUse" x="119.60" y="1973.00" width="24.6" height="24.4"><path d="M0.6 0V24.4M0 0.6H24.6" stroke="#b4e2e6" stroke-width="1.1" fill="none" opacity="0.85"/><path d="M0 2.44h3.6M2.46 0v3.6M0 4.88h3.6M4.92 0v3.6M0 7.32h3.6M7.38 0v3.6M0 9.76h3.6M9.84 0v3.6M0 12.20h6M12.30 0v6M0 14.64h3.6M14.76 0v3.6M0 17.08h3.6M17.22 0v3.6M0 19.52h3.6M19.68 0v3.6M0 21.96h3.6M22.14 0v3.6" stroke="#b4e2e6" stroke-width="0.75" fill="none" opacity="0.9"/></pattern></defs>
<rect x="99.70" y="1960.20" width="259.50" height="203.10" fill="url(#gp2)"/>
<path d="M119.4 1992.1C118.8 1990.0 122.2 1986.5 123.5 1984.1C124.8 1981.7 125.4 1979.6 127.3 1977.7C129.2 1975.8 132.3 1972.7 134.9 1972.6C137.6 1972.5 141.3 1975.0 143.1 1977.1C144.8 1979.2 145.0 1982.5 145.5 1985.2C146.0 1987.8 146.6 1990.2 146.1 1992.8C145.5 1995.4 144.5 1999.5 142.4 2001.0C140.3 2002.4 136.0 2002.1 133.4 2001.4C130.8 2000.7 129.3 1998.6 127.0 1997.0C124.6 1995.5 120.0 1994.3 119.4 1992.1Z" fill="#053c46" opacity="0.5"/>
<path d="M117.6 1990.6C117.0 1988.5 120.4 1985.0 121.7 1982.6C123.0 1980.2 123.6 1978.1 125.5 1976.2C127.4 1974.3 130.5 1971.2 133.1 1971.1C135.8 1971.0 139.5 1973.5 141.3 1975.6C143.0 1977.7 143.2 1981.0 143.7 1983.7C144.2 1986.3 144.8 1988.7 144.3 1991.3C143.7 1993.9 142.7 1998.0 140.6 1999.5C138.5 2000.9 134.2 2000.6 131.6 1999.9C129.0 1999.2 127.5 1997.1 125.2 1995.5C122.8 1994.0 118.2 1992.8 117.6 1990.6Z" fill="url(#tp)"/>
<path d="M134.2 1979.3C135.0 1978.7 137.2 1978.6 138.6 1979.0C140.0 1979.4 142.4 1980.6 142.6 1981.5C142.7 1982.4 140.5 1983.7 139.3 1984.4C138.1 1985.1 136.4 1986.0 135.5 1985.7C134.6 1985.4 134.1 1983.7 133.8 1982.6C133.6 1981.6 133.4 1979.9 134.2 1979.3Z" fill="#c2505a" opacity="0.3"/>
<ellipse cx="129.1" cy="1982.7" rx="4.9" ry="3.8" fill="#fff" opacity="0.18"/>
<path d="M173.5 1992.9C171.8 1990.9 171.1 1989.1 170.3 1986.7C169.5 1984.3 167.4 1980.8 168.5 1978.7C169.7 1976.6 174.0 1975.1 177.0 1974.1C179.9 1973.1 183.5 1972.3 186.5 1972.8C189.4 1973.2 192.7 1975.1 194.5 1977.0C196.4 1978.9 197.1 1981.5 197.6 1984.0C198.1 1986.5 198.7 1989.6 197.4 1991.7C196.1 1993.9 192.7 1995.6 189.8 1996.7C187.0 1997.8 183.0 1999.0 180.3 1998.4C177.5 1997.8 175.1 1994.8 173.5 1992.9Z" fill="#053c46" opacity="0.5"/>
<path d="M171.7 1991.4C170.0 1989.4 169.3 1987.6 168.5 1985.2C167.7 1982.8 165.6 1979.3 166.7 1977.2C167.9 1975.1 172.2 1973.6 175.2 1972.6C178.1 1971.6 181.7 1970.8 184.7 1971.3C187.6 1971.7 190.9 1973.6 192.7 1975.5C194.6 1977.4 195.3 1980.0 195.8 1982.5C196.3 1985.0 196.9 1988.1 195.6 1990.2C194.3 1992.4 190.9 1994.1 188.0 1995.2C185.2 1996.3 181.2 1997.5 178.5 1996.9C175.7 1996.3 173.3 1993.3 171.7 1991.4Z" fill="url(#tp)"/>
<path d="M180.3 1988.5C179.9 1987.7 180.1 1986.8 180.8 1986.1C181.5 1985.3 183.4 1984.0 184.5 1984.1C185.6 1984.2 186.8 1985.7 187.3 1986.7C187.9 1987.6 188.6 1989.0 187.9 1989.7C187.2 1990.4 184.3 1991.1 183.0 1990.9C181.8 1990.7 180.6 1989.3 180.3 1988.5Z" fill="#c2505a" opacity="0.3"/>
<ellipse cx="178.0" cy="1980.3" rx="5.4" ry="3.4" fill="#fff" opacity="0.18"/>
<path d="M228.7 1980.4C230.2 1978.8 232.1 1976.9 234.0 1976.7C235.9 1976.4 238.1 1977.6 240.1 1978.7C242.1 1979.9 244.9 1981.3 245.9 1983.7C246.9 1986.0 246.7 1989.7 246.2 1992.6C245.7 1995.4 244.7 1999.5 242.8 2000.8C241.0 2002.2 237.7 2000.8 235.4 2000.7C233.0 2000.6 230.5 2001.5 228.9 2000.2C227.3 1999.0 226.6 1995.7 226.0 1993.3C225.3 1991.0 224.4 1988.3 224.9 1986.1C225.3 1984.0 227.2 1982.0 228.7 1980.4Z" fill="#053c46" opacity="0.5"/>
<path d="M226.9 1978.9C228.4 1977.3 230.3 1975.4 232.2 1975.2C234.1 1974.9 236.3 1976.1 238.3 1977.2C240.3 1978.4 243.1 1979.8 244.1 1982.2C245.1 1984.5 244.9 1988.2 244.4 1991.1C243.9 1993.9 242.9 1998.0 241.0 1999.3C239.2 2000.7 235.9 1999.3 233.6 1999.2C231.2 1999.1 228.7 2000.0 227.1 1998.7C225.5 1997.5 224.8 1994.2 224.2 1991.8C223.5 1989.5 222.6 1986.8 223.1 1984.6C223.5 1982.5 225.4 1980.5 226.9 1978.9Z" fill="url(#tp)"/>
<path d="M234.2 1985.5C233.4 1985.8 231.2 1985.2 230.5 1984.5C229.8 1983.8 229.8 1982.3 230.0 1981.3C230.2 1980.2 230.8 1978.8 231.8 1978.3C232.7 1977.9 235.2 1978.1 235.8 1978.7C236.4 1979.4 235.7 1981.2 235.4 1982.3C235.2 1983.5 235.0 1985.1 234.2 1985.5Z" fill="#c2505a" opacity="0.3"/>
<ellipse cx="230.2" cy="1983.5" rx="4.0" ry="3.8" fill="#fff" opacity="0.18"/>
<path d="M294.7 1990.2C294.1 1992.2 291.2 1993.6 289.4 1995.0C287.6 1996.4 286.0 1998.2 283.9 1998.7C281.8 1999.1 278.9 1998.8 276.8 1997.7C274.8 1996.6 272.4 1994.2 271.7 1992.0C271.0 1989.8 271.7 1986.7 272.4 1984.5C273.1 1982.2 274.2 1979.5 275.9 1978.3C277.6 1977.1 280.3 1977.6 282.4 1977.5C284.6 1977.4 287.1 1976.6 288.9 1977.5C290.6 1978.5 292.1 1980.9 293.0 1983.0C294.0 1985.1 295.3 1988.2 294.7 1990.2Z" fill="#053c46" opacity="0.5"/>
<path d="M292.9 1988.7C292.3 1990.7 289.4 1992.1 287.6 1993.5C285.8 1994.9 284.2 1996.7 282.1 1997.2C280.0 1997.6 277.1 1997.3 275.0 1996.2C273.0 1995.1 270.6 1992.7 269.9 1990.5C269.2 1988.3 269.9 1985.2 270.6 1983.0C271.3 1980.7 272.4 1978.0 274.1 1976.8C275.8 1975.6 278.5 1976.1 280.6 1976.0C282.8 1975.9 285.3 1975.1 287.1 1976.0C288.8 1977.0 290.3 1979.4 291.2 1981.5C292.2 1983.6 293.5 1986.7 292.9 1988.7Z" fill="url(#tp)"/>
<path d="M285.0 1983.3C285.8 1983.3 286.8 1984.2 287.4 1985.0C288.0 1985.8 289.0 1987.3 288.5 1988.1C288.1 1988.9 285.8 1989.9 284.7 1989.8C283.6 1989.7 282.3 1988.3 281.9 1987.5C281.6 1986.7 282.0 1985.7 282.5 1985.0C283.0 1984.3 284.1 1983.3 285.0 1983.3Z" fill="#c2505a" opacity="0.3"/>
<ellipse cx="278.6" cy="1982.2" rx="4.0" ry="3.3" fill="#fff" opacity="0.18"/>
<path d="M317.9 1996.1C316.2 1993.7 313.5 1990.7 313.9 1988.4C314.3 1986.0 318.1 1983.8 320.3 1982.0C322.5 1980.3 324.6 1978.5 327.1 1978.1C329.6 1977.6 332.7 1978.4 335.1 1979.2C337.5 1980.1 340.1 1981.4 341.5 1983.1C342.8 1984.9 343.1 1987.5 343.0 1989.6C342.9 1991.8 342.2 1994.2 340.8 1996.1C339.4 1998.1 337.2 2000.2 334.5 2001.3C331.7 2002.4 327.1 2003.7 324.4 2002.8C321.6 2001.9 319.7 1998.5 317.9 1996.1Z" fill="#053c46" opacity="0.5"/>
<path d="M316.1 1994.6C314.4 1992.2 311.7 1989.2 312.1 1986.9C312.5 1984.5 316.3 1982.3 318.5 1980.5C320.7 1978.8 322.8 1977.0 325.3 1976.6C327.8 1976.1 330.9 1976.9 333.3 1977.7C335.7 1978.6 338.3 1979.9 339.7 1981.6C341.0 1983.4 341.3 1986.0 341.2 1988.1C341.1 1990.3 340.4 1992.7 339.0 1994.6C337.6 1996.6 335.4 1998.7 332.7 1999.8C329.9 2000.9 325.3 2002.2 322.6 2001.3C319.8 2000.4 317.9 1997.0 316.1 1994.6Z" fill="url(#tp)"/>
<path d="M327.0 1988.3C326.3 1987.6 326.9 1985.7 327.5 1984.9C328.2 1984.2 329.7 1983.9 331.1 1983.8C332.6 1983.6 335.3 1983.3 336.1 1984.0C337.0 1984.7 336.7 1987.0 336.0 1987.7C335.2 1988.5 333.2 1988.6 331.7 1988.7C330.2 1988.8 327.7 1988.9 327.0 1988.3Z" fill="#c2505a" opacity="0.3"/>
<ellipse cx="325.2" cy="1983.8" rx="5.4" ry="3.5" fill="#fff" opacity="0.18"/>
<path d="M131.2 2054.1C128.9 2053.7 126.6 2050.0 124.8 2047.6C122.9 2045.1 120.5 2042.5 120.1 2039.6C119.7 2036.6 121.1 2032.7 122.3 2030.0C123.6 2027.3 125.5 2025.2 127.6 2023.6C129.7 2022.0 132.5 2020.0 134.9 2020.4C137.2 2020.7 139.7 2023.3 141.5 2025.5C143.4 2027.7 145.1 2030.4 146.0 2033.7C146.9 2036.9 148.0 2042.3 146.7 2044.9C145.5 2047.6 141.3 2048.2 138.7 2049.7C136.1 2051.3 133.5 2054.4 131.2 2054.1Z" fill="#053c46" opacity="0.5"/>
<path d="M129.4 2052.6C127.1 2052.2 124.8 2048.5 123.0 2046.1C121.1 2043.6 118.7 2041.0 118.3 2038.1C117.9 2035.1 119.3 2031.2 120.5 2028.5C121.8 2025.8 123.7 2023.7 125.8 2022.1C127.9 2020.5 130.7 2018.5 133.1 2018.9C135.4 2019.2 137.9 2021.8 139.7 2024.0C141.6 2026.2 143.3 2028.9 144.2 2032.2C145.1 2035.4 146.2 2040.8 144.9 2043.4C143.7 2046.1 139.5 2046.7 136.9 2048.2C134.3 2049.8 131.7 2052.9 129.4 2052.6Z" fill="url(#tp)"/>
<path d="M134.3 2024.2C135.4 2024.6 136.1 2026.9 136.5 2028.4C136.9 2029.9 137.5 2032.3 136.6 2033.3C135.8 2034.3 132.6 2034.8 131.5 2034.3C130.3 2033.8 129.9 2031.5 129.6 2030.1C129.4 2028.8 129.2 2027.1 129.9 2026.2C130.7 2025.2 133.2 2023.9 134.3 2024.2Z" fill="#c2505a" opacity="0.3"/>
<ellipse cx="127.9" cy="2029.8" rx="5.0" ry="5.0" fill="#fff" opacity="0.18"/>
<path d="M199.5 2026.7C201.8 2028.5 203.8 2031.1 204.4 2033.8C205.0 2036.4 205.1 2040.5 203.2 2042.4C201.3 2044.4 196.3 2044.9 193.0 2045.7C189.7 2046.6 186.4 2047.9 183.2 2047.5C180.1 2047.1 176.6 2045.4 174.1 2043.5C171.5 2041.5 167.8 2038.3 168.0 2035.9C168.1 2033.5 172.9 2031.0 175.2 2029.1C177.5 2027.2 179.1 2025.6 181.8 2024.5C184.4 2023.5 187.9 2022.6 190.9 2022.9C193.9 2023.3 197.3 2024.9 199.5 2026.7Z" fill="#053c46" opacity="0.5"/>
<path d="M197.7 2025.2C200.0 2027.0 202.0 2029.6 202.6 2032.3C203.2 2034.9 203.3 2039.0 201.4 2040.9C199.5 2042.9 194.5 2043.4 191.2 2044.2C187.9 2045.1 184.6 2046.4 181.4 2046.0C178.3 2045.6 174.8 2043.9 172.3 2042.0C169.7 2040.0 166.0 2036.8 166.2 2034.4C166.3 2032.0 171.1 2029.5 173.4 2027.6C175.7 2025.7 177.3 2024.1 180.0 2023.0C182.6 2022.0 186.1 2021.1 189.1 2021.4C192.1 2021.8 195.5 2023.4 197.7 2025.2Z" fill="url(#tp)"/>
<path d="M194.7 2040.5C193.3 2041.2 190.4 2041.0 188.6 2040.6C186.7 2040.2 184.0 2039.2 183.6 2038.2C183.1 2037.1 184.5 2034.7 185.8 2034.1C187.2 2033.6 189.7 2034.5 191.6 2034.9C193.5 2035.3 196.5 2035.5 197.1 2036.5C197.6 2037.4 196.1 2039.8 194.7 2040.5Z" fill="#c2505a" opacity="0.3"/>
<ellipse cx="181.4" cy="2029.4" rx="6.0" ry="3.6" fill="#fff" opacity="0.18"/>
<path d="M224.0 2042.8C222.1 2041.8 220.3 2039.7 219.6 2037.8C219.0 2036.0 219.4 2033.6 220.1 2031.7C220.9 2029.8 222.1 2027.5 224.0 2026.4C225.8 2025.3 228.9 2024.7 231.1 2024.9C233.3 2025.2 235.2 2026.7 237.1 2027.9C238.9 2029.0 241.6 2030.2 242.2 2031.8C242.8 2033.4 241.5 2035.8 240.6 2037.5C239.7 2039.2 238.7 2040.9 237.1 2042.0C235.4 2043.1 233.1 2044.1 230.9 2044.2C228.7 2044.4 225.8 2043.9 224.0 2042.8Z" fill="#053c46" opacity="0.5"/>
<path d="M222.2 2041.3C220.3 2040.3 218.5 2038.2 217.8 2036.3C217.2 2034.5 217.6 2032.1 218.3 2030.2C219.1 2028.3 220.3 2026.0 222.2 2024.9C224.0 2023.8 227.1 2023.2 229.3 2023.4C231.5 2023.7 233.4 2025.2 235.3 2026.4C237.1 2027.5 239.8 2028.7 240.4 2030.3C241.0 2031.9 239.7 2034.3 238.8 2036.0C237.9 2037.7 236.9 2039.4 235.3 2040.5C233.6 2041.6 231.3 2042.6 229.1 2042.7C226.9 2042.9 224.0 2042.4 222.2 2041.3Z" fill="url(#tp)"/>
<path d="M229.6 2032.2C229.9 2031.4 231.9 2030.1 233.2 2029.9C234.4 2029.8 236.5 2030.6 237.2 2031.2C237.9 2031.9 237.7 2033.0 237.4 2033.8C237.0 2034.5 236.1 2035.6 235.2 2035.8C234.2 2035.9 232.6 2035.4 231.7 2034.8C230.8 2034.2 229.4 2033.0 229.6 2032.2Z" fill="#c2505a" opacity="0.3"/>
<ellipse cx="226.3" cy="2030.2" rx="4.4" ry="2.9" fill="#fff" opacity="0.18"/>
<path d="M272.4 2036.1C272.7 2034.3 273.0 2031.6 274.4 2030.5C275.9 2029.5 278.8 2029.9 281.2 2029.8C283.5 2029.7 286.9 2028.8 288.4 2029.8C289.9 2030.8 289.7 2033.9 290.4 2035.8C291.0 2037.8 293.0 2040.0 292.4 2041.5C291.9 2043.0 288.8 2043.8 287.0 2045.1C285.1 2046.4 283.6 2048.9 281.5 2049.3C279.4 2049.6 275.8 2048.4 274.3 2047.1C272.9 2045.7 272.9 2042.9 272.5 2041.1C272.2 2039.3 272.0 2037.9 272.4 2036.1Z" fill="#053c46" opacity="0.5"/>
<path d="M270.6 2034.6C270.9 2032.8 271.2 2030.1 272.6 2029.0C274.1 2028.0 277.0 2028.4 279.4 2028.3C281.7 2028.2 285.1 2027.3 286.6 2028.3C288.1 2029.3 287.9 2032.4 288.6 2034.3C289.2 2036.3 291.2 2038.5 290.6 2040.0C290.1 2041.5 287.0 2042.3 285.2 2043.6C283.3 2044.9 281.8 2047.4 279.7 2047.8C277.6 2048.1 274.0 2046.9 272.5 2045.6C271.1 2044.2 271.1 2041.4 270.7 2039.6C270.4 2037.8 270.2 2036.4 270.6 2034.6Z" fill="url(#tp)"/>
<path d="M276.8 2034.4C276.9 2033.8 278.8 2033.2 279.8 2032.9C280.7 2032.7 281.9 2032.7 282.5 2033.0C283.2 2033.3 283.6 2034.2 283.5 2034.8C283.4 2035.3 282.8 2035.9 282.0 2036.2C281.3 2036.6 279.9 2036.9 279.0 2036.6C278.1 2036.3 276.7 2035.1 276.8 2034.4Z" fill="#c2505a" opacity="0.3"/>
<ellipse cx="276.9" cy="2034.2" rx="3.9" ry="2.6" fill="#fff" opacity="0.18"/>
<path d="M340.8 2040.5C339.6 2041.9 337.4 2042.6 335.3 2043.7C333.3 2044.7 330.9 2046.6 328.7 2046.6C326.5 2046.5 323.4 2044.9 322.0 2043.6C320.5 2042.3 320.3 2040.2 320.1 2038.5C319.9 2036.9 320.2 2035.6 320.8 2033.9C321.3 2032.3 321.8 2029.5 323.6 2028.7C325.3 2027.9 328.7 2029.0 331.2 2029.2C333.8 2029.4 337.0 2028.9 338.9 2029.9C340.7 2030.9 342.1 2033.3 342.5 2035.1C342.8 2036.9 342.0 2039.1 340.8 2040.5Z" fill="#053c46" opacity="0.5"/>
<path d="M339.0 2039.0C337.8 2040.4 335.6 2041.1 333.5 2042.2C331.5 2043.2 329.1 2045.1 326.9 2045.1C324.7 2045.0 321.6 2043.4 320.2 2042.1C318.7 2040.8 318.5 2038.7 318.3 2037.0C318.1 2035.4 318.4 2034.1 319.0 2032.4C319.5 2030.8 320.0 2028.0 321.8 2027.2C323.5 2026.4 326.9 2027.5 329.4 2027.7C332.0 2027.9 335.2 2027.4 337.1 2028.4C338.9 2029.4 340.3 2031.8 340.7 2033.6C341.0 2035.4 340.2 2037.6 339.0 2039.0Z" fill="url(#tp)"/>
<path d="M325.1 2036.9C325.7 2036.4 327.7 2036.1 328.8 2036.2C329.8 2036.3 331.0 2037.0 331.4 2037.6C331.7 2038.1 331.4 2038.9 330.8 2039.4C330.2 2039.9 328.9 2040.6 327.9 2040.5C327.0 2040.5 325.5 2039.8 325.1 2039.2C324.6 2038.6 324.5 2037.4 325.1 2036.9Z" fill="#c2505a" opacity="0.3"/>
<ellipse cx="325.4" cy="2032.8" rx="4.4" ry="2.5" fill="#fff" opacity="0.18"/>
<path d="M121.5 2085.3C121.2 2083.2 121.0 2080.0 122.3 2078.4C123.6 2076.7 127.0 2076.1 129.4 2075.4C131.8 2074.8 134.2 2074.2 136.8 2074.5C139.3 2074.8 143.6 2075.5 144.8 2077.3C146.0 2079.0 144.3 2082.6 143.9 2084.9C143.6 2087.2 143.9 2089.2 142.8 2091.1C141.7 2093.0 139.6 2095.8 137.4 2096.3C135.3 2096.9 132.1 2095.2 129.9 2094.3C127.7 2093.4 125.6 2092.5 124.2 2091.0C122.8 2089.5 121.8 2087.4 121.5 2085.3Z" fill="#053c46" opacity="0.5"/>
<path d="M119.7 2083.8C119.4 2081.7 119.2 2078.5 120.5 2076.9C121.8 2075.2 125.2 2074.6 127.6 2073.9C130.0 2073.3 132.4 2072.7 135.0 2073.0C137.5 2073.3 141.8 2074.0 143.0 2075.8C144.2 2077.5 142.5 2081.1 142.1 2083.4C141.8 2085.7 142.1 2087.7 141.0 2089.6C139.9 2091.5 137.8 2094.3 135.6 2094.8C133.5 2095.4 130.3 2093.7 128.1 2092.8C125.9 2091.9 123.8 2091.0 122.4 2089.5C121.0 2088.0 120.0 2085.9 119.7 2083.8Z" fill="url(#tp)"/>
<path d="M133.6 2090.6C132.3 2090.2 130.0 2089.5 129.8 2088.8C129.7 2088.1 131.7 2086.8 132.9 2086.3C134.1 2085.8 135.7 2085.3 136.8 2085.6C137.9 2085.9 139.1 2087.3 139.3 2088.2C139.4 2089.1 138.4 2090.6 137.5 2091.0C136.6 2091.4 134.9 2091.0 133.6 2090.6Z" fill="#c2505a" opacity="0.3"/>
<ellipse cx="128.3" cy="2080.2" rx="4.5" ry="3.1" fill="#fff" opacity="0.18"/>
<path d="M181.0 2097.7C179.2 2097.6 177.7 2096.1 176.0 2095.1C174.4 2094.1 171.5 2093.3 170.9 2091.7C170.3 2090.1 171.8 2087.4 172.5 2085.5C173.1 2083.6 173.4 2081.5 174.7 2080.1C176.0 2078.6 178.4 2076.7 180.2 2076.7C182.0 2076.7 183.8 2078.8 185.6 2080.0C187.3 2081.2 189.9 2082.2 190.7 2083.9C191.5 2085.7 191.0 2088.8 190.3 2090.7C189.6 2092.7 188.0 2094.5 186.5 2095.7C184.9 2096.9 182.7 2097.8 181.0 2097.7Z" fill="#053c46" opacity="0.5"/>
<path d="M179.2 2096.2C177.4 2096.1 175.9 2094.6 174.2 2093.6C172.6 2092.6 169.7 2091.8 169.1 2090.2C168.5 2088.6 170.0 2085.9 170.7 2084.0C171.3 2082.1 171.6 2080.0 172.9 2078.6C174.2 2077.1 176.6 2075.2 178.4 2075.2C180.2 2075.2 182.0 2077.3 183.8 2078.5C185.5 2079.7 188.1 2080.7 188.9 2082.4C189.7 2084.2 189.2 2087.3 188.5 2089.2C187.8 2091.2 186.2 2093.0 184.7 2094.2C183.1 2095.4 180.9 2096.3 179.2 2096.2Z" fill="url(#tp)"/>
<path d="M177.4 2089.7C176.8 2089.3 176.9 2087.7 177.1 2086.8C177.3 2085.8 177.7 2084.4 178.5 2084.1C179.4 2083.7 181.6 2084.2 182.2 2084.8C182.8 2085.3 182.2 2086.7 182.0 2087.5C181.7 2088.2 181.5 2088.8 180.8 2089.2C180.0 2089.6 178.0 2090.1 177.4 2089.7Z" fill="#c2505a" opacity="0.3"/>
<ellipse cx="176.6" cy="2083.5" rx="3.3" ry="2.7" fill="#fff" opacity="0.18"/>
<path d="M242.1 2085.6C242.6 2087.6 243.7 2090.5 243.1 2092.3C242.5 2094.1 240.3 2095.3 238.6 2096.5C236.9 2097.6 234.6 2099.4 232.9 2099.0C231.3 2098.6 229.9 2095.8 228.5 2094.1C227.2 2092.4 224.8 2090.5 224.7 2088.6C224.6 2086.7 226.9 2084.6 227.8 2082.5C228.7 2080.3 228.8 2076.6 230.2 2075.7C231.6 2074.7 234.5 2075.9 236.2 2076.7C237.9 2077.4 239.4 2078.8 240.4 2080.3C241.4 2081.8 241.7 2083.6 242.1 2085.6Z" fill="#053c46" opacity="0.5"/>
<path d="M240.3 2084.1C240.8 2086.1 241.9 2089.0 241.3 2090.8C240.7 2092.6 238.5 2093.8 236.8 2095.0C235.1 2096.1 232.8 2097.9 231.1 2097.5C229.5 2097.1 228.1 2094.3 226.7 2092.6C225.4 2090.9 223.0 2089.0 222.9 2087.1C222.8 2085.2 225.1 2083.1 226.0 2081.0C226.9 2078.8 227.0 2075.1 228.4 2074.2C229.8 2073.2 232.7 2074.4 234.4 2075.2C236.1 2075.9 237.6 2077.3 238.6 2078.8C239.6 2080.3 239.9 2082.1 240.3 2084.1Z" fill="url(#tp)"/>
<path d="M234.3 2087.2C234.1 2087.8 232.9 2088.4 232.3 2088.5C231.6 2088.7 230.7 2088.6 230.3 2088.2C229.8 2087.8 229.3 2086.8 229.5 2086.2C229.6 2085.6 230.3 2084.7 231.0 2084.4C231.6 2084.2 232.8 2084.4 233.3 2084.9C233.9 2085.3 234.4 2086.6 234.3 2087.2Z" fill="#c2505a" opacity="0.3"/>
<ellipse cx="230.8" cy="2082.2" rx="3.2" ry="3.0" fill="#fff" opacity="0.18"/>
<path d="M276.0 2077.9C277.0 2076.3 279.6 2076.1 281.4 2075.7C283.2 2075.3 285.1 2074.8 286.8 2075.5C288.4 2076.2 290.7 2077.9 291.5 2079.9C292.3 2081.8 291.8 2084.8 291.5 2087.1C291.2 2089.4 290.9 2092.0 289.8 2093.7C288.7 2095.4 286.7 2096.7 285.0 2097.3C283.2 2097.8 280.6 2098.1 279.3 2097.0C277.9 2095.8 277.6 2092.5 277.0 2090.5C276.4 2088.5 275.8 2087.1 275.7 2085.0C275.5 2082.9 275.1 2079.4 276.0 2077.9Z" fill="#053c46" opacity="0.5"/>
<path d="M274.2 2076.4C275.2 2074.8 277.8 2074.6 279.6 2074.2C281.4 2073.8 283.3 2073.3 285.0 2074.0C286.6 2074.7 288.9 2076.4 289.7 2078.4C290.5 2080.3 290.0 2083.3 289.7 2085.6C289.4 2087.9 289.1 2090.5 288.0 2092.2C286.9 2093.9 284.9 2095.2 283.2 2095.8C281.4 2096.3 278.8 2096.6 277.5 2095.5C276.1 2094.3 275.8 2091.0 275.2 2089.0C274.6 2087.0 274.0 2085.6 273.9 2083.5C273.7 2081.4 273.3 2077.9 274.2 2076.4Z" fill="url(#tp)"/>
<path d="M284.8 2090.1C284.2 2090.0 283.4 2088.6 283.1 2087.9C282.8 2087.1 282.7 2086.1 283.0 2085.5C283.4 2084.8 284.6 2084.1 285.2 2084.2C285.9 2084.3 286.8 2085.2 287.1 2085.9C287.3 2086.5 287.2 2087.4 286.8 2088.1C286.4 2088.8 285.5 2090.1 284.8 2090.1Z" fill="#c2505a" opacity="0.3"/>
<ellipse cx="279.3" cy="2081.3" rx="3.0" ry="3.0" fill="#fff" opacity="0.18"/>
<path d="M336.5 2080.9C337.5 2082.5 339.2 2083.9 339.2 2085.4C339.2 2087.0 337.8 2088.7 336.5 2090.2C335.2 2091.6 333.4 2093.8 331.5 2094.2C329.6 2094.5 326.9 2093.0 325.0 2092.1C323.1 2091.3 321.3 2090.3 320.2 2089.0C319.1 2087.6 318.1 2085.6 318.3 2084.0C318.5 2082.4 320.0 2080.9 321.3 2079.4C322.6 2078.0 324.1 2076.0 326.1 2075.4C328.1 2074.8 331.5 2075.0 333.3 2076.0C335.0 2076.9 335.5 2079.3 336.5 2080.9Z" fill="#053c46" opacity="0.5"/>
<path d="M334.7 2079.4C335.7 2081.0 337.4 2082.4 337.4 2083.9C337.4 2085.5 336.0 2087.2 334.7 2088.7C333.4 2090.1 331.6 2092.3 329.7 2092.7C327.8 2093.0 325.1 2091.5 323.2 2090.6C321.3 2089.8 319.5 2088.8 318.4 2087.5C317.3 2086.1 316.3 2084.1 316.5 2082.5C316.7 2080.9 318.2 2079.4 319.5 2077.9C320.8 2076.5 322.3 2074.5 324.3 2073.9C326.3 2073.3 329.7 2073.5 331.5 2074.5C333.2 2075.4 333.7 2077.8 334.7 2079.4Z" fill="url(#tp)"/>
<path d="M332.4 2079.7C332.5 2080.3 331.8 2081.4 331.0 2081.8C330.2 2082.1 328.5 2082.1 327.6 2081.9C326.7 2081.6 325.9 2080.7 325.8 2080.0C325.6 2079.3 326.0 2077.9 326.8 2077.6C327.5 2077.3 329.4 2077.8 330.3 2078.1C331.3 2078.5 332.3 2079.1 332.4 2079.7Z" fill="#c2505a" opacity="0.3"/>
<ellipse cx="324.5" cy="2080.7" rx="3.7" ry="2.4" fill="#fff" opacity="0.18"/>
<path d="M141.3 2140.9C140.4 2142.2 138.0 2142.0 136.5 2142.7C135.0 2143.3 133.6 2144.8 132.1 2144.7C130.6 2144.5 128.7 2143.1 127.7 2141.7C126.7 2140.2 125.9 2137.8 126.0 2136.0C126.1 2134.2 127.3 2132.4 128.2 2131.0C129.2 2129.6 130.2 2128.4 131.5 2127.6C132.8 2126.8 134.6 2126.0 136.1 2126.2C137.6 2126.4 139.8 2127.4 140.8 2128.9C141.7 2130.3 141.8 2132.8 141.9 2134.8C142.0 2136.8 142.3 2139.6 141.3 2140.9Z" fill="#053c46" opacity="0.5"/>
<path d="M139.5 2139.4C138.6 2140.7 136.2 2140.5 134.7 2141.2C133.2 2141.8 131.8 2143.3 130.3 2143.2C128.8 2143.0 126.9 2141.6 125.9 2140.2C124.9 2138.7 124.1 2136.3 124.2 2134.5C124.3 2132.7 125.5 2130.9 126.4 2129.5C127.4 2128.1 128.4 2126.9 129.7 2126.1C131.0 2125.3 132.8 2124.5 134.3 2124.7C135.8 2124.9 138.0 2125.9 139.0 2127.4C139.9 2128.8 140.0 2131.3 140.1 2133.3C140.2 2135.3 140.5 2138.1 139.5 2139.4Z" fill="url(#tp)"/>
<path d="M130.3 2134.5C130.0 2134.0 130.2 2132.7 130.5 2132.0C130.9 2131.4 131.7 2130.7 132.4 2130.7C133.1 2130.6 134.3 2131.0 134.7 2131.6C135.1 2132.2 135.2 2133.6 134.9 2134.1C134.6 2134.6 133.5 2134.6 132.7 2134.7C131.9 2134.7 130.7 2134.9 130.3 2134.5Z" fill="#c2505a" opacity="0.3"/>
<ellipse cx="130.5" cy="2131.2" rx="2.7" ry="2.5" fill="#fff" opacity="0.18"/>
<path d="M192.2 2132.5C192.5 2134.2 192.2 2136.3 191.4 2137.9C190.7 2139.5 189.4 2141.1 187.9 2142.1C186.4 2143.1 184.4 2144.0 182.5 2144.0C180.6 2144.0 177.8 2143.4 176.6 2142.1C175.3 2140.8 175.1 2138.1 175.0 2136.3C174.9 2134.4 175.3 2132.7 176.0 2131.2C176.7 2129.7 177.8 2127.8 179.1 2127.1C180.5 2126.4 182.4 2126.8 184.1 2126.9C185.9 2126.9 188.2 2126.5 189.6 2127.5C190.9 2128.4 191.9 2130.7 192.2 2132.5Z" fill="#053c46" opacity="0.5"/>
<path d="M190.4 2131.0C190.7 2132.7 190.4 2134.8 189.6 2136.4C188.9 2138.0 187.6 2139.6 186.1 2140.6C184.6 2141.6 182.6 2142.5 180.7 2142.5C178.8 2142.5 176.0 2141.9 174.8 2140.6C173.5 2139.3 173.3 2136.6 173.2 2134.8C173.1 2132.9 173.5 2131.2 174.2 2129.7C174.9 2128.2 176.0 2126.3 177.3 2125.6C178.7 2124.9 180.6 2125.3 182.3 2125.4C184.1 2125.4 186.4 2125.0 187.8 2126.0C189.1 2126.9 190.1 2129.2 190.4 2131.0Z" fill="url(#tp)"/>
<path d="M185.7 2128.7C186.5 2128.6 188.3 2128.7 188.7 2129.3C189.1 2129.8 188.5 2131.3 188.0 2131.9C187.4 2132.4 186.1 2132.8 185.4 2132.7C184.7 2132.6 184.0 2131.8 183.7 2131.3C183.4 2130.8 183.3 2130.0 183.6 2129.6C184.0 2129.1 184.8 2128.7 185.7 2128.7Z" fill="#c2505a" opacity="0.3"/>
<ellipse cx="179.5" cy="2130.2" rx="3.2" ry="2.5" fill="#fff" opacity="0.18"/>
<path d="M241.6 2136.9C241.0 2137.9 239.5 2138.4 238.5 2139.1C237.5 2139.7 236.7 2140.7 235.4 2141.0C234.1 2141.3 231.9 2141.5 231.0 2140.8C230.0 2140.2 230.0 2138.4 229.5 2137.2C228.9 2136.0 227.6 2134.8 227.8 2133.7C228.1 2132.6 229.7 2131.6 230.8 2130.8C232.0 2130.1 233.5 2129.0 234.8 2129.1C236.0 2129.2 236.9 2130.8 238.1 2131.5C239.2 2132.2 241.1 2132.4 241.7 2133.3C242.2 2134.2 242.1 2136.0 241.6 2136.9Z" fill="#053c46" opacity="0.5"/>
<path d="M239.8 2135.4C239.2 2136.4 237.7 2136.9 236.7 2137.6C235.7 2138.2 234.9 2139.2 233.6 2139.5C232.3 2139.8 230.1 2140.0 229.2 2139.3C228.2 2138.7 228.2 2136.9 227.7 2135.7C227.1 2134.5 225.8 2133.3 226.0 2132.2C226.3 2131.1 227.9 2130.1 229.0 2129.3C230.2 2128.6 231.7 2127.5 233.0 2127.6C234.2 2127.7 235.1 2129.3 236.3 2130.0C237.4 2130.7 239.3 2130.9 239.9 2131.8C240.4 2132.7 240.3 2134.5 239.8 2135.4Z" fill="url(#tp)"/>
<path d="M231.5 2135.7C231.0 2135.4 231.0 2134.5 231.2 2134.0C231.4 2133.5 232.2 2132.9 232.8 2132.8C233.5 2132.7 234.6 2133.0 235.1 2133.3C235.5 2133.6 235.6 2134.4 235.5 2134.8C235.3 2135.3 234.7 2136.0 234.0 2136.1C233.3 2136.3 231.9 2136.1 231.5 2135.7Z" fill="#c2505a" opacity="0.3"/>
<ellipse cx="231.7" cy="2132.2" rx="2.3" ry="1.6" fill="#fff" opacity="0.18"/>
<path d="M278.8 2133.2C279.3 2132.3 279.7 2131.1 280.5 2130.6C281.4 2130.0 283.0 2129.3 283.9 2129.6C284.8 2130.0 285.3 2131.6 285.9 2132.5C286.6 2133.3 287.6 2133.9 287.8 2134.8C288.0 2135.7 287.5 2136.9 287.0 2137.7C286.5 2138.6 285.7 2139.1 284.8 2139.7C283.9 2140.2 282.8 2141.1 281.7 2141.0C280.7 2141.0 279.2 2140.3 278.5 2139.4C277.7 2138.6 277.2 2137.1 277.2 2136.1C277.3 2135.0 278.2 2134.1 278.8 2133.2Z" fill="#053c46" opacity="0.5"/>
<path d="M277.0 2131.7C277.5 2130.8 277.9 2129.6 278.7 2129.1C279.6 2128.5 281.2 2127.8 282.1 2128.1C283.0 2128.5 283.5 2130.1 284.1 2131.0C284.8 2131.8 285.8 2132.4 286.0 2133.3C286.2 2134.2 285.7 2135.4 285.2 2136.2C284.7 2137.1 283.9 2137.6 283.0 2138.2C282.1 2138.7 281.0 2139.6 279.9 2139.5C278.9 2139.5 277.4 2138.8 276.7 2137.9C275.9 2137.1 275.4 2135.6 275.4 2134.6C275.5 2133.5 276.4 2132.6 277.0 2131.7Z" fill="url(#tp)"/>
<path d="M281.9 2136.4C281.6 2136.7 280.8 2137.0 280.4 2136.9C280.0 2136.8 279.7 2136.3 279.5 2136.0C279.3 2135.6 279.1 2135.0 279.3 2134.8C279.5 2134.5 280.4 2134.3 280.8 2134.4C281.3 2134.5 281.8 2134.8 282.0 2135.1C282.2 2135.5 282.2 2136.1 281.9 2136.4Z" fill="#c2505a" opacity="0.3"/>
<ellipse cx="279.8" cy="2132.4" rx="1.8" ry="1.4" fill="#fff" opacity="0.18"/>
<path d="M332.5 2142.1C331.4 2142.3 329.8 2142.2 329.0 2141.5C328.2 2140.9 328.3 2139.3 327.8 2138.3C327.3 2137.2 326.0 2136.4 326.0 2135.4C325.9 2134.5 326.9 2133.2 327.7 2132.5C328.5 2131.7 329.8 2131.0 330.7 2131.0C331.7 2131.0 332.5 2132.0 333.5 2132.5C334.5 2133.0 336.1 2132.9 336.6 2133.7C337.1 2134.5 336.6 2135.9 336.4 2137.0C336.3 2138.1 336.3 2139.4 335.6 2140.3C335.0 2141.1 333.7 2141.9 332.5 2142.1Z" fill="#053c46" opacity="0.5"/>
<path d="M330.7 2140.6C329.6 2140.8 328.0 2140.7 327.2 2140.0C326.4 2139.4 326.5 2137.8 326.0 2136.8C325.5 2135.7 324.2 2134.9 324.2 2133.9C324.1 2133.0 325.1 2131.7 325.9 2131.0C326.7 2130.2 328.0 2129.5 328.9 2129.5C329.9 2129.5 330.7 2130.5 331.7 2131.0C332.7 2131.5 334.3 2131.4 334.8 2132.2C335.3 2133.0 334.8 2134.4 334.6 2135.5C334.5 2136.6 334.5 2137.9 333.8 2138.8C333.2 2139.6 331.9 2140.4 330.7 2140.6Z" fill="url(#tp)"/>
<path d="M329.8 2134.8C330.2 2134.7 331.0 2134.8 331.4 2135.1C331.7 2135.4 332.1 2136.2 331.9 2136.6C331.7 2137.1 330.8 2137.6 330.2 2137.6C329.7 2137.7 328.6 2137.3 328.4 2137.0C328.1 2136.7 328.6 2136.0 328.8 2135.6C329.0 2135.3 329.3 2134.9 329.8 2134.8Z" fill="#c2505a" opacity="0.3"/>
<ellipse cx="328.6" cy="2133.3" rx="1.8" ry="1.4" fill="#fff" opacity="0.18"/>
<text x="365.00" y="1999.00" font-size="21.7" dy="7.77" stroke="#000" stroke-width="0.22">PBS</text>
<text x="365.00" y="2043.00" font-size="21.7" dy="7.77" stroke="#000" stroke-width="0.22">Cetuximab</text>
<text x="365.00" y="2086.00" font-size="21.7" dy="7.77" stroke="#000" stroke-width="0.22">3-BP</text>
<text x="365.00" y="2130.00" font-size="21.7" dy="7.77" stroke="#000" stroke-width="0.22">3-BP +Cetuximab</text>
<polyline points="653.20,2113.87 674.74,2113.87 696.28,2114.38 717.82,2113.87 739.36,2113.20 760.90,2113.20 782.44,2112.52 803.98,2111.00 825.52,2109.31 847.06,2107.95 868.60,2104.57" fill="none" stroke="#3db54a" stroke-width="2.2" stroke-linejoin="miter"/>
<path d="M653.2 2113.4V2114.4M649.7 2113.4h7.0M649.7 2114.4h7.0" stroke="#3db54a" stroke-width="2.0" fill="none"/>
<circle cx="653.20" cy="2113.87" r="4.30" fill="#3db54a"/>
<path d="M674.7 2113.4V2114.4M671.2 2113.4h7.0M671.2 2114.4h7.0" stroke="#3db54a" stroke-width="2.0" fill="none"/>
<circle cx="674.74" cy="2113.87" r="4.30" fill="#3db54a"/>
<path d="M696.3 2113.9V2114.9M692.8 2113.9h7.0M692.8 2114.9h7.0" stroke="#3db54a" stroke-width="2.0" fill="none"/>
<circle cx="696.28" cy="2114.38" r="4.30" fill="#3db54a"/>
<path d="M717.8 2113.4V2114.4M714.3 2113.4h7.0M714.3 2114.4h7.0" stroke="#3db54a" stroke-width="2.0" fill="none"/>
<circle cx="717.82" cy="2113.87" r="4.30" fill="#3db54a"/>
<path d="M739.4 2112.3V2114.0M735.9 2112.3h7.0M735.9 2114.0h7.0" stroke="#3db54a" stroke-width="2.0" fill="none"/>
<circle cx="739.36" cy="2113.20" r="4.30" fill="#3db54a"/>
<path d="M760.9 2112.3V2114.0M757.4 2112.3h7.0M757.4 2114.0h7.0" stroke="#3db54a" stroke-width="2.0" fill="none"/>
<circle cx="760.90" cy="2113.20" r="4.30" fill="#3db54a"/>
<path d="M782.4 2111.7V2113.4M778.9 2111.7h7.0M778.9 2113.4h7.0" stroke="#3db54a" stroke-width="2.0" fill="none"/>
<circle cx="782.44" cy="2112.52" r="4.30" fill="#3db54a"/>
<path d="M804.0 2109.6V2112.3M800.5 2109.6h7.0M800.5 2112.3h7.0" stroke="#3db54a" stroke-width="2.0" fill="none"/>
<circle cx="803.98" cy="2111.00" r="4.30" fill="#3db54a"/>
<path d="M825.5 2107.6V2111.0M822.0 2107.6h7.0M822.0 2111.0h7.0" stroke="#3db54a" stroke-width="2.0" fill="none"/>
<circle cx="825.52" cy="2109.31" r="4.30" fill="#3db54a"/>
<path d="M847.1 2105.4V2110.5M843.6 2105.4h7.0M843.6 2110.5h7.0" stroke="#3db54a" stroke-width="2.0" fill="none"/>
<circle cx="847.06" cy="2107.95" r="4.30" fill="#3db54a"/>
<path d="M868.6 2101.2V2108.0M865.1 2101.2h7.0M865.1 2108.0h7.0" stroke="#3db54a" stroke-width="2.0" fill="none"/>
<circle cx="868.60" cy="2104.57" r="4.30" fill="#3db54a"/>
<polyline points="653.20,2113.87 674.74,2113.87 696.28,2112.18 717.82,2112.18 739.36,2111.34 760.90,2109.31 782.44,2106.60 803.98,2102.88 825.52,2098.99 847.06,2091.72 868.60,2081.57" fill="none" stroke="#2f3a97" stroke-width="2.2" stroke-linejoin="miter"/>
<path d="M653.2 2113.4V2114.4M649.7 2113.4h7.0M649.7 2114.4h7.0" stroke="#2f3a97" stroke-width="2.0" fill="none"/>
<circle cx="653.20" cy="2113.87" r="4.30" fill="#2f3a97"/>
<path d="M674.7 2113.4V2114.4M671.2 2113.4h7.0M671.2 2114.4h7.0" stroke="#2f3a97" stroke-width="2.0" fill="none"/>
<circle cx="674.74" cy="2113.87" r="4.30" fill="#2f3a97"/>
<path d="M696.3 2111.3V2113.0M692.8 2111.3h7.0M692.8 2113.0h7.0" stroke="#2f3a97" stroke-width="2.0" fill="none"/>
<circle cx="696.28" cy="2112.18" r="4.30" fill="#2f3a97"/>
<path d="M717.8 2111.3V2113.0M714.3 2111.3h7.0M714.3 2113.0h7.0" stroke="#2f3a97" stroke-width="2.0" fill="none"/>
<circle cx="717.82" cy="2112.18" r="4.30" fill="#2f3a97"/>
<path d="M739.4 2110.5V2112.2M735.9 2110.5h7.0M735.9 2112.2h7.0" stroke="#2f3a97" stroke-width="2.0" fill="none"/>
<circle cx="739.36" cy="2111.34" r="4.30" fill="#2f3a97"/>
<path d="M760.9 2108.0V2110.7M757.4 2108.0h7.0M757.4 2110.7h7.0" stroke="#2f3a97" stroke-width="2.0" fill="none"/>
<circle cx="760.90" cy="2109.31" r="4.30" fill="#2f3a97"/>
<path d="M782.4 2104.9V2108.3M778.9 2104.9h7.0M778.9 2108.3h7.0" stroke="#2f3a97" stroke-width="2.0" fill="none"/>
<circle cx="782.44" cy="2106.60" r="4.30" fill="#2f3a97"/>
<path d="M804.0 2099.5V2106.3M800.5 2099.5h7.0M800.5 2106.3h7.0" stroke="#2f3a97" stroke-width="2.0" fill="none"/>
<circle cx="803.98" cy="2102.88" r="4.30" fill="#2f3a97"/>
<path d="M825.5 2092.2V2105.8M822.0 2092.2h7.0M822.0 2105.8h7.0" stroke="#2f3a97" stroke-width="2.0" fill="none"/>
<circle cx="825.52" cy="2098.99" r="4.30" fill="#2f3a97"/>
<path d="M847.1 2079.0V2104.4M843.6 2079.0h7.0M843.6 2104.4h7.0" stroke="#2f3a97" stroke-width="2.0" fill="none"/>
<circle cx="847.06" cy="2091.72" r="4.30" fill="#2f3a97"/>
<path d="M868.6 2063.0V2100.2M865.1 2063.0h7.0M865.1 2100.2h7.0" stroke="#2f3a97" stroke-width="2.0" fill="none"/>
<circle cx="868.60" cy="2081.57" r="4.30" fill="#2f3a97"/>
<polyline points="653.20,2113.87 674.74,2113.03 696.28,2111.34 717.82,2108.80 739.36,2106.26 760.90,2103.72 782.44,2098.48 803.98,2090.87 825.52,2080.55 847.06,2065.84 868.60,2034.38" fill="none" stroke="#e8242b" stroke-width="2.2" stroke-linejoin="miter"/>
<path d="M653.2 2113.0V2114.7M649.7 2113.0h7.0M649.7 2114.7h7.0" stroke="#e8242b" stroke-width="2.0" fill="none"/>
<circle cx="653.20" cy="2113.87" r="4.30" fill="#e8242b"/>
<path d="M674.7 2112.2V2113.9M671.2 2112.2h7.0M671.2 2113.9h7.0" stroke="#e8242b" stroke-width="2.0" fill="none"/>
<circle cx="674.74" cy="2113.03" r="4.30" fill="#e8242b"/>
<path d="M696.3 2110.5V2112.2M692.8 2110.5h7.0M692.8 2112.2h7.0" stroke="#e8242b" stroke-width="2.0" fill="none"/>
<circle cx="696.28" cy="2111.34" r="4.30" fill="#e8242b"/>
<path d="M717.8 2108.0V2109.6M714.3 2108.0h7.0M714.3 2109.6h7.0" stroke="#e8242b" stroke-width="2.0" fill="none"/>
<circle cx="717.82" cy="2108.80" r="4.30" fill="#e8242b"/>
<path d="M739.4 2104.9V2107.6M735.9 2104.9h7.0M735.9 2107.6h7.0" stroke="#e8242b" stroke-width="2.0" fill="none"/>
<circle cx="739.36" cy="2106.26" r="4.30" fill="#e8242b"/>
<path d="M760.9 2102.0V2105.4M757.4 2102.0h7.0M757.4 2105.4h7.0" stroke="#e8242b" stroke-width="2.0" fill="none"/>
<circle cx="760.90" cy="2103.72" r="4.30" fill="#e8242b"/>
<path d="M782.4 2095.9V2101.0M778.9 2095.9h7.0M778.9 2101.0h7.0" stroke="#e8242b" stroke-width="2.0" fill="none"/>
<circle cx="782.44" cy="2098.48" r="4.30" fill="#e8242b"/>
<path d="M804.0 2085.8V2095.9M800.5 2085.8h7.0M800.5 2095.9h7.0" stroke="#e8242b" stroke-width="2.0" fill="none"/>
<circle cx="803.98" cy="2090.87" r="4.30" fill="#e8242b"/>
<path d="M825.5 2072.1V2089.0M822.0 2072.1h7.0M822.0 2089.0h7.0" stroke="#e8242b" stroke-width="2.0" fill="none"/>
<circle cx="825.52" cy="2080.55" r="4.30" fill="#e8242b"/>
<path d="M847.1 2047.2V2084.4M843.6 2047.2h7.0M843.6 2084.4h7.0" stroke="#e8242b" stroke-width="2.0" fill="none"/>
<circle cx="847.06" cy="2065.84" r="4.30" fill="#e8242b"/>
<path d="M868.6 2000.6V2068.2M865.1 2000.6h7.0M865.1 2068.2h7.0" stroke="#e8242b" stroke-width="2.0" fill="none"/>
<circle cx="868.60" cy="2034.38" r="4.30" fill="#e8242b"/>
<polyline points="653.20,2113.87 674.74,2112.52 696.28,2110.49 717.82,2107.95 739.36,2105.58 760.90,2102.88 782.44,2096.96 803.98,2088.16 825.52,2075.48 847.06,2053.49 868.60,2013.41" fill="none" stroke="#000" stroke-width="2.2" stroke-linejoin="miter"/>
<path d="M653.2 2113.0V2114.7M649.7 2113.0h7.0M649.7 2114.7h7.0" stroke="#000" stroke-width="2.0" fill="none"/>
<circle cx="653.20" cy="2113.87" r="4.30" fill="#000"/>
<path d="M674.7 2111.7V2113.4M671.2 2111.7h7.0M671.2 2113.4h7.0" stroke="#000" stroke-width="2.0" fill="none"/>
<circle cx="674.74" cy="2112.52" r="4.30" fill="#000"/>
<path d="M696.3 2109.6V2111.3M692.8 2109.6h7.0M692.8 2111.3h7.0" stroke="#000" stroke-width="2.0" fill="none"/>
<circle cx="696.28" cy="2110.49" r="4.30" fill="#000"/>
<path d="M717.8 2107.1V2108.8M714.3 2107.1h7.0M714.3 2108.8h7.0" stroke="#000" stroke-width="2.0" fill="none"/>
<circle cx="717.82" cy="2107.95" r="4.30" fill="#000"/>
<path d="M739.4 2104.2V2106.9M735.9 2104.2h7.0M735.9 2106.9h7.0" stroke="#000" stroke-width="2.0" fill="none"/>
<circle cx="739.36" cy="2105.58" r="4.30" fill="#000"/>
<path d="M760.9 2101.2V2104.6M757.4 2101.2h7.0M757.4 2104.6h7.0" stroke="#000" stroke-width="2.0" fill="none"/>
<circle cx="760.90" cy="2102.88" r="4.30" fill="#000"/>
<path d="M782.4 2093.6V2100.3M778.9 2093.6h7.0M778.9 2100.3h7.0" stroke="#000" stroke-width="2.0" fill="none"/>
<circle cx="782.44" cy="2096.96" r="4.30" fill="#000"/>
<path d="M804.0 2081.4V2094.9M800.5 2081.4h7.0M800.5 2094.9h7.0" stroke="#000" stroke-width="2.0" fill="none"/>
<circle cx="803.98" cy="2088.16" r="4.30" fill="#000"/>
<path d="M825.5 2065.3V2085.6M822.0 2065.3h7.0M822.0 2085.6h7.0" stroke="#000" stroke-width="2.0" fill="none"/>
<circle cx="825.52" cy="2075.48" r="4.30" fill="#000"/>
<path d="M847.1 2040.0V2067.0M843.6 2040.0h7.0M843.6 2067.0h7.0" stroke="#000" stroke-width="2.0" fill="none"/>
<circle cx="847.06" cy="2053.49" r="4.30" fill="#000"/>
<path d="M868.6 1988.0V2038.8M865.1 1988.0h7.0M865.1 2038.8h7.0" stroke="#000" stroke-width="2.0" fill="none"/>
<circle cx="868.60" cy="2013.41" r="4.30" fill="#000"/>
<path d="M642.2 1982.8L642.2 2121.9" stroke="#000" stroke-width="3.0"/>
<path d="M634.2 2120.4L880.5 2120.4" stroke="#000" stroke-width="3.0"/>
<path d="M634.2 2118.1L642.2 2118.1" stroke="#000" stroke-width="3.0"/>
<text x="633.20" y="2118.10" font-size="19.2" dy="6.87" text-anchor="end" stroke="#000" stroke-width="0.22">0</text>
<path d="M634.2 2084.3L642.2 2084.3" stroke="#000" stroke-width="3.0"/>
<text x="633.20" y="2084.28" font-size="19.2" dy="6.87" text-anchor="end" stroke="#000" stroke-width="0.22">200</text>
<path d="M634.2 2050.4L642.2 2050.4" stroke="#000" stroke-width="3.0"/>
<text x="633.20" y="2050.45" font-size="19.2" dy="6.87" text-anchor="end" stroke="#000" stroke-width="0.22">400</text>
<path d="M634.2 2016.6L642.2 2016.6" stroke="#000" stroke-width="3.0"/>
<text x="633.20" y="2016.62" font-size="19.2" dy="6.87" text-anchor="end" stroke="#000" stroke-width="0.22">600</text>
<path d="M634.2 1982.8L642.2 1982.8" stroke="#000" stroke-width="3.0"/>
<text x="633.20" y="1982.80" font-size="19.2" dy="6.87" text-anchor="end" stroke="#000" stroke-width="0.22">800</text>
<path d="M653.2 2120.4L653.2 2128.4" stroke="#000" stroke-width="3.0"/>
<text x="658.20" y="2135.40" font-size="19.2" dy="6.87" text-anchor="end" stroke="#000" stroke-width="0.22" transform="rotate(-45 658.20 2135.40)">8</text>
<path d="M696.3 2120.4L696.3 2128.4" stroke="#000" stroke-width="3.0"/>
<text x="701.28" y="2135.40" font-size="19.2" dy="6.87" text-anchor="end" stroke="#000" stroke-width="0.22" transform="rotate(-45 701.28 2135.40)">12</text>
<path d="M739.4 2120.4L739.4 2128.4" stroke="#000" stroke-width="3.0"/>
<text x="744.36" y="2135.40" font-size="19.2" dy="6.87" text-anchor="end" stroke="#000" stroke-width="0.22" transform="rotate(-45 744.36 2135.40)">16</text>
<path d="M782.4 2120.4L782.4 2128.4" stroke="#000" stroke-width="3.0"/>
<text x="787.44" y="2135.40" font-size="19.2" dy="6.87" text-anchor="end" stroke="#000" stroke-width="0.22" transform="rotate(-45 787.44 2135.40)">20</text>
<path d="M825.5 2120.4L825.5 2128.4" stroke="#000" stroke-width="3.0"/>
<text x="830.52" y="2135.40" font-size="19.2" dy="6.87" text-anchor="end" stroke="#000" stroke-width="0.22" transform="rotate(-45 830.52 2135.40)">24</text>
<path d="M868.6 2120.4L868.6 2128.4" stroke="#000" stroke-width="3.0"/>
<text x="873.60" y="2135.40" font-size="19.2" dy="6.87" text-anchor="end" stroke="#000" stroke-width="0.22" transform="rotate(-45 873.60 2135.40)">28</text>
<path d="M652.0 1945.2L678.7 1945.2" stroke="#000" stroke-width="2.2"/>
<circle cx="665.35" cy="1945.20" r="4.30" fill="#000"/>
<text x="694.80" y="1945.20" font-size="18.8" dy="6.73" stroke="#000" stroke-width="0.22">PBS</text>
<path d="M652.0 1970.0L678.7 1970.0" stroke="#e8242b" stroke-width="2.2"/>
<circle cx="665.35" cy="1970.00" r="4.30" fill="#e8242b"/>
<text x="694.80" y="1970.00" font-size="18.8" dy="6.73" stroke="#000" stroke-width="0.22">Cetuximab</text>
<path d="M652.0 1994.8L678.7 1994.8" stroke="#2f3a97" stroke-width="2.2"/>
<circle cx="665.35" cy="1994.80" r="4.30" fill="#2f3a97"/>
<text x="694.80" y="1994.80" font-size="18.8" dy="6.73" stroke="#000" stroke-width="0.22">3-BP</text>
<path d="M652.0 2021.8L678.7 2021.8" stroke="#3db54a" stroke-width="2.2"/>
<circle cx="665.35" cy="2021.80" r="4.30" fill="#3db54a"/>
<text x="694.80" y="2021.80" font-size="18.8" dy="6.73" stroke="#000" stroke-width="0.22">3-BP+Cetuximab</text>
<text x="584.30" y="2053.00" font-size="19.5" dy="6.98" text-anchor="middle" stroke="#000" stroke-width="0.22" transform="rotate(-90 584.30 2053.00)">Tumor volume(mm<tspan dy="-7.02" font-size="13.65">3</tspan><tspan dy="7.02">)</tspan></text>
<text x="740.40" y="2171.70" font-size="19.5" dy="6.98" text-anchor="middle" stroke="#000" stroke-width="0.22">Time(days)</text>
<path d="M650.7 2107.1L746.4 2095.6" stroke="#000" stroke-width="2.0"/>
<text x="699.20" y="2091.80" font-size="21" dy="7.52" text-anchor="middle" stroke="#000" stroke-width="0.22">ns</text>
<text x="760.50" y="2105.22" font-size="21.5" text-anchor="middle" stroke="#000" stroke-width="0.22" letter-spacing="1.5">**</text>
<text x="784.70" y="2098.02" font-size="21.5" text-anchor="middle" stroke="#000" stroke-width="0.22" letter-spacing="1.5">**</text>
<text x="803.90" y="2085.22" font-size="21.5" text-anchor="middle" stroke="#000" stroke-width="0.22" letter-spacing="1.5">*</text>
<text x="825.60" y="2069.42" font-size="21.5" text-anchor="middle" stroke="#000" stroke-width="0.22" letter-spacing="1.5">*</text>
<text x="847.30" y="2127.32" font-size="21.5" text-anchor="middle" stroke="#000" stroke-width="0.22" letter-spacing="1.5">*</text>
<text x="867.70" y="2125.32" font-size="21.5" text-anchor="middle" stroke="#000" stroke-width="0.22" letter-spacing="1.5">*</text>
<polyline points="878.70,2010.90 878.70,2010.90 878.70,2084.90 878.70,2084.90" fill="none" stroke="#000" stroke-width="1.8" stroke-linejoin="miter"/>
<polyline points="879.80,2044.00 884.80,2044.00 884.80,2105.40 879.80,2105.40" fill="none" stroke="#000" stroke-width="1.8" stroke-linejoin="miter"/>
<polygon points="1039.80,2035.50 1051.80,2035.50 1045.80,2024.70" fill="#000"/>
<polygon points="1053.80,2035.50 1065.80,2035.50 1059.80,2024.70" fill="#000"/>
<polygon points="1046.80,2057.67 1058.80,2057.67 1052.80,2046.87" fill="#000"/>
<polygon points="1053.80,2068.76 1065.80,2068.76 1059.80,2057.96" fill="#000"/>
<polygon points="1042.80,2078.00 1054.80,2078.00 1048.80,2067.20" fill="#000"/>
<path d="M1040.3 2049.5L1065.3 2049.5" stroke="#000" stroke-width="2.0"/>
<path d="M1052.8 2031.0V2068.0M1046.8 2031.0h12.0M1046.8 2068.0h12.0" stroke="#000" stroke-width="1.8" fill="none"/>
<polygon points="1086.20,2079.85 1098.20,2079.85 1092.20,2069.05" fill="#4253a8"/>
<polygon points="1079.20,2099.25 1091.20,2099.25 1085.20,2088.45" fill="#4253a8"/>
<polygon points="1093.20,2101.10 1105.20,2101.10 1099.20,2090.30" fill="#4253a8"/>
<polygon points="1082.20,2105.72 1094.20,2105.72 1088.20,2094.92" fill="#4253a8"/>
<polygon points="1090.20,2110.34 1102.20,2110.34 1096.20,2099.54" fill="#4253a8"/>
<path d="M1079.7 2093.9L1104.7 2093.9" stroke="#000" stroke-width="2.0"/>
<path d="M1092.2 2082.8V2104.9M1086.2 2082.8h12.0M1086.2 2104.9h12.0" stroke="#4253a8" stroke-width="1.8" fill="none"/>
<polygon points="1125.60,2044.74 1137.60,2044.74 1131.60,2033.94" fill="#e8242b"/>
<polygon points="1118.60,2072.46 1130.60,2072.46 1124.60,2061.66" fill="#e8242b"/>
<polygon points="1132.60,2074.30 1144.60,2074.30 1138.60,2063.50" fill="#e8242b"/>
<polygon points="1121.60,2085.39 1133.60,2085.39 1127.60,2074.59" fill="#e8242b"/>
<polygon points="1129.60,2086.32 1141.60,2086.32 1135.60,2075.52" fill="#e8242b"/>
<path d="M1119.1 2067.5L1144.1 2067.5" stroke="#000" stroke-width="2.0"/>
<path d="M1131.6 2050.0V2085.1M1125.6 2050.0h12.0M1125.6 2085.1h12.0" stroke="#e8242b" stroke-width="1.8" fill="none"/>
<polygon points="1158.00,2110.34 1170.00,2110.34 1164.00,2099.54" fill="#2fb34a"/>
<polygon points="1172.00,2110.34 1184.00,2110.34 1178.00,2099.54" fill="#2fb34a"/>
<polygon points="1165.00,2116.81 1177.00,2116.81 1171.00,2106.01" fill="#2fb34a"/>
<polygon points="1161.00,2117.73 1173.00,2117.73 1167.00,2106.93" fill="#2fb34a"/>
<polygon points="1169.00,2118.66 1181.00,2118.66 1175.00,2107.86" fill="#2fb34a"/>
<path d="M1158.5 2109.6L1183.5 2109.6" stroke="#000" stroke-width="2.0"/>
<path d="M1026.7 1979.8L1026.7 2120.3" stroke="#000" stroke-width="3.0"/>
<path d="M1018.7 2118.8L1197.9 2118.8" stroke="#000" stroke-width="3.0"/>
<path d="M1018.7 2118.8L1026.7 2118.8" stroke="#000" stroke-width="3.0"/>
<text x="1016.20" y="2118.80" font-size="18.4" dy="6.59" text-anchor="end" stroke="#000" stroke-width="0.22">0</text>
<path d="M1018.7 2072.6L1026.7 2072.6" stroke="#000" stroke-width="3.0"/>
<text x="1016.20" y="2072.60" font-size="18.4" dy="6.59" text-anchor="end" stroke="#000" stroke-width="0.22">500</text>
<path d="M1018.7 2026.4L1026.7 2026.4" stroke="#000" stroke-width="3.0"/>
<text x="1016.20" y="2026.40" font-size="18.4" dy="6.59" text-anchor="end" stroke="#000" stroke-width="0.22">1000</text>
<path d="M1018.7 1980.2L1026.7 1980.2" stroke="#000" stroke-width="3.0"/>
<text x="1016.20" y="1980.20" font-size="18.4" dy="6.59" text-anchor="end" stroke="#000" stroke-width="0.22">1500</text>
<path d="M1052.8 2118.8L1052.8 2126.8" stroke="#000" stroke-width="3.0"/>
<path d="M1092.2 2118.8L1092.2 2126.8" stroke="#000" stroke-width="3.0"/>
<path d="M1131.6 2118.8L1131.6 2126.8" stroke="#000" stroke-width="3.0"/>
<path d="M1171.0 2118.8L1171.0 2126.8" stroke="#000" stroke-width="3.0"/>
<path d="M1043.9 2009.6L1137.7 2009.6" stroke="#000" stroke-width="2.0"/>
<polyline points="1090.50,2009.60 1090.50,2000.60 1174.30,2000.60 1174.30,2083.70" fill="none" stroke="#000" stroke-width="2.0" stroke-linejoin="miter"/>
<text x="1093.00" y="1993.10" font-size="18" stroke="#000" stroke-width="0.22">P&lt;0.0268</text>
<polygon points="1204.00,2012.10 1216.00,2012.10 1210.00,2001.30" fill="#000"/>
<text x="1238.00" y="2006.70" font-size="18.7" dy="6.69" stroke="#000" stroke-width="0.22">PBS</text>
<polygon points="1204.00,2041.50 1216.00,2041.50 1210.00,2030.70" fill="#4253a8"/>
<text x="1238.00" y="2036.10" font-size="18.7" dy="6.69" stroke="#000" stroke-width="0.22">3-BP</text>
<polygon points="1204.00,2071.90 1216.00,2071.90 1210.00,2061.10" fill="#e8242b"/>
<text x="1238.00" y="2066.50" font-size="18.7" dy="6.69" stroke="#000" stroke-width="0.22">Cetuximab</text>
<polygon points="1204.00,2102.40 1216.00,2102.40 1210.00,2091.60" fill="#2fb34a"/>
<text x="1238.00" y="2097.00" font-size="18.7" dy="6.69" stroke="#000" stroke-width="0.22">3-BP+Cetuximab</text>
<text x="958.00" y="2050.60" font-size="19.9" dy="7.12" text-anchor="middle" stroke="#000" stroke-width="0.22" transform="rotate(-90 958.00 2050.60)" textLength="147" lengthAdjust="spacingAndGlyphs">Tumor weight(mg)</text>
</svg></body></html>
